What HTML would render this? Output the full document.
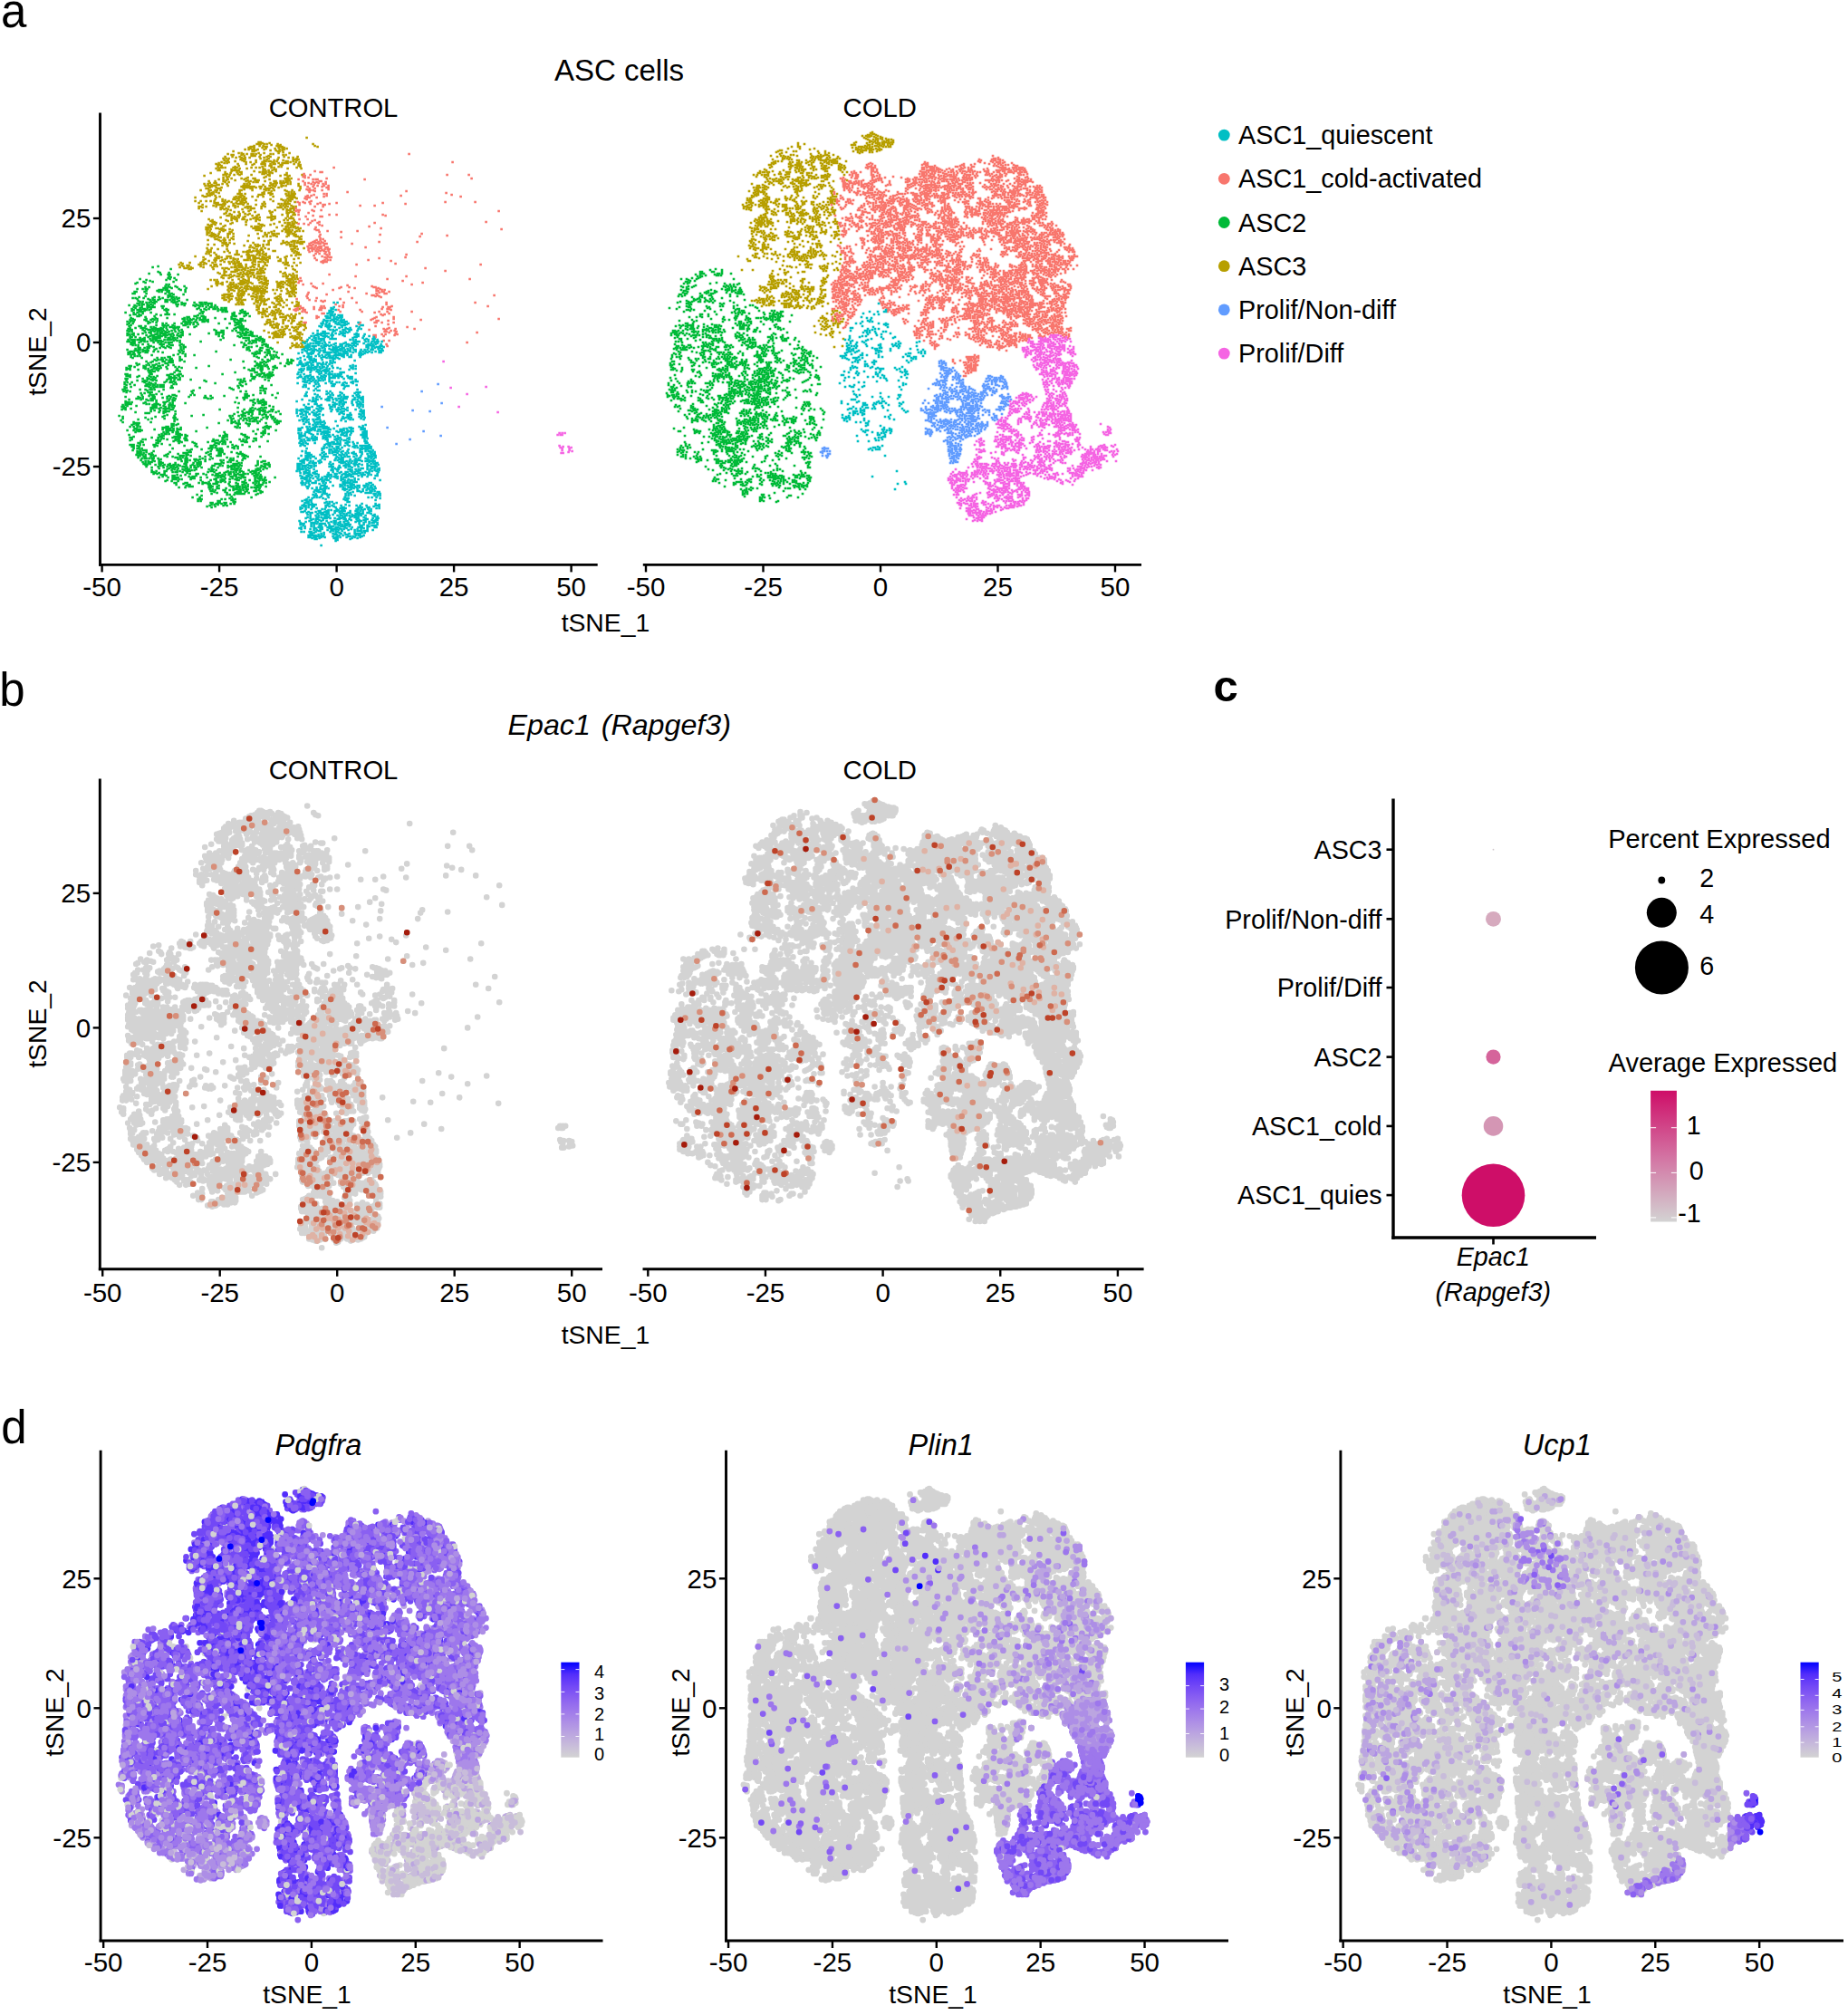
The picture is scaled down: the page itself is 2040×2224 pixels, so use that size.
<!DOCTYPE html>
<html lang="en"><head><meta charset="utf-8"><title>ASC cells tSNE figure</title>
<style>html,body{margin:0;padding:0;background:#fff}svg{display:block}text{font-family:"Liberation Sans",sans-serif;fill:#000}</style></head><body>
<svg width="2040" height="2224" viewBox="0 0 2040 2224">
<rect width="2040" height="2224" fill="#fff"/>
<defs>
<path id="C0" vector-effect="non-scaling-stroke" d="M-3 -44h0m4 0h0m5 14h0m-4 0h0m2 0h0m-7-9h0m-3 1h0m2 1h0m3 1h0m-5 0h0m-2 1h0m4 1h0m-2 0h0m-2 1h0m-2 1h0m5 0h0m3 1h0m-5 0h0m2 1h0m2 1h0m-4 0h0m-5 0h0m2 0h0m-5 6h0m0 2h0m-2 0h0m1 2h0m-3 1h0m2 1h0m8 2h0m7-2h0m-6 0h0m-2 0h0m-2-1h0m6 0h0m-4-1h0m2 0h0m-4-1h0m4-1h0m7 0h0m-10-1h0m10-1h0m-2 0h0m-4-1h0m-3 0h0m-2 0h0m-2-1h0m11 0h0m-2 0h0m4-1h0m-6-1h0m4 0h0m-8 0h0m2 0h0m9-1h0m4 0h0m2 0h0m-4 1h0m3 1h0m3 1h0m-7 0h0m5 1h0m-2 0h0m5 1h0m2 0h0m-4 1h0m-2 0h0m-3 0h0m7 1h0m4 0h0m-10 1h0m8 0h0m-10 0h0m6 1h0m-2 0h0m4 0h0m-3 2h0m-3 1h0m7 0h0m2 1h0m15 0h0m-3 0h0m-9-1h0m10-1h0m-3-1h0m5-1h0m-3-3h0m5 3h0m13 15h0m3 1h0m5 2h0m-6 0h0m2 0h0m-11 0h0m4 0h0m-7 0h0m9-1h0m-10-1h0m4 0h0m5-1h0m-7 0h0m-4-1h0m12-1h0m-5-1h0m-6 0h0m1-2h0m-17-5h0m2 0h0m7 1h0m-9 1h0m8 2h0m-2 1h0m4 0h0m-2 1h0m2 1h0m-2 1h0m-2 0h0m-2 1h0m-3 2h0m3 0h0m3 0h0m2 2h0m2 0h0m-4 0h0m-2 0h0m-10-6h0m-2-1h0m-4-1h0m4-1h0m2 0h0m-4 0h0m7-1h0m-8-1h0m6 0h0m-3 0h0m-7-2h0m7 0h0m2 0h0m-16 0h0m3 0h0m2 1h0m-11 1h0m9 0h0m-1 2h0m4 0h0m-8 0h0m-4 0h0m2 0h0m5 2h0m2 0h0m-9 0h0m2 1h0m-2 1h0m8 0h0m-4 0h0m2 2h0m2 0h0m2 0h0m2 0h0m-13 0h0m0 2h0m-7 1h0m2 0h0m-4 0h0m6-1h0m-8 0h0m-2-1h0m4 0h0m3-1h0m4 0h0m-2 0h0m-5-1h0m-2 0h0m5-1h0m-5-1h0m10 0h0m-13 0h0m11-1h0m-4 0h0m-2 0h0m4-1h0m-7-1h0m9 0h0m-4 0h0m6 0h0m0-2h0m-6-1h0m-9 8h0m-2 2h0m-1 2h0m-9 13h0m12 0h0m-2 0h0m-6-1h0m5-1h0m-2-1h0m-3-1h0m8 0h0m-2 0h0m-4-1h0m4-1h0m-2 0h0m4-1h0m-2-1h0m-2 0h0m4-1h0m-2-1h0m3-1h0m-6 0h0m-2-1h0m11 1h0m7 0h0m3 0h0m-7 0h0m2 0h0m1 2h0m-3 1h0m6 0h0m-8 0h0m-2 0h0m2 2h0m9 0h0m-12 1h0m9 0h0m-6 1h0m2 0h0m5 1h0m3 0h0m-12 0h0m6 0h0m-4 1h0m6 1h0m-9 0h0m2 1h0m6 1h0m-8 0h0m18 0h0m2 0h0m7-1h0m-9-1h0m7 0h0m-9 0h0m-2 0h0m8 0h0m-2 0h0m7-1h0m-12-1h0m9 0h0m2-1h0m-4 0h0m2-1h0m-4 0h0m-5 0h0m11-1h0m-2-1h0m-10 0h0m2-1h0m4 0h0m7 0h0m-13-1h0m4 0h0m4 0h0m-6-1h0m9 0h0m2-1h0m-7-1h0m-5 0h0m23 0h0m-2 1h0m5 1h0m-2 0h0m-5 0h0m-2 0h0m0 2h0m9 0h0m-3 0h0m-4 0h0m-4 1h0m4 1h0m2 0h0m-8 0h0m12 1h0m-8 0h0m-2 1h0m4 0h0m3 0h0m-9 0h0m4 1h0m9 0h0m-6 1h0m-6 0h0m10 0h0m-2 0h0m3 2h0m-4 0h0m-6 0h0m8 0h0m-6 0h0m2 1h0m21-1h0m-2 0h0m-7-1h0m8-1h0m-11 0h0m6 0h0m6-2h0m-8 0h0m2 0h0m-6 0h0m3-2h0m-3 0h0m2-2h0m4 0h0m-2-1h0m-4 0h0m8-1h0m-6-1h0m4 0h0m-2 0h0m19 0h0m-8 0h0m10 1h0m-5 0h0m2 1h0m-4 0h0m8 1h0m-2 0h0m-4 0h0m-2 1h0m6 1h0m-4 0h0m-4 2h0m3 0h0m4 0h0m2 0h0m-11 2h0m7 0h0m-4 0h0m2 1h0m5 0h0m-8 1h0m-2 1h0m18-2h0m2 0h0m-6-1h0m8-1h0m-2 0h0m-2 0h0m-1-2h0m4 0h0m-2-1h0m-6 0h0m10-1h0m-6 0h0m-2 0h0m6-1h0m-2 0h0m-5-2h0m6 0h0m-4-1h0m-3-1h0m-17 14h0m2 0h0m-11 0h0m10 2h0m-12 0h0m2 0h0m4 4h0m-2 5h0m3 1h0m-6 0h0m3 1h0m-15-9h0m-2-1h0m7-1h0m-2-1h0m-2-1h0m-4 0h0m8 0h0m4 0h0m-10 0h0m-14 0h0m10 0h0m-2 1h0m-5 0h0m2 0h0m-6 1h0m12 0h0m-10 1h0m3 0h0m2 0h0m2 0h0m2 1h0m-2 1h0m-3 1h0m3 1h0m2 1h0m-9 0h0m4 0h0m2 1h0m-7 1h0m4 0h0m3 2h0m-5 0h0m-4 1h0m-8 0h0m-6 0h0m4 0h0m5 0h0m3-1h0m-10-1h0m5 0h0m-7 0h0m13-1h0m-2 0h0m-4-1h0m2 0h0m-9 0h0m13-1h0m-11 0h0m3-1h0m-2-1h0m-2 0h0m11-1h0m-7 0h0m-2-1h0m-3 0h0m11-1h0m2-1h0m-13 0h0m5-1h0m4 0h0m3-1h0m-15 0h0m-5 1h0m6 1h0m-2 0h0m-8 1h0m10 1h0m-5 1h0m-5 1h0m11 0h0m-1 2h0m-9 0h0m-2 0h0m9 0h0m-2 1h0m-3 1h0m-4 0h0m2 0h0m7 0h0m-2 1h0m3 1h0m-5 0h0m-2 0h0m-5-1h0m0-7h0m0 17h0m0 4h0m13 1h0m-5 0h0m-2 0h0m5-1h0m-7-1h0m4 0h0m-6 0h0m8-1h0m2 0h0m-9-1h0m11 0h0m-7-1h0m7-2h0m-10 0h0m-3 0h0m3-2h0m2 0h0m-4-1h0m9 0h0m2 0h0m-6-1h0m-3 0h0m9-1h0m-2 0h0m6 0h0m10 0h0m-2 1h0m-10 0h0m5 0h0m-2 1h0m4 0h0m6 1h0m-13 0h0m9 0h0m-3 1h0m5 0h0m-3 1h0m3 1h0m-2 1h0m2 2h0m-4 1h0m6 0h0m-11 0h0m-2 0h0m10 1h0m-7 1h0m9 0h0m-12 0h0m8 0h0m12 1h0m-5 0h0m9-2h0m-9 0h0m5 0h0m6 0h0m-4 0h0m-6-2h0m4 0h0m4 0h0m2 0h0m-12-1h0m7-1h0m-2 0h0m4 0h0m3 0h0m-10-1h0m4-1h0m3-1h0m-6 0h0m-2 0h0m4-1h0m-2-1h0m-2 0h0m5-1h0m-3-1h0m7 0h0m5 0h0m3 1h0m2 4h0m-2 0h0m4 0h0m-7 2h0m2 0h0m2 0h0m7 2h0m-12 0h0m4 0h0m-2 0h0m4 1h0m-4 1h0m11 0h0m-5 1h0m13 1h0m-6-1h0m2 0h0m0-2h0m-2 0h0m6-4h0m-7-4h0m7-1h0m-3 0h0m-2-1h0m7 15h0m-2 0h0m-3 0h0m-2 1h0m2 1h0m4 2h0m1 5h0m-1 3h0m4 0h0m-2 0h0m-20 0h0m4-4h0m1-2h0m2-1h0m2 0h0m-5-1h0m-2 0h0m5-2h0m-4 0h0m-4-1h0m-3 0h0m9 0h0m-14-1h0m-3 0h0m-4 2h0m6 0h0m2 1h0m2 0h0m-3 2h0m2 0h0m-8 6h0m4 0h0m-18-1h0m4 0h0m2 0h0m-4-2h0m2-2h0m-4-1h0m6 0h0m-1-2h0m-3 0h0m-1-2h0m3 0h0m-7-1h0m8-1h0m5 0h0m-3 0h0m-8 0h0m3 0h0m-9 0h0m2 0h0m-5 0h0m-2 1h0m2 1h0m2 0h0m3 1h0m-4 2h0m-2 0h0m-1 2h0m3 0h0m3 2h0m-2 4h0m-10-10h0m-1 20h0m8 4h0m5-1h0m1-4h0m-8-1h0m5-4h0m-2 0h0m1-2h0m10 0h0m3 1h0m-1 2h0m3 0h0m-7 1h0m3 1h0m6 0h0m-9 1h0m5 0h0m-2 1h0m-2 1h0m-2 0h0m4 1h0m-1 2h0m2 0h0m5 1h0m13 0h0m2 0h0m-6 0h0m6-2h0m-2-1h0m-4-2h0m-2 0h0m-2-1h0m8 0h0m3-1h0m-7 0h0m-2 0h0m5-1h0m-2-1h0m-2 0h0m5-2h0m-3 0h0m-4-1h0m2-1h0m4 0h0m11 0h0m2 2h0m-4 0h0m-2 1h0m3 1h0m3 0h0m2 0h0m2 0h0m-1 2h0m-7 0h0m-2 0h0m5 0h0m2 0h0m-4 2h0m-5 0h0m7 0h0m-4 1h0m2 1h0m3 0h0m2 0h0m-7 1h0m-3 1h0m6 0h0m2 0h0m-5 1h0m15 0h0m9-1h0m-2 0h0m-2 0h0m-6-1h0m5-1h0m4 0h0m-9-1h0m7 0h0m-1-2h0m-5 0h0m2 0h0m7 0h0m0-2h0m-2 0h0m-5 0h0m3-1h0m2-1h0m-7 0h0m4-1h0m2-1h0m-4-1h0m9 4h0m0 2h0m0 2h0m0 2h0m0 3h0m2 14h0m-3-1h0m2-1h0m0-2h0m-2-1h0m2-1h0m-2-1h0m2-1h0m-1-4h0m-3-1h0m-3 0h0m2 2h0m-4 2h0m6 0h0m-1 2h0m-11 2h0m10 1h0m2 1h0m-13 0h0m2 0h0m9 2h0m-11 0h0m2 1h0m-6 0h0m-3-1h0m5 0h0m0-2h0m-9-1h0m5 0h0m-2-1h0m-2-1h0m4-1h0m-2 0h0m-5 0h0m11-1h0m-10-1h0m-2 0h0m10 0h0m-6 0h0m2-1h0m2 0h0m-6-1h0m10 0h0m-7-1h0m2-1h0m-9 1h0m-3 0h0m-2 0h0m0 2h0m2 1h0m-1 2h0m-15 7h0m2-1h0m-4-1h0m8-1h0m-6 0h0m-4 0h0m6-1h0m-4 0h0m-2-1h0m3-1h0m-5 0h0m7-1h0m2 0h0m-7-1h0m8-1h0m-3 0h0m-2-1h0m7 0h0m-4-1h0m2 0h0m-10-1h0m8-1h0m-2 0h0m-13 1h0m4 1h0m-2 0h0m-2 1h0m4 1h0m-9 0h0m2 0h0m5 0h0m-9 1h0m2 1h0m3 0h0m2 0h0m2 1h0m-6 1h0m4 0h0m4 1h0m-10 0h0m6 1h0m-3 0h0m4 2h0m-6 0h0m3 1h0m-7-2h0m-1-3h0m0-2h0m0-2h0m12 23h0m-8 0h0m-2 0h0m12-1h0m-2-1h0m-8 0h0m-2 0h0m4-1h0m8-1h0m-3 0h0m-3-3h0m6 0h0m-4-2h0m3 0h0m-6-1h0m-4-1h0m8 0h0m2-1h0m-7 0h0m2 0h0m2-1h0m15 0h0m-7 1h0m3 0h0m2 0h0m3 1h0m-7 1h0m3 1h0m6 0h0m-4 0h0m2 0h0m-6 1h0m6 1h0m-3 0h0m-5 1h0m3 0h0m7 0h0m-6 2h0m3 0h0m-5 0h0m7 0h0m2 0h0m-11 1h0m-2 1h0m13 0h0m-9 0h0m6 1h0m-8 0h0m6 0h0m-8 1h0m4 0h0m17-1h0m-2 0h0m6-1h0m-10 0h0m2 0h0m2-1h0m-4-1h0m2 0h0m-3-2h0m1-2h0m-1-2h0m13 0h0m14-3h0m-7 0h0m2 0h0m-3 2h0m5 1h0m-9 5h0m10 3h0m-3 0h0m-4 1h0m2 0h0m2 1h0m4 0h0m15-1h0m-11 0h0m2-1h0m9-1h0m-13 0h0m2 0h0m9-1h0m-7-8h0m-3 0h0m12-1h0m3 1h0m2 6h0m-3 1h0m0 2h0m2 1h0m-2 1h0m2 1h0m3 14h0m-2 0h0m-1-2h0m2 0h0m-2-2h0m3-1h0m-5-1h0m2 0h0m2-1h0m-2-1h0m-2 0h0m4-1h0m-2-1h0m-2 0h0m4-1h0m-4-1h0m2 0h0m2-1h0m-19 0h0m2 0h0m2 0h0m-2 2h0m-1 2h0m12 0h0m-13 3h0m0 2h0m4 3h0m-4 0h0m9 1h0m-19 0h0m8 0h0m-2 0h0m-9-1h0m3-1h0m8 0h0m-12-1h0m10 0h0m-2 0h0m-3-1h0m-3 0h0m-2-1h0m12 0h0m-10-1h0m2 0h0m-3-2h0m8 0h0m2 0h0m-6-1h0m2 0h0m4-1h0m-5-1h0m2 0h0m2-1h0m-8 0h0m10 0h0m-6-1h0m-2 0h0m-4 0h0m-12 0h0m2 0h0m-4 0h0m6 1h0m-4 1h0m2 0h0m-4 0h0m10 2h0m-6 0h0m-4 0h0m6 0h0m-4 1h0m5 1h0m5 0h0m-7 0h0m-2 1h0m-2 0h0m3 2h0m8 0h0m-10 0h0m2 2h0m5 1h0m2 0h0m-6 1h0m2 0h0m-17 0h0m-2-3h0m2 0h0m2-1h0m7-1h0m-9 0h0m-2 0h0m-2 0h0m6-1h0m-2-1h0m-3 0h0m12 0h0m-11-2h0m9-1h0m-11 0h0m7 0h0m5-2h0m-5-1h0m3 0h0m-12 0h0m-2 1h0m-2 0h0m-8 1h0m12 0h0m-9 0h0m4 1h0m-4 1h0m-2 0h0m6 1h0m-2 0h0m-4 1h0m2 0h0m6 1h0m2 1h0m-10 0h0m5 1h0m-3 0h0m7 1h0m2 0h0m-10 1h0m5 0h0m-3 0h0m4 2h0m-3 0h0m-4 0h0m2 14h0m5 0h0m2-1h0m2 0h0m0-2h0m-2 0h0m-2 0h0m-4-2h0m4 0h0m1-3h0m-2-3h0m-5 0h0m3-1h0m5-1h0m-7 0h0m23 5h0m0 2h0m0 3h0m-2 2h0m-10 0h0m27 0h0m-2 0h0m-11 0h0m2-1h0m4-1h0m3 0h0m2-1h0m2 0h0m-13 0h0m9-1h0m-3 0h0m6-1h0m-6-1h0m2 0h0m3-1h0m-11 0h0m3-1h0m6-1h0m-3 0h0m-6 0h0m1-2h0m4 0h0m2 0h0m5-1h0m-9 0h0m7 0h0m6 0h0m-2 0h0m4 1h0m8 0h0m-3 1h0m-9 1h0m2 0h0m4 1h0m-4 1h0m-2 0h0m4 1h0m9 0h0m-13 1h0m2 1h0m10 0h0m-5 0h0m-2 1h0m5 1h0m-9 0h0m12 0h0m-7 1h0m-3 1h0m8 0h0m-3 0h0m-3 1h0m17 0h0m5 0h0m-6-2h0m-2 0h0m-2-1h0m2-1h0m7 0h0m0-2h0m0-2h0m-3-1h0m-3 0h0m-2-1h0m-4-1h0m12 0h0m-6 0h0m2 0h0m-3-2h0m17 1h0m-4 1h0m-2 0h0m4 0h0m-6 0h0m8 1h0m2 0h0m-6 1h0m2 0h0m-6 0h0m2 1h0m6 0h0m2 0h0m-10 1h0m6 0h0m-2 0h0m8 1h0m-3 1h0m-2 0h0m-3 0h0m7 1h0m-11 0h0m9 1h0m-3 1h0m6 0h0m-12 0h0m10 1h0m3 1h0m-6 0h0m8 0h0m-1-2h0m0-2h0m1 6h0m-1 4h0m1 2h0m2 0h0m-2 2h0m3 0h0m-4 2h0m2 0h0m3 2h0m-5 0h0m-3 0h0m-10 0h0m5-1h0m6-1h0m-2 0h0m-4-1h0m2 0h0m-8-1h0m10-1h0m3 0h0m-7 0h0m6-2h0m-4 0h0m-4-1h0m-4 0h0m10 0h0m-4 0h0m6-1h0m-4 0h0m-2-1h0m7-1h0m-3 0h0m-6 0h0m3-1h0m4-1h0m-2 0h0m-23 0h0m5 0h0m7 1h0m-2 1h0m-3 0h0m-6 1h0m9 1h0m-2 0h0m4 0h0m-6 0h0m-3 1h0m-3 0h0m6 1h0m2 0h0m-6 1h0m9 1h0m-4 0h0m-2 0h0m-5 1h0m9 0h0m-3 1h0m-5 1h0m9 0h0m-7 1h0m10 1h0m-17-1h0m-8 0h0m2 0h0m9-1h0m-10-1h0m7 0h0m-2 0h0m4-1h0m-2-1h0m-3-1h0m-2 0h0m8 0h0m-10-1h0m6 0h0m-2-1h0m4 0h0m-6 0h0m-4-1h0m2-1h0m2 0h0m2 0h0m-2-2h0m2 0h0m-5 0h0m7-1h0m3 0h0m-12 0h0m-10 0h0m-4 0h0m2 0h0m11 2h0m-12 1h0m11 1h0m-5 2h0m-1 2h0m4 0h0m-2 1h0m-2 2h0m2 0h0m2 0h0m-1 2h0m3 0h0m-26-1h0m3-1h0m-3-1h0m5 0h0m-2-1h0m6-2h0m-8 0h0m2 0h0m2 0h0m6-1h0m-9-1h0m6 0h0m2-1h0m2-2h0m-7 0h0m7-2h0m-11 0h0m2 0h0m-7 0h0m2 0h0m-4 1h0m-8 1h0m13 0h0m-3 0h0m-4 1h0m2 0h0m2 1h0m-6 0h0m-2 1h0m4 0h0m7 0h0m-9 1h0m8 1h0m-6 0h0m-5 1h0m2 0h0m7 1h0m-9 1h0m11 0h0m-8 0h0m4 0h0m-2 0h0m4 2h0m-6 0h0m-3 0h0m6 0h0m5 1h0m-13-1h0m0-2h0m0-2h0m0 6h0m-1 2h0m15 11h0m-9 0h0m5 0h0m2 0h0m1-2h0m-3 0h0m-2 0h0m-4-1h0m2 0h0m2-1h0m2 0h0m4 0h0m-2-1h0m-7 0h0m-2-1h0m7 0h0m2-1h0m2 0h0m-7-1h0m6-1h0m-4 0h0m2 0h0m-8 0h0m4-1h0m2-1h0m4 0h0m-11 0h0m9-1h0m-5-1h0m-4 0h0m7 0h0m-5 0h0m14 0h0m3 2h0m-2 1h0m-2 1h0m4 1h0m-2 0h0m4 1h0m-7 1h0m4 1h0m3 0h0m4 1h0m-10 1h0m5 0h0m5 1h0m-2 0h0m-2 1h0m4 1h0m-7 0h0m9 0h0m3-1h0m2 0h0m-4-1h0m2-1h0m4 0h0m6-1h0m-8-1h0m-2 0h0m-2 0h0m10 0h0m-3 0h0m5-1h0m-5-1h0m-4 0h0m2 0h0m6-1h0m-7-1h0m5-1h0m0-2h0m-2 0h0m19-1h0m-11 0h0m-2 0h0m1 2h0m9 1h0m2 0h0m-7 0h0m-2 1h0m-3 1h0m8 0h0m2 0h0m-4 1h0m6 0h0m-2 1h0m-5 1h0m7 0h0m-11 0h0m9 1h0m-2 0h0m-3 1h0m-4 0h0m6 1h0m6 0h0m-8 1h0m4 0h0m3 1h0m5-1h0m-2 0h0m5 0h0m4-1h0m-4-1h0m-2-2h0m-2 0h0m8-1h0m-10 0h0m2-1h0m11 0h0m-7-1h0m2 0h0m-8 0h0m4 0h0m8-1h0m-2 0h0m-4-1h0m-3 0h0m7-1h0m-2 0h0m-7 0h0m2-1h0m9 0h0m-5-1h0m3 0h0m-9 0h0m22 0h0m-3 0h0m2 2h0m3 0h0m-7 1h0m-3 1h0m7 0h0m-2 0h0m4 2h0m-7 0h0m-2 0h0m6 0h0m-7 2h0m6 0h0m14 4h0m-6-2h0m1-3h0m2 0h0m0-2h0m1-2h0m-2-1h0m-2-1h0m5 0h0m-2-1h0m-3 19h0m1 2h0m-1 3h0m3 1h0m2 0h0m-4 2h0m5 0h0m-2 0h0m-5 0h0m-3-1h0m-2 0h0m-2 0h0m-2 0h0m-3-2h0m10 0h0m-2 0h0m-4-1h0m6-1h0m-10 0h0m12 0h0m-5 0h0m-2-1h0m-3-1h0m8 0h0m-2 0h0m-3-1h0m-4-1h0m8 0h0m-6 0h0m8-1h0m-5 0h0m-2-1h0m3-1h0m2 0h0m-18-1h0m-5 0h0m3 0h0m4 0h0m-7 2h0m2 0h0m2 1h0m-2 1h0m6 0h0m2 0h0m-10 0h0m5 1h0m2 1h0m3 0h0m-8 0h0m-2 0h0m4 1h0m4 1h0m-7 0h0m-2 1h0m9 1h0m2 0h0m-7 1h0m9 0h0m-12 1h0m-2 1h0m-3 0h0m2-2h0m-3-2h0m2-1h0m-4 0h0m2-1h0m4-1h0m-6 0h0m-3-1h0m8-1h0m-6 0h0m3 0h0m-5-1h0m5-1h0m-2 0h0m4-1h0m2 0h0m-6-1h0m2 0h0m-16 0h0m-5 1h0m-1 2h0m9 1h0m-9 1h0m2 0h0m2 2h0m-5 0h0m2 0h0m-1 2h0m0 2h0m2 2h0m-2 0h0m-10 0h0m8-1h0m-5-1h0m2 0h0m-7 0h0m10-1h0m-7 0h0m2-1h0m-4 0h0m6-1h0m-4 0h0m6 0h0m-11-1h0m5-1h0m4 0h0m3-2h0m-2 0h0m-2-2h0m-4-1h0m8 0h0m-10 0h0m-2 0h0m-4 0h0m-8 0h0m2 0h0m3 0h0m-4 2h0m3 0h0m5 0h0m-1 2h0m-2 0h0m1 2h0m-4 20h0m5-1h0m-7 0h0m4 0h0m5-1h0m-7 0h0m5-1h0m-4-1h0m2 0h0m2-1h0m-7-1h0m5 0h0m-2-1h0m5 0h0m-3-1h0m2-2h0m5-3h0m10 0h0m-8 1h0m2 0h0m5 1h0m-5 1h0m-3 0h0m6 0h0m-8 1h0m12 0h0m-13 2h0m0 2h0m1 2h0m2 1h0m2 0h0m-4 1h0m2 1h0m22 0h0m-5 0h0m3-1h0m-5 0h0m-2 0h0m2-2h0m7 0h0m-5 0h0m-5-1h0m8-1h0m-6 0h0m3 0h0m-4-3h0m3-2h0m-1-2h0m2-1h0m18 1h0m3 0h0m-4 2h0m2 1h0m2 0h0m-5 1h0m4 1h0m-2 0h0m2 2h0m-12 1h0m10 2h0m-5 1h0m17 0h0m-8 0h0m12 0h0m-12-4h0m6-7h0m-4-1h0m19 3h0m4 0h0m-11 7h0m5 2h0m8 1h0m6 0h0m-2-1h0m-2 0h0m4-1h0m-4-1h0m0-4h0m5-2h0m-4-1h0m-2-2h0m3 0h0m3 0h0m-4 14h0m3 0h0m-5 7h0m0 2h0m3 0h0m1 2h0m-2 0h0m-10 1h0m6-1h0m-8 0h0m-2-1h0m2-2h0m8 0h0m-11-2h0m9 0h0m-2-1h0m-2 0h0m-5-1h0m9-1h0m-2 0h0m-7-1h0m2-1h0m4 0h0m3 0h0m-4-2h0m2 0h0m-8 0h0m-2 0h0m-2 0h0m-2 2h0m2 0h0m3 0h0m-4 2h0m-2 0h0m-6 0h0m11 0h0m-3 2h0m-8 0h0m10 0h0m-4 1h0m6 0h0m-10 1h0m8 0h0m-2 0h0m4 1h0m-6 0h0m-2 0h0m-5 0h0m3 1h0m7 0h0m-4 1h0m2 0h0m-7 0h0m9 1h0m-2 1h0m-8 0h0m-11 0h0m5 0h0m2 0h0m-9 0h0m4-1h0m-2-1h0m4 0h0m2 0h0m2-2h0m-5 0h0m-5 0h0m3 0h0m5 0h0m-1-2h0m-4 0h0m7 0h0m2-1h0m-7 0h0m-3-1h0m4-1h0m-2 0h0m4 0h0m-9 0h0m2-1h0m4-1h0m2 0h0m-8 0h0m10-1h0m-6 0h0m2-1h0m2 0h0m-20 0h0m11 0h0m-12 2h0m7 1h0m-3 0h0m7 1h0m-9 0h0m-2 1h0m4 0h0m7 1h0m-9 0h0m2 1h0m5 1h0m-9 0h0m2 0h0m3 1h0m-3 1h0m-2 0h0m4 1h0m2 1h0m5 0h0m-9 0h0m-2 0h0m-13 1h0m3 0h0m2 0h0m6-1h0m-2-1h0m-5 0h0m2 0h0m0-2h0m-3 0h0m6-1h0m2 0h0m-6-1h0m-6-1h0m10 0h0m-2 0h0m4 0h0m-8-1h0m3-1h0m2 0h0m2-2h0m-12 0h0m6-1h0m-5-1h0m-4 0h0m-9 0h0m6 0h0m-4 1h0m4 1h0m-6 0h0m5 2h0m-4 1h0m8 0h0m-6 0h0m8 1h0m-4 0h0m1 2h0m3 0h0m0 2h0m-3 1h0m-2 1h0m5 0h0m-10 15h0m3 0h0m6 0h0m1-3h0m-10 0h0m4-1h0m-6 0h0m2-1h0m4-1h0m-2-1h0m-3-1h0m4-1h0m-2 0h0m-2-1h0m6-1h0m-7-1h0m11 0h0m15-1h0m-4 0h0m-9 0h0m11 1h0m-6 0h0m2 1h0m-7 1h0m2 0h0m2 0h0m2 1h0m5 0h0m2 0h0m-4 0h0m-6 1h0m-3 0h0m11 1h0m-2 0h0m-9 1h0m3 0h0m5 1h0m2 0h0m2 0h0m-9 1h0m2 0h0m5 1h0m2 0h0m-6 1h0m-3 0h0m5 1h0m2 0h0m-5 1h0m-5 0h0m21 0h0m6-1h0m-3 0h0m-2-1h0m-4 0h0m6-1h0m2 0h0m-6-1h0m2 0h0m-4-1h0m9 0h0m-3-1h0m-2 0h0m-2 0h0m-4-1h0m10-1h0m-6 0h0m-5-1h0m4-1h0m6 0h0m2 0h0m-5-1h0m5-1h0m-10 0h0m8 0h0m13 0h0m2 0h0m-4 1h0m-4 0h0m-2 1h0m11 0h0m-4 1h0m2 0h0m-7 0h0m-3 1h0m5 0h0m7 0h0m-4 1h0m2 0h0m-8 0h0m2 1h0m2 0h0m2 1h0m-8 0h0m2 1h0m8 0h0m-3 1h0m-8 0h0m5 0h0m8 1h0m-11 0h0m4 1h0m-5 1h0m19 0h0m3-1h0m4 0h0m-2 0h0m-5-1h0m7-1h0m-4 0h0m-7 0h0m1-2h0m7 0h0m2 0h0m-12-1h0m12-1h0m-11-1h0m10-1h0m-4-2h0m4 0h0m2-1h0m-4 0h0m-7-1h0m9 0h0m5 0h0m2 0h0m7 0h0m2 1h0m-9 1h0m4 0h0m5 1h0m-2 0h0m-9 0h0m6 1h0m-6 1h0m-2 1h0m13 0h0m-2 0h0m-5 0h0m2 1h0m-2 1h0m-6 0h0m2 1h0m4 1h0m6 1h0m-6 1h0m-2 0h0m-2 0h0m14-4h0m-2 0h0m1-2h0m2-1h0m0-2h0m-2-1h0m0-2h0m2 0h0m-17 18h0m2-1h0m1-3h0m-3 0h0m-2 1h0m-12 0h0m10 0h0m-2 0h0m-2 0h0m6 2h0m-2 0h0m-3 0h0m-3 1h0m-3 0h0m11 1h0m-6 0h0m3 1h0m-6 0h0m-2 1h0m-14 1h0m0-2h0m3-1h0m7 0h0m-10-1h0m12 0h0m-6-1h0m-4 0h0m-3-1h0m12 0h0m-2 0h0m-5-1h0m4-1h0m-6 0h0m-4 0h0m-13 0h0m10 1h0m2 1h0m-12 0h0m10 2h0m3 1h0m-12 0h0m10 1h0m2 1h0m0 2h0m-23-2h0m2 0h0m-5-1h0m8 0h0m2-1h0m-8 0h0m2 0h0m2-1h0m2 0h0m4 0h0m-8-1h0m-4 0h0m2 0h0m8 0h0m-3-1h0m-7-1h0m10 0h0m-8-1h0m-4 1h0m0 2h0m-2 0h0m2 2h0m-2 0h0m14 9h0"/>
<path id="C1" vector-effect="non-scaling-stroke" d="M128 -199h0m-48-9h0m-117 25h0m2-1h0m6-1h0m-7-1h0m12-3h0m6 1h0m2 0h0m13-5h0m125 8h0m24 0h0m3 4h0m-118 1h0m-42-1h0m-1 4h0m0 2h0m3 2h0m-5 0h0m5 2h0m-2 0h0m2 2h0m-15-1h0m8-2h0m-10 0h0m5-1h0m-4-1h0m-3-1h0m13 0h0m-5-1h0m-4 0h0m2-1h0m-4 0h0m9-1h0m-2 0h0m-2-2h0m-5 0h0m3 0h0m-12-2h0m4 0h0m-11 2h0m5 2h0m2 2h0m4 0h0m-4 2h0m3 2h0m2 2h0m-3 1h0m-10 14h0m6 0h0m7 0h0m-3-3h0m-2-1h0m5-1h0m-2 0h0m-2-1h0m2-1h0m2-4h0m-1-2h0m2 0h0m13 0h0m-10 0h0m2 1h0m-1 4h0m-3 1h0m6 2h0m-6 4h0m14-5h0m3-1h0m-3-2h0m3 0h0m23-2h0m59 4h0m6-5h0m44 2h0m-1 10h0m17-6h0m-10-2h0m26 8h0m26 10h0m-103-8h0m-25-1h0m-9 3h0m9 10h0m-25-10h0m-26 10h0m0-13h0m-8 1h0m-5 1h0m5 11h0m-17-4h0m8-1h0m-10 0h0m3-4h0m9 0h0m0-2h0m-6-1h0m3-1h0m-17 0h0m-6 0h0m12 1h0m-12 1h0m0 6h0m-1 2h0m11 1h0m-11 2h0m-3-4h0m2-1h0m-2-2h0m14 18h0m-5-1h0m-6 0h0m13-1h0m-3-4h0m-9 0h0m7-3h0m8-1h0m8 1h0m2 0h0m-8 4h0m-3 1h0m8 1h0m-2 1h0m2 2h0m3 1h0m-7 2h0m59-1h0m6-4h0m12-8h0m111 7h0m17 8h0m-60 7h0m-30 1h0m2-3h0m-45-6h0m-1 7h0m-25-4h0m-18 7h0m0-6h0m-15-1h0m-12 10h0m4 0h0m3-1h0m-3-1h0m-1-2h0m1-2h0m-1-3h0m-3-2h0m2 0h0m-4-1h0m-6 25h0m-1-2h0m2-2h0m-2 0h0m-1-2h0m2-1h0m0-2h0m6-3h0m7 1h0m-9 0h0m6 0h0m5 1h0m-13 0h0m6 0h0m-2 0h0m4 1h0m2 0h0m-8 1h0m-2 1h0m5 0h0m6 1h0m-2 0h0m-8 1h0m3 0h0m3 0h0m2 1h0m2 0h0m-10 1h0m2 0h0m3 0h0m6 1h0m-4 0h0m2 1h0m-9 0h0m4 0h0m2 1h0m13 1h0m-4-1h0m3-1h0m-5 0h0m1-2h0m5 0h0m-2 0h0m-2-2h0m2 0h0m-4-2h0m1-2h0m2 0h0m-2-3h0m30 3h0m15 4h0m15-6h0m42 0h0m70 25h0m-82-11h0m-1 3h0m-11 7h0m-5-3h0m-13-3h0m-12 2h0m-13 5h0m-35-12h0m2 1h0m3 0h0m-2 2h0m-3 1h0m5 0h0m2 0h0m-5 1h0m4 2h0m-3 0h0m-3 0h0m2 2h0m-2 0h0m-2 1h0m-2-1h0m2-1h0m-7-1h0m-2-2h0m8-2h0m-9-1h0m2-2h0m4 0h0m-21 27h0m32-4h0m29 2h0m56 0h0m21-9h0m22 3h0m27 9h0m-52 4h0m-22-2h0m10 4h0m-27-6h0m-13 9h0m3 1h0m-2 1h0m4 0h0m2 1h0m3 0h0m-9 1h0m2 0h0m-5-4h0m-2-1h0m-25 1h0m6 1h0m-17 0h0m2-1h0m7-2h0m-16 5h0m-18-2h0m-2-1h0m-2-1h0m11-3h0m-13 0h0m-13-3h0m2 0h0m-3 2h0m5 2h0m-7 16h0m14 1h0m-2-2h0m-1-2h0m1-2h0m1-2h0m9 6h0m-1 3h0m6 0h0m2 1h0m2-1h0m2-7h0m24-3h0m-9 8h0m4 4h0m14 0h0m-5-5h0m16-5h0m6 2h0m2 0h0m14 8h0m-6-6h0m-6-1h0m4 0h0m-2-1h0m8-2h0m-9 0h0m11 0h0m-8-1h0m3-1h0m2 0h0m6 0h0m95 12h0m21-8h0m-7 12h0m-84 6h0m-25 2h0m-2-2h0m4-2h0m-4-1h0m2 0h0m1-2h0m-2 0h0m4-1h0m-6-2h0m-4 3h0m-1 2h0m-3 3h0m-5 1h0m7 2h0m4 0h0m-2 1h0m-23-4h0m-2-2h0m-22 2h0m-2-2h0m5-3h0m-4-1h0m4-1h0m-8-1h0m-13 2h0m1 2h0m-1 6h0m-8 3h0m6-3h0m-1-4h0m-2 0h0m-6-1h0m7-1h0m2 0h0m-9-1h0m8-1h0m-23 0h0m1 2h0m2 0h0m0 2h0m2 0h0m0 2h0m-3 0h0m5 1h0m-12-2h0m-2-1h0m4 0h0m-2-1h0m2-1h0m7 16h0m2 0h0m14-6h0m-2 1h0m47 7h0m1-2h0m14-4h0m-2 1h0m14 10h0m-9-3h0m1-4h0m-2 0h0m8 0h0m-4-2h0m-2 0h0m-2-3h0m2-1h0m19 0h0m0 2h0m-6 2h0m6 2h0m-6 2h0m1 4h0m7 1h0m-9 0h0m22-2h0m15-8h0m-7 10h0m93-11h0m-24 15h0m-97 9h0m6-6h0m3-1h0m-2-1h0m-7-1h0m8-1h0m-2-1h0m-4 0h0m-6-1h0m-1 2h0m2 0h0m-5 3h0m4 0h0m-11 1h0m9 1h0m-9 1h0m9 4h0m-11-6h0m-5-6h0m19 16h0m1 2h0m88-4h0"/>
<path id="C2" vector-effect="non-scaling-stroke" d="M-207 -76h0m10-2h0m-6-5h0m6-1h0m14 3h0m-2 4h0m-10 0h0m11 2h0m-2 0h0m-8 0h0m9 2h0m2 1h0m-3 1h0m7 0h0m4-4h0m8 17h0m1-2h0m-2-2h0m-9-7h0m-3 2h0m2 5h0m2 1h0m-6 1h0m8 1h0m2 1h0m-13 1h0m-2-1h0m-2 0h0m-3 0h0m-2 0h0m-2 0h0m9-2h0m-2 0h0m-2 0h0m7-1h0m-2-1h0m-3 0h0m4-2h0m-3 0h0m0-5h0m4-1h0m-26 1h0m4 1h0m3 1h0m-4 6h0m-2 2h0m11 2h0m-12 0h0m-10-2h0m6 0h0m3 0h0m0-2h0m-11-4h0m11-1h0m-9 0h0m7-1h0m-4-3h0m-8 21h0m0-5h0m13-2h0m-9 0h0m-2 0h0m0 2h0m12 3h0m-7 1h0m5 1h0m-9 0h0m2 1h0m1 2h0m5 1h0m-3 0h0m-1 2h0m-2 0h0m5 0h0m14 0h0m-9-1h0m7 0h0m-4 0h0m6-1h0m2 0h0m-6 0h0m4-2h0m-2 0h0m6 0h0m-9 0h0m-2-1h0m5-1h0m2-1h0m-9-4h0m23-2h0m-6 0h0m-3 0h0m11 1h0m-4 1h0m5 1h0m-2 1h0m2 1h0m-2 1h0m-10 0h0m4 1h0m-3 1h0m11 1h0m-3 0h0m-2 0h0m2 2h0m-2 0h0m20 2h0m-2-1h0m-7 0h0m-2 0h0m-2-1h0m6 0h0m2-1h0m-5 0h0m-2-1h0m5-1h0m-3 0h0m5-1h0m-8 0h0m5-1h0m-3 0h0m-2-1h0m13-2h0m-11 0h0m-2-1h0m15-2h0m2 9h0m8 3h0m-10 1h0m25 0h0m-7-1h0m-2 0h0m5 0h0m2 0h0m4 1h0m2 0h0m40 11h0m2 3h0m-15 0h0m9 0h0m2-1h0m-2-2h0m2 0h0m-7 0h0m2-1h0m2-1h0m2 0h0m-5-1h0m2-1h0m-20-2h0m2 0h0m-4 2h0m4 0h0m-2 0h0m-2 2h0m5 0h0m-2 0h0m10 1h0m-2 1h0m2 1h0m-2 1h0m2 1h0m-18-6h0m3-1h0m-8-1h0m2 0h0m3 0h0m4-1h0m-11-1h0m-2 0h0m5 0h0m3 0h0m-2-2h0m-4 0h0m-10-1h0m-2 0h0m5 0h0m3 1h0m-11 0h0m5 1h0m-3 0h0m7 1h0m-8 1h0m-2 1h0m13 0h0m-5 0h0m2 1h0m-6 0h0m1 2h0m2 0h0m-4 2h0m3 0h0m-5 2h0m6 1h0m-2 0h0m-6 0h0m-2 0h0m1-11h0m-2-1h0m-10 0h0m13-1h0m-16 0h0m-6 0h0m2 0h0m-1 2h0m-3 9h0m-15 1h0m5-1h0m2 0h0m2 0h0m-2-2h0m-1-2h0m2-1h0m-4 0h0m2-1h0m-4-1h0m-1-2h0m2 0h0m-14-2h0m-4 0h0m2 1h0m4 0h0m-6 1h0m8 1h0m-4 0h0m-2 0h0m4 0h0m-6 1h0m4 1h0m-5 1h0m3 0h0m2 3h0m6 2h0m-2 2h0m-17 0h0m-2 0h0m4-1h0m-2-1h0m-4 0h0m-2 0h0m10-1h0m-10-1h0m4 0h0m2-1h0m2 0h0m2 0h0m2-1h0m-12-1h0m4 0h0m4 0h0m-2 0h0m6-1h0m-2 0h0m-8-1h0m5 0h0m2-1h0m-9 0h0m3-1h0m6-1h0m-3 0h0m-5 0h0m10-1h0m-16 1h0m3 4h0m0 2h0m-7 2h0m5 3h0m-2 15h0m2-1h0m-1-2h0m2-1h0m-4-1h0m6-1h0m-4 0h0m-2-2h0m3 0h0m2-1h0m-2-1h0m3-1h0m-2-1h0m16-1h0m-12 3h0m11 0h0m-12 2h0m6 5h0m7 0h0m-5 0h0m-6 2h0m8 0h0m2 0h0m-4 0h0m18 1h0m-12 0h0m8 0h0m-2 0h0m4-1h0m-5-1h0m3 0h0m3-2h0m-9-2h0m2-1h0m7 0h0m-9-1h0m5 0h0m-7-1h0m12 0h0m-7-1h0m4 0h0m3-1h0m-12 0h0m7 0h0m3-1h0m13 0h0m-5 6h0m4 0h0m-2 2h0m4 0h0m-6 0h0m4 1h0m4 1h0m-7 0h0m-3 1h0m6 0h0m-8 1h0m4 0h0m17 0h0m-5-1h0m2 0h0m4-1h0m-8 0h0m6 0h0m-3-1h0m10-1h0m-12 0h0m10-2h0m-8 0h0m10-2h0m-1-3h0m7-2h0m-2 0h0m-3 1h0m3 1h0m7 0h0m-4 0h0m-6 1h0m8 0h0m5 0h0m-9 1h0m2 0h0m-5 1h0m11 0h0m-9 1h0m4 0h0m-2 0h0m5 0h0m-9 1h0m2 1h0m3 0h0m4 0h0m-9 1h0m12 1h0m-9 1h0m7 0h0m4-3h0m-1-2h0m6-1h0m2 0h0m4 0h0m-2-1h0m-3-1h0m5 0h0m-7 0h0m-2 0h0m6-1h0m-2-1h0m-4 0h0m-3 0h0m9-1h0m11 1h0m4 6h0m17 6h0m-8-1h0m3-5h0m5-3h0m-10-2h0m9 0h0m-2 0h0m0-2h0m10 2h0m2 0h0m-8 0h0m2 1h0m9 1h0m-5 0h0m-2 0h0m4 0h0m-4 2h0m2 0h0m-6 0h0m2 0h0m2 2h0m-2 0h0m5 0h0m-7 1h0m9 1h0m-4 0h0m2 0h0m-4 1h0m2 1h0m-4 0h0m8 0h0m-2 0h0m5 1h0m20 14h0m-2-1h0m2-1h0m-4-1h0m2 0h0m-2-2h0m-14-8h0m3 2h0m-3 1h0m5 0h0m-2 1h0m2 1h0m-4 1h0m2 0h0m7 1h0m-5 0h0m2 0h0m-6 2h0m11 0h0m-3 1h0m-8 1h0m10 0h0m-6 1h0m8 0h0m-6 0h0m2 0h0m-7 1h0m-4-1h0m-3-3h0m4 0h0m-2 0h0m-6-1h0m-2-1h0m4 0h0m3-1h0m2 0h0m-6-1h0m4-1h0m2 0h0m-4 0h0m-3-1h0m-2 0h0m5-1h0m4 0h0m-11-1h0m9-1h0m-2 0h0m-2 0h0m-9 1h0m-10 0h0m0 2h0m0 2h0m-1 2h0m1 2h0m-3 2h0m-2-4h0m0-2h0m-3 0h0m4-2h0m2 0h0m-4 0h0m-2 0h0m6-2h0m-6 0h0m-2-1h0m-6 4h0m-9 9h0m-12-8h0m-9-5h0m-8 0h0m-3 1h0m8 0h0m4 1h0m-8 0h0m6 1h0m-3 1h0m5 0h0m-11 0h0m1 2h0m8 0h0m2 0h0m-6 0h0m2 1h0m2 1h0m-9 0h0m5 1h0m-3 0h0m-2 1h0m3 1h0m2 1h0m3 0h0m-7 0h0m-12 1h0m-2-1h0m-2 0h0m6-1h0m7 0h0m-2 0h0m-2 0h0m3-2h0m-11 0h0m9 0h0m-3-1h0m-4-1h0m10 0h0m-12 0h0m4-1h0m2 0h0m2 0h0m4-1h0m-12 0h0m10 0h0m-8-1h0m4 0h0m-2 0h0m-4-1h0m8 0h0m-6-1h0m8 0h0m-4 0h0m-2-1h0m-5 0h0m9-1h0m-7 0h0m-14 0h0m2 0h0m6 0h0m2 1h0m-5 0h0m2 1h0m-4 0h0m-2 1h0m9 0h0m-7 1h0m7 1h0m-2 0h0m-10 1h0m6 0h0m2 0h0m-4 1h0m9 0h0m-11 1h0m7 0h0m-2 0h0m4 0h0m2 1h0m-9 1h0m3 0h0m4 0h0m-2 0h0m3 2h0m-7 0h0m5 0h0m-3 0h0m-6 1h0m-14 0h0m7 0h0m4 0h0m-2-1h0m-2-1h0m4 0h0m-6 0h0m-2 0h0m-3 0h0m9-1h0m2-1h0m-5 0h0m-5-1h0m-2-2h0m5-1h0m5-1h0m-10 0h0m13-1h0m-1-2h0m-2-1h0m-14 0h0m2 0h0m-5 1h0m5 1h0m-3 0h0m-2 2h0m5 1h0m-3 0h0m-2 1h0m3 1h0m2 1h0m-2 1h0m3 2h0m-2 0h0m-3 0h0m5 2h0m-4 0h0m-2 0h0m1 14h0m5 0h0m-3-1h0m-2-1h0m4-1h0m-2 0h0m-3-2h0m6-5h0m-2-1h0m2-1h0m-2-1h0m9 0h0m-5 1h0m9 1h0m-8 1h0m3 0h0m0 2h0m7 1h0m-5 0h0m-5 1h0m3 0h0m2 1h0m3 0h0m-7 1h0m-2 0h0m4 0h0m7 0h0m-2 1h0m-5 1h0m2 0h0m-7 0h0m13 0h0m-7 2h0m-5 0h0m14-2h0m7-1h0m5 0h0m-13-1h0m2 0h0m7-1h0m2-1h0m-10 0h0m2-1h0m5-1h0m-7 0h0m2-1h0m2 0h0m-3-2h0m6-2h0m5 0h0m8 0h0m-5 0h0m10 0h0m-2 0h0m-9 2h0m2 0h0m2 0h0m6 0h0m2 1h0m-10 1h0m6 0h0m-4 1h0m6 0h0m-4 1h0m-6 0h0m12 0h0m-9 5h0m17 2h0m5-1h0m-3-1h0m4-1h0m-2-1h0m-3 0h0m2-2h0m3 0h0m-3-2h0m3 0h0m-4-2h0m4 0h0m-12 0h0m10-1h0m-2-2h0m-9 0h0m15 5h0m0 8h0m34-3h0m20-7h0m8-3h0m3 1h0m0 2h0m2 0h0m-3 2h0m4 1h0m0 2h0m8 5h0m2 0h0m-4-1h0m6 0h0m2 0h0m-5-1h0m2-1h0m3 0h0m-11-1h0m11-1h0m-12-1h0m3-2h0m-3 0h0m9-1h0m-9-3h0m3 0h0m5-1h0m-3 0h0m10 0h0m4 2h0m-2 0h0m-2 1h0m6 0h0m-2 1h0m2 1h0m3 1h0m-11 0h0m2 0h0m11 1h0m-4 1h0m-2 0h0m-6 1h0m9 1h0m-2 0h0m-3 1h0m5 1h0m-2 0h0m16 1h0m-6-2h0m-3-1h0m16 14h0m3-1h0m-5 0h0m3-1h0m2-1h0m-4 0h0m6-1h0m-6-1h0m4 0h0m-17-5h0m-3 0h0m1 2h0m3 0h0m2 1h0m-6 1h0m8 5h0m5 3h0m-11 0h0m-2 1h0m-6 0h0m-3-1h0m-5 0h0m2 0h0m5-1h0m-7-1h0m4 0h0m-4-2h0m2 0h0m4 0h0m-2-1h0m4 0h0m2-1h0m-2-1h0m-6 0h0m10-1h0m-7-2h0m7 0h0m-1-2h0m-4 0h0m-14 1h0m3 1h0m2 1h0m-4 4h0m2 2h0m2 1h0m-2 1h0m2 1h0m-4 0h0m-13-5h0m-14-2h0m-24 7h0m-27-5h0m1-6h0m10-1h0m-23 0h0m7 2h0m0 2h0m-9 0h0m11 1h0m-2 1h0m-8 0h0m0 2h0m1 3h0m2 2h0m4 0h0m-14 0h0m-7-1h0m3-1h0m6 0h0m-10-2h0m7 0h0m2 0h0m4-1h0m-2 0h0m-7-1h0m2 0h0m5-1h0m2 0h0m-5-1h0m-6 0h0m2 0h0m8-1h0m-9-1h0m3 0h0m6-1h0m-2 0h0m-18-2h0m6 3h0m-3 2h0m4 0h0m-2 1h0m-4 1h0m-7 0h0m5 1h0m-3 1h0m9 1h0m-4 1h0m2 0h0m-9 0h0m3 0h0m10 1h0m-5 1h0m-3 0h0m-18 0h0m12 0h0m-2-1h0m-7-1h0m2-1h0m-3-1h0m6-6h0m-5-2h0m3 0h0m-6 0h0m-4-1h0m0 2h0m2 1h0m-2 9h0m-2 0h0m-4 14h0m2 0h0m3-2h0m-4-1h0m2 0h0m2-1h0m-5-1h0m2 0h0m3-5h0m-4 0h0m2-1h0m-2-1h0m4 0h0m15 0h0m2 1h0m-8 1h0m1 7h0m-2 1h0m6 2h0m9 1h0m4 0h0m-8 0h0m6-1h0m-4 0h0m7-1h0m-9 0h0m4-1h0m3 0h0m4-1h0m-9 0h0m3-2h0m-2 0h0m1-2h0m-2 0h0m6-1h0m-2 0h0m6-1h0m-11 0h0m2 0h0m7-1h0m-5 0h0m2-1h0m-6 0h0m10-1h0m-2 0h0m6 0h0m-2 1h0m9 0h0m4 6h0m-4 1h0m2 0h0m2 2h0m-2 0h0m2 2h0m-2 0h0m-2 1h0m8 0h0m6 0h0m-2 0h0m2-2h0m-4 0h0m-4 0h0m2 0h0m0-2h0m5 0h0m4 0h0m-6-1h0m2-1h0m-7 0h0m9 0h0m-7-2h0m6-1h0m-2-1h0m-2 0h0m1-2h0m5-1h0m16 0h0m-6 13h0m35-6h0m24-7h0m-10 5h0m10 7h0m-4 1h0m-3 0h0m16-1h0m2 0h0m1-2h0m-2 0h0m-2-1h0m9 0h0m-3-1h0m-6-1h0m8 0h0m-2-2h0m-2 0h0m-3-2h0m-2 0h0m4 0h0m-6-1h0m4-1h0m2 0h0m4-1h0m3 0h0m2 0h0m7 1h0m-9 1h0m2 0h0m-1 2h0m12 1h0m-3 0h0m-8 1h0m2 0h0m6 1h0m-2 0h0m4 0h0m-12 0h0m4 1h0m2 0h0m4 1h0m-2 0h0m4 0h0m-10 1h0m3 0h0m5 1h0m-2 0h0m-3 2h0m9-5h0m0-6h0m4-2h0m-2 0h0m-11 26h0m-5-1h0m3 0h0m1-2h0m2 0h0m-4-1h0m-2 0h0m2-2h0m10-1h0m-3-5h0m-20 0h0m-11 12h0m6 0h0m-8-4h0m4-2h0m-5 0h0m3-1h0m6-1h0m-7-1h0m3-1h0m-2-1h0m5 0h0m-2-1h0m-15 8h0m2 1h0m2 1h0m-20-7h0m-12-3h0m2 1h0m-7 7h0m-9 4h0m2-1h0m-22-10h0m2 1h0m-4 0h0m5 2h0m-3 0h0m-2 2h0m1 2h0m7 4h0m-22 0h0m5-2h0m8-2h0m-12-1h0m2 0h0m2 0h0m-4-2h0m2 0h0m2 0h0m1-3h0m6 0h0m-4-1h0m5-1h0m-20 0h0m4 0h0m-11 1h0m3 1h0m2 1h0m5 0h0m-8 1h0m5 0h0m-7 0h0m9 1h0m3 0h0m-8 0h0m3 1h0m-6 0h0m11 1h0m-2 0h0m-7 0h0m5 1h0m-3 0h0m-1 2h0m5 0h0m-3 0h0m-5 1h0m3 2h0m2 0h0m-4 0h0m-9-3h0m6 0h0m0-4h0m-12-1h0m11-3h0m-2-1h0m-6-1h0m8 0h0m-20 0h0m6 2h0m-5 0h0m-3 0h0m0 2h0m6 0h0m-4 1h0m5 2h0m-7 0h0m2 1h0m-2 1h0m-2 1h0m5 1h0m-2 0h0m5 1h0m-7 0h0m3 1h0m-4 14h0m3 0h0m2-1h0m4 0h0m-2 0h0m-4-1h0m7-1h0m-5 0h0m2 0h0m-4-1h0m4-2h0m-4-3h0m21-4h0m-4 0h0m1 2h0m-4 2h0m5 0h0m-3 1h0m-2 1h0m-2 0h0m7 0h0m-2 1h0m5 3h0m-2 1h0m10 2h0m-4-1h0m-3 0h0m11 0h0m2 0h0m-4 0h0m2-2h0m0-2h0m-9 0h0m3 0h0m2 0h0m-7-1h0m5-1h0m2 0h0m2 0h0m0-2h0m-2 0h0m-4-1h0m3-1h0m2 0h0m3-1h0m-7 0h0m13 0h0m8 2h0m2 1h0m-4 0h0m-5 1h0m5 1h0m3 0h0m-1 2h0m-2 1h0m-4 1h0m2 0h0m5 1h0m-6 1h0m7 1h0m-2 0h0m-10 0h0m14 0h0m0-2h0m0-2h0m2-1h0m-2-1h0m3-1h0m-2-1h0m3-2h0m-2-1h0m-2 0h0m22-2h0m2 2h0m-4 0h0m-2 2h0m-4 7h0m25-5h0m-2-1h0m-2 0h0m1-2h0m6 0h0m2 2h0m-2 1h0m15-3h0m25-2h0m-2 0h0m0 2h0m2 0h0m-4 2h0m-7 0h0m11 0h0m-2 0h0m-1 2h0m-10 3h0m4 1h0m16 2h0m6-2h0m-4 0h0m-2-1h0m7-1h0m-2 0h0m-6-1h0m-2 0h0m8-1h0m-4 0h0m-6-4h0m5-1h0m8-2h0m5 0h0m8 2h0m-10 5h0m-2 1h0m3 1h0m-2 1h0m4 0h0m-2 1h0m-4 0h0m6 1h0m-2 1h0m-2 0h0m15-8h0m2-5h0m-5 15h0m0 3h0m6 2h0m-3 1h0m5 2h0m-8 3h0m-11 1h0m9-1h0m-6 0h0m2 0h0m3-2h0m-5 0h0m-4 0h0m2-1h0m4-2h0m-3 0h0m-2-1h0m10 0h0m-3 0h0m-9-1h0m4 0h0m-2-1h0m9 0h0m-6-2h0m-2 0h0m-3 0h0m9-2h0m-19 2h0m-2 1h0m10 0h0m-5 0h0m3 1h0m-9 1h0m11 0h0m-9 0h0m2 0h0m-3 2h0m10 0h0m-8 0h0m-4 0h0m4 2h0m8 0h0m-12 0h0m3 2h0m7 2h0m-5 0h0m3 0h0m-8 0h0m-7-1h0m3-1h0m-7 0h0m3-1h0m2 0h0m2-2h0m-2 0h0m-6-1h0m10 0h0m-5-1h0m2-2h0m-7-2h0m-4 7h0m-5 2h0m3 0h0m-2 2h0m-12-9h0m-18 6h0m-13 1h0m-19-11h0m-3 1h0m2 1h0m-1 2h0m3 2h0m0 3h0m-1 2h0m1 2h0m-2 0h0m-12-1h0m2-1h0m3-1h0m-4-2h0m-5-1h0m7 0h0m4-1h0m-6 0h0m4 0h0m-8-1h0m6 0h0m6-1h0m-6-1h0m-7 0h0m11 0h0m-6 0h0m4 0h0m-7-1h0m5-1h0m4 0h0m-6-1h0m-10 0h0m2 0h0m-4 1h0m4 1h0m-6 0h0m4 0h0m-2 1h0m-2 1h0m4 1h0m-4 1h0m-2 2h0m-2 0h0m9 4h0m-11 1h0m0-5h0m-11-1h0m1-7h0m-10 0h0m-4 1h0m-2 0h0m4 1h0m6 1h0m-8 0h0m-2 1h0m4 0h0m-3 8h0m-4-1h0m9 16h0m3-4h0m2-2h0m-10-3h0m-2-2h0m2-2h0m17 1h0m-5 3h0m2 1h0m2 0h0m2 0h0m-6 1h0m3 1h0m2 0h0m2 2h0m-7 0h0m4 0h0m-1 2h0m-2 0h0m4 1h0m2 0h0m-4 1h0m-3 0h0m9 0h0m14-1h0m-4-8h0m-3-3h0m4-1h0m14 0h0m4 9h0m-2 0h0m-2 1h0m-2 0h0m4 1h0m4 0h0m-2 0h0m-6 1h0m6 1h0m-2 0h0m4 0h0m8 0h0m-6 0h0m2 0h0m6-1h0m2 0h0m-4-1h0m-4 0h0m-2-1h0m10 0h0m-10-2h0m2 0h0m3-1h0m2-1h0m-7 0h0m2 0h0m1-3h0m0-2h0m3 0h0m33 9h0m13-5h0m14 0h0m2-1h0m-2-1h0m-4-1h0m4-1h0m2-1h0m12 0h0m2 0h0m-6 0h0m3 2h0m-5 0h0m9 0h0m-13 1h0m4 1h0m-3 1h0m11 0h0m-9 1h0m2 0h0m-2 2h0m-3 1h0m5 1h0m-3 0h0m23 2h0m-10-4h0m-1-2h0m2 0h0m9-1h0m-9-2h0m8 0h0m-5 0h0m2 0h0m6 0h0m-6-2h0m2 0h0m-7 0h0m2-1h0m17 0h0m6 0h0m-12 1h0m5 4h0m1 3h0m4 1h0m-6 0h0m4 0h0m-2 1h0m-4 0h0m6 1h0m-4 1h0m12 1h0m1-7h0m2-1h0m-2-1h0m-2 0h0m4-1h0m2 0h0m-7-1h0m3 0h0m-2-2h0m-8 25h0m-7-5h0m2-2h0m6-1h0m-8-1h0m2 0h0m2 0h0m-2-2h0m2 0h0m-13 0h0m3 3h0m-8 4h0m8 1h0m-2 0h0m2 2h0m-3 1h0m-9 1h0m2 0h0m-4-1h0m-2 0h0m5-1h0m-3-1h0m-4 0h0m8-1h0m-2-2h0m2 0h0m-4-2h0m2 0h0m-4-1h0m-19-2h0m1 2h0m2 1h0m-2 1h0m-2 0h0m4 1h0m-5 1h0m2 0h0m-2 2h0m5 0h0m-3 1h0m7 2h0m-8 0h0m2 0h0m-9 1h0m-2 0h0m5-1h0m2-1h0m-8 0h0m-2 0h0m6-1h0m-2 0h0m-3-1h0m7-4h0m-13 7h0m-15 1h0m-2-1h0m-6-2h0m-2 0h0m-1-2h0m2 0h0m-1-2h0m2-1h0m-2-1h0m12-4h0m-20 1h0m-6 0h0m4 0h0m4 2h0m-2 0h0m-2 0h0m6 1h0m-4 1h0m2 0h0m-4 1h0m-2 0h0m-2 1h0m6 0h0m2 0h0m-5 1h0m2 1h0m2 0h0m-4 1h0m-2 1h0m5 0h0m2 0h0m2 1h0m-3 1h0m-21-2h0m8-2h0m-7 0h0m3-1h0m-2-1h0m-2-1h0m4-1h0m-2 0h0m-3-1h0m11-1h0m-5 0h0m-3 0h0m5 0h0m-3-2h0m5 0h0m-2 0h0m-16 6h0m7 0h0m0 2h0m-2 1h0m2 1h0m-2 2h0m2 0h0m-20 0h0m-2 0h0m5-1h0m-2-1h0m2-2h0m3 0h0m-13-3h0m2-5h0m3-1h0m2 0h0m-12 4h0m1 3h0m2 0h0m0 2h0m-2 1h0m3 11h0m-1-4h0m0-2h0m-2 0h0m15 0h0m-11 0h0m7 0h0m-3 1h0m-4 1h0m6 0h0m3 2h0m-9 0h0m4 0h0m2 0h0m1 2h0m5 0h0m-2 0h0m-6 1h0m4 1h0m-2 0h0m5 1h0m-7 0h0m2 1h0m2 0h0m-5 1h0m7 0h0m3 0h0m-8 1h0m2 0h0m17 0h0m-5-1h0m2 0h0m-4-1h0m3-1h0m-6-1h0m8-1h0m-8-1h0m9-4h0m3-1h0m-2-1h0m-2 0h0m9-1h0m9 1h0m0 8h0m-2 2h0m-2 1h0m-2 1h0m21 0h0m-4 0h0m2 0h0m-4-2h0m6-1h0m-12-5h0m26-5h0m-13 2h0m12 0h0m-4 4h0m-5 1h0m3 0h0m-1 2h0m2 0h0m-4 1h0m-2 0h0m1 2h0m2 0h0m3 1h0m20-1h0m-3-2h0m2-1h0m-7-3h0m8-1h0m-13-2h0m24-3h0m-5 1h0m2 1h0m-4 0h0m-2 0h0m0 2h0m2 0h0m3 0h0m5 1h0m-3 0h0m5 0h0m-11 1h0m6 1h0m4 0h0m-2 0h0m-9 1h0m11 1h0m-2 0h0m-9 2h0m9 0h0m2 0h0m0 2h0m-2 0h0m-2 0h0m8-2h0m8-2h0m-10 0h0m0-2h0m13-2h0m-2-1h0m-5-1h0m7 0h0m-2-2h0m-8-1h0m-3 0h0m22 1h0m-7 1h0m2 1h0m0 2h0m3 4h0m-4 1h0m4 1h0m-2 0h0m4 0h0m2 1h0m-2 1h0m4 0h0m15-10h0m-11 0h0m19 24h0m-7-1h0m5 0h0m-2-1h0m7 0h0m-5-1h0m-4 0h0m7-1h0m2 0h0m-4-1h0m-2 0h0m5-1h0m-8-1h0m4-1h0m-2 0h0m-3-5h0m-14 0h0m11 5h0m0 2h0m0 2h0m-2 1h0m2 3h0m-19 0h0m-5 0h0m2 0h0m1-2h0m-4-1h0m2 0h0m5 0h0m-2-1h0m-5-1h0m2 0h0m5-1h0m-3 0h0m-2-2h0m6-1h0m1-2h0m2 0h0m-8-2h0m7 0h0m-19 1h0m7 1h0m-3 0h0m-1 2h0m2 0h0m2 0h0m-11 0h0m5 2h0m3 0h0m-8 1h0m11 1h0m-2 2h0m2 0h0m-6 0h0m-6 0h0m8 1h0m-2 1h0m4 0h0m3 0h0m-25 0h0m7 0h0m-6-2h0m2 0h0m6 0h0m-3-2h0m-2 0h0m4 0h0m2 0h0m1-2h0m-1-2h0m-12-1h0m3-1h0m-2-2h0m-12 0h0m6 0h0m-3 2h0m-3 1h0m6 0h0m-8 1h0m8 1h0m-5 1h0m-2 0h0m-2 1h0m2 1h0m2 0h0m-4 1h0m3 1h0m-2 1h0m4 1h0m-18 1h0m2-1h0m4 0h0m6 0h0m-2 0h0m-11-1h0m7-1h0m-5 0h0m9 0h0m-2-1h0m-9-1h0m2 0h0m8-1h0m-9-1h0m2 0h0m9-1h0m-6-1h0m-5 0h0m2 0h0m8-1h0m2 0h0m-10-1h0m-2 0h0m1-2h0m-15 0h0m5 1h0m-2 0h0m5 0h0m3 0h0m-5 2h0m3 0h0m1 2h0m-7 2h0m0 2h0m3 0h0m-5 0h0m7 1h0m-9 0h0m6 1h0m-4 0h0m10 0h0m-8 1h0m3 1h0m-6 0h0m-15 0h0m11 0h0m-6-1h0m8 0h0m-4-1h0m-8-1h0m3 0h0m8 0h0m-6-1h0m4 0h0m-10-1h0m2 0h0m10 0h0m-8-1h0m-2-1h0m-2 0h0m0-2h0m2-1h0m7-3h0m-15 0h0m-3 0h0m-2 2h0m5 0h0m-2 0h0m7 0h0m-13 0h0m7 2h0m2 1h0m-7 0h0m2 1h0m2 0h0m-4 1h0m2 1h0m6 1h0m-9 0h0m-1 2h0m13 0h0m-7 1h0m-7-3h0m-2-1h0m2-1h0m-3-1h0m3-1h0m-5-1h0m1-2h0m3 0h0m-7-1h0m8-1h0m-2 0h0m11 19h0m4 0h0m-2-1h0m-2-1h0m-2 0h0m5-1h0m-5-1h0m17-1h0m-1 2h0m-2 0h0m-6 2h0m6 0h0m-4 2h0m2 0h0m2 0h0m2 1h0m-4 1h0m-4 1h0m10 0h0m-1 3h0m-2 1h0m7 0h0m7 0h0m4-2h0m-6 0h0m3 0h0m-7 0h0m2 0h0m4-2h0m-2 0h0m-2 0h0m-2 0h0m9-2h0m-9 0h0m2 0h0m3-1h0m-5-3h0m5 0h0m-2 0h0m8 0h0m-3-1h0m-9-1h0m6 0h0m-3-1h0m9 0h0m7 0h0m-2 0h0m10 0h0m-2 1h0m-3 0h0m-8 0h0m2 1h0m2 0h0m2 0h0m-3 2h0m10 1h0m-7 0h0m-5 1h0m12 1h0m-2 1h0m-2 0h0m-4 0h0m2 1h0m4 1h0m-2 0h0m-2 1h0m11 1h0m7-3h0m-7 0h0m6-3h0m-3-1h0m-6 0h0m11-2h0m1-3h0m5 0h0m-2 0h0m5 1h0m-6 1h0m2 0h0m2 1h0m6 1h0m-2 1h0m-2 0h0m-4 1h0m5 1h0m2 0h0m2 0h0m-6 0h0m6 2h0m-3 0h0m-2 1h0m-2 1h0m7 1h0m-5 0h0m-6 0h0m13 1h0m2-1h0m6-1h0m-8 0h0m11-1h0m-8 0h0m6-2h0m-7 0h0m-2 0h0m11 0h0m2-1h0m-10-1h0m4 0h0m-7 0h0m13-1h0m-4 0h0m-2-1h0m-5 0h0m7-1h0m3 0h0m-8 0h0m2-1h0m4-2h0m2 0h0m4 1h0m-2 0h0m5 0h0m2 1h0m-6 1h0m4 0h0m4 0h0m-6 2h0m6 0h0m2 0h0m-6 1h0m-4 0h0m6 0h0m2 1h0m-8 1h0m6 0h0m2 1h0m-5 0h0m7 0h0m-9 1h0m4 0h0m-6 1h0m4 1h0m7 0h0m-9 0h0m22 1h0m-2 0h0m-6-1h0m11 0h0m-5-1h0m3-1h0m2 0h0m-5-1h0m5-1h0m-3 0h0m-3-1h0m4-1h0m-2 0h0m-9-1h0m5 0h0m2-1h0m2 0h0m3 0h0m-9-1h0m4-1h0m2 0h0m-4 0h0m6-1h0m-10 0h0m8-1h0m4 0h0m4 0h0m-3 2h0m0 4h0m1 2h0m4 1h0m-4 1h0m3 1h0m-2 1h0m4 0h0m-2 1h0m12-4h0m-16 17h0m2-1h0m-2-1h0m6-5h0m-6 0h0m0-2h0m2 0h0m1-2h0m3 0h0m4-1h0m-12 0h0m-6 1h0m3 0h0m3 1h0m-12 1h0m8 0h0m2 1h0m2 0h0m-12 1h0m4 1h0m5 0h0m-2 0h0m4 0h0m2 1h0m-4 1h0m-9 0h0m12 1h0m-3 1h0m-2 0h0m-6 2h0m10 1h0m-15 0h0m-4 0h0m-2 0h0m4 0h0m-6 0h0m-2-1h0m6-1h0m-2 0h0m-2 0h0m9 0h0m2-1h0m-4-1h0m-3 0h0m-2 0h0m-2-1h0m10 0h0m-12 0h0m8-1h0m-3 0h0m7-1h0m-2 0h0m-9 0h0m2 0h0m2-1h0m3 0h0m3-1h0m-10 0h0m2 0h0m5-1h0m2-1h0m-7 0h0m9-1h0m-11 0h0m9-1h0m-2 0h0m-19 0h0m5 0h0m-1 2h0m1 2h0m4 1h0m-2 0h0m-6 2h0m8 0h0m-4 2h0m-5 0h0m-2 0h0m11 0h0m-9 2h0m2 1h0m-17 1h0m6-1h0m-3-1h0m-2-1h0m-2 0h0m5-1h0m-3-1h0m-3 0h0m10-1h0m-2 0h0m-7-1h0m7-1h0m-5 0h0m7-1h0m-9 0h0m3-2h0m4 0h0m-2 0h0m-6 0h0m12-2h0m-5 0h0m2 0h0m-10 0h0m-7 0h0m-4 1h0m8 0h0m-2 0h0m4 1h0m-6 0h0m7 2h0m0 2h0m-8 4h0m-18-4h0m8-1h0m-4 0h0m2 0h0m-5-1h0m4-1h0m-2 0h0m-1-2h0m-2 0h0m-10 0h0m-2 0h0m10 1h0m-8 1h0m3 3h0m15 11h0m16 10h0m-7-6h0m-3 0h0m4-2h0m-4 0h0m2 0h0m0-2h0m2-2h0m-5-1h0m27 5h0m-2 2h0m-2 0h0m-6 2h0m-2 0h0m10 0h0m-2 0h0m4 1h0m-6 0h0m-2 1h0m-3 0h0m7 0h0m-9 1h0m6 1h0m13-1h0m-4 0h0m2-1h0m6-1h0m4 0h0m-9-1h0m-2 0h0m10-1h0m-2-2h0m2 0h0m-9-1h0m8-1h0m-3 0h0m2-2h0m3-2h0m-5 0h0m-3 0h0m9 5h0m0 3h0m18-5h0m5-3h0m-49 14h0"/>
<path id="C3" vector-effect="non-scaling-stroke" d="M-33 -226h0m-81 15h0m13-2h0m8 2h0m2 0h0m2-1h0m-8-1h0m4 0h0m2 0h0m4 0h0m-8-1h0m-2-1h0m6 0h0m-4-1h0m2 0h0m8-1h0m-6 0h0m5-2h0m-2 0h0m2-2h0m2 0h0m2 1h0m8 0h0m-3 1h0m-3 0h0m-4 0h0m12 1h0m-9 1h0m2 1h0m2 0h0m-5 1h0m4 1h0m-2 1h0m7 1h0m10 1h0m-2 0h0m-2-1h0m7 0h0m-3-1h0m5 0h0m-2-1h0m-8 0h0m4-1h0m6 0h0m-4-1h0m2 0h0m-4-1h0m-2 0h0m4-1h0m-3-1h0m10 5h0m29-5h0m2 2h0m3 1h0m-21 14h0m1 3h0m-1 2h0m-5 0h0m-9-1h0m2 0h0m3-1h0m6 0h0m-3-1h0m-8 0h0m2 0h0m10-1h0m-2-1h0m-2 0h0m4-1h0m-9-1h0m5 0h0m5-1h0m-13-2h0m4-2h0m-7-1h0m-5 1h0m-6 1h0m11 1h0m1 2h0m-6 1h0m-1 2h0m6 1h0m-10 0h0m3 1h0m-3 1h0m5 1h0m4 0h0m2 0h0m-10 1h0m-2 0h0m-13 0h0m10 0h0m-6 0h0m-2 0h0m10-2h0m-9 0h0m-2 0h0m9-1h0m-5 0h0m3 0h0m-5-1h0m3-1h0m2-1h0m-9 0h0m4-1h0m7-1h0m-4 0h0m2-1h0m-9-1h0m11-1h0m-7-1h0m-6 0h0m-8 1h0m2 0h0m3 0h0m-3 2h0m2 0h0m-4 0h0m9 1h0m-11 1h0m7 3h0m-6 2h0m6 0h0m-2 2h0m-9 0h0m-9 0h0m9-2h0m-12-1h0m10 0h0m-2-1h0m3-1h0m-5 0h0m3-1h0m-8-1h0m6 0h0m4 0h0m-6-1h0m5-1h0m-3-1h0m6-1h0m-4 0h0m-5-1h0m3 0h0m-15 1h0m6 1h0m-2 0h0m-7 2h0m8 0h0m-4 2h0m-6 0h0m3 0h0m-2 2h0m4 0h0m-2 1h0m3 1h0m-2 1h0m-3 0h0m-9 1h0m3-1h0m3-1h0m-19 15h0m15-12h0m2 0h0m2 1h0m-4 1h0m3 1h0m-5 1h0m3 0h0m1 2h0m-2 0h0m-8 3h0m20 4h0m-3-1h0m9-1h0m-5 0h0m-7 0h0m4-1h0m-2 0h0m6-1h0m-6-1h0m7-1h0m2-1h0m-2-1h0m-7-2h0m-3 0h0m12 0h0m6-2h0m-4 1h0m2 1h0m3 1h0m8 0h0m-13 0h0m0 2h0m2 0h0m2 0h0m3 2h0m-5 0h0m3 0h0m-2 2h0m4 0h0m-2 1h0m13 0h0m9-3h0m-6-1h0m6-4h0m-9 0h0m5 0h0m-4-3h0m19 1h0m-5 0h0m7 0h0m-10 1h0m10 1h0m-9 1h0m2 1h0m8 1h0m-4 0h0m-6 0h0m3 1h0m-4 1h0m2 0h0m5 0h0m2 0h0m-5 1h0m7 0h0m-9 1h0m6 0h0m-8 0h0m6 1h0m2 1h0m-4 1h0m16-1h0m5-1h0m-10-4h0m0-2h0m-2 0h0m0-2h0m8-1h0m-3 0h0m2-2h0m2 0h0m16 3h0m-10 1h0m-1 5h0m0 2h0m3 1h0m-2 1h0m16-2h0m-1-7h0m-1-2h0m-2-1h0m2-1h0m-2 21h0m0 2h0m2 1h0m0 2h0m-16-3h0m5-2h0m-3 0h0m0-2h0m3 0h0m-5 0h0m4-2h0m-2 0h0m-2 0h0m6-2h0m-3 0h0m-2 0h0m-2 0h0m-5 3h0m3 0h0m-10 0h0m2 0h0m9 2h0m-2 0h0m-2 0h0m-6 0h0m2 0h0m-4 1h0m9 1h0m-6 0h0m8 1h0m-11 0h0m2 1h0m7 0h0m-3 1h0m-6 1h0m-10 1h0m2-1h0m-6 0h0m8 0h0m2 0h0m2-1h0m-7-1h0m-4 0h0m9-1h0m-7-1h0m9 0h0m-1-2h0m-6-2h0m5-2h0m-6-2h0m-18 0h0m8 1h0m-2 0h0m-6 2h0m10 0h0m-2 0h0m4 0h0m-9 1h0m3 1h0m-5 0h0m8 0h0m2 0h0m-9 2h0m-1 2h0m12 1h0m-10 0h0m4 0h0m-2 0h0m4 1h0m-8 0h0m4 1h0m-2 0h0m-7 1h0m3-2h0m-4 0h0m2 0h0m-4-1h0m6-1h0m-2 0h0m-2 0h0m4-2h0m-3 0h0m2-3h0m-12-1h0m10-1h0m-3-1h0m5 0h0m-25-1h0m4 0h0m5 1h0m-4 1h0m-5 0h0m3 1h0m-3 1h0m2 1h0m4 0h0m-7 2h0m5 0h0m1 2h0m-11 3h0m2 0h0m2-1h0m-6 0h0m-7 0h0m2-1h0m4-1h0m-2 0h0m-4 0h0m10-1h0m-2 0h0m-6 0h0m5-2h0m-2 0h0m-5 0h0m6-2h0m4-2h0m-11 2h0m-5 3h0m4 0h0m-3 2h0m3 0h0m-2 3h0m2 0h0m-14 10h0m0 4h0m6 0h0m6 0h0m0-5h0m-2 0h0m4-1h0m-6 0h0m5-2h0m2-2h0m-9-2h0m9 0h0m2 0h0m7 0h0m4 0h0m-6 0h0m1 2h0m-3 0h0m6 1h0m-8 0h0m2 1h0m-4 0h0m2 1h0m-2 1h0m6 0h0m5 1h0m-4 1h0m-1 2h0m-5 2h0m4 0h0m19 1h0m-8 0h0m3 0h0m-5-1h0m7 0h0m-4-1h0m-3-1h0m12 0h0m1-2h0m6-8h0m2 0h0m-2 2h0m-2 2h0m8 0h0m-6 0h0m2 0h0m-1 2h0m2 0h0m-7 1h0m3 0h0m6 0h0m-4 1h0m6 1h0m-10 0h0m2 0h0m4 0h0m2 0h0m-10 1h0m7 1h0m-3 0h0m5 0h0m2 0h0m-9 1h0m4 1h0m2 0h0m4 0h0m11-2h0m2-4h0m-6 0h0m7-2h0m-7-5h0m18 0h0m-3 0h0m6 1h0m-8 1h0m-2 1h0m9 0h0m-2 0h0m-5 1h0m9 0h0m-11 1h0m-2 0h0m11 0h0m-8 2h0m8 3h0m-7 3h0m23 0h0m-13-1h0m11-1h0m-2-1h0m-9-3h0m1-7h0m12 0h0m8 0h0m-6 1h0m2 1h0m3 0h0m3 0h0m-3 2h0m-3 0h0m-3 0h0m8 0h0m2 0h0m-5 2h0m-2 0h0m-2 0h0m6 0h0m2 0h0m-5 2h0m2 0h0m2 0h0m2 0h0m-8 1h0m10 0h0m-5 1h0m-2 0h0m-2 1h0m-3 0h0m5 1h0m5 1h0m-8 0h0m13-13h0m-13 27h0m6 0h0m2 0h0m-9-2h0m2 0h0m6 0h0m-2-1h0m-2 0h0m-4-1h0m2-1h0m6 0h0m-4 0h0m-4-1h0m4-1h0m2 0h0m2 0h0m2-2h0m-9 0h0m6 0h0m-2-1h0m-6 0h0m2-2h0m-2 0h0m4 0h0m-6 0h0m-6 0h0m3 0h0m-1 2h0m3 0h0m-4 2h0m2 0h0m-4 0h0m8 0h0m-2 2h0m-9 1h0m8 5h0m-12 0h0m-1-2h0m2-1h0m-3-1h0m-9-3h0m0-2h0m4 0h0m-2-1h0m2-2h0m-3 0h0m-16 0h0m9 1h0m-8 2h0m2 0h0m4 2h0m-7 0h0m3 0h0m2 0h0m-2 2h0m-2 1h0m7 1h0m-6 2h0m-2 1h0m12 0h0m-21-1h0m6 0h0m-7-2h0m5 0h0m-1-3h0m-8-2h0m11 0h0m-8-1h0m10 0h0m-13-1h0m9-1h0m-4-1h0m-2 0h0m4 0h0m-6-1h0m9 0h0m-21 1h0m-2 0h0m11 0h0m-10 2h0m10 0h0m-5 1h0m-7 0h0m0 2h0m4 0h0m-2 1h0m4 0h0m3 1h0m-4 1h0m8 1h0m-9 1h0m-2 1h0m6 0h0m2 1h0m-12-6h0m0-2h0m-5-1h0m-3-1h0m7-1h0m2 0h0m-6 0h0m2 0h0m-4-2h0m2 0h0m2 0h0m-21 0h0m4 2h0m-4 2h0m8 0h0m-6 0h0m2 1h0m-4 1h0m3 3h0m7 18h0m-2 0h0m2-3h0m1-6h0m13-2h0m-9 3h0m-2 1h0m2 1h0m2 0h0m2 1h0m5 1h0m-8 0h0m-2 1h0m4 0h0m-6 1h0m2 1h0m-2 1h0m15-1h0m2-1h0m6-2h0m2-1h0m-5-2h0m4-1h0m-6 0h0m6-2h0m2 0h0m-2-2h0m3 0h0m-8-1h0m2 0h0m12 0h0m-2 0h0m8 1h0m-7 1h0m-3 0h0m8 0h0m-1 2h0m-8 0h0m2 0h0m8 0h0m3 1h0m-11 1h0m10 1h0m0 3h0m12 2h0m-6 0h0m4 0h0m4 0h0m0-3h0m-3-3h0m4-1h0m-10-1h0m6 0h0m2 0h0m-5-1h0m4-1h0m-2 0h0m5 0h0m-8-2h0m5 0h0m16 1h0m-4 1h0m2 0h0m2 1h0m0 2h0m-1 5h0m-11 0h0m2 0h0m2 1h0m-3 1h0m17 1h0m6-2h0m-9-2h0m12-1h0m-6-1h0m5-2h0m-12-1h0m2-1h0m-2-2h0m2 0h0m18 0h0m-4 0h0m4 2h0m-2 0h0m4 0h0m-8 0h0m2 2h0m7 0h0m-2 2h0m3 0h0m2 1h0m-8 0h0m-2 0h0m7 1h0m-2 0h0m-3 1h0m-2 0h0m4 1h0m2 0h0m2 1h0m-8 0h0m-2 0h0m8 1h0m-3 0h0m8 0h0m3 1h0m-2 1h0m5 2h0m-4 0h0m2 6h0m-2 1h0m2 2h0m-2 0h0m-14-3h0m12 0h0m-2 0h0m-2-1h0m-6 0h0m8-1h0m-4-1h0m2 0h0m-5 0h0m-2 0h0m0-2h0m-2 0h0m6 0h0m4 0h0m-6 0h0m8-1h0m-5-1h0m-7 0h0m2 0h0m2 0h0m7-2h0m-11 0h0m3 0h0m-5 1h0m-11 2h0m9 0h0m-9 3h0m3 0h0m2 0h0m-6 2h0m2 0h0m2 1h0m-7 4h0m0-4h0m-8 0h0m4 0h0m0-2h0m-2 0h0m8-1h0m-4-1h0m-4 0h0m7-1h0m-11-1h0m-1-3h0m-4 0h0m2 0h0m-4 0h0m-2 0h0m3 2h0m2 0h0m2 0h0m-2 4h0m-10 2h0m11 3h0m-32-10h0m-7 0h0m2 1h0m8 0h0m-10 1h0m9 1h0m-2 0h0m4 2h0m-4 0h0m-2 0h0m0 2h0m6 1h0m-6 1h0m-4 1h0m8 0h0m2 1h0m-4 1h0m-7 0h0m2 0h0m-7 0h0m-2-1h0m-2 0h0m6-2h0m-2 0h0m-5 0h0m-3-1h0m5 0h0m2-1h0m-5 0h0m-4 0h0m6-1h0m-4 0h0m8-1h0m-6 0h0m-2-1h0m9-1h0m-11-1h0m13-1h0m-12-1h0m10 0h0m2-1h0m-4 0h0m-2 0h0m-9 1h0m-2 0h0m1 2h0m2 2h0m-2 0h0m0 2h0m1 6h0m1 13h0m-2 0h0m1-2h0m-1-2h0m1-4h0m14-4h0m-7 4h0m-3 4h0m7 1h0m-8 1h0m0 2h0m4 1h0m17 0h0m-6-1h0m4-1h0m-1-2h0m0-3h0m-5-1h0m4-1h0m2 0h0m7-1h0m-11 0h0m2-1h0m-4 0h0m8 0h0m-6-1h0m22 4h0m-8 6h0m7 1h0m3 0h0m-10 1h0m23 0h0m-11 0h0m13-1h0m-9 0h0m-2 0h0m4-1h0m5 0h0m-2 0h0m-9 0h0m2-1h0m8-1h0m-3-1h0m-2-1h0m-3 0h0m7-1h0m2 0h0m2-1h0m-10 0h0m8-1h0m-3 0h0m-2-2h0m-6-2h0m18 0h0m5 0h0m0 2h0m-6 2h0m4 0h0m2 0h0m-6 2h0m2 2h0m-4 0h0m8 1h0m-7 1h0m-2 0h0m3 2h0m13-1h0m-2 0h0m9-8h0m4-1h0m-2 0h0m0-2h0m16 0h0m-5 0h0m2 0h0m-4 1h0m-5 0h0m2 1h0m9 0h0m-3 0h0m-5 2h0m-3 0h0m8 0h0m-3 0h0m-1 2h0m3 0h0m4 0h0m-2 0h0m0 2h0m3 1h0m-5 0h0m-2 0h0m1 2h0m3 0h0m2 1h0m-3 1h0m5 0h0m6-5h0m-2-5h0m-2 0h0m-2-1h0m2-1h0m2 0h0m2 0h0m-4 14h0m-2 0h0m0 4h0m2 5h0m-4 3h0m-9 0h0m-2-1h0m8-2h0m-7 0h0m-2 0h0m0-2h0m9-2h0m-9 0h0m1-3h0m10-1h0m-5 0h0m6-2h0m-21 4h0m8 0h0m-5 2h0m-2 2h0m2 0h0m3 2h0m2 2h0m-20 1h0m-2-1h0m0-2h0m-2-1h0m5 0h0m-8 0h0m2-2h0m4 0h0m2 0h0m-8-1h0m4 0h0m-2-1h0m8 0h0m-4 0h0m-2-1h0m4 0h0m2-1h0m-8 0h0m4-1h0m-2-1h0m2-1h0m-4 0h0m-3 0h0m-12 1h0m9 0h0m-4 1h0m-2 0h0m9 0h0m-11 1h0m-2 0h0m8 0h0m-2 1h0m6 1h0m-10 0h0m-2 0h0m8 0h0m2 0h0m-4 1h0m-3 1h0m-3 0h0m8 0h0m-2 1h0m6 1h0m-4 0h0m-3 1h0m7 2h0m-4 0h0m-2 0h0m-15 1h0m2 0h0m-4 0h0m-3 0h0m12-1h0m-8-1h0m2 0h0m-6 0h0m2-1h0m2-1h0m-2-1h0m8-1h0m2 0h0m-9-1h0m-3 0h0m7-3h0m6-2h0m-9 0h0m-2 0h0m-2 0h0m-9 2h0m2 0h0m2 0h0m3 2h0m-7 0h0m4 0h0m-6 1h0m9 1h0m-12 0h0m7 2h0m-5 0h0m8 0h0m3 0h0m-1 2h0m-4 0h0m-21 2h0m11-1h0m-5 0h0m-2 0h0m-2-2h0m3-1h0m6-1h0m-7-1h0m2 0h0m1-2h0m-2 0h0m4 0h0m3-1h0m-3-1h0m-2 0h0m-7-1h0m6-1h0m-8-1h0m-3 0h0m-3 4h0m2 2h0m-2 1h0m6 1h0m-7 1h0m2 1h0m-4 0h0m6 1h0m-3 1h0m-3 0h0m-2 0h0m-13 1h0m2 0h0m1-3h0m6-7h0m-16 7h0m2 1h0m-4 1h0m3 1h0m-2 2h0m4-1h0m5 1h0m3 0h0m-5 1h0m-2 0h0m9 0h0m-4 1h0m2 0h0m14-2h0m-3-1h0m18 0h0m-3 0h0m-2 1h0m1 2h0m5 4h0m2 1h0m2 4h0m2 1h0m6 0h0m2-1h0m2-1h0m-7-1h0m-2 0h0m-2 0h0m13 0h0m-6 0h0m2-1h0m-7-1h0m0-2h0m2 0h0m8 0h0m-2 0h0m-8-2h0m5-1h0m-7-1h0m3 0h0m2 0h0m8-1h0m-3 0h0m16-1h0m-4 1h0m-4 0h0m2 0h0m-5 0h0m10 1h0m-9 1h0m7 0h0m-5 1h0m7 0h0m-4 0h0m-7 0h0m2 1h0m7 1h0m-9 0h0m13 1h0m-7 0h0m4 1h0m-7 0h0m9 1h0m-7 0h0m3 0h0m1 2h0m-5 0h0m-2 0h0m5 1h0m8 1h0m9 0h0m3 0h0m-6-1h0m6-1h0m-2 0h0m-8 0h0m-3 0h0m7-1h0m-2-1h0m-5 0h0m10-1h0m2 0h0m-10 0h0m2-1h0m2 0h0m-4-1h0m9 0h0m-11-1h0m13-1h0m-6 0h0m-2 0h0m-2 0h0m7-1h0m-10-1h0m3-1h0m4 0h0m5-1h0m-7 0h0m12 0h0m-1 2h0m-2 0h0m5 1h0m-4 1h0m2 1h0m-3 1h0m2 1h0m2 0h0m-4 1h0m4 3h0m-3 0h0m3 2h0m2 0h0m19-2h0m0-3h0m2-1h0m-5-1h0m13-6h0m-7 2h0m8 1h0m2 1h0m2 2h0m-4 2h0m-4 1h0m-4 0h0m9 1h0m-3 0h0m6 0h0m-10 1h0m-2 0h0m7 1h0m2 0h0m3 0h0m-11 1h0m1 14h0m7-1h0m-2 0h0m-6-1h0m10 0h0m-5-1h0m2 0h0m2-1h0m-5-1h0m3 0h0m3-1h0m-8 0h0m2-1h0m-4 0h0m7 0h0m-3-2h0m4 0h0m-2 0h0m-4 0h0m8-1h0m-6-1h0m-4 0h0m2 0h0m5 0h0m2-2h0m-3 0h0m-2 0h0m-2 0h0m10 0h0m-18 3h0m-5 0h0m7 0h0m-4 1h0m6 0h0m-4 1h0m-4 0h0m2 1h0m4 0h0m-6 1h0m4 1h0m-2 0h0m4 1h0m-6 0h0m3 1h0m-4 2h0m-4 0h0m9 1h0m-20 0h0m-2 0h0m4-1h0m-2-1h0m-2-1h0m6 0h0m-2-1h0m-3-1h0m5-1h0m-3-1h0m4-1h0m-2 0h0m-4 0h0m2-1h0m-3-1h0m5 0h0m2-1h0m-2-1h0m-2 0h0m-3-1h0m-14 1h0m11 0h0m-11 2h0m12 1h0m-10 0h0m2 1h0m-5 0h0m7 3h0m-6 0h0m9 0h0m3 0h0m-10 1h0m6 1h0m-4 0h0m6 0h0m-4 0h0m-7 1h0m13 0h0m-10 0h0m2 1h0m2 0h0m2 0h0m2 0h0m2 1h0m-21 0h0m6 0h0m-8-1h0m4 0h0m4-1h0m-10-1h0m3 0h0m-5 0h0m10 0h0m-3-1h0m6 0h0m-12-1h0m2 0h0m8 0h0m2-1h0m-12-1h0m5 0h0m2 0h0m-4-1h0m6 0h0m2-1h0m-6 0h0m2 0h0m2-1h0m3-1h0m-5 0h0m-2 0h0m5-1h0m-2-1h0m-5 0h0m-7 1h0m-6 2h0m4 1h0m-9 0h0m12 0h0m-4 2h0m2 0h0m-10 0h0m12 0h0m-6 2h0m7 0h0m-4 0h0m2 1h0m-4 1h0m2 0h0m0 2h0m-3 0h0m5 0h0m2 1h0m-25-5h0m6-1h0m-1-2h0m5 0h0m-3 0h0m-2-2h0m2 0h0m-8-2h0m7 0h0m-3 0h0m-7 10h0m23 14h0m1-2h0m-4 0h0m-2 0h0m8-1h0m-10-1h0m7 0h0m-5 0h0m3-1h0m4-1h0m-2 0h0m4 0h0m-9 0h0m-2-1h0m4-1h0m2 0h0m-4 0h0m6 0h0m2-1h0m-3-2h0m15 0h0m2 0h0m-6 0h0m6 2h0m-2 0h0m-5 0h0m3 0h0m1 2h0m2 0h0m-4 0h0m-2 0h0m1 2h0m3 0h0m-6 1h0m5 1h0m-2 0h0m7 1h0m-9 0h0m7 0h0m-5 1h0m3 0h0m1 2h0m-2 0h0m-3 0h0m18 1h0m4-1h0m-2-1h0m2-1h0m-2-1h0m4 0h0m-8-1h0m8-1h0m-3 0h0m-2-1h0m5-1h0m-3 0h0m-4 0h0m-2 0h0m-3-2h0m8 0h0m2-1h0m-5 0h0m3-2h0m-2 0h0m4 0h0m10 0h0m-2 0h0m-5 1h0m2 0h0m2 1h0m-3 1h0m2 2h0m-2 0h0m0 2h0m3 1h0m5 0h0m-8 1h0m6 0h0m-2 1h0m-2 0h0m-2 1h0m12 1h0m-9 0h0m-4 1h0m15 0h0m6 0h0m5-1h0m-6-1h0m-2-1h0m6 0h0m-2 0h0m1-2h0m-3 0h0m-2 0h0m-2-1h0m6-1h0m-4 0h0m2-1h0m2-2h0m-6-1h0m17-2h0m4 0h0m-2 0h0m-4 1h0m8 0h0m-10 1h0m6 0h0m-3 1h0m5 0h0m1 2h0m-6 0h0m2 0h0m-5 4h0m11 2h0m-5 1h0m7 0h0m0 2h0m0 2h0m1 3h0m0 5h0m-11 3h0m6 0h0m-2 0h0m-8 0h0m2-1h0m9-1h0m-5 0h0m-2-6h0m6-3h0m2 0h0m-11-1h0m11-1h0m-21 0h0m-2 1h0m5 0h0m3 2h0m-8 0h0m-2 0h0m5 2h0m-3 1h0m2 1h0m3 0h0m-7 1h0m3 1h0m3 0h0m-5 1h0m-2 0h0m9 0h0m2 1h0m-4 0h0m-5 1h0m-10 1h0m2 0h0m5-1h0m-8-1h0m-3 0h0m8 0h0m-10-2h0m4 0h0m-2 0h0m10 0h0m-5-1h0m6-1h0m-10 0h0m2 0h0m-2-2h0m4 0h0m3-2h0m-4-3h0m-2 0h0m-5 1h0m-3 0h0m0 2h0m2 0h0m0 2h0m-2 1h0m2 2h0m0 2h0m-19-10h0m-6 0h0m8 0h0m-5 0h0m26 14h0m6 3h0m2 0h0m-3 2h0m4 0h0m-2 1h0m2 1h0m-4 0h0m-2 1h0m8 1h0m-2 0h0m2 2h0m14 2h0m-12-1h0m4 0h0m5-1h0m-7 0h0m2-1h0m-2-1h0m3-1h0m-5 0h0m10-1h0m-7 0h0m-4-2h0m11 0h0m0-2h0m2 0h0m-10-1h0m-2 0h0m7-2h0m4 0h0m-2 0h0m-8 0h0m17 1h0m3 0h0m2 0h0m-10 0h0m7 2h0m-4 1h0m6 0h0m-2 1h0m-1 2h0m7 1h0m-11 2h0m-2 0h0m11 1h0m-4 0h0m-6 1h0m8 0h0m4 1h0m9-1h0m-8-1h0m2-1h0m5 0h0m-2-1h0m-2-1h0m-2 0h0m6 0h0m-6-2h0m2-1h0m1-4h0m2 13h0m-4 3h0m-2 0h0m4 2h0m-3 0h0m0 2h0m2 2h0m-3 0h0m2 2h0m2 1h0m3 1h0m-11-2h0m2-1h0m-2-1h0m-2 0h0m4-1h0m-7 0h0m5-1h0m-3 0h0m6-2h0m-8-1h0m7-2h0m-3-1h0m-5-1h0m7 0h0m-14 0h0m-3 0h0m-2 1h0m6 1h0m-2 0h0m-7 0h0m5 1h0m-7 0h0m10 1h0m-8 0h0m2 0h0m-4 1h0m8 0h0m4 0h0m-6 1h0m4 0h0m-6 0h0m-2 0h0m-2 1h0m4 1h0m5 0h0m-7 0h0m4 0h0m-7 1h0m-4-1h0m3-4h0m-4-1h0m-5-2h0m15 13h0m21 1h0m-5 0h0m2 2h0m2 0h0m-4 1h0m6 1h0m-2 0h0m-6 1h0m11-1h0m4 0h0m-2 0h0m0-2h0m-4 0h0m3-2h0"/>
<path id="C4" vector-effect="non-scaling-stroke" d="M112 46h0m-18 8h0m22 13h0m-13 9h0m-19-1h0m-34-4h0m6 23h0m59 9h0m-19-5h0m-15 9h0m-15 5h0"/>
<path id="C5" vector-effect="non-scaling-stroke" d="M118 21h0m47 28h0m-39 1h0m18 7h0m34 20h0m-43-6h0m117 29h0m-6 0h0m3 0h0m-5 2h0m5 0h0m-2 0h0m1 20h0m2 0h0m-1-3h0m0-2h0m-2-1h0m3-1h0m-4-1h0m10 1h0m3 1h0m-2 1h0m0 2h0m3 1h0m-4 1h0"/>
<path id="K0" vector-effect="non-scaling-stroke" d="M-2 -43h0m6 9h0m2 0h0m0-2h0m-18 2h0m9 0h0m-4 3h0m5 0h0m-17-1h0m-12 16h0m-2 0h0m12-12h0m6 1h0m-5 4h0m-7 2h0m5 0h0m2 3h0m18 3h0m-12 0h0m8 0h0m-2-2h0m6-4h0m-10-2h0m3 0h0m-5-1h0m3-1h0m1-2h0m16 6h0m2 1h0m-4 0h0m2 1h0m2 2h0m35 16h0m-27-5h0m-2 1h0m6 4h0m-17-3h0m-2-2h0m0-3h0m10-1h0m-5-2h0m-3 0h0m-12-2h0m-3 1h0m6 1h0m-6 1h0m7 1h0m-9 1h0m10 1h0m-6 4h0m-4 1h0m-6 2h0m4-1h0m-7-4h0m3-1h0m4 0h0m1-4h0m-4 0h0m2-2h0m2 0h0m-18 0h0m-1 6h0m0 2h0m-1 2h0m-4 0h0m8 1h0m-2 1h0m1 14h0m-7-1h0m2-1h0m2-1h0m2 0h0m3-1h0m-7-1h0m5 0h0m-3 0h0m5-1h0m-4-1h0m-2 0h0m4-2h0m3 0h0m-8 0h0m2-1h0m-2-2h0m4 0h0m7-1h0m8 0h0m2 2h0m-11 0h0m12 2h0m-11 0h0m-1 2h0m3 3h0m-2 1h0m-2 1h0m8 1h0m15 0h0m3-1h0m1-2h0m-2 0h0m-2 0h0m1-2h0m-2 0h0m-3-1h0m8 0h0m-1-3h0m2-1h0m13 0h0m-13 2h0m1 2h0m10 1h0m0 2h0m-10 1h0m19-4h0m-6-2h0m4 0h0m3 0h0m-5-1h0m4-1h0m-3-1h0m5 0h0m18-1h0m0 4h0m-7 3h0m8 1h0m-10 4h0m2 0h0m-5 1h0m17-1h0m4 0h0m-7-1h0m3-1h0m4 0h0m-2-2h0m0 7h0m-16 7h0m3-2h0m-5 0h0m10-2h0m-3 0h0m-2-1h0m3-1h0m2 0h0m-7-1h0m-2 0h0m-5 1h0m-1 11h0m-22-11h0m-4-2h0m0 2h0m-5 4h0m2 1h0m-2 1h0m-2 0h0m2 2h0m-7 2h0m5 1h0m-19 0h0m11-1h0m0-2h0m2 0h0m-10-2h0m-3-1h0m11 0h0m-8-1h0m2-1h0m-4 0h0m7-2h0m-6 0h0m-2 0h0m4-1h0m9-2h0m-7 0h0m2 0h0m-18 0h0m-2 1h0m-2 0h0m12 2h0m-12 0h0m3 0h0m2 1h0m2 1h0m4 3h0m0 4h0m-13-11h0m1 21h0m14 3h0m-10 0h0m4-1h0m-6-2h0m6-3h0m-5-1h0m7-2h0m3-2h0m-3 0h0m7 0h0m8 4h0m-8 0h0m2 2h0m-3 0h0m2 2h0m17 2h0m-6 0h0m11-1h0m0-2h0m-2 0h0m4-2h0m-4 0h0m4-4h0m-4 0h0m2-1h0m-8 0h0m14 1h0m-2 0h0m-1 2h0m2 5h0m2 1h0m-4 2h0m4 0h0m2 1h0m17-2h0m4-2h0m-3-3h0m3-1h0m-5 0h0m-4-2h0m9 0h0m-6-1h0m-5-1h0m13 4h0m-1 2h0m2 1h0m-1 4h0m-1 7h0m-8-4h0m5 3h0m0 2h0m-4 2h0m2 3h0m-16-10h0m-11 1h0m-20 9h0m4-3h0m2-1h0m0-4h0m-6 0h0m-16-2h0m11 5h0m-5 1h0m-5 1h0m9 0h0m-2 0h0m2 5h0m-15-9h0m2 20h0m0 2h0m7 1h0m6-5h0m-2 0h0m3-6h0m6 1h0m-4 0h0m1 2h0m-2 3h0m4 2h0m-2 1h0m9 1h0m-2 0h0m0 2h0m2 0h0m2 0h0m7 0h0m3-1h0m4-1h0m-6 0h0m3-1h0m2-1h0m-7-5h0m9-4h0m9 4h0m-9 0h0m2 2h0m0 3h0m2 0h0m-3 2h0m5 0h0m3 2h0m14-1h0m-2-1h0m4-1h0m-6-4h0m2-2h0m1-2h0m-2 0h0m8 19h0m2-1h0m-9-6h0m3 3h0m2 2h0m-21 7h0m4 0h0m2-2h0m-3-5h0m-5-3h0m-1-2h0m-9 1h0m-7 1h0m8 1h0m-3 0h0m-11 7h0m-5-1h0m7 0h0m-10-1h0m8 0h0m-2-1h0m4-1h0m-10 0h0m2 0h0m6-1h0m-2 0h0m4-1h0m-9-1h0m5 0h0m6-1h0m-4-1h0m-10 0h0m-2 2h0m-2 0h0m-2 1h0m6 2h0m-4 2h0m4 0h0m-12 2h0m12 0h0m-5 1h0m-3 1h0m-4 1h0m6 0h0m2 0h0m-3 4h0m-3-1h0m6-1h0m-6-1h0m2 0h0m20 0h0m0 2h0m-9 2h0m5 0h0m6 1h0m0 3h0m-5 4h0m5 1h0m2 0h0m0-6h0m0-2h0m1-2h0m23-3h0m-10 8h0m4 2h0m6 1h0m2 1h0m-10 0h0m2 0h0m6 1h0m-3 0h0m8-12h0m-13 22h0m-1-2h0m4-1h0m-2 0h0m2-2h0m-4-2h0m10 0h0m-7 0h0m2-1h0m6-1h0m-9 0h0m-12 1h0m6 1h0m2 2h0m-2 0h0m1 3h0m-4 1h0m4 2h0m-3 0h0m-8 1h0m-12 0h0m-1-6h0m11-1h0m-2-3h0m-2-1h0m10 21h0m-4-1h0m8 0h0m4 0h0m-2 0h0m-8-1h0m3-1h0m2 0h0m5 0h0m-2-1h0m5-1h0m3 11h0m-14 23h0m27-6h0m10 14h0m-1-2h0m-8 2h0m-3 6h0"/>
<path id="K1" vector-effect="non-scaling-stroke" d="M145 -198h0m-15-6h0m-3 1h0m5 1h0m-2 0h0m-3 1h0m8 0h0m-3 1h0m-4 1h0m9 0h0m-7 0h0m2 1h0m3 0h0m-9 1h0m4 0h0m-10 0h0m-5-1h0m9-1h0m-2-1h0m3-1h0m-2-1h0m2-1h0m-1-3h0m-15 4h0m2 1h0m-3 1h0m2 1h0m-6 2h0m-12 0h0m-43-2h0m3 1h0m-4 1h0m2 0h0m-61-1h0m-2 1h0m4 0h0m-22 13h0m-3-1h0m3-1h0m2-1h0m-3-1h0m3-1h0m14-7h0m-1 3h0m-6 5h0m-5 1h0m2 2h0m-2 0h0m0 2h0m2 0h0m24 0h0m-6 0h0m-2 0h0m5-1h0m3-1h0m-7 0h0m-2 0h0m0-2h0m7 0h0m-3-1h0m-2-1h0m-2 0h0m6 0h0m-4-2h0m4 0h0m-6 0h0m-4-1h0m4-1h0m2 0h0m2 0h0m-8-1h0m2 0h0m6-1h0m-4 0h0m24 12h0m30 0h0m6-1h0m-2 0h0m5 0h0m2 0h0m-9 0h0m-3-2h0m12 0h0m-7 0h0m3 0h0m-5 0h0m7-2h0m-7 0h0m2 0h0m2 0h0m-6-1h0m11-1h0m-2 0h0m-2 0h0m-3-1h0m-2 0h0m9-1h0m-4-1h0m-3 0h0m-2 0h0m9-1h0m-2 0h0m-3-1h0m-4-1h0m6 0h0m8 1h0m-3 1h0m5 1h0m-3 0h0m-2 1h0m7 0h0m-5 1h0m7 0h0m-4 0h0m-5 1h0m7 0h0m4 0h0m-7 1h0m-2 0h0m7 1h0m-9 0h0m7 0h0m-4 1h0m9 0h0m-12 1h0m2 1h0m5 0h0m3 1h0m-2 1h0m-6 0h0m-2 0h0m24 0h0m2 0h0m-4 0h0m-7 0h0m5 0h0m-7-1h0m4 0h0m4-1h0m3 0h0m-5 0h0m-5-1h0m2 0h0m8-1h0m-6-1h0m3 0h0m2-1h0m-9 0h0m7-1h0m2-1h0m-7 0h0m3-1h0m7-2h0m7-2h0m-2 1h0m4 0h0m-7 1h0m12 1h0m-4 0h0m-4 0h0m2 1h0m-4 1h0m10 0h0m-8 0h0m8 2h0m-13 0h0m9 0h0m-2 0h0m-3 0h0m7 1h0m-5 1h0m-5 0h0m8 1h0m2 1h0m-11 0h0m13 0h0m-5 1h0m3 1h0m3 0h0m9-1h0m-3 0h0m-5-1h0m3-1h0m4 0h0m4-2h0m-8 0h0m-3 0h0m8 0h0m-3-1h0m-5-1h0m2 0h0m-1-2h0m1-2h0m2 0h0m-3-2h0m25 1h0m-7 3h0m-4 1h0m5 1h0m-4 1h0m2 0h0m8 1h0m-6 0h0m-2 1h0m3 1h0m3 0h0m-7 1h0m2 0h0m3 1h0m3 1h0m6 0h0m4 0h0m-2-1h0m-6 0h0m12 0h0m-4-1h0m-6 0h0m4-1h0m7 0h0m-2-1h0m-6-1h0m-2 0h0m6-1h0m2 0h0m-5-1h0m-2 0h0m-2 0h0m6-1h0m2 0h0m2 0h0m-6-2h0m6 0h0m-4 0h0m2 0h0m-6-1h0m5-1h0m-7 0h0m10-1h0m-5 0h0m8 0h0m6 0h0m4 1h0m-2 0h0m1 2h0m-4 0h0m7 0h0m-5 0h0m-6 1h0m10 1h0m-12 0h0m10 0h0m-3 0h0m-5 1h0m2 0h0m6 1h0m-2 0h0m-7 1h0m2 0h0m2 0h0m7 1h0m-5 0h0m6 2h0m-2 2h0m11 0h0m-4-2h0m-3 0h0m7-1h0m-8-1h0m2-1h0m5 0h0m-2 0h0m-5-1h0m4-1h0m2 0h0m-6-1h0m2 0h0m3-1h0m-4-1h0m2 0h0m19 24h0m-5 0h0m2 0h0m5-2h0m-5 0h0m2 0h0m-4 0h0m-2-1h0m4-1h0m3 0h0m-8-4h0m-8-5h0m3 1h0m-7 1h0m10 0h0m-4 1h0m-2 0h0m-2 0h0m-4 1h0m12 0h0m-2 0h0m-2 1h0m-2 0h0m-2 0h0m-2 0h0m4 2h0m-2 0h0m-4 0h0m2 1h0m4 1h0m5 1h0m-10 0h0m7 2h0m-2 0h0m-2 0h0m-3 1h0m-8 0h0m4-1h0m-2 0h0m-8-1h0m10-1h0m2 0h0m-5 0h0m-2-1h0m-6 0h0m12-1h0m-9-1h0m5-1h0m4 0h0m0-2h0m-2 0h0m-9-1h0m10-1h0m2 0h0m-5-1h0m5-1h0m-25 0h0m4 0h0m-2 1h0m4 2h0m-7 0h0m4 0h0m-2 0h0m10 1h0m-11 1h0m3 0h0m5 2h0m-9 0h0m3 1h0m-4 1h0m2 0h0m5 0h0m2 1h0m-2 1h0m-3 0h0m4 2h0m3 0h0m-8 0h0m-2 0h0m4 0h0m-10 0h0m-4 0h0m6 0h0m-4-2h0m-4 0h0m10 0h0m-8-1h0m-4 0h0m8 0h0m2-1h0m-8-1h0m7-1h0m3 0h0m-5-2h0m4-1h0m-4-1h0m2 0h0m-4 0h0m-2 0h0m9-1h0m-2-1h0m-22-1h0m4 0h0m-6 1h0m2 1h0m-2 1h0m11 3h0m-11 0h0m3 0h0m-4 2h0m2 0h0m2 2h0m-4 1h0m2 0h0m-1 2h0m3 0h0m-13 0h0m8 0h0m-13-1h0m2 0h0m5 0h0m-3-1h0m7 0h0m-9-1h0m8-1h0m2 0h0m-8 0h0m-2-2h0m4 0h0m-2 0h0m8-1h0m-11-1h0m6 0h0m2 0h0m-3-2h0m4 0h0m-7 0h0m-3 0h0m12 0h0m-4-1h0m5-1h0m-11 0h0m9 0h0m-4-1h0m2 0h0m-23 0h0m13 1h0m-2 0h0m-11 1h0m2 0h0m2 0h0m3 0h0m2 0h0m2 1h0m-11 1h0m3 0h0m6 0h0m-4 1h0m8 0h0m-3 1h0m-3 1h0m-2 0h0m7 0h0m-7 2h0m4 0h0m2 0h0m2 0h0m-10 0h0m-2 0h0m6 1h0m4 1h0m-7 0h0m-3 0h0m7 1h0m-2 0h0m-3 1h0m-2 0h0m-15 0h0m5 0h0m6-2h0m-3 0h0m-2 0h0m-2 0h0m-2 0h0m-2-1h0m13 0h0m-4-1h0m-3 0h0m-2 0h0m-2-1h0m-2 0h0m4-1h0m5-1h0m-9 0h0m7 0h0m-4-1h0m9-1h0m-11 0h0m7 0h0m-4-2h0m6 0h0m-2-1h0m-7 0h0m11 0h0m-7-1h0m-13 0h0m7 0h0m-5 1h0m3 0h0m-7 1h0m-4 0h0m2 0h0m4 1h0m3 0h0m3 1h0m-11 1h0m3 0h0m3 0h0m2 0h0m-6 2h0m7 1h0m2 0h0m-4 0h0m-8 0h0m6 1h0m-4 0h0m6 1h0m-4 0h0m6 0h0m2 1h0m-2 1h0m-4 0h0m-4 0h0m6 0h0m4 1h0m-24 0h0m9-1h0m-11 0h0m4-1h0m2-1h0m-4 0h0m6-1h0m-6-1h0m2 0h0m6 0h0m-4-1h0m2-1h0m4 0h0m-2 0h0m-10-1h0m2 0h0m9-1h0m-7 0h0m5 0h0m-7-1h0m6-1h0m-4 0h0m-4 0h0m11 0h0m-9-1h0m8-1h0m2 0h0m-17 0h0m-17 9h0m2-1h0m3 0h0m-1-2h0m-8-1h0m8-1h0m-9-1h0m0-2h0m4-1h0m-6 1h0m-2 0h0m-6 0h0m4 1h0m3 1h0m-5 0h0m-2 0h0m4 1h0m-6 0h0m4 1h0m-6 1h0m4 0h0m-2 1h0m2 1h0m-4 1h0m3 1h0m3 0h0m-7 1h0m3 1h0m2 0h0m5 1h0m-9 0h0m-5-1h0m-7 0h0m4-2h0m2 0h0m2 0h0m2-1h0m-9-1h0m3 0h0m2 0h0m2-1h0m-11 0h0m13 0h0m-11-1h0m2 0h0m3 0h0m-3-2h0m3 0h0m-6 0h0m8-1h0m-9-2h0m2 0h0m-6-1h0m-9 0h0m2 2h0m-3 0h0m9 2h0m-7 0h0m-2 0h0m7 0h0m6 1h0m-3 1h0m-2 0h0m-7 0h0m2 0h0m2 1h0m7 0h0m-5 1h0m-4 0h0m-2 0h0m10 1h0m-6 1h0m2 0h0m-4 0h0m-2 0h0m10 1h0m-3 1h0m-3 0h0m-3 0h0m-4-11h0m-7 15h0m0 2h0m7 2h0m0 3h0m-4 1h0m2 2h0m-2 0h0m10 1h0m5-1h0m-3 0h0m6-1h0m-6-1h0m2 0h0m-7 0h0m-1-2h0m13-6h0m-5 0h0m-1-2h0m-5 0h0m8 0h0m9 1h0m-2 0h0m6 1h0m2 1h0m2 0h0m-10 0h0m-2 0h0m8 1h0m-3 1h0m5 0h0m-9 0h0m11 2h0m-1 2h0m1 3h0m14 1h0m-12 0h0m8-1h0m-2-2h0m5 0h0m-2-1h0m-8-1h0m10 0h0m-7 0h0m2-1h0m-6-1h0m9-1h0m-6 0h0m9 0h0m-5 0h0m-2 0h0m-1-2h0m-2 0h0m-2 0h0m10 0h0m-3-1h0m-8-1h0m12 0h0m-7-1h0m-2 0h0m17 0h0m3 1h0m-9 1h0m4 0h0m-2 1h0m2 2h0m-3 0h0m5 1h0m-3 1h0m-3 0h0m11 0h0m-1 2h0m-8 0h0m-2 0h0m12 1h0m-5 1h0m-5 0h0m7 1h0m2 0h0m2 0h0m-10 1h0m-2 0h0m24 0h0m-4 0h0m-2-1h0m8 0h0m-12 0h0m7-1h0m-8-1h0m10 0h0m2 0h0m-10 0h0m6-1h0m-4 0h0m2-1h0m-6 0h0m11-1h0m-11-1h0m2 0h0m2-1h0m9-1h0m-5 0h0m-2 0h0m4 0h0m-5-2h0m9-1h0m6 2h0m2 0h0m-6 0h0m10 1h0m-2 0h0m-2 1h0m4 1h0m-2 0h0m2 2h0m-2 0h0m-9 1h0m10 1h0m2 0h0m-5 0h0m-5 1h0m-2 0h0m12 1h0m-4 0h0m-8 1h0m2 0h0m8 0h0m15 0h0m-6 0h0m-5 0h0m0-2h0m5 0h0m3 0h0m-6 0h0m9-1h0m-9-1h0m5 0h0m2 0h0m-3-2h0m-5 0h0m7 0h0m4 0h0m-13-1h0m11 0h0m-8-1h0m6 0h0m-2 0h0m-2-1h0m6 0h0m-2-1h0m-7 0h0m11 0h0m-6 0h0m-3-1h0m2-1h0m6 0h0m-2 0h0m-9-1h0m7 0h0m14 0h0m-5 0h0m-3 1h0m5 0h0m7 2h0m-6 1h0m-3 0h0m10 1h0m-2 1h0m-3 0h0m-2 0h0m-2 0h0m-3 0h0m6 2h0m5 0h0m-2 0h0m-6 0h0m6 2h0m3 1h0m-5 1h0m3 0h0m2 1h0m2 0h0m0-2h0m11 0h0m-8-2h0m-4 0h0m2 0h0m4-1h0m-6-1h0m4 0h0m8 0h0m-2-1h0m2-1h0m-7 0h0m-4 0h0m2-1h0m10-1h0m-3 0h0m-10 0h0m5 0h0m2-1h0m-3-1h0m7-1h0m-5 0h0m3 0h0m5 0h0m7 0h0m-2 2h0m4 0h0m-2 0h0m-5 1h0m5 1h0m4 0h0m-8 1h0m-2 0h0m4 0h0m4 0h0m3 1h0m-2 1h0m-4 0h0m-3 0h0m-3 1h0m4 2h0m5 0h0m4 2h0m-2 0h0m-4 1h0m-5 0h0m7 0h0m17 0h0m0-2h0m-2-2h0m2 0h0m-11 0h0m3-1h0m-4-1h0m2 0h0m2-2h0m-4 0h0m5-2h0m-2 0h0m-3-1h0m7 0h0m-3-1h0m23 0h0m-2 1h0m1 4h0m-5 2h0m6 0h0m-2 1h0m-7 1h0m3 1h0m-4 1h0m6 1h0m-4 0h0m-5 0h0m27 0h0m-2-2h0m-3-2h0m-4-1h0m9 0h0m-2 0h0m-4-1h0m-7-1h0m2 0h0m9 0h0m-7-1h0m2 0h0m3 0h0m-9-1h0m2 0h0m9 0h0m-2-1h0m-8-1h0m11 0h0m-2-1h0m-3 0h0m-4 0h0m14-1h0m10 0h0m-2 0h0m-6 1h0m4 0h0m-2 0h0m5 1h0m-9 0h0m6 1h0m-4 0h0m2 0h0m-6 0h0m11 1h0m-11 1h0m7 0h0m-2 0h0m5 1h0m-7 0h0m4 1h0m-4 1h0m2 0h0m-5 0h0m7 2h0m3 0h0m-6 0h0m-3 1h0m-2 0h0m10 1h0m3 0h0m-10 1h0m-2 0h0m4 0h0m13 0h0m5 0h0m2 0h0m-5-1h0m3-1h0m2-1h0m-6 0h0m7-2h0m-5-1h0m-7-1h0m4 0h0m7-1h0m-9 0h0m6 0h0m5 0h0m-13-1h0m7-1h0m2 0h0m2-1h0m0-2h0m-3 0h0m16 0h0m-4 1h0m-4 0h0m8 1h0m-2 0h0m-4 0h0m-4 1h0m6 0h0m-3 1h0m4 1h0m5 0h0m-2 0h0m-5 0h0m-3 1h0m10 1h0m-2 0h0m-6 0h0m-2 1h0m6 0h0m-8 0h0m6 1h0m6 0h0m-8 0h0m6 2h0m-5 0h0m3 1h0m4 0h0m-9 1h0m3 0h0m10 0h0m-2-2h0m0-3h0m0 7h0m2 1h0m-2 4h0m1 5h0m-2 2h0m-7 0h0m-2-1h0m7 0h0m-3-1h0m-8 0h0m6 0h0m6-1h0m-2 0h0m-2-1h0m-2 0h0m6-1h0m-2 0h0m-6-1h0m2 0h0m3-1h0m2-1h0m-4 0h0m-2 0h0m8-1h0m-4-1h0m-2 0h0m-2-1h0m6 0h0m-3-1h0m2-1h0m2 0h0m-15 1h0m-3 0h0m2 2h0m2 0h0m-7 2h0m-4 1h0m6 0h0m-4 0h0m2 1h0m-18 3h0m2 0h0m3-1h0m7-1h0m-11 0h0m11-2h0m-6 0h0m-6 0h0m2-1h0m2 0h0m4-1h0m2 0h0m-4 0h0m-5-1h0m3 0h0m2-1h0m2 0h0m-8-1h0m2 0h0m8 0h0m2 0h0m-5-1h0m-16 1h0m-4 0h0m2 2h0m-2 1h0m5 0h0m2 0h0m4 0h0m-2 0h0m-6 1h0m-2 1h0m8 0h0m2 0h0m-4 0h0m-4 1h0m3 1h0m-5 0h0m-2 0h0m10 0h0m2 0h0m-7 1h0m-4 1h0m4 1h0m5 0h0m-3 0h0m5 0h0m-13 0h0m4 0h0m-2 1h0m5 1h0m2 0h0m2 0h0m-11 0h0m4 0h0m-16 0h0m4-1h0m6 0h0m-3 0h0m-5-1h0m-2 0h0m5-1h0m3 0h0m2 0h0m1-2h0m-4 0h0m-4 0h0m-2 0h0m8 0h0m-11-2h0m7 0h0m6 0h0m-3-2h0m-2 0h0m-2 0h0m-2 0h0m9 0h0m-12-1h0m2-1h0m4 0h0m5-1h0m-11 0h0m8 0h0m-2-1h0m-12 0h0m4 1h0m-2 0h0m1 2h0m-4 1h0m-8 0h0m11 1h0m-8 0h0m-3 1h0m3 1h0m8 0h0m-6 0h0m2 0h0m-6 1h0m2 1h0m4 0h0m2 0h0m2 0h0m-10 1h0m7 1h0m-5 0h0m3 0h0m4 1h0m2 0h0m-8 1h0m-2 0h0m6 0h0m-2 0h0m-10-1h0m2 0h0m-3-2h0m3 0h0m-2-2h0m1-2h0m1-2h0m-2 0h0m-1-3h0m4 0h0m-2-1h0m-20 1h0m-4 0h0m0 2h0m3 0h0m2 1h0m-5 1h0m3 0h0m3 1h0m-6 1h0m2 0h0m2 0h0m3 1h0m-2 1h0m-4 0h0m7 1h0m-9 1h0m5 0h0m6 0h0m-3 1h0m-7 1h0m5 0h0m-10 0h0m-2 0h0m-4 0h0m7-2h0m-6 0h0m-4-1h0m6-1h0m4 0h0m2 0h0m-13-1h0m12-1h0m0-2h0m-11-1h0m2-1h0m-2-1h0m10-2h0m-10 0h0m-11 0h0m4 1h0m5 0h0m-3 0h0m-9 0h0m5 1h0m-2 1h0m6 0h0m-2 0h0m-1 2h0m3 1h0m-9 0h0m2 1h0m5 0h0m4 0h0m-2 2h0m2 1h0m-2 1h0m-24 2h0m2 0h0m2-1h0m9 0h0m-13-1h0m10-1h0m-7 0h0m3-1h0m7-1h0m-11 0h0m-2-1h0m11 0h0m-6 0h0m4-1h0m4 0h0m-6-1h0m-5 0h0m-2 0h0m11-1h0m-6 0h0m4-1h0m-6 0h0m-2 0h0m6-1h0m-2-1h0m-4 0h0m2 0h0m10 0h0m-27-1h0m9 0h0m-2 1h0m3 1h0m-2 1h0m5 0h0m-13 1h0m2 1h0m10 0h0m-12 1h0m3 1h0m9 0h0m-9 2h0m-2 0h0m11 0h0m-9 2h0m2 0h0m6 0h0m-3 1h0m2 1h0m-6 0h0m-15 0h0m-2 0h0m8 0h0m2 0h0m2 0h0m-7-1h0m5-1h0m-9 0h0m7 0h0m-5-1h0m3 0h0m4-1h0m-3-1h0m-6 0h0m2 0h0m8-1h0m-2 0h0m-10 0h0m5-1h0m-2 0h0m9-1h0m-11 0h0m5-1h0m-2 0h0m5-1h0m-7 0h0m2-1h0m2 0h0m-5-1h0m11 0h0m-7-1h0m5 0h0m-2 0h0m-16 0h0m-3 0h0m6 0h0m-9 1h0m6 1h0m3 1h0m2 0h0m2 0h0m-11 1h0m4 0h0m7 1h0m-2 0h0m-3 0h0m-2 1h0m-2 1h0m6 0h0m-2 1h0m-2 0h0m7 1h0m-5 1h0m-8 1h0m2 0h0m-7 2h0m-2 0h0m-6 0h0m7-2h0m4-1h0m-2 0h0m-2-1h0m-3-1h0m-2 0h0m8-1h0m-7-1h0m2-1h0m2 0h0m-1-2h0m3 0h0m0-2h0m-15-1h0m-2 0h0m4 1h0m-7 1h0m-1 2h0m-2 2h0m8 6h0m-10-5h0m-1-2h0m-2-3h0m-8 0h0m6-2h0m-2 14h0m6 8h0m-2 0h0m1 2h0m1 2h0m12 0h0m-7-1h0m-3 0h0m8-1h0m5 0h0m-10-1h0m8-1h0m2 0h0m-2-2h0m-3 0h0m-2-1h0m-2 0h0m-4-2h0m6 0h0m5 0h0m-3 0h0m-4-1h0m6-1h0m9 0h0m-4 0h0m2 1h0m10 0h0m-6 0h0m-2 1h0m2 2h0m2 1h0m-4 0h0m2 1h0m5 2h0m-9 0h0m-2 1h0m6 1h0m6 0h0m-10 0h0m-2 1h0m5 1h0m2 0h0m-4 0h0m13 0h0m2 0h0m6-1h0m-3-1h0m-2 0h0m-2 0h0m9 0h0m-9-2h0m6 0h0m-8 0h0m10-1h0m-4 0h0m-2 0h0m7-2h0m-5-1h0m3 0h0m-9-1h0m3 0h0m0-2h0m8-1h0m-8-1h0m17 1h0m-7 0h0m10 0h0m-7 1h0m8 1h0m-10 0h0m7 1h0m-9 0h0m13 1h0m-2 0h0m-5 1h0m-4 0h0m7 1h0m4 0h0m-2 0h0m-4 1h0m-2 0h0m6 1h0m-8 0h0m-2 0h0m7 1h0m-2 0h0m6 1h0m-8 0h0m6 1h0m-2 0h0m-5 1h0m3 0h0m9 0h0m9-1h0m-2 0h0m-2 0h0m7 0h0m-12-1h0m8-1h0m-4 0h0m2 0h0m5 0h0m-9-1h0m9-1h0m-7 0h0m2 0h0m2-1h0m-2-1h0m4 0h0m-8-1h0m-2 0h0m12 0h0m-7-1h0m2 0h0m3-1h0m-7 0h0m-3-1h0m12 0h0m-8-1h0m-2 0h0m-2-1h0m20 0h0m4 0h0m-2 0h0m-8 1h0m2 0h0m2 0h0m2 1h0m6 0h0m-3 0h0m-5 1h0m-4 0h0m2 2h0m7 0h0m-9 0h0m11 0h0m-6 2h0m-3 0h0m-3 0h0m8 1h0m-6 1h0m8 0h0m-10 0h0m8 1h0m-2 0h0m6 1h0m-6 1h0m16 1h0m-8 0h0m11 0h0m2 0h0m-11-1h0m11-1h0m-8 0h0m-5-1h0m9 0h0m-6 0h0m8-1h0m-4 0h0m-2 0h0m-1-2h0m2 0h0m2 0h0m-7-1h0m0-2h0m-1-4h0m23 1h0m3 1h0m-4 1h0m4 1h0m1 2h0m-8 1h0m6 1h0m-3 0h0m5 1h0m-10 0h0m2 0h0m-2 2h0m6 1h0m-8 0h0m4 0h0m17 1h0m-6 0h0m-2 0h0m10 0h0m2 0h0m-8-2h0m-4 0h0m7 0h0m2 0h0m2-1h0m-10-1h0m6 0h0m2 0h0m-4 0h0m7-1h0m-9 0h0m2-1h0m4 0h0m-2 0h0m-6 0h0m11-1h0m-9 0h0m-2-1h0m8 0h0m-3 0h0m7-1h0m-2 0h0m-7-1h0m-4 0h0m8 0h0m-2 0h0m7-1h0m-13-1h0m5 0h0m3-1h0m-5 0h0m22 0h0m-2 1h0m3 1h0m-11 2h0m-1 2h0m2 1h0m6 1h0m-8 1h0m2 1h0m9 1h0m-11 1h0m5 0h0m6 1h0m6-12h0m7-1h0m14 0h0m2 0h0m-8 0h0m4 0h0m-5 2h0m8 0h0m-5 0h0m-6 0h0m9 1h0m4 1h0m-2 0h0m-7 0h0m-2 0h0m5 1h0m2 1h0m-5 0h0m7 0h0m-4 1h0m-6 0h0m11 1h0m-3 0h0m-3 1h0m-5 0h0m8 1h0m4 0h0m-2 1h0m-4 1h0m10 1h0m5 0h0m2 0h0m2-1h0m-10-1h0m5 0h0m2-2h0m-4 0h0m-3 0h0m5 0h0m-7-1h0m4-1h0m2 0h0m5 0h0m-10-1h0m8 0h0m-5-1h0m3 0h0m2-1h0m-8-1h0m4 0h0m1-2h0m4 0h0m-7 0h0m11 0h0m9 1h0m2 1h0m0 2h0m-2 0h0m3 2h0m-3 0h0m-2 0h0m-2 1h0m-2 0h0m-3 1h0m8 0h0m2 1h0m2 0h0m-10 0h0m2 0h0m-4 1h0m6 0h0m4 1h0m3 1h0m-8 0h0m-5 0h0m2 0h0m6 0h0m10 0h0m8 0h0m-2-1h0m-2-1h0m-5-2h0m2 0h0m5-1h0m-10 0h0m4-1h0m2 0h0m2 0h0m-6 0h0m10-1h0m-2 0h0m-8-1h0m4 0h0m-2 0h0m6-1h0m-2 0h0m-4-1h0m9-3h0m3 0h0m2 0h0m7 0h0m-2 0h0m-4 2h0m4 0h0m-7 0h0m-2 0h0m7 0h0m-5 2h0m-2 0h0m11 0h0m-4 0h0m0 2h0m-3 0h0m7 2h0m-3 0h0m-2 0h0m-4 1h0m10 1h0m-4 1h0m2 0h0m3 2h0m6 0h0m-3 0h0m10-2h0m-12 0h0m3 0h0m4 0h0m-4-2h0m2 0h0m3 0h0m-1-2h0m-7-3h0m1-3h0m16 26h0m4-1h0m-6-1h0m1-2h0m3 0h0m-5-1h0m6-1h0m-2 0h0m-2-1h0m3-1h0m-3-1h0m-2-1h0m2-1h0m-2-1h0m-6-1h0m-2 1h0m-5 0h0m2 1h0m8 0h0m-3 0h0m-2 1h0m4 1h0m2 0h0m-11 1h0m4 0h0m3 0h0m5 1h0m-2 0h0m-2 1h0m-6 0h0m2 0h0m2 0h0m4 1h0m-8 1h0m-2 0h0m10 1h0m2 0h0m-4 0h0m-7 2h0m11 0h0m-7 1h0m3 0h0m2 0h0m-17 0h0m4 0h0m-10-1h0m4 0h0m-2 0h0m6-1h0m-2 0h0m-8 0h0m13-1h0m-8 0h0m-3 0h0m5-1h0m3 0h0m-2-2h0m-5 0h0m9 0h0m-2 0h0m-10-1h0m10-1h0m3 0h0m-9 0h0m-2-1h0m-2-1h0m2-1h0m-2-1h0m-5-1h0m-2 1h0m5 0h0m-8 2h0m-4 0h0m10 0h0m-2 0h0m4 1h0m-6 0h0m2 1h0m-5 1h0m6 1h0m-6 1h0m2 0h0m-5 1h0m12 1h0m-6 0h0m2 0h0m-6 1h0m2 0h0m3 1h0m-7 0h0m2 1h0m2 0h0m9 0h0m-25 0h0m2 0h0m8-1h0m-3 0h0m-2-1h0m-3 0h0m7-1h0m-5-1h0m2 0h0m-5-1h0m-2 0h0m6-1h0m6 0h0m-8 0h0m4 0h0m-3-2h0m2 0h0m-4 0h0m-3 0h0m11 0h0m-2 0h0m-7-2h0m7 0h0m-3 0h0m-2 0h0m7 0h0m-12-2h0m11 0h0m-3 0h0m-3 0h0m-18-1h0m9 1h0m-2 1h0m-5 0h0m-3 0h0m6 0h0m7 2h0m-12 0h0m4 1h0m-2 0h0m-2 1h0m12 0h0m-8 1h0m-2 0h0m4 1h0m6 0h0m-8 1h0m8 1h0m-4 0h0m2 0h0m-4 1h0m2 1h0m3 0h0m-7 0h0m2 1h0m-10 0h0m-10 0h0m3-2h0m-4 0h0m2 0h0m11-2h0m-6 0h0m-7 0h0m4 0h0m-2-2h0m3 0h0m-5-1h0m5-1h0m8 0h0m-2 0h0m-3-1h0m-5-1h0m9 0h0m-2 0h0m-4 0h0m4-2h0m-6 0h0m-4-1h0m13 0h0m-27 0h0m5 0h0m6 0h0m2 2h0m-2 0h0m-4 0h0m-3 0h0m-3 1h0m10 1h0m-2 0h0m4 0h0m-8 0h0m2 1h0m-5 0h0m-2 0h0m2 2h0m2 0h0m0 2h0m-2 0h0m10 1h0m-8 1h0m-17 1h0m12-2h0m-11 0h0m2 0h0m-4-1h0m5-1h0m6 0h0m-9 0h0m6 0h0m-8-1h0m13 0h0m-8-1h0m2 0h0m4-1h0m-11 0h0m2-1h0m5 0h0m-2 0h0m0-2h0m3-1h0m2 0h0m-7 0h0m3-1h0m-15 1h0m-3 0h0m8 1h0m-2 0h0m4 1h0m-8 0h0m-4 1h0m9 0h0m-7 0h0m4 0h0m5 2h0m-10 0h0m2 0h0m3 1h0m2 0h0m2 1h0m2 0h0m-10 1h0m2 0h0m6 1h0m-4 0h0m2 0h0m4 0h0m-5 2h0m-3 0h0m9 0h0m-2 1h0m-2 0h0m-21 0h0m6 0h0m-8 0h0m6-1h0m-2-1h0m6 0h0m-2 0h0m-8 0h0m2 0h0m-2-2h0m9 0h0m-2 0h0m-5 0h0m9-2h0m-4 0h0m-4 0h0m9-2h0m-4 0h0m2-1h0m-2-1h0m-2 0h0m7-1h0m-2 0h0m-2-2h0m-6 0h0m2 0h0m2 0h0m-17 0h0m8 2h0m-3 0h0m-7 0h0m2 0h0m6 2h0m-10 0h0m3 0h0m6 2h0m2 0h0m-7 0h0m9 1h0m-12 0h0m2 1h0m8 0h0m-2 0h0m-8 1h0m2 2h0m-2 0h0m2 2h0m-2 0h0m-2 0h0m-12-1h0m10-1h0m2-1h0m-2-1h0m2-2h0m-4-1h0m4-5h0m-19-1h0m2 0h0m-4 0h0m-2 0h0m8 0h0m-10 1h0m8 1h0m-2 0h0m-4 0h0m8 0h0m-1 2h0m-4 1h0m6 0h0m-9 1h0m-2 0h0m9 0h0m-11 0h0m3 2h0m2 0h0m2 0h0m6 0h0m-13 0h0m1 2h0m3 0h0m5 0h0m-2 1h0m5 0h0m-8 1h0m-3 0h0m12 1h0m-24 0h0m-3-1h0m12 0h0m-5-1h0m-6-1h0m2 0h0m-2-2h0m2 0h0m6 0h0m2-1h0m-6 0h0m-4-1h0m6 0h0m2 0h0m-6-1h0m-2-1h0m12 0h0m-7 0h0m2 0h0m3-1h0m-11-1h0m2 0h0m-3-2h0m-4 0h0m-7 1h0m9 0h0m-3 1h0m3 1h0m-10 0h0m3 1h0m3 0h0m6 0h0m-5 2h0m4 0h0m-8 0h0m2 0h0m-6 2h0m12 0h0m-2 0h0m-3 1h0m5 1h0m-3 0h0m-4 1h0m4 1h0m3 0h0m-5 0h0m-3 1h0m-11 0h0m3-1h0m-4-1h0m2 0h0m-6-8h0m11 0h0m-9-2h0m-16-1h0m5 1h0m-5 1h0m2 1h0m-4 0h0m2 1h0m2 1h0m-1 2h0m-2 0h0m0 2h0m-2-2h0m-4 12h0m2 1h0m1 2h0m1 3h0m0 2h0m11 0h0m-9 0h0m2 0h0m4-1h0m2-1h0m-8 0h0m8-2h0m-7-1h0m3 0h0m3-2h0m-3 0h0m18-6h0m-1 2h0m2 0h0m-9 2h0m9 0h0m-2 2h0m0 2h0m5 2h0m-1 3h0m8-1h0m-3-1h0m4-1h0m2-1h0m3 0h0m-5-1h0m-6 0h0m10-1h0m2 0h0m-4 0h0m3-2h0m1-2h0m-5-1h0m3 0h0m-5-1h0m-6-1h0m13 0h0m-3 0h0m-2 0h0m18 0h0m-11 0h0m2 1h0m9 1h0m-11 0h0m6 2h0m3 1h0m-8 1h0m10 1h0m-6 0h0m2 1h0m4 1h0m-2 0h0m-9 0h0m4 0h0m1 2h0m7 0h0m-4 0h0m-7 0h0m2 0h0m7 1h0m2 1h0m-9 0h0m4 0h0m-2 0h0m13 0h0m-4-1h0m11 0h0m-2-1h0m3-1h0m-6 0h0m4-1h0m2-1h0m-9 0h0m-4 0h0m6 0h0m2 0h0m3-1h0m-3-1h0m-2 0h0m-6-1h0m11-1h0m-7 0h0m3-1h0m-7-1h0m5 0h0m8 0h0m-4 0h0m-2-1h0m-4 0h0m8 0h0m-11-1h0m5 0h0m17 0h0m-7 0h0m3 1h0m-2 1h0m5 0h0m-2 1h0m8 1h0m-5 0h0m-6 0h0m-2 1h0m4 1h0m-2 0h0m8 1h0m-4 0h0m7 1h0m-11 0h0m2 0h0m7 1h0m-5 1h0m7 0h0m-9 0h0m6 1h0m-8 0h0m7 2h0m-9 0h0m27 0h0m-5-1h0m-2 0h0m-6 0h0m3-1h0m9 0h0m-11-1h0m6 0h0m2 0h0m-6-1h0m2 0h0m7 0h0m-5-1h0m2 0h0m4-1h0m-8 0h0m4-1h0m0-2h0m-6-2h0m-3-1h0m20-1h0m7 0h0m-9 0h0m-4 1h0m4 1h0m2 0h0m-1 2h0m5 0h0m-8 0h0m6 0h0m4 0h0m-7 2h0m-2 0h0m7 0h0m-4 2h0m2 0h0m1 2h0m-4 0h0m7 0h0m-5 0h0m-6 1h0m2 1h0m6 0h0m-3 0h0m15 1h0m6-1h0m-8 0h0m-2-1h0m10-6h0m-3-4h0m2 0h0m-5-1h0m13 1h0m-4 1h0m-2 1h0m8 3h0m-4 0h0m2 3h0m-2 1h0m1 2h0m-2 1h0m23-2h0m-3 0h0m2-2h0m5-8h0m1 3h0m7 5h0m16 4h0m-2-1h0m-2 0h0m5-1h0m-2-3h0m2-1h0m-2-2h0m-3-1h0m2-2h0m2 0h0m-6-1h0m4-1h0m14 0h0m-2 0h0m4 0h0m-12 0h0m2 1h0m2 0h0m3 1h0m-7 0h0m9 0h0m2 1h0m2 1h0m-4 1h0m2 0h0m2 2h0m-7 0h0m-4 0h0m9 0h0m-3 0h0m-6 2h0m-2 0h0m9 0h0m2 0h0m-5 1h0m-2 1h0m4 0h0m2 0h0m3 2h0m11 0h0m-9-1h0m6 0h0m-1-2h0m2 0h0m-4-1h0m7 0h0m-3-1h0m-2-1h0m-3 0h0m8 0h0m-10-1h0m8 0h0m-6-1h0m2 0h0m7 0h0m-3-2h0m-4 0h0m-3 0h0m5 0h0m-7-1h0m4-1h0m4 0h0m2 0h0m-10-1h0m6 0h0m18 0h0m2 1h0m-7 1h0m3 0h0m-6 0h0m11 1h0m-3 0h0m-8 1h0m2 0h0m5 1h0m-3 0h0m6 0h0m-12 1h0m4 0h0m5 1h0m3 0h0m-6 1h0m-3 0h0m6 1h0m2 1h0m-6 0h0m-5 1h0m7 0h0m-4 0h0m10 0h0m-4 1h0m4 1h0m-8 0h0m6 0h0m4 0h0m2 0h0m10-1h0m-7-1h0m-5-1h0m4-1h0m-5-1h0m2-1h0m-2-1h0m5-2h0m-3 0h0m2-2h0m9 0h0m-3-1h0m-8 0h0m2-1h0m-4 0h0m15 0h0m4 1h0m-2 0h0m-2 1h0m6 1h0m-4 0h0m10 1h0m-10 1h0m9 1h0m-3 1h0m-2 0h0m6 1h0m-2 0h0m-3 1h0m-7 1h0m12 0h0m-3 0h0m2 2h0m4 0h0m2 0h0m-3-2h0m2 0h0m-1-2h0m2 7h0m-1 2h0m2 0h0m2 0h0m-6 0h0m2 2h0m-2 0h0m1 2h0m-2 0h0m7 6h0m-7 0h0m-13 0h0m9 0h0m-7-1h0m2 0h0m3 0h0m4-1h0m-2 0h0m-7-1h0m-3 0h0m6 0h0m2 0h0m5-1h0m-7-1h0m5 0h0m-10 0h0m7 0h0m-5-1h0m-2-1h0m4-1h0m8 0h0m-10-1h0m-2 0h0m11-1h0m-7 0h0m-4-1h0m-4-2h0m-7 1h0m5 0h0m-2 0h0m-6 0h0m10 1h0m-10 1h0m8 0h0m4 0h0m-6 1h0m-3 1h0m-4 0h0m10 0h0m3 1h0m-7 0h0m2 0h0m-5 1h0m7 0h0m-5 1h0m-4 0h0m11 1h0m-9 0h0m5 0h0m2 0h0m-5 1h0m-2 1h0m8 0h0m-4 1h0m-2 0h0m8 0h0m-3 1h0m-24-1h0m8 0h0m-4 0h0m6-1h0m-4-1h0m-2-1h0m2-1h0m2 0h0m2 0h0m-9-1h0m5-1h0m-2 0h0m6 0h0m2 0h0m-10-1h0m3-1h0m7 0h0m-2-1h0m-9 0h0m6 0h0m-4-1h0m10 0h0m-6-1h0m-2 0h0m-3-1h0m7 0h0m-17 0h0m7 0h0m-9 0h0m-3 1h0m8 0h0m2 1h0m2 0h0m-8 0h0m3 1h0m-8 0h0m3 0h0m10 1h0m-8 1h0m-2 0h0m4 0h0m4 0h0m-2 0h0m1 2h0m-2 0h0m-2 1h0m-2 0h0m8 1h0m-7 1h0m-3 0h0m4 2h0m-3 0h0m-2 0h0m-2 1h0m-8 0h0m-2-1h0m9-8h0m-2-1h0m-10-2h0m13 0h0m-18-1h0m2 1h0m-4 0h0m2 2h0m-8 8h0m3 2h0m-3 0h0m-11 0h0m3 0h0m-6-1h0m3-1h0m-3-1h0m6 0h0m-4-1h0m2 0h0m-2-2h0m3 0h0m-4-2h0m3 0h0m-14-5h0m6 1h0m-3 0h0m-2 1h0m-2 0h0m6 1h0m-2 1h0m-6 0h0m10 1h0m-9 1h0m7 2h0m2 0h0m-9 1h0m9 1h0m-4 1h0m5 1h0m-2 0h0m-11 1h0m2 0h0m-9 0h0m2 0h0m-7 0h0m-2-1h0m4 0h0m3-1h0m2 0h0m-7 0h0m8-2h0m-5 0h0m2 0h0m-5 0h0m0-2h0m-2 0h0m4 0h0m-4-2h0m3 0h0m-2-2h0m4 0h0m-2-1h0m-2-1h0m-10-1h0m-3 0h0m9 0h0m-2 2h0m-5 0h0m2 0h0m-3 2h0m6 1h0m-9 1h0m11 1h0m-2 0h0m-6 1h0m4 0h0m6 1h0m-3 0h0m0 2h0m-5 0h0m-4 2h0m4 0h0m-9 0h0m2 0h0m-6 0h0m2-2h0m-2 0h0m6-1h0m-2 0h0m-6-1h0m3 0h0m2-1h0m3-1h0m-5-2h0m5 0h0m-11-1h0m9 0h0m-6-1h0m9 0h0m-7-1h0m2 0h0m2 0h0m-8 0h0m2-1h0m7-1h0m-5 0h0m2 0h0m-7 0h0m-4 0h0m-7 0h0m5 0h0m4 1h0m-11 0h0m-2 1h0m11 0h0m-2 1h0m-2 0h0m-4 0h0m2 1h0m-4 1h0m7 0h0m3 1h0m-4 1h0m2 0h0m-4 0h0m-2 0h0m10 2h0m-2 0h0m-4 0h0m-4 1h0m6 0h0m-4 0h0m5 2h0m-6 0h0m-2 1h0m-2 0h0m-8 0h0m-2-1h0m9-2h0m-9 0h0m-2 0h0m1-2h0m7-2h0m-5 0h0m-2 0h0m10-1h0m-6 0h0m-7-1h0m9 0h0m-4 0h0m-3 0h0m9-1h0m-4 0h0m2-1h0m-4 0h0m-5 0h0m2 0h0m5-1h0m4 0h0m2-1h0m-16 0h0m-11 1h0m6 0h0m2 0h0m4 1h0m-6 1h0m2 0h0m2 0h0m-8 1h0m2 0h0m4 1h0m2 0h0m2 0h0m-10 1h0m2 1h0m7 0h0m-3 1h0m-4 1h0m-2 0h0m3 2h0m-2 0h0m8 1h0m-11 0h0m8 1h0m-6 0h0m-7 0h0m-6 0h0m9 0h0m-12-1h0m6-1h0m4 0h0m-7 0h0m-2-1h0m7-1h0m-3 0h0m8-1h0m-10 0h0m2-1h0m5-1h0m-9 0h0m2-1h0m-2-1h0m4 0h0m8 0h0m-3-1h0m-2 0h0m-5 0h0m9-1h0m-11 0h0m4-1h0m2 0h0m3-1h0m-10 0h0m-12 1h0m2 0h0m4 1h0m5 1h0m-2 0h0m-5 0h0m-3 0h0m-3 1h0m8 0h0m-5 1h0m6 1h0m4 0h0m-11 1h0m9 0h0m-7 0h0m5 1h0m-4 1h0m8 0h0m-2 1h0m-9 0h0m6 1h0m-5 1h0m8 0h0m-5 0h0m-6 0h0m-6 1h0m4 0h0m-2-1h0m0-2h0m3-1h0m-13 0h0m-2-9h0m-9 1h0m2 1h0m5 1h0m-7 1h0m5 0h0m3 2h0m-8 0h0m5 0h0m2 2h0m2 0h0m-4 0h0m-2 1h0m-2 0h0m5 1h0m3 0h0m-10 0h0m3 1h0m2 1h0m-7 1h0m-1 5h0m-1 2h0m1 2h0m-1 2h0m-2 2h0m2 0h0m6 1h0m9 0h0m-2 0h0m-2 0h0m-3-1h0m-4 0h0m6-1h0m-4 0h0m6 0h0m3 0h0m-13-1h0m6 0h0m6-1h0m-4-1h0m2 0h0m-6 0h0m-2-1h0m4-1h0m2-1h0m-6 0h0m2 0h0m2-1h0m-5-1h0m3 0h0m-4-2h0m2 0h0m2-1h0m4 0h0m17 1h0m-2 0h0m-7 0h0m11 2h0m-11 0h0m4 0h0m-2 1h0m7 0h0m-9 2h0m-2 0h0m9 0h0m4 0h0m-8 2h0m7 0h0m-3 0h0m-2 0h0m-5 0h0m11 2h0m-2 0h0m-7 0h0m2 0h0m3 1h0m-8 0h0m10 1h0m-6 0h0m2 0h0m-4 1h0m16 0h0m-2 0h0m-3-1h0m13-1h0m-10 0h0m2 0h0m7-2h0m-7 0h0m-4 0h0m2 0h0m5-1h0m-6-1h0m4 0h0m-2 0h0m4-1h0m-5-1h0m-2 0h0m11 0h0m-6 0h0m3-1h0m2-1h0m-8-1h0m6 0h0m-2-1h0m-7 0h0m12 0h0m-7 0h0m-3-1h0m8 0h0m7 1h0m-3 0h0m9 1h0m-7 1h0m10 0h0m-8 1h0m2 0h0m2 0h0m2 0h0m-6 2h0m-4 0h0m2 0h0m7 0h0m2 1h0m-5 0h0m-4 1h0m-2 0h0m8 1h0m-7 1h0m3 0h0m5 1h0m-3 0h0m-3 1h0m9 1h0m5 0h0m7 0h0m-3 0h0m5 0h0m-6-2h0m6 0h0m-4 0h0m2-1h0m-2-1h0m-2 0h0m4-1h0m-5-1h0m7 0h0m-4-1h0m2 0h0m3-1h0m-11 0h0m3 0h0m4-2h0m-8 0h0m12 0h0m-9 0h0m3-1h0m4 0h0m-9-1h0m10-1h0m-7 0h0m5 0h0m-10 0h0m21 1h0m-2 0h0m4 0h0m-6 0h0m2 2h0m2 0h0m-4 0h0m6 1h0m-2 1h0m-2 0h0m-2 1h0m-2 1h0m4 0h0m-5 2h0m4 0h0m2 1h0m-4 0h0m-2 2h0m3 0h0m5 0h0m19 1h0m0-5h0m-6-2h0m3-2h0m-2 0h0m-2-1h0m1-2h0m-6 0h0m3 0h0m14 1h0m-4 2h0m7 1h0m2 1h0m-8 1h0m4 1h0m6 0h0m-2 1h0m-6 0h0m-2 0h0m10 1h0m-8 1h0m2 0h0m-5 0h0m7 0h0m2 0h0m3 1h0m-6 1h0m3 0h0m17 0h0m-3 0h0m-2-1h0m-3 0h0m7-1h0m-9-1h0m3 0h0m4-1h0m3-1h0m-5-1h0m-2-1h0m-2 0h0m9 0h0m-12-1h0m7 0h0m3 0h0m2-1h0m-8 0h0m-2 0h0m8-1h0m-7-1h0m4-1h0m5 0h0m-7 0h0m-2-1h0m23 0h0m-12 0h0m4 1h0m5 0h0m-7 1h0m10 1h0m-4 0h0m-8 0h0m2 1h0m2 0h0m-4 1h0m4 1h0m2 0h0m-4 1h0m-2 0h0m6 1h0m-3 1h0m-3 0h0m6 3h0m-6 0h0m11 0h0m2 0h0m4 1h0m9-7h0m0-2h0m-3-3h0m4 0h0m-12 0h0m14-1h0m9 1h0m-5 0h0m3 0h0m-7 1h0m7 1h0m5 0h0m-2 0h0m-5 1h0m-4 0h0m-2 0h0m13 1h0m-10 1h0m7 0h0m2 1h0m-6 1h0m6 1h0m-2 0h0m-8 1h0m7 2h0m3 0h0m-12 1h0m27 0h0m-8 0h0m2-1h0m2 0h0m-9 0h0m13-1h0m-2 0h0m-9 0h0m-2-1h0m5-1h0m5 0h0m2 0h0m-12-1h0m2 0h0m8-1h0m2 0h0m-8 0h0m-3-1h0m9-1h0m-4 0h0m-5-1h0m-1-3h0m3 0h0m19-1h0m-5 0h0m7 1h0m-5 0h0m8 1h0m-4 2h0m-3 0h0m7 0h0m-2 0h0m-9 1h0m2 0h0m7 1h0m-2 0h0m-6 1h0m10 0h0m-13 0h0m5 0h0m3 1h0m3 0h0m-7 1h0m-3 0h0m10 1h0m-5 0h0m-5 1h0m8 0h0m-5 1h0m6 1h0m2 0h0m4 0h0m-2 0h0m4-1h0m2 0h0m-5-1h0m4-1h0m-5-1h0m3 0h0m3-1h0m-2-1h0m5 0h0m-2-1h0m-6 0h0m11-1h0m-7 0h0m-2-1h0m4 0h0m-6 0h0m4-1h0m2-1h0m-6 0h0m2-1h0m2-1h0m2 0h0m-6 0h0m18 0h0m3 0h0m2 0h0m-7 0h0m-3 0h0m13 1h0m-7 1h0m3 0h0m-5 0h0m7 1h0m2 0h0m-6 1h0m-5 0h0m7 1h0m-4 0h0m-5 0h0m13 0h0m-2 0h0m-9 2h0m-2 0h0m13 0h0m-4 0h0m-5 1h0m2 0h0m6 1h0m-11 0h0m4 1h0m2 1h0m2 1h0m-5 0h0m-2 1h0m-2 0h0m11 0h0m-5 0h0m14-1h0m-2-1h0m7 0h0m-10-1h0m6 0h0m-4-1h0m6 0h0m4 0h0m-8 0h0m-1-2h0m-3 0h0m6 0h0m4 0h0m-2-1h0m2-1h0m-8 0h0m2 0h0m-4-1h0m8 0h0m-2-1h0m-3 0h0m7 0h0m2 0h0m-1-2h0m-2 0h0m-9 0h0m4-1h0m2 0h0m16 1h0m-6 0h0m-2 2h0m6 0h0m4 0h0m-6 0h0m3 2h0m-8 0h0m8 2h0m-5 1h0m14-5h0m-3 19h0m0 2h0m-12 2h0m9 0h0m-11 0h0m13 0h0m-4 0h0m-2 0h0m-3-1h0m2-1h0m2 0h0m-6-1h0m-2 0h0m12-1h0m-7 0h0m-5-1h0m13-1h0m-2 0h0m-3-2h0m-5-1h0m3 0h0m-2-2h0m-16-1h0m5 1h0m-6 1h0m1 2h0m-2 0h0m6 1h0m4 0h0m-2 1h0m-5 0h0m9 1h0m-6 1h0m3 0h0m2 1h0m-10 1h0m6 0h0m2 0h0m-1 2h0m3 0h0m-21 1h0m9-1h0m-6 0h0m4 0h0m-2-1h0m-7 0h0m3 0h0m-5-1h0m13 0h0m-8-1h0m5 0h0m3-1h0m-2-1h0m-10 0h0m8 0h0m-8-2h0m9 0h0m-2 0h0m4 0h0m-9-1h0m4-1h0m4 0h0m-10 0h0m8 0h0m4-1h0m-12-1h0m6 0h0m2 0h0m2 0h0m2-1h0m-23 0h0m-2 1h0m11 1h0m-2 0h0m-5 0h0m-6 2h0m2 0h0m9 1h0m2 0h0m-7 0h0m-6 1h0m2 0h0m11 1h0m-9 0h0m-3 1h0m6 0h0m-2 1h0m-3 1h0m6 1h0m-4 0h0m3 2h0m-2 0h0m-4 0h0m2 0h0m-4 0h0m-9 0h0m5-1h0m-3 0h0m-4-1h0m3-1h0m7-1h0m-4-1h0m-7 0h0m4-2h0m-2 0h0m8-1h0m-4 0h0m-5-1h0m7 0h0m-5 0h0m8-1h0m-6 0h0m-5-1h0m7 0h0m2 0h0m2-1h0m-8-1h0m4 0h0m-6 0h0m-6 0h0m-2 0h0m-5 1h0m3 0h0m6 0h0m-12 1h0m9 0h0m-4 1h0m2 0h0m6 0h0m-2 0h0m0 2h0m-4 0h0m2 1h0m4 0h0m-6 1h0m-5 0h0m-2 0h0m4 0h0m7 1h0m-10 1h0m8 0h0m4 0h0m-8 0h0m2 1h0m3 1h0m3 0h0m-13 1h0m5 0h0m-3 0h0m6 0h0m5 1h0m-22 0h0m-3-1h0m10-1h0m-3-1h0m-7 0h0m-2 0h0m13-1h0m-13-1h0m8 0h0m-2 0h0m5-1h0m-8 0h0m4-1h0m-2 0h0m-4 0h0m2-1h0m7 0h0m-4-1h0m4-1h0m-7 0h0m2-1h0m7-2h0m-25 1h0m12 3h0m-12 0h0m4 1h0m-2 0h0m10 1h0m-1 2h0m-8 0h0m4 2h0m-5 0h0m3 0h0m6 1h0m-5 1h0m2 0h0m-9 1h0m5 0h0m-3 0h0m-5 0h0m-9 0h0m3-1h0m4 0h0m4-1h0m-10 0h0m-2 0h0m5-1h0m-4-1h0m2 0h0m6-1h0m2 0h0m-8-1h0m3-1h0m-3-1h0m-3-1h0m12 0h0m-2-1h0m-9-1h0m11 0h0m-13-1h0m3-1h0m8 0h0m-21 0h0m-2 0h0m10 1h0m-2 0h0m-2 0h0m-2 1h0m-2 0h0m-3 0h0m9 1h0m3 0h0m-5 0h0m-5 1h0m-2 0h0m8 1h0m4 1h0m-2 0h0m-7 0h0m4 1h0m-2 0h0m5 1h0m-8 0h0m10 1h0m-8 0h0m6 1h0m-8 0h0m4 0h0m-2 1h0m8 1h0m-2 0h0m-6 1h0m-9 0h0m3-1h0m-1-4h0m-2-2h0m2 0h0m-2-2h0m-9 0h0m4-1h0m5-1h0m3 0h0m-10 0h0m5-1h0m-3 0h0m6-1h0m2 0h0m-11 0h0m-8 3h0m0 2h0m-3 1h0m5 0h0m3 0h0m-5 2h0m-3 0h0m-2 0h0m9 0h0m-9 2h0m2 0h0m6 1h0m-3 1h0m-4 0h0m8 1h0m-6 0h0m-4 0h0m-11 0h0m1-2h0m2-2h0m2 0h0m-5-1h0m7 0h0m-2-1h0m-9-4h0m2-2h0m-3 0h0m7-1h0m-17 1h0m-2 0h0m4 0h0m2 0h0m-8 0h0m11 1h0m-5 1h0m-4 0h0m-2 0h0m3 2h0m2 0h0m-4 0h0m-1 2h0m2 0h0m2 0h0m5 0h0m-9 2h0m7 0h0m-5 1h0m3 0h0m3 1h0m-5 1h0m-5 1h0m-3-1h0m-6 0h0m-2 0h0m2-2h0m4 0h0m2 0h0m-4 0h0m6 0h0m-10 0h0m6-2h0m2 0h0m3-1h0m-2-1h0m2-3h0m-25-3h0m0 2h0m-1 2h0m0 3h0m13 2h0m-13 0h0m5 1h0m-2 1h0m10 0h0m-3 0h0m-4 1h0m-5 0h0m2 1h0m6 0h0m2 0h0m-15 0h0m-10 0h0m12-1h0m-8-1h0m6 0h0m-2-1h0m2-1h0m2 0h0m-7-2h0m6 0h0m-3-1h0m-6-2h0m9 0h0m-4 0h0m-7 0h0m1-2h0m8-1h0m-3-1h0m6 0h0m-11 0h0m-13 0h0m-2 0h0m8 1h0m3 0h0m-9 1h0m11 0h0m-13 1h0m5 0h0m0 2h0m-2 0h0m4 0h0m5 1h0m-11 0h0m9 0h0m-2 1h0m-5 0h0m2 0h0m-5 1h0m10 0h0m3 1h0m-6 1h0m-6 0h0m3 2h0m2 0h0m2 1h0m-8 0h0m-9 0h0m5-1h0m-3 0h0m5 0h0m-7-1h0m-2 0h0m7-1h0m3 0h0m-5-1h0m-2 0h0m-2 0h0m8-1h0m-7-1h0m3 0h0m-6-1h0m9 0h0m2 0h0m-5-1h0m-2 0h0m6-1h0m-2 0h0m-6 0h0m2-2h0m3 0h0m3-1h0m-2-1h0m-7 14h0m8 0h0m-4 1h0m2 0h0m2 1h0m-5 1h0m-2 0h0m5 1h0m-3 1h0m-2 0h0m8 0h0m-2 1h0m-2 0h0m-3 1h0m-2 0h0m10 1h0m-6 1h0m2 0h0m4 1h0m-9 1h0m7 0h0m-4 0h0m6 1h0m-3 1h0m11 0h0m-5 0h0m2-1h0m7-1h0m-10 0h0m6-1h0m6-1h0m-8 0h0m-3-1h0m9 0h0m-3 0h0m-4-1h0m-2-1h0m11 0h0m-7-1h0m7-1h0m-9 0h0m-2-1h0m-2 0h0m5-1h0m5 0h0m2 0h0m-10-1h0m-2 0h0m4-1h0m2 0h0m6 0h0m5 2h0m-3 0h0m11 2h0m-6 0h0m-4 0h0m4 2h0m-2 0h0m-2 1h0m4 1h0m-4 1h0m2 0h0m4 0h0m-1 2h0m-3 0h0m-3 2h0m27-4h0m-8-6h0m3 0h0m-6 0h0m9-2h0m-9 0h0m5 0h0m-7 0h0m5-1h0m10 0h0m11 1h0m-10 1h0m10 1h0m-9 2h0m1 2h0m-3 0h0m9 3h0m-7 1h0m-3 0h0m12 1h0m-11 1h0m2 0h0m7 0h0m-2 0h0m7-1h0m6-6h0m-3-6h0m-3 0h0m23 0h0m1 2h0m-8 1h0m23 10h0m-2-1h0m2-1h0m-12-1h0m13-1h0m-2 0h0m-3 0h0m4-2h0m-3 0h0m3-2h0m-7-1h0m-4-3h0m6 0h0m14 0h0m6 1h0m-12 2h0m6 1h0m5 1h0m-7 0h0m-5 0h0m3 1h0m6 0h0m-2 0h0m5 1h0m-10 1h0m2 0h0m5 0h0m-2 0h0m4 1h0m2 0h0m-11 1h0m7 0h0m-3 1h0m6 0h0m-12 0h0m10 1h0m14-1h0m-10 0h0m6-1h0m-5-1h0m2-1h0m2 0h0m2 0h0m-7-1h0m5-1h0m2 0h0m-5-1h0m-2-2h0m4-1h0m-2-1h0m7 0h0m-7-2h0m9 0h0m4 1h0m11 0h0m-2 0h0m-2 0h0m-2 1h0m5 1h0m-1 2h0m-4 1h0m7 1h0m-10 2h0m8 4h0m12 0h0m-5 0h0m-4 0h0m2 0h0m9-1h0m-11-1h0m13 0h0m-2-1h0m2-1h0m-2-1h0m-10 0h0m12-1h0m-12-1h0m11-1h0m-2 0h0m-7-1h0m-3 0h0m13-1h0m-2 0h0m-2 0h0m-2-1h0m3-1h0m-10 0h0m2 0h0m6-1h0m17 0h0m-8 0h0m-3 1h0m2 1h0m5 0h0m2 0h0m2 0h0m-6 0h0m7 2h0m-6 0h0m-2 1h0m4 0h0m-8 0h0m2 0h0m10 1h0m-11 1h0m11 1h0m-2 0h0m-7 0h0m2 0h0m-4 1h0m11 1h0m-2 0h0m-2 0h0m-4 0h0m-3 1h0m3 1h0m7 0h0m-11 1h0m6 0h0m17 0h0m2 0h0m-9-1h0m-2 0h0m13-1h0m-6 0h0m2 0h0m2 0h0m-6-1h0m-5 0h0m2 0h0m10-1h0m-5 0h0m3-1h0m-10 0h0m4 0h0m-2 0h0m10-1h0m-7-1h0m5 0h0m-2 0h0m-8 0h0m2-1h0m10 0h0m1-2h0m-4 0h0m-9 0h0m11 0h0m-6-1h0m-3 0h0m-2-1h0m10 0h0m-6-1h0m4 0h0m-2 0h0m14 0h0m4 0h0m-9 1h0m3 0h0m9 0h0m-2 1h0m-8 1h0m6 0h0m4 0h0m-7 0h0m5 1h0m-5 1h0m-6 0h0m4 0h0m9 0h0m-5 1h0m-6 0h0m9 1h0m-11 0h0m13 0h0m-9 1h0m2 0h0m2 0h0m-6 0h0m-2 1h0m7 1h0m-4 0h0m-2 1h0m9 1h0m-10 1h0m5 0h0m3 0h0m5 0h0m12 0h0m2 0h0m-9 0h0m-2-1h0m6 0h0m4-1h0m-12 0h0m4 0h0m2 0h0m-4-1h0m8 0h0m2-1h0m-12 0h0m7-1h0m2 0h0m4-1h0m-12 0h0m3-1h0m3 0h0m3 0h0m3-1h0m-8-1h0m4 0h0m2 0h0m-4-1h0m-5 0h0m7-1h0m-3-1h0m-4 0h0m2 0h0m5-1h0m17 0h0m-3 0h0m-3 1h0m5 1h0m2 0h0m-4 1h0m2 1h0m2 1h0m-13 4h0m12 1h0m-12 1h0m10 1h0m-2 0h0m-3 1h0m-2 0h0m-2 0h0m11 0h0m4 0h0m10 0h0m-7 0h0m2 0h0m6-2h0m-6 0h0m2 0h0m-4 0h0m6-1h0m-3-1h0m2-1h0m3 0h0m-11 0h0m-2-1h0m5-2h0m7 0h0m-11 0h0m2 0h0m7-3h0m2 0h0m0-2h0m-2 0h0m15 0h0m-4 0h0m3 2h0m-10 0h0m12 0h0m-6 1h0m2 0h0m-7 1h0m2 1h0m6 0h0m-2 0h0m4 1h0m-6 0h0m-4 1h0m8 0h0m-2 0h0m-3 1h0m4 1h0m-7 0h0m4 2h0m-2 0h0m5 1h0m-2 1h0m-2 0h0m5 14h0m-7 0h0m2 0h0m-4-1h0m2-1h0m2-2h0m4 0h0m-7-1h0m1-2h0m2-1h0m4 0h0m-8-1h0m2 0h0m4-1h0m-2-1h0m-4-1h0m6 0h0m-10-1h0m-3 1h0m5 1h0m-6 1h0m-3 1h0m6 0h0m3 1h0m-5 0h0m-3 1h0m5 0h0m2 1h0m-9 0h0m11 0h0m-6 0h0m-3 1h0m9 1h0m-11 0h0m-2 1h0m10 1h0m-8 1h0m-2 0h0m12 1h0m-2 0h0m-3 0h0m-10 0h0m-4 0h0m-2-1h0m-3-1h0m9 0h0m-7-1h0m3 0h0m0-2h0m4 0h0m-6 0h0m8 0h0m-4 0h0m-5-2h0m3-1h0m2-1h0m4-1h0m-6 0h0m-7 0h0m11 0h0m-2-1h0m-3-1h0m-5 0h0m2 0h0m5-1h0m2 0h0m-16 0h0m-7 0h0m5 0h0m7 1h0m-2 0h0m-6 1h0m-2 1h0m7 0h0m-2 0h0m4 0h0m-11 0h0m5 1h0m2 1h0m3 0h0m-11 0h0m2 0h0m2 1h0m9 1h0m-5 0h0m2 0h0m-9 0h0m4 1h0m-3 1h0m7 0h0m-2 0h0m-7 0h0m5 1h0m2 1h0m-4 0h0m6 0h0m2 0h0m-6 1h0m-2 1h0m5 0h0m-8 0h0m-4 0h0m-2 0h0m4-1h0m-10 0h0m-2 0h0m7-1h0m-3 0h0m6-1h0m-8 0h0m-2 0h0m5-1h0m6-1h0m-8 0h0m-3 0h0m9 0h0m-2-1h0m-2 0h0m8 0h0m-13-1h0m2 0h0m7 0h0m-5-1h0m8 0h0m-6 0h0m3-1h0m4-1h0m-6 0h0m-4-1h0m-2 0h0m10 0h0m-4-1h0m2 0h0m4 0h0m-8 0h0m-3-1h0m-11 0h0m-5 0h0m10 1h0m-7 0h0m9 1h0m-7 0h0m-5 1h0m7 0h0m4 1h0m-2 0h0m4 0h0m-10 1h0m2 0h0m-5 0h0m12 1h0m-2 0h0m-3 1h0m-2 0h0m-3 0h0m7 1h0m2 0h0m-9 1h0m8 1h0m-22 2h0m3 0h0m3-1h0m-8 0h0m3-1h0m3 0h0m-6-1h0m2-2h0m6 0h0m-2-1h0m-5-1h0m2 0h0m6 0h0m-5-2h0m-3 0h0m10 0h0m-2-1h0m-5-1h0m-4 0h0m11 0h0m-5 0h0m-4-1h0m6 0h0m-10 0h0m-6 0h0m-4 1h0m2 0h0m4 0h0m4 1h0m-2 0h0m-4 0h0m-2 1h0m-2 1h0m7 0h0m4 0h0m-13 1h0m4 0h0m4 1h0m4 1h0m-10 0h0m-2 0h0m4 0h0m6 0h0m-2 1h0m-2 0h0m-6 1h0m3 0h0m7 0h0m2 0h0m-6 2h0m-5 0h0m7 0h0m4 1h0m-2 0h0m-9 1h0m3 0h0m2 0h0m-16 0h0m9 0h0m-2 0h0m-5 0h0m2-1h0m3-1h0m2 0h0m-12-1h0m8 0h0m2-1h0m-9-1h0m-2 0h0m12-1h0m-2 0h0m-10-1h0m9-1h0m-2 0h0m5 0h0m-12-1h0m13-1h0m-1-2h0m-10-1h0m7 0h0m-23 2h0m13 0h0m-1 2h0m-2 0h0m1 2h0m-2 0h0m0 2h0m2 1h0m0 4h0m-12-7h0m-11-1h0m9-1h0m-2 0h0m-5 0h0m9 0h0m-11-1h0m9-1h0m-11 0h0m9-1h0m-9-1h0m12 0h0m-10 0h0m-8 0h0m2 1h0m-3 2h0m5 1h0m-2 0h0m-2 2h0m-2 0h0m4 0h0m-3 2h0m2 0h0m2 1h0m-8 0h0m2 0h0m3 1h0m-3 1h0m3 1h0m-5 0h0m-14-2h0m-2-5h0m2 0h0m-2-2h0m0-2h0m2 0h0m-17-1h0m11 1h0m-9 0h0m4 1h0m7 1h0m-5 1h0m2 0h0m2 1h0m-8 0h0m2 0h0m3 1h0m-7 0h0m-2 0h0m6 1h0m5 0h0m-10 1h0m2 0h0m2 1h0m2 0h0m-6 1h0m2 1h0m-2 1h0m-2-2h0m-1-2h0m-4 0h0m0-2h0m2 0h0m-7-2h0m4 0h0m2 0h0m-4-1h0m6 0h0m-4-2h0m-5 0h0m9 0h0m-6-1h0m-32 6h0m2-5h0m2-1h0m-19 0h0m4 0h0m7 1h0m-9 0h0m4 0h0m-2 1h0m-4 1h0m2 0h0m10 0h0m-3 2h0m-7 0h0m2 0h0m9 0h0m-13 1h0m4 1h0m9 1h0m-7 0h0m-4 0h0m6 1h0m3 0h0m-8 1h0m8 1h0m-10 0h0m12 0h0m-7 1h0m5 1h0m-11 0h0m9 0h0m-11 0h0m-4-1h0m2 0h0m3-1h0m-7 0h0m2-1h0m-5-5h0m2 0h0m7-1h0m-3 0h0m-2-2h0m4 0h0m-8 12h0m7 0h0m-2 1h0m-5 1h0m9 0h0m-3 1h0m-5 1h0m6 1h0m5 7h0m2-1h0m1-2h0m2-2h0m-2-1h0m2-3h0m3-2h0m-2-1h0m62 7h0m-1-2h0m-1-3h0m3 1h0m2 2h0m8 5h0m2 2h0m2 1h0m11 0h0m-4 0h0m-5-1h0m9-1h0m-7 0h0m2 0h0m3-2h0m3 0h0m-5-1h0m-4 0h0m7-1h0m-4-1h0m7 0h0m-9 0h0m-4-2h0m5 0h0m3 0h0m0-2h0m-2 0h0m4-1h0m13 1h0m4 0h0m-2 2h0m2 0h0m-11 1h0m10 1h0m-10 1h0m-2 1h0m2 1h0m-2 1h0m2 1h0m9 1h0m-11 0h0m17-1h0m-2 0h0m3-2h0m-3 0h0m8-1h0m-8-1h0m3 0h0m9-1h0m-11-1h0m2-1h0m8 0h0m-4-1h0m-7 0h0m5 0h0m6-1h0m-9-1h0m4 0h0m2-1h0m14 0h0m-8 0h0m12 1h0m-6 1h0m4 0h0m-2 0h0m-6 1h0m-1 9h0m20 1h0m3 0h0m-9 0h0m-2 0h0m6-1h0m-2 0h0m5-1h0m-3-1h0m5-1h0m-5-1h0m2 0h0m3-1h0m2 0h0m-4-1h0m-4 0h0m2 0h0m3-2h0m-8 0h0m5 0h0m-2 0h0m4-2h0m-5-1h0m-3 0h0m5 0h0m3-1h0m4 0h0m-2 0h0m4 0h0m10 1h0m-2 0h0m-2 1h0m-6 0h0m10 1h0m-2 1h0m4 0h0m-2 1h0m-11 0h0m6 0h0m2 1h0m-6 0h0m9 1h0m-8 1h0m3 0h0m5 1h0m-6 1h0m6 1h0m2 0h0m-10 0h0m3 1h0m3 0h0m-8 1h0m12 0h0m2 0h0m6 0h0m-2-1h0m6-1h0m-8 0h0m6 0h0m-8-1h0m4-1h0m6 0h0m2-1h0m-1-2h0m-3 0h0m1-2h0m16-4h0m-8 0h0m-3 0h0m9 1h0m-6 1h0m3 2h0m-4 2h0m2 0h0m4 0h0m-8 2h0m3 0h0m2 0h0m3 0h0m2 0h0m0 2h0m-6 0h0m3 0h0m-5 1h0m-3 1h0m2 1h0m22-3h0m-2-1h0m3-1h0m2 0h0m-4-1h0m-3 0h0m-2 0h0m7-1h0m-3-1h0m5 0h0m-2-1h0m-5 0h0m-2-1h0m9-1h0m-4 0h0m2 0h0m-4 0h0m3-2h0m-5 0h0m22 0h0m-12 0h0m2 0h0m2 0h0m5 1h0m-8 1h0m6 0h0m4 1h0m-6 0h0m-5 1h0m9 0h0m-2 1h0m5 0h0m-7 1h0m-2 0h0m6 0h0m-9 1h0m5 1h0m6 0h0m-9 0h0m5 0h0m-5 2h0m6 0h0m-2 0h0m-7 1h0m6 1h0m4 0h0m-2 1h0m-4 0h0m-2 0h0m12 0h0m7-1h0m2 0h0m-7 0h0m11 0h0m-8-2h0m4 0h0m-2 0h0m4 0h0m2 0h0m-1-2h0m-3 0h0m-2 0h0m-6-1h0m4-1h0m-2 0h0m5 0h0m4-1h0m-11 0h0m9 0h0m-4-2h0m3 0h0m2 0h0m-11 0h0m3 0h0m8-2h0m-3 0h0m-3 0h0m-4-1h0m13 0h0m5 1h0m-2 1h0m-3 1h0m5 1h0m-3 0h0m0 2h0m-2 0h0m4 1h0m-3 1h0m3 3h0m-3 0h0m4 2h0m5 0h0m2 0h0m-9 0h0m11-1h0m0 3h0m-3 8h0m-4-1h0m5-1h0m-3-1h0m-4 0h0m7-1h0m-5 0h0m-4-1h0m-2 0h0m8-1h0m-4 0h0m-3-1h0m-2 0h0m4-1h0m8 0h0m-12-1h0m-6 0h0m3 0h0m-9 0h0m2 1h0m6 1h0m-10 0h0m12 1h0m-10 0h0m5 0h0m-7 1h0m9 0h0m-4 0h0m-2 1h0m-6 3h0m-4-1h0m2 0h0m4 0h0m-5-2h0m-2-2h0m6 0h0m-2-2h0m-6 0h0m2-1h0m-6 0h0m12 0h0m-26 3h0m0 2h0m3 0h0m3 0h0m5 1h0m-2 0h0m-7 1h0m2 0h0m2 0h0m3 1h0m2 0h0m-5 1h0m7 0h0m-10 0h0m-2 0h0m7 1h0m-8 1h0m5 0h0m-2 1h0m4 0h0m-8 1h0m-8 0h0m3 0h0m-5-1h0m-2 0h0m9 0h0m-2-1h0m-2 0h0m-2-1h0m6 0h0m-9-1h0m12-1h0m-4 0h0m-4 0h0m-2 0h0m4-1h0m-3-1h0m5 0h0m-7 0h0m6-2h0m2 0h0m-10 0h0m1-2h0m-1-2h0m4 0h0m-9 0h0m-4 1h0m2 0h0m-5 1h0m8 0h0m2 1h0m-3 1h0m-2 0h0m5 1h0m-2 1h0m-2 0h0m5 1h0m-8 1h0m4 0h0m-1 2h0m3 0h0m2 1h0m-2 1h0m-8 0h0m10 1h0m-8 0h0m-18 0h0m2 0h0m2 0h0m2-1h0m2 0h0m-8-1h0m3 0h0m-2-2h0m-2-1h0m12-1h0m-10-1h0m3-2h0m6-2h0m-8 0h0m10-1h0m-12 0h0m9-1h0m-2 0h0m-5 0h0m-11 0h0m4 1h0m3 0h0m-6 1h0m-3 0h0m9 1h0m-3 0h0m-10 2h0m8 0h0m2 0h0m-5 1h0m8 0h0m-3 1h0m-10 0h0m8 1h0m-4 0h0m7 1h0m-5 0h0m-6 0h0m2 1h0m11 0h0m-4 0h0m-4 1h0m7 1h0m-2 1h0m-3 0h0m-20-5h0m9-2h0m-7-1h0m-3 0h0m12 0h0m-10-2h0m8 0h0m-24-3h0m2 0h0m-2 2h0m13 1h0m-2 4h0m-7 3h0m3 1h0m-17 2h0m5-3h0m3-1h0m-12 0h0m12-2h0m-2 0h0m-5-2h0m-5 0h0m2 0h0m9-1h0m-10-2h0m7-1h0m-22 0h0m4 0h0m6 0h0m-8 1h0m11 0h0m-2 1h0m-11 1h0m10 1h0m2 0h0m-10 0h0m2 1h0m8 1h0m-11 0h0m8 1h0m-8 1h0m5 3h0m7 0h0m-15-3h0m-2-3h0m2 0h0m-2-2h0m2 0h0m-3-2h0m3 0h0m0-2h0m15 15h0m2-1h0m2 1h0m3 1h0m-5 1h0m3 0h0m4 0h0m-2 1h0m-2 1h0m0 2h0m50-4h0m12-3h0m-3 1h0m-7 0h0m4 0h0m4 2h0m2 0h0m-4 2h0m6 0h0m-3 0h0m18 4h0m-8-1h0m-2-2h0m3 0h0m2 0h0m2-1h0m-6-1h0m4 0h0m-2 0h0m6 0h0m-12-2h0m5 0h0m-3 0h0m7-1h0m-7-1h0m13 0h0m2 0h0m2 1h0m2 0h0m2 0h0m-9 1h0m2 0h0m2 1h0m4 0h0m2 0h0m-8 1h0m8 1h0m-46 9h0m4 1h0m-7 1h0m2 0h0m-4 0h0m7 0h0m2 1h0m-8 1h0m5 0h0m-2 0h0m-5 0h0m10 2h0m-4 0h0m-5 0h0m2 0h0m5 1h0m-3 1h0m-3 1h0m5 0h0m-5 2h0m-2 0h0m5 0h0m4 0h0m-2 0h0m-2 2h0m-3 0h0m-2 0h0m7 0h0m-9-1h0m-3-1h0m2-1h0m2-2h0m-3 0h0m-2 0h0m5-2h0m-9 0h0m8-2h0m1-2h0m-2 0h0m-15 3h0m0 2h0m2 2h0m14 5h0m-2 0h0m2 2h0m0 2h0m-4 0h0m5 2h0m-3 0h0m0 3h0m-2 0h0m8-4h0m5-2h0m-4 0h0m-3 0h0m5 0h0m-4-2h0m2 0h0m4 0h0m-2 0h0"/>
<path id="K2" vector-effect="non-scaling-stroke" d="M-208 -71h0m7 0h0m2-1h0m-3-1h0m5 0h0m-2-1h0m-5-1h0m7-1h0m-2 0h0m0-2h0m2 0h0m9-2h0m2 2h0m2 0h0m-11 2h0m12 1h0m-10 1h0m17 0h0m-3 0h0m-2 0h0m6-2h0m-3 0h0m-2 0h0m5-2h0m0-2h0m-7-1h0m17 5h0m11 18h0m-8 1h0m2-1h0m-7 0h0m11 0h0m-8 0h0m-3-2h0m12 0h0m-9 0h0m4-1h0m-5-1h0m3 0h0m-6 0h0m10-2h0m-8 0h0m4 0h0m6-1h0m-6-5h0m-19 4h0m9 1h0m2 2h0m-3 1h0m2 1h0m-4 2h0m6 0h0m-2 1h0m2 1h0m-21 0h0m7 0h0m-4-1h0m-1-7h0m-15-5h0m-2 2h0m-5 0h0m6 5h0m-2 1h0m-2 1h0m-7 4h0m-2 0h0m-3-1h0m6-1h0m2 0h0m-6-2h0m4 0h0m-6-1h0m8 0h0m-5-3h0m4 0h0m2-1h0m-2-1h0m-2 0h0m3-2h0m-2-1h0m-6 0h0m7 14h0m-5 1h0m2 1h0m2 0h0m-6 1h0m-2 0h0m6 1h0m-3 1h0m-4 0h0m9 5h0m-7 1h0m9 0h0m-12 1h0m10 1h0m2 0h0m2-1h0m9-1h0m2 0h0m-9 0h0m2-1h0m2-1h0m5 0h0m-3-1h0m-4 0h0m6-1h0m-8-1h0m11 0h0m-2-1h0m2-1h0m-2-2h0m7-2h0m2 1h0m-4 0h0m11 0h0m-9 1h0m7 0h0m-2 0h0m-2 2h0m2 0h0m1 2h0m-8 1h0m6 1h0m3 0h0m-8 1h0m10 1h0m-8 0h0m4 0h0m-7 1h0m5 0h0m4 1h0m8 1h0m4 0h0m-2-6h0m5-6h0m-11-1h0m26 0h0m-2 0h0m-7 0h0m4 1h0m2 1h0m2 0h0m-10 1h0m8 2h0m-8 0h0m0 5h0m4 2h0m12-3h0m-1-6h0m-3-1h0m1-2h0m55 26h0m-10 1h0m-2-1h0m-2-2h0m2 0h0m0-2h0m2 0h0m-9-1h0m-3 0h0m2 2h0m4 0h0m-8 1h0m3 1h0m4 0h0m-2 0h0m4 1h0m-5 1h0m-2 0h0m-2 0h0m-6-2h0m-1-2h0m-5-2h0m-2-3h0m-2-1h0m-6-2h0m3 0h0m-8 2h0m-2 4h0m-2 0h0m3 2h0m-2 0h0m7 1h0m-8 1h0m5 2h0m-10 0h0m-2 0h0m3-2h0m-3-1h0m3-1h0m2 0h0m-9 0h0m3-1h0m5-1h0m-4-1h0m2-1h0m2 0h0m-6-1h0m0-2h0m4-1h0m-17-1h0m-2 2h0m3 0h0m-2 4h0m-5 5h0m-9 2h0m0-2h0m7-3h0m-11-1h0m6-2h0m-3-1h0m2-1h0m-3-1h0m-17-2h0m-1 3h0m1 2h0m3 1h0m-4 1h0m13 4h0m-2 0h0m0 2h0m-18-5h0m5-2h0m-2 0h0m-8-3h0m10 0h0m-2-1h0m3-1h0m-22 3h0m8 1h0m-1 19h0m15-10h0m-11 4h0m9 3h0m-2 0h0m4 2h0m-2 0h0m-9 0h0m4 0h0m3 1h0m-5 0h0m7 1h0m-8 1h0m6 1h0m5 0h0m4 0h0m-2 0h0m6-1h0m-7-1h0m2 0h0m6-1h0m-8-1h0m2 0h0m0-2h0m1-2h0m3-1h0m-5-1h0m11-3h0m-6 0h0m16 2h0m-8 6h0m9 0h0m3 1h0m-8 1h0m8 1h0m-12 0h0m6 1h0m2 0h0m2 1h0m-7 0h0m13 0h0m2 0h0m-2-2h0m-2 0h0m5-1h0m-5-1h0m3 0h0m4-4h0m2-2h0m-2-1h0m1-2h0m14 1h0m-2 0h0m-6 2h0m7 0h0m4 2h0m0 2h0m-4 0h0m2 2h0m3 0h0m0 2h0m-8 1h0m8 1h0m10 0h0m-8 0h0m6 0h0m-4 0h0m0-2h0m5 0h0m-7 0h0m3-2h0m2 0h0m3 0h0m-7 0h0m-2-2h0m3 0h0m8 0h0m-4-1h0m-7-1h0m9 0h0m2 0h0m-6-2h0m3 0h0m2-1h0m-2-1h0m-2 0h0m19-1h0m-3 1h0m-3 0h0m-2 0h0m9 1h0m-4 3h0m3 3h0m-7 4h0m14 1h0m9 0h0m0-2h0m-3 0h0m-1-2h0m2-1h0m-4-3h0m6-1h0m-13-1h0m10 0h0m-5 0h0m2 0h0m-5-1h0m10 0h0m-12-1h0m7 0h0m-3 0h0m6-1h0m3 0h0m2 0h0m-1 2h0m1 2h0m11 1h0m-11 7h0m4 1h0m13 10h0m-1 2h0m5 2h0m-16-1h0m2 0h0m-4 0h0m4-2h0m-2 0h0m-3 0h0m7-1h0m-6-1h0m-2 0h0m2-2h0m5-3h0m-7-3h0m-8 4h0m2 1h0m-4 1h0m-4 2h0m5 0h0m-3 0h0m7 1h0m-6 1h0m2 0h0m-4 2h0m4 0h0m-20-1h0m6-9h0m-5 0h0m-2 0h0m3-2h0m-2 0h0m-8 1h0m-4 3h0m4 2h0m-6 0h0m1 2h0m11 1h0m-4 0h0m-9 0h0m4 1h0m-2 1h0m-2 0h0m13 0h0m-5 0h0m2 0h0m-5 2h0m2 0h0m3 0h0m-12-1h0m-3-3h0m3-1h0m-2-1h0m-2 0h0m5-1h0m-5-1h0m4-1h0m-2-1h0m-24-3h0m9 0h0m-6 1h0m7 1h0m-5 0h0m2 1h0m-7 0h0m3 0h0m3 3h0m-6 1h0m7 2h0m-6 1h0m3 0h0m3 1h0m-2 1h0m-2 0h0m-2 0h0m7 1h0m-12 0h0m2-1h0m1-2h0m-2 0h0m-4-1h0m2 0h0m-9-1h0m4 0h0m4-1h0m-2-1h0m-2 0h0m-4-1h0m3-1h0m8-1h0m-4-1h0m-7 0h0m10-1h0m2 0h0m-8 0h0m2-1h0m-4 0h0m-2 0h0m-10 1h0m5 1h0m-7 0h0m4 0h0m-2 1h0m4 1h0m-3 2h0m-2 0h0m4 0h0m3 0h0m-9 1h0m5 1h0m-2 1h0m7 2h0m-5 1h0m-19 1h0m3-1h0m7-2h0m-7 0h0m-2 0h0m-2-2h0m8-2h0m-7 0h0m12-1h0m-11-1h0m4 0h0m4 0h0m-6-1h0m2-2h0m-5 0h0m10-1h0m-16 1h0m2 0h0m2 1h0m-2 1h0m-2 0h0m4 1h0m-6 0h0m4 1h0m2 1h0m-6 0h0m4 3h0m1 4h0m0 14h0m-2-1h0m3-4h0m-3-1h0m2-1h0m1-2h0m-2-2h0m8-2h0m7 3h0m-7 0h0m-4 1h0m6 0h0m3 1h0m-7 1h0m3 0h0m7 0h0m-13 0h0m8 0h0m0 2h0m-4 0h0m2 0h0m4 0h0m-9 2h0m2 1h0m-1 2h0m23-1h0m-4-1h0m6 0h0m-11-1h0m11-2h0m-9-2h0m-3-1h0m8 0h0m4-1h0m-13-1h0m17-3h0m-3 0h0m11 1h0m-4 0h0m-6 1h0m3 0h0m5 0h0m-3 1h0m5 0h0m-8 1h0m-2 0h0m7 1h0m-3 0h0m-5 1h0m8 1h0m2 0h0m2 1h0m-11 1h0m2 0h0m3 0h0m2 1h0m-7 1h0m8 2h0m-8 0h0m25 0h0m-4 0h0m-4 0h0m5-2h0m-3 0h0m-2 0h0m-2 0h0m-2-2h0m11-1h0m-11-1h0m3-2h0m9 0h0m-2 0h0m-9 0h0m10-2h0m2 0h0m-3-3h0m-7 0h0m14 3h0m-2 1h0m4 1h0m-3 1h0m-2 2h0m13 2h0m-11 1h0m-2 0h0m11 1h0m-9 1h0m2 0h0m12-1h0m5-5h0m5-1h0m-2-1h0m-2 0h0m4-1h0m-11-1h0m7 0h0m-2 0h0m7-1h0m-9-1h0m6 0h0m-8-1h0m10 0h0m2 0h0m2 0h0m0 2h0m9 1h0m-9 1h0m5 0h0m5 1h0m-7 0h0m-5 0h0m9 1h0m-2 0h0m4 1h0m-2 1h0m4 1h0m-3 1h0m-6 0h0m8 1h0m-8 1h0m5 0h0m2 1h0m3 0h0m7-1h0m5 0h0m-2 0h0m-2-2h0m-6-1h0m4 0h0m2-1h0m-8-1h0m8-1h0m-6-1h0m2 0h0m3-1h0m-7-1h0m8-2h0m-6-1h0m24 2h0m-9 7h0m-3 2h0m18 2h0m9 0h0m-2-1h0m-11 0h0m12-3h0m-9-2h0m3 0h0m5 0h0m-3-1h0m4-1h0m-5-2h0m7 5h0m2 1h0m5 1h0m-7 1h0m5 0h0m2 1h0m-4 0h0m2 1h0m9 4h0m4 10h0m-9-1h0m-3-1h0m-6 0h0m8-1h0m-8-1h0m4 0h0m-3-2h0m2 0h0m6-1h0m-6-1h0m-3 0h0m1-2h0m2 0h0m-2-2h0m9 0h0m-4 0h0m-18-1h0m10 1h0m-4 2h0m3 0h0m-9 1h0m10 1h0m-9 1h0m2 0h0m5 0h0m-8 2h0m2 0h0m4 1h0m-2 1h0m-3 0h0m9 1h0m-2 0h0m-2 1h0m-6 0h0m8 1h0m-15 0h0m2-1h0m-2-1h0m4-2h0m-11-1h0m3-2h0m-5 0h0m1-2h0m-6-4h0m2 1h0m1 2h0m-2 0h0m2 2h0m-2 2h0m2 1h0m-12 0h0m5 0h0m-2 0h0m0 2h0m-2 0h0m0 2h0m2 0h0m-13 0h0m-3-2h0m7-2h0m-4 0h0m6-1h0m-4-1h0m2 0h0m2-1h0m-4-1h0m2 0h0m-2-2h0m-2 0h0m4 0h0m-7-1h0m12 0h0m-2 0h0m-8-1h0m2 0h0m2 0h0m-19 0h0m4 5h0m-5 0h0m5 2h0m-2 0h0m-3 0h0m4 2h0m-2 0h0m-2 0h0m1 2h0m6 0h0m-3 0h0m-1 2h0m-13 0h0m2 0h0m-4 0h0m6 0h0m-4-2h0m-4 0h0m2 0h0m6 0h0m2 0h0m2-1h0m-9-1h0m3 0h0m-6 0h0m12-1h0m-4-1h0m-8 0h0m2 0h0m1-2h0m3-1h0m-6 0h0m8-1h0m-4 0h0m-3-1h0m5 0h0m-7-2h0m-4 0h0m-3 2h0m6 0h0m-3 0h0m-7 0h0m8 2h0m-2 0h0m4 0h0m-9 0h0m-3 0h0m10 2h0m2 0h0m-7 2h0m-6 0h0m13 0h0m-10 1h0m-2 1h0m12 0h0m-2 2h0m2 1h0m-14 0h0m-2 0h0m-1-2h0m2-1h0m-2-1h0m-10-1h0m12 0h0m-5 0h0m-4-1h0m9-1h0m-10-1h0m4-1h0m2 0h0m-8-1h0m2-1h0m6 0h0m-8-1h0m-2-1h0m-3 4h0m-3 0h0m1 2h0m-6 0h0m2 2h0m-2 0h0m4 1h0m-1 2h0m6 1h0m-8 0h0m-14-2h0m11-5h0m-10-1h0m9-1h0m-10-1h0m2-1h0m-10-1h0m5 2h0m-5 0h0m-1 2h0m3 3h0m-2 0h0m-2 2h0m4 1h0m-2 1h0m-2 0h0m1 2h0m5 13h0m-6-1h0m5-3h0m2-5h0m-4-1h0m-2 0h0m4-1h0m-2-1h0m10 0h0m0 2h0m-1 2h0m11 9h0m9-3h0m-4-1h0m6-1h0m-1-2h0m-3-1h0m-5-1h0m7 0h0m-8-2h0m2 0h0m14-2h0m7 6h0m2 3h0m-2 0h0m2 2h0m-1 2h0m4 0h0m7-1h0m-7-1h0m2 0h0m8-1h0m-5 0h0m2 0h0m-8-1h0m4 0h0m-2 0h0m10-1h0m-6 0h0m4 0h0m-6-1h0m-5 0h0m3 0h0m5-1h0m3-1h0m-5-1h0m-2-1h0m9 0h0m-3 0h0m-8-1h0m6 0h0m-2 0h0m-2-1h0m7 0h0m2 0h0m-5-1h0m14 1h0m-7 5h0m0 2h0m11 1h0m-9 1h0m-2 0h0m1 2h0m2 0h0m17 1h0m-3-1h0m9-1h0m-9-1h0m-2-2h0m5 0h0m6 0h0m-12-2h0m4 0h0m0-2h0m-2 0h0m1-3h0m5 0h0m-2-1h0m19 0h0m-4 1h0m2 0h0m-4 0h0m1 2h0m3 0h0m2 0h0m-8 0h0m-3 1h0m11 1h0m-3 0h0m-3 0h0m-2 1h0m-3 0h0m7 1h0m-2 0h0m4 1h0m2 0h0m-8 0h0m-2 1h0m4 1h0m4 0h0m2 0h0m-2 2h0m-2 0h0m-2 0h0m-5 1h0m11 0h0m8 0h0m-4-1h0m-2 0h0m12-1h0m-11-1h0m2 0h0m5-1h0m-2 0h0m-4-1h0m-2-1h0m8 0h0m-3-1h0m-3 0h0m5-1h0m-7 0h0m5-1h0m-3-1h0m5 0h0m2 0h0m-5-1h0m-4 0h0m10-1h0m-5-1h0m-5 0h0m2 0h0m23 0h0m-4 2h0m2 0h0m2 2h0m-11 1h0m2 1h0m2 2h0m0 3h0m8 0h0m-3 2h0m7-1h0m6-6h0m2-1h0m3 0h0m-7 0h0m-2-1h0m-2-1h0m5 0h0m2-1h0m2 0h0m-6-1h0m7-1h0m2 0h0m9 0h0m-9 2h0m2 0h0m11 1h0m-9 1h0m2 1h0m7 3h0m-6 0h0m5 2h0m-6 1h0m-2 2h0m12 0h0m-2-2h0m2 0h0m-1-2h0m0 9h0m2 0h0m-14 8h0m4 0h0m-6-1h0m5-1h0m2-5h0m-8-4h0m2-1h0m-4 2h0m-8 8h0m9 2h0m-16 1h0m-2 0h0m-5-2h0m3 0h0m2-3h0m-9-2h0m3-4h0m6-1h0m-2-1h0m-2 0h0m6 0h0m-15 0h0m-10 0h0m5 1h0m7 0h0m-11 1h0m2 0h0m3 1h0m3 0h0m2 0h0m-8 1h0m7 1h0m-2 0h0m-8 0h0m2 1h0m10 1h0m-3 0h0m-2 1h0m-3 0h0m-2 1h0m9 0h0m-7 1h0m-2 1h0m2 2h0m-4 0h0m-6-1h0m-4 0h0m2 0h0m5-1h0m2 0h0m-12 0h0m4-1h0m7-1h0m-3 0h0m-2 0h0m-6 0h0m4-1h0m-2-1h0m4 0h0m2 0h0m-8 0h0m11-1h0m-7 0h0m3-1h0m-3-1h0m-3 0h0m10-1h0m-9-1h0m-2 0h0m5 0h0m2 0h0m2-1h0m2 0h0m-8-1h0m2 0h0m2 0h0m-11 1h0m-7 0h0m9 0h0m-13 0h0m2 1h0m7 0h0m2 1h0m-2 1h0m4 0h0m-12 0h0m2 0h0m2 1h0m6 0h0m-8 1h0m-2 1h0m11 0h0m-5 0h0m2 1h0m4 1h0m-9 0h0m7 1h0m-4 0h0m2 1h0m4 0h0m-8 0h0m-3 1h0m4 1h0m-6 0h0m-2 0h0m-2-1h0m-7 0h0m-2 0h0m4 0h0m2 0h0m6-1h0m-9-1h0m4 0h0m-2 0h0m-5-1h0m12 0h0m-2-1h0m-7 0h0m9-1h0m-7-1h0m-5 0h0m8 0h0m4-1h0m-2 0h0m-10-1h0m6 0h0m-4 0h0m8-1h0m-2 0h0m-5-1h0m3 0h0m-6 0h0m11-1h0m-4-1h0m-5 0h0m7 0h0m-21 1h0m10 1h0m-5 0h0m-19 11h0m2 0h0m-1-2h0m-3 0h0m5 0h0m2-1h0m2-2h0m-5-1h0m3-2h0m3 0h0m-4-2h0m3 0h0m-5 0h0m-2 0h0m5-2h0m4 0h0m-25 0h0m2 0h0m2 2h0m-3 0h0m-1 4h0m11 3h0m-10 1h0m4 1h0m-4 1h0m-16 0h0m11 0h0m-1-2h0m2-4h0m-8-1h0m7-1h0m2-2h0m-2 0h0m-9 0h0m10-2h0m-12 0h0m-7-1h0m-3 3h0m6 2h0m-6 0h0m3 2h0m2 0h0m4 1h0m-5 1h0m3 0h0m-6 1h0m2 1h0m4 0h0m-2 0h0m0 2h0m-2 0h0m5 14h0m-5-5h0m3-2h0m-7-2h0m6 0h0m2 0h0m-6-1h0m8 0h0m-5-1h0m2 0h0m-7 0h0m10-1h0m-11-1h0m13 1h0m5 2h0m-5 1h0m7 1h0m-4 1h0m-2 0h0m-2 0h0m6 1h0m-2 1h0m4 0h0m9 4h0m9-2h0m1-2h0m-2 0h0m-2 0h0m2-2h0m-2-1h0m-8-2h0m10-2h0m10 0h0m-7 1h0m5 1h0m-1 2h0m6 0h0m-4 1h0m6 1h0m-12 3h0m13 2h0m10 1h0m3 0h0m-11 0h0m2-2h0m8 0h0m-5 0h0m7-1h0m-6-1h0m4-1h0m2 0h0m-9-1h0m4 0h0m4-1h0m-4-1h0m-2 0h0m-2 0h0m6 0h0m2-1h0m-9-1h0m2 0h0m5-1h0m2-1h0m3-1h0m9 0h0m-2 0h0m-2 0h0m-3 0h0m10 1h0m-6 1h0m-7 0h0m2 0h0m9 1h0m-7 0h0m-2 1h0m4 0h0m-6 2h0m3 0h0m2 0h0m-4 3h0m2 0h0m4 0h0m-2 2h0m-3 1h0m-2 1h0m26-1h0m-5-1h0m2 0h0m-5 0h0m9-1h0m-7-1h0m5 0h0m-11 0h0m8 0h0m-4-1h0m-2 0h0m6-1h0m-2 0h0m6-1h0m-3-2h0m-8-1h0m12 0h0m-5-1h0m3 0h0m-10-1h0m4 0h0m4-1h0m5 0h0m3 0h0m2 0h0m2 1h0m-4 1h0m-2 0h0m4 0h0m2 2h0m-6 0h0m3 0h0m7 1h0m-7 1h0m5 0h0m-7 0h0m-2 0h0m6 1h0m7 0h0m-4 1h0m2 0h0m-11 0h0m2 0h0m4 1h0m-2 0h0m9 0h0m-12 1h0m8 0h0m2 1h0m-4 0h0m-2 0h0m-2 1h0m-2 0h0m6 1h0m4 0h0m3 0h0m2-1h0m7 0h0m-9-1h0m2-1h0m6 0h0m-2 0h0m4-1h0m-2-1h0m4 0h0m-7-1h0m-4 0h0m7-1h0m5-1h0m-3 0h0m-10 0h0m2-1h0m2-3h0m7-1h0m-9 0h0m22 1h0m2 1h0m-3 1h0m-2 2h0m-2 2h0m22 6h0m-8-8h0m22-3h0m-13 8h0m3 0h0m2 0h0m1 2h0m-5 0h0m3 0h0m10-12h0m4 17h0m2 2h0m2 2h0m-1 2h0m-11 4h0m-4-1h0m2 0h0m-3-7h0m6-1h0m-4-1h0m-7 0h0m5-3h0m-3 0h0m-4 1h0m-7 1h0m6 1h0m2 2h0m-2 4h0m-9 3h0m3 1h0m-14 0h0m-1-2h0m-1-5h0m-4-5h0m-9 0h0m-4 6h0m11 1h0m-1 2h0m-7 0h0m9 1h0m-3 1h0m-8 0h0m-12 1h0m6-1h0m4 0h0m-13 0h0m11-1h0m-8 0h0m3 0h0m7-1h0m-5 0h0m-2-1h0m5 0h0m-7 0h0m-2 0h0m6-1h0m-5-1h0m7-2h0m-9-1h0m5-2h0m-2 0h0m-2 0h0m7-1h0m-4-1h0m-2 0h0m-7 4h0m-7 0h0m3 1h0m3 1h0m-8 0h0m2 0h0m3 1h0m5 1h0m-3 0h0m-7 0h0m2 1h0m3 0h0m-2 2h0m-4 0h0m8 0h0m2 2h0m-11-5h0m-13 0h0m1-5h0m-1-2h0m-12 0h0m9 0h0m-4 1h0m5 1h0m-3 0h0m-8 1h0m6 0h0m3 1h0m-7 0h0m9 0h0m-11 1h0m6 0h0m-2 1h0m5 0h0m2 0h0m-11 1h0m2 0h0m3 1h0m-4 1h0m2 1h0m3 1h0m-6 0h0m-2 1h0m-13 0h0m3 0h0m6 0h0m-3 0h0m5-2h0m-10 0h0m3 0h0m2 0h0m2-1h0m5 0h0m-9-1h0m7 0h0m2-1h0m-2-2h0m2 0h0m-6-2h0m6 0h0m-2-2h0m-7-2h0m-17 0h0m2 1h0m-2 1h0m2 1h0m2 0h0m3 1h0m-4 1h0m-4 0h0m6 0h0m-4 1h0m5 1h0m5 1h0m-7 0h0m5 1h0m-2 1h0m1 2h0m-2 0h0m4 1h0m-15-1h0m-2-2h0m5-1h0m-12-3h0m11-1h0m-9-2h0m-3-2h0m2-1h0m-5 1h0m-1 24h0m15-11h0m-4 10h0m14 3h0m-3-1h0m-2-8h0m6-1h0m-2-1h0m-2 0h0m-2 0h0m6-1h0m5 0h0m-7-1h0m-4 0h0m19 1h0m-6 1h0m8 1h0m-6 0h0m9 4h0m0 2h0m0 2h0m-5 1h0m4 1h0m3 0h0m3 0h0m2 0h0m4 0h0m2 0h0m-4-1h0m3-1h0m-8 0h0m-2 0h0m5-1h0m2 0h0m-6-1h0m8 0h0m-6-1h0m2 0h0m2-1h0m2-1h0m-6-1h0m-2 0h0m9-1h0m-3 0h0m-2-1h0m-2-1h0m4 0h0m-2-1h0m-3-1h0m21 0h0m3 2h0m-2 1h0m2 2h0m-2 0h0m0 2h0m2 4h0m7 2h0m3 0h0m4-1h0m-8-1h0m3-1h0m4 0h0m-6-1h0m-2-1h0m10-1h0m-3 0h0m-2-1h0m-8 0h0m5 0h0m-2-1h0m8 0h0m2 0h0m-13-1h0m6 0h0m2 0h0m2-1h0m-8 0h0m2 0h0m4-1h0m4 0h0m-6-1h0m-2 0h0m6 0h0m3-1h0m2 0h0m4 0h0m5 0h0m2 1h0m-10 1h0m-2 0h0m5 0h0m7 1h0m-11 1h0m4 0h0m5 0h0m2 1h0m-4 1h0m-5 0h0m2 1h0m-4 0h0m11 0h0m-2 1h0m-6 1h0m7 1h0m-10 0h0m6 0h0m-3 1h0m-4 1h0m2 0h0m13-1h0m8-2h0m-9-1h0m0-5h0m12-1h0m-5 0h0m3 0h0m-5-1h0m3-1h0m2 0h0m-9 0h0m22 0h0m3 0h0m-6 1h0m2 1h0m-4 1h0m4 1h0m2 0h0m-4 1h0m0 2h0m-6 0h0m12 3h0m5 3h0m10-1h0m-11-7h0m-2-1h0m2-1h0m2 0h0m-4-1h0m2-1h0m2 0h0m-4-1h0m22 0h0m-2 0h0m4 1h0m-9 1h0m6 0h0m4 1h0m-5 1h0m3 1h0m-3 1h0m5 0h0m-8 0h0m10 1h0m-2 3h0m-2 2h0m10-2h0m2-9h0m-5 13h0m-1 2h0m2 0h0m-3 2h0m3 0h0m-3 3h0m-1 3h0m-1-2h0m-7 0h0m3-1h0m-7-1h0m10 0h0m-1-2h0m-3-1h0m-7-2h0m-6-1h0m-4 1h0m2 1h0m4 0h0m-2 1h0m-4 1h0m6 1h0m-3 1h0m-4 0h0m-2 1h0m4 0h0m2 1h0m-7 1h0m3 0h0m0 2h0m4 0h0m-2 0h0m-5 1h0m10 1h0m-2 0h0m-3 0h0m-11 0h0m4-1h0m-2 0h0m2-2h0m-2 0h0m-1-2h0m3 0h0m-1-2h0m-6-1h0m2 0h0m2-2h0m2-1h0m2-2h0m-22 2h0m-2 2h0m-3 3h0m2 1h0m4 1h0m-4 1h0m2 1h0m-4 0h0m6 1h0m-4 1h0m-10 0h0m-6-2h0m5 0h0m5-2h0m-3-1h0m-2-1h0m2-1h0m2 0h0m-2-2h0m2-1h0m-9-3h0m3 0h0m-16 1h0m5 0h0m-3 0h0m4 2h0m-7 0h0m2 0h0m3 0h0m7 2h0m-10 0h0m2 0h0m-4 1h0m7 0h0m2 0h0m-6 1h0m2 1h0m2 0h0m-5 1h0m-2 0h0m4 1h0m2 0h0m-6 1h0m5 1h0m-3 1h0m-8 0h0m-8 0h0m2 0h0m8-1h0m2-1h0m-8 0h0m-3 0h0m7-1h0m2 0h0m-4 0h0m-3-1h0m9 0h0m-12 0h0m9-1h0m-2 0h0m-2 0h0m7-1h0m-2-1h0m-8 0h0m10-1h0m-11-1h0m2 0h0m8-2h0m-2 0h0m-8-1h0m11-1h0m-2 0h0m-11 0h0m-5 1h0m-7 0h0m4 0h0m-2 0h0m7 0h0m3 1h0m-10 1h0m3 0h0m7 1h0m-12 0h0m11 2h0m-4 0h0m-8 0h0m2 0h0m3 0h0m5 1h0m-6 1h0m4 0h0m-2 1h0m2 1h0m4 0h0m-2 0h0m-9 0h0m2 1h0m-2 1h0m11 0h0m-6 0h0m4 0h0m-2 0h0m-16 0h0m7-2h0m-3-2h0m3 0h0m-12-2h0m6 0h0m4-1h0m2-1h0m-2-1h0m2-1h0m-4 0h0m-12-2h0m-2 0h0m-4 0h0m2 1h0m-2 1h0m5 0h0m3 11h0m-19-1h0m0-7h0m-5-5h0m-2 0h0m8 14h0m4 1h0m-4 1h0m-5 0h0m7 1h0m-5 1h0m-3 0h0m8 1h0m-11 1h0m3 0h0m2 1h0m2 0h0m-5 1h0m8 1h0m-10 0h0m6 0h0m-2 1h0m5 2h0m-9 0h0m6 0h0m15 1h0m1-2h0m-3-2h0m4 0h0m-9-5h0m14 2h0m10 1h0m2 0h0m0 2h0m0 2h0m3 2h0m12-2h0m-13-2h0m12 0h0m-5-1h0m-5 0h0m-2-1h0m12 0h0m-5-1h0m4-1h0m2-1h0m-8 0h0m6-1h0m-3 0h0m-2-1h0m-2 0h0m-3-1h0m8-1h0m3 0h0m-9 0h0m2 0h0m14 0h0m3 1h0m2 1h0m-2 1h0m2 1h0m-9 0h0m3 0h0m2 1h0m7 1h0m-9 0h0m-4 0h0m8 0h0m-6 0h0m2 2h0m2 0h0m-4 0h0m-2 0h0m10 1h0m-4 1h0m1 2h0m-6 1h0m8 0h0m5 0h0m4-1h0m-3-2h0m7-2h0m-5-2h0m9-3h0m-12-3h0m5 0h0m20 0h0m-3 0h0m-6 0h0m4 1h0m-2 1h0m6 0h0m-10 0h0m7 1h0m-5 0h0m9 1h0m-8 1h0m3 0h0m3 1h0m-5 1h0m11 6h0m10 0h0m2-2h0m-3-1h0m-8-7h0m-2-1h0m27-2h0m-3 0h0m1 2h0m-2 0h0m-2 1h0m-4 0h0m8 1h0m-6 0h0m8 1h0m-5 0h0m3 1h0m-3 1h0m-8 1h0m10 0h0m2 0h0m-9 2h0m-2 2h0m2 1h0m11-3h0m13-1h0m-2 0h0m2-2h0m-4-4h0m-6-2h0m6 0h0m5 2h0m1 2h0m3 4h0m-3 0h0m6 1h0m-7 1h0m5 0h0m-2 2h0m3 0h0m0 13h0m-2 0h0m0-2h0m1-2h0m-3-1h0m4-1h0m-2 0h0m-4-3h0m5-1h0m-3-1h0m-2 0h0m8-1h0m-10 1h0m-9 9h0m-17-7h0m8-1h0m-9-2h0m-6 4h0m3 4h0m2 2h0m-8 0h0m8 3h0m-22 0h0m-2 0h0m-2-2h0m1-2h0m8-3h0m3-1h0m1-3h0m0-2h0m-14 0h0m-10 2h0m-2 1h0m0 2h0m5 1h0m-5 7h0m12 0h0m-25 0h0m3-2h0m2-1h0m2 0h0m-6 0h0m8-2h0m-7 0h0m3 0h0m2 0h0m1-2h0m-2 0h0m-2 0h0m7 0h0m-11 0h0m-2 0h0m9-2h0m-2 0h0m6 0h0m-2 0h0m-7 0h0m-2 0h0m-2 0h0m3-2h0m8 0h0m-4-1h0m2 0h0m-4-1h0m7 0h0m-25 3h0m2 0h0m8 2h0m-10 0h0m4 0h0m-2 0h0m4 0h0m3 2h0m-9 0h0m2 0h0m5 0h0m-2 1h0m1 2h0m-2 0h0m4 2h0m-3 0h0m5 1h0m-22-2h0m2-7h0m8-1h0m-16-3h0m-7 0h0m4 1h0m-8 1h0m12 0h0m-6 0h0m4 1h0m-2 0h0m4 1h0m-3 1h0m-2 1h0m-12-4h0m-3-2h0m-2 0h0m5 0h0m25 14h0m5 1h0m2 8h0m-1 2h0m-1 2h0m3 0h0m11-1h0m-10-1h0m2 0h0m-1-5h0m3-1h0m7-1h0m-3-3h0m9-1h0m-4 0h0m11 0h0m-4 1h0m6 1h0m-4 0h0m2 0h0m-8 0h0m8 2h0m2 1h0m-4 0h0m-5 0h0m6 2h0m-2 0h0m-2 0h0m1 3h0m16 3h0m-2-1h0m-7-1h0m11 0h0m-2 0h0m4-3h0m-8-3h0m-4-1h0m6-1h0m-6-1h0m19-2h0m-4 2h0m6 0h0m5 2h0m-5 2h0m-4 0h0m0 2h0m2 0h0m2 2h0m3 2h0m-4 0h0m20 1h0m-6 0h0m-3-1h0m6-1h0m-2 0h0m4-1h0m-8-1h0m-2 0h0m8 0h0m-2 0h0m-2 0h0m7-1h0m-2-1h0m-7 0h0m-2 0h0m7 0h0m-2 0h0m-2-2h0m2 0h0m3 0h0m-8-1h0m3-1h0m3-2h0m4 0h0m3-1h0m3 2h0m-3 5h0m2 0h0m2 1h0m-2 1h0m8 1h0m-11 0h0m5 0h0m-3 1h0m5 1h0m-2 0h0m-3 1h0m17 0h0m-2-1h0m-2 0h0m8-2h0m-3-1h0m-2 0h0m6-1h0m2 0h0m-8-1h0m2 0h0m7-1h0m-11 0h0m9 0h0m-3 0h0m3-2h0m-1-2h0m5 2h0m4 3h0m-2 0h0m-3 1h0m5 1h0m2 0h0m-4 1h0m3 1h0m-2 1h0m2 1h0m-5 9h0m2-3h0m-2-1h0m2-1h0m1-2h0m-15-1h0m-2 0h0m4 1h0m8 0h0m-6 1h0m2 0h0m2 1h0m-3 1h0m-4 0h0m-2 0h0m11 0h0m-7 1h0m5 0h0m-3 1h0m5 0h0m-10 0h0m6 2h0m3 5h0m-21-3h0m5-3h0m-3 0h0m5 0h0m-12-1h0m1-2h0m11-2h0m-7 0h0m-4-1h0m4-1h0m4 0h0m-14 0h0m3 1h0m-2 1h0m-2 0h0m-2 0h0m7 1h0m-2 1h0m-4 0h0m2 8h0m-19-5h0m5-4h0m-2-1h0m2-2h0m-12 0h0m-6 0h0m-4 0h0m6 1h0m-5 1h0m-2 1h0m6 0h0m-2 1h0m-2 0h0m9 2h0m-5 1h0m7 0h0m-13 1h0m9 0h0m-5 1h0m2 0h0m5 0h0m-9 1h0m3 1h0m2 0h0m-5 1h0m2 1h0m3 0h0m-15-10h0m2-1h0m-2-1h0m7-1h0m-2 0h0m-2 0h0m-19 1h0m6 4h0m22 11h0m-2-2h0m21 0h0m2 0h0m-1 2h0m-3 1h0m5 0h0m-3 1h0m-2 1h0m2 1h0m-2 1h0m4 0h0m14 1h0m2-1h0m-9-3h0m-1-3h0m24 0h0m-2 0h0m-2 2h0m12 0h0"/>
<path id="K3" vector-effect="non-scaling-stroke" d="M0 -225h0m6 0h0m-4-1h0m-2-1h0m-9-5h0m-2 1h0m4 1h0m-2 0h0m4 1h0m-7 0h0m-2 0h0m4 1h0m7 0h0m-11 1h0m7 0h0m-5 0h0m7 1h0m2 1h0m-13 0h0m-2-1h0m-2-2h0m4 0h0m-97 17h0m11-3h0m-9 2h0m2 0h0m13 1h0m3 0h0m4-3h0m-9-2h0m9 0h0m-2 0h0m0-2h0m0-2h0m7 1h0m11 5h0m-5 1h0m9 2h0m8 0h0m31 0h0m-1-4h0m-1-3h0m2 0h0m1-2h0m2-1h0m12 1h0m-13 2h0m11 1h0m-7 1h0m9 0h0m-7 0h0m2 0h0m-7 1h0m9 0h0m-7 1h0m9 0h0m-5 0h0m-2 1h0m-4 0h0m9 1h0m-2 0h0m4 0h0m-9 0h0m3 1h0m18 0h0m-8-1h0m2 0h0m9 0h0m-7-1h0m5 0h0m-2-1h0m-7 0h0m11 0h0m-9 0h0m-4 0h0m12-2h0m-7 0h0m-3 0h0m6-1h0m2 0h0m3-1h0m-11 0h0m-2 0h0m5-1h0m6 0h0m-2-1h0m4 0h0m-7-1h0m-4 0h0m9 0h0m-7-1h0m4 0h0m-6-1h0m9 0h0m-5-1h0m-6 0h0m9 0h0m17 0h0m-3 0h0m-7 0h0m5 1h0m2 1h0m-5 0h0m2 1h0m-4 0h0m10 0h0m-8 1h0m6 0h0m-2 0h0m-6 1h0m11 0h0m-9 1h0m7 0h0m-3 0h0m-7 1h0m10 1h0m-5 0h0m3 0h0m-6 0h0m-2 3h0m13-8h0m0-2h0m-23 13h0m-3 0h0m-11 1h0m-2-1h0m5 0h0m-18 10h0m-7 3h0m-7-1h0m2 0h0m2 0h0m-6-1h0m2-1h0m2 0h0m2 0h0m-6-1h0m-2 0h0m6-1h0m-2 0h0m4-1h0m3 0h0m-11-1h0m9-1h0m-5-2h0m-5-2h0m-4 0h0m-7 0h0m7 2h0m2 0h0m-7 0h0m3 1h0m6 0h0m-12 0h0m4 1h0m-2 0h0m8 1h0m-10 0h0m3 1h0m-2 1h0m10 0h0m-2 0h0m-2 1h0m-4 0h0m2 0h0m4 1h0m-2 1h0m5 0h0m-2 1h0m-7 0h0m2 1h0m7 0h0m-25-1h0m6 0h0m2-1h0m-6 0h0m2-1h0m-4-1h0m9 0h0m-3 0h0m4-2h0m-3 0h0m-2-1h0m6-1h0m-3 0h0m-2-1h0m-1-2h0m-19 1h0m4 1h0m-6 4h0m6 1h0m2 0h0m-7 2h0m7 0h0m3 0h0m-5 1h0m2 1h0m2 0h0m-11 0h0m-2 0h0m1-2h0m-9-1h0m8-2h0m-7 0h0m5-1h0m-3 0h0m6-1h0m-8 0h0m6-1h0m-3 0h0m-2-1h0m-3 0h0m11-1h0m-12-1h0m2-1h0m5-1h0m-11 0h0m-6 4h0m7 1h0m-5 3h0m6 2h0m-3 0h0m-2 1h0m-2 1h0m4 0h0m-2 1h0m-10 6h0m-5 2h0m3 1h0m2 0h0m-7 1h0m2 0h0m-7 2h0m4 0h0m5 0h0m3 0h0m-9 2h0m9 0h0m4-1h0m7-1h0m-9 0h0m2-1h0m-1-2h0m2 0h0m4-1h0m-7-1h0m4-3h0m2-1h0m-3-2h0m2 0h0m22 1h0m-2 1h0m2 1h0m-1 2h0m-7 1h0m7 2h0m-11 0h0m9 0h0m-2 0h0m1 2h0m2 0h0m-9 0h0m-2 0h0m7 1h0m-5 2h0m7 0h0m2 0h0m15-1h0m-2-3h0m2 0h0m-7-1h0m8-1h0m-5 0h0m3-1h0m-7 0h0m4-1h0m5 0h0m-2-1h0m-5 0h0m-2-1h0m5 0h0m3-1h0m-6 0h0m-5-1h0m7 0h0m2 0h0m-4-1h0m-2 0h0m15 0h0m3 0h0m3 2h0m-2 0h0m-2 2h0m3 0h0m3 1h0m-12 0h0m9 1h0m-2 3h0m-5 0h0m2 0h0m8 2h0m-10 0h0m4 1h0m-2 0h0m6 1h0m-2 0h0m18 0h0m-4 0h0m2-1h0m-4 0h0m-2 0h0m4-1h0m3-1h0m-1-3h0m-2 0h0m-2-2h0m2 0h0m-4-1h0m6 0h0m2-1h0m-4 0h0m-2 0h0m3-2h0m-2 0h0m-3 0h0m22-1h0m-11 0h0m8 1h0m2 1h0m-2 1h0m2 1h0m-2 1h0m2 1h0m-12 5h0m16 0h0m3-3h0m-5 0h0m2-3h0m-2-2h0m3 0h0m-1-2h0m3 16h0m-15 10h0m-2-2h0m-2-2h0m4-5h0m-7-4h0m-10 0h0m4 0h0m2 0h0m4 2h0m-2 0h0m-2 2h0m-2 0h0m8 2h0m-9 2h0m3 0h0m-5 0h0m7 1h0m-9 1h0m4 0h0m2 0h0m-1 2h0m-3 1h0m-5-2h0m-9-2h0m2-1h0m-4 0h0m6-1h0m-4 0h0m-2-1h0m2-1h0m2-2h0m-2 0h0m6-2h0m3 0h0m2 0h0m-8-1h0m-6 0h0m-4 0h0m-2 0h0m-6 2h0m10 0h0m-6 0h0m2 0h0m6 1h0m-10 0h0m6 1h0m2 0h0m-6 0h0m2 0h0m-6 1h0m9 1h0m-2 0h0m4 0h0m-9 1h0m-2 0h0m9 1h0m-5 1h0m7 0h0m-10 1h0m5 0h0m3 0h0m-3 2h0m4 0h0m-6 0h0m-2 1h0m-8-2h0m2-1h0m-6 0h0m2-1h0m-5-2h0m2-1h0m9 0h0m-13 0h0m3-2h0m-2 0h0m9-2h0m-10 0h0m2 0h0m3 0h0m-1-2h0m3 0h0m-21 0h0m4 1h0m7 0h0m-4 1h0m2 0h0m-8 0h0m10 2h0m-3 0h0m-6 0h0m11 0h0m-9 1h0m2 1h0m-3 1h0m5 1h0m-8 2h0m2 1h0m-2 2h0m-2 0h0m-9 0h0m2 0h0m2-2h0m-7 0h0m3 0h0m2 0h0m5 0h0m2 0h0m-8-2h0m2 0h0m6 0h0m-2-1h0m3-3h0m-15 2h0m-3 20h0m2 0h0m0-2h0m-4 0h0m2 0h0m1-2h0m-3 0h0m5-1h0m0-2h0m-3-5h0m15-1h0m-9 0h0m3 1h0m2 0h0m6 1h0m-2 0h0m-2 0h0m-6 0h0m-2 1h0m5 0h0m6 1h0m-8 0h0m2 1h0m-4 0h0m12 1h0m-10 0h0m-3 1h0m11 2h0m2 0h0m0 2h0m-3 0h0m-2 0h0m-2 1h0m4 1h0m2 0h0m7 0h0m-4 0h0m9-1h0m2 0h0m-11-1h0m2-1h0m8 0h0m-10-1h0m2-1h0m-2-1h0m-1-3h0m17-4h0m4 7h0m6 1h0m-4 1h0m-2 0h0m-7 1h0m12 0h0m-4 1h0m11 2h0m6-1h0m-8 0h0m-2-1h0m2-1h0m2-2h0m8 0h0m-13-2h0m7 0h0m-1-2h0m-2-2h0m2 0h0m3-1h0m2-1h0m-6 0h0m2 0h0m19 2h0m-2 4h0m0 2h0m2 1h0m-10 3h0m-2 1h0m10 0h0m-2 0h0m18 0h0m-5 0h0m5-4h0m-12-2h0m2-3h0m13-3h0m2 0h0m-1 2h0m6 1h0m-5 1h0m0 2h0m4 0h0m-2 0h0m-4 1h0m3 2h0m-2 0h0m-2 0h0m6 0h0m-3 2h0m-2 0h0m5 0h0m-5 15h0m4-1h0m-5-1h0m5-1h0m-2 0h0m3-2h0m-2 0h0m-2-1h0m1-2h0m2-4h0m-4-1h0m2 0h0m-14 1h0m10 1h0m-3 0h0m-10 0h0m6 1h0m2 1h0m-6 0h0m9 1h0m-7 0h0m3 1h0m-7 0h0m5 1h0m7 0h0m-2 1h0m-9 1h0m7 1h0m4 0h0m-12 1h0m8 2h0m-5 0h0m-15 0h0m11 0h0m-13-1h0m4 0h0m7-1h0m-9 0h0m8-2h0m3 0h0m-13-1h0m12-1h0m-2 0h0m1-2h0m-1-3h0m-10-1h0m8 0h0m-10-1h0m-6 1h0m6 1h0m-8 1h0m3 0h0m3 1h0m-5 1h0m2 0h0m-6 1h0m8 0h0m-4 1h0m2 0h0m5 1h0m0 2h0m-2 0h0m-4 0h0m2 1h0m-6 1h0m8 0h0m2 0h0m-12 1h0m-6 0h0m2 0h0m0-2h0m3 0h0m-5 0h0m-4-2h0m8 0h0m-4-1h0m-2 0h0m6-2h0m-5 0h0m2 0h0m-5-2h0m2 0h0m2 0h0m0-2h0m-2 0h0m-2 0h0m-4-1h0m-4-1h0m-2 0h0m-8 1h0m11 1h0m-11 1h0m13 1h0m-11 0h0m-2 1h0m3 2h0m6 0h0m-8 0h0m12 2h0m-7 0h0m-6 0h0m8 1h0m2 1h0m-9 0h0m5 1h0m2 1h0m3 0h0m-14 0h0m2-1h0m0-5h0m-2-2h0m-5-1h0m2-1h0m2 0h0m2 0h0m-10-1h0m4 0h0m4-1h0m2 0h0m-4-1h0m-16 0h0m7 0h0m-2 1h0m-9 1h0m7 0h0m3 1h0m-5 0h0m-2 1h0m-2 0h0m8 1h0m-4 0h0m2 0h0m-6 1h0m3 1h0m3 0h0m2 1h0m-1 19h0m1-5h0m11-8h0m5 0h0m-5 2h0m2 0h0m-4 0h0m6 0h0m-1 2h0m-5 0h0m3 0h0m-7 0h0m2 1h0m8 1h0m-3 0h0m-2 0h0m-6 0h0m4 1h0m6 1h0m-2 0h0m-6 0h0m4 0h0m-2 1h0m7 1h0m-3 0h0m-2 0h0m-2 1h0m-3 0h0m6 1h0m5 0h0m-9 1h0m11-1h0m6-1h0m-5-1h0m3-1h0m2-1h0m-4 0h0m-2 0h0m4-1h0m8-1h0m-10 0h0m-2 0h0m4-2h0m-4 0h0m-1-2h0m26-1h0m1 3h0m0 2h0m-4 1h0m4 1h0m-2 5h0m15-4h0m-6 0h0m4-2h0m-3 0h0m-4-1h0m-2 0h0m5-1h0m4 0h0m3-1h0m-10 0h0m-2 0h0m6-1h0m4 0h0m-9-1h0m-2-1h0m9-1h0m2 0h0m2 0h0m-10 0h0m17 1h0m6 0h0m-3 1h0m-3 1h0m7 0h0m-4 1h0m2 0h0m-10 1h0m12 0h0m-4 1h0m4 1h0m-13 0h0m3 4h0m7 1h0m-5 0h0m2 0h0m-6 1h0m16-1h0m6-1h0m-3-1h0m-2 0h0m-2 0h0m-2 0h0m13-2h0m-11 0h0m6 0h0m-2-1h0m-4-2h0m9-2h0m-10 0h0m2-1h0m-2-1h0m12-1h0m7 4h0m0 2h0m2 1h0m-4 0h0m4 2h0m-2 0h0m3 3h0m-8 1h0m9 13h0m-5-1h0m1-2h0m-4-1h0m6 0h0m-2-1h0m4 0h0m-2-1h0m-3-2h0m2 0h0m3-1h0m-1-3h0m-18 0h0m5 2h0m-5 0h0m1 2h0m2 0h0m2 0h0m-6 1h0m5 1h0m-9 4h0m-3 2h0m-2 0h0m3-2h0m-6-1h0m4 0h0m-8-1h0m11 0h0m-4-1h0m-2 0h0m-1-2h0m7-1h0m-9 0h0m-2 0h0m6 0h0m2 0h0m-5-2h0m-4 0h0m8 0h0m-3-2h0m-2 0h0m5 0h0m-12 1h0m-1 2h0m-3 1h0m-6 1h0m8 0h0m1 2h0m-2 0h0m-5 1h0m-2 1h0m7 0h0m-4 1h0m2 0h0m-4 1h0m6 0h0m-4 1h0m2 0h0m-7-3h0m-2 0h0m-2 0h0m0-2h0m-2 0h0m4-1h0m-2-1h0m4-1h0m-6 0h0m3-1h0m-14-2h0m-5 0h0m0 4h0m2 1h0m-4 1h0m-3 1h0m9 0h0m2 0h0m-4 1h0m-3 0h0m-2 0h0m7 1h0m4 1h0m-7 0h0m-2 1h0m-4 0h0m9 1h0m-2 0h0m-19 0h0m10-1h0m-12 0h0m11-2h0m2 0h0m-5-1h0m-5-2h0m8 0h0m-2-2h0m3 0h0m-12-1h0m6 0h0m-2 0h0m7-1h0m-3 0h0m-7-1h0m4-1h0m-2 0h0m-2-1h0m-3 0h0m0 3h0m0 3h0m1 3h0m-1 3h0m-2 10h0m1-2h0m2 0h0m-4-1h0m4-1h0m-2-2h0m-1-2h0m2 0h0m15 0h0m-7 1h0m5 1h0m-11 0h0m2 2h0m10 0h0m-2 0h0m0 2h0m2 0h0m-11 1h0m4 1h0m5 0h0m2 0h0m-9 0h0m-3 1h0m8 1h0m2 0h0m-8 0h0m8 2h0m14 0h0m-5-3h0m-5 0h0m2-2h0m-2 0h0m2-3h0m22-3h0m-3 8h0m6 3h0m4 1h0m5-1h0m-7 0h0m5 0h0m-3-1h0m-3-1h0m2-1h0m4-2h0m-3 0h0m10-1h0m-4-2h0m-6-1h0m9-3h0m-11 0h0m17 1h0m5 2h0m4 0h0m-6 4h0m3 2h0m-3 0h0m5 2h0m-2 0h0m-3 0h0m-2 0h0m-1 2h0m9 0h0m-3 0h0m-3 0h0m13 0h0m-5-1h0m3-1h0m0-4h0m-4 0h0m5-2h0m-2 0h0m-3 0h0m3-2h0m-2 0h0m1-3h0m13 1h0m11 1h0m-4 10h0m3 13h0m-8 0h0m4-2h0m5-3h0m-6-3h0m-3-1h0m9-1h0m-18 0h0m-3 0h0m-2 1h0m7 0h0m-3 1h0m1 3h0m4 5h0m-4 2h0m-18 0h0m-3-1h0m5 0h0m2 0h0m-5-1h0m1-2h0m-2-1h0m-2-1h0m3-2h0m-3 0h0m7 0h0m3-1h0m2-1h0m-4 0h0m-2 0h0m-4 0h0m2-1h0m-3-1h0m12 0h0m-2 0h0m-3 0h0m-16-1h0m7 1h0m-13 0h0m2 0h0m2 0h0m2 1h0m7 1h0m-2 0h0m-10 0h0m3 0h0m4 0h0m3 2h0m-2 0h0m-6 0h0m3 0h0m-3 2h0m5 0h0m2 0h0m2 1h0m-3 4h0m-19 1h0m1-5h0m7-4h0m-7-1h0m5 0h0m-9-2h0m9 0h0m2-1h0m-20 0h0m-5 0h0m9 0h0m-2 1h0m4 1h0m-11 3h0m12 0h0m-7 1h0m5 3h0m-19-4h0m-3-1h0m-2 0h0m10-1h0m-9-1h0m2-2h0m8 0h0m-10 0h0m-3 2h0m-6 4h0m1 2h0m2 0h0m-13-5h0m4 15h0m12 0h0m22 9h0m-3-1h0m2-1h0m2 0h0m-4-1h0m9-1h0m-7-1h0m1-3h0m16-5h0m3 0h0m-11 3h0m5 1h0m4 2h0m-2 1h0m-2 0h0m1 2h0m6 3h0m8-5h0m5-1h0m-7-5h0m-5 0h0m16 0h0m2 0h0m3 1h0m-7 4h0m21 7h0m4-1h0m1-2h0m-2-5h0m-3 0h0m-1-2h0m2 0h0m3-1h0m-7 0h0m5-1h0m-3-1h0m5 0h0m-8 0h0m19 2h0m-3 2h0m4 0h0m-14 10h0m-2 1h0m-2 1h0m3 1h0m2 0h0m-4 1h0m2 1h0m-2 2h0m-2 1h0m0 3h0m3 1h0m2 0h0m-4 1h0m-19 0h0m6 0h0m3 0h0m-5-2h0m4 0h0m2 0h0m-4 0h0m-4 0h0m6-2h0m2 0h0m-6 0h0m-3-1h0m4-4h0m-5-4h0m-2 0h0m-2 2h0m2 0h0m0 2h0m-1 3h0m-9 1h0m8 1h0m2 0h0m1 2h0m-2 0h0m-8 1h0m-2 0h0m7 1h0m-3 0h0m-7-3h0m-4-2h0m4-3h0m-9 0h0m2 0h0m-5-1h0m8-1h0m-4 0h0m-2-2h0m4 0h0m2 0h0m-17-1h0m3 1h0m5 0h0m-7 1h0m4 0h0m-7 1h0m5 0h0m4 1h0m-6 0h0m4 1h0m-4 1h0m2 0h0m-4 0h0m-2 0h0m11 0h0m-5 2h0m2 0h0m3 0h0m-8 1h0m-5 1h0m7 0h0m4 0h0m-2 0h0m-4 1h0m-3 1h0m-2 1h0m-4 0h0m-3-1h0m5-1h0m-4-1h0m2-1h0m2 0h0m-5-1h0m-9 16h0m14-9h0m-6 6h0m3 1h0m2 0h0m-8 1h0m4 0h0m-6 1h0m9 0h0m2 0h0m-7 0h0m2 2h0m3 0h0m2 0h0m-8 0h0m13 1h0m2-1h0m2 0h0m2-1h0m-8-1h0m4 0h0m2 0h0m-4-2h0m-3 0h0m8-1h0m-7-1h0m3 0h0m2-1h0m-5-1h0m3-4h0m18 0h0m2 1h0m-6 1h0m3 0h0m6 0h0m-4 1h0m2 0h0m-6 1h0m-2 0h0m5 1h0m3 1h0m-5 0h0m-3 0h0m9 2h0m-2 1h0m-10 1h0m6 0h0m2 0h0m5 2h0m-10 1h0m8 0h0m-4 0h0m-2 0h0m4 0h0m12-1h0m6-2h0m-13 0h0m4 0h0m2-1h0m-4-1h0m2 0h0m3-1h0m3-1h0m-5 0h0m-3 0h0m-2 0h0m8-1h0m-8-1h0m13-1h0m-5 0h0m-2 0h0m-2 0h0m3-2h0m-2 0h0m-2 0h0m-2-1h0m17 0h0m2 1h0m0 2h0m-2 2h0m-1 2h0m-2 0h0m10 1h0m-3 0h0m-5 1h0m2 1h0m3 0h0m-2 2h0m20 1h0m-10 0h0m3-1h0m-5 0h0m7-1h0m-4 0h0m2-1h0m-4 0h0m2-1h0m-2-1h0m6-1h0m-2 0h0m-2-1h0m6-1h0m-2 0h0m-3-2h0m5 0h0m-4-2h0m15 26h0m-4-2h0m9-2h0m-7 0h0m-1-2h0m3 0h0m2 0h0m-16-5h0m5 8h0m-5 3h0m-12-8h0m3-1h0m-8 0h0m5-1h0m-4-1h0m6 0h0m3-2h0m-20 0h0m6 1h0m-8 0h0m-4 1h0m6 0h0m2 0h0m-4 1h0m6 0h0m-8 1h0m6 0h0m-17-1h0m5 0h0m-3 0h0m5-1h0m-2-1h0m-3 0h0m-2 0h0m7-1h0m-22 0h0m3 1h0m-8 0h0m3 0h0m-8 1h0m2-2h0m56 24h0m8 3h0m5 0h0m-2-2h0m4 0h0m-2-1h0m-4 0h0m5-2h0m-7 0h0m5-1h0m-3-2h0m4 0h0m-8-1h0m10 0h0m-4-1h0m2-1h0m-4-1h0m2 0h0m-4 0h0m15 1h0m2 1h0m-5 1h0m10 1h0m-5 0h0m-3 2h0m2 0h0m5 0h0m-2 0h0m-5 2h0m5 0h0m-9 1h0m9 1h0m-7 2h0m12-8h0m1-3h0m0 22h0m-12-2h0m-2-2h0m-1-2h0m3 0h0m8-1h0m-9-1h0m2 0h0m-10-2h0m-4 5h0m6 1h0m-12-3h0m21 16h0m9-1h0"/>
<path id="K4" vector-effect="non-scaling-stroke" d="M70 21h0m0 2h0m2 0h0m0 2h0m-3 2h0m-4-1h0m2 0h0m1-2h0m-3-1h0m3-1h0m-3-1h0m2-1h0m0 8h0m2 1h0m-2 1h0m-1 4h0m2 2h0m-1 2h0m-5 3h0m18 0h0m-9-1h0m11-1h0m-9 0h0m7-1h0m-10 0h0m4-1h0m9 0h0m-11 0h0m11-2h0m-10 0h0m2 0h0m-4-1h0m6 0h0m-2-1h0m-2 0h0m6-1h0m-9-1h0m2 0h0m2 0h0m8 0h0m-6 0h0m2-1h0m-2-1h0m-3-1h0m-2 0h0m9 0h0m4 5h0m2 2h0m0 2h0m2 0h0m-1 2h0m-2 0h0m2 2h0m-3 0h0m7 0h0m30-4h0m-2 0h0m4 1h0m-4 1h0m-2 1h0m4 0h0m4 1h0m4 0h0m8 0h0m-10 0h0m5 0h0m3-1h0m-9-1h0m2 0h0m5 0h0m-2 0h0m4-1h0m-2-1h0m7 14h0m0-2h0m-14-6h0m6 0h0m6 0h0m-10 0h0m6 0h0m2 1h0m3 1h0m-12 0h0m10 1h0m-10 1h0m2 0h0m10 0h0m-4 1h0m-4 0h0m7 1h0m-2 1h0m-2 1h0m-6 1h0m-2 2h0m2 0h0m-15 1h0m11 0h0m-9 0h0m6-2h0m-5 0h0m8 0h0m-10 0h0m4-2h0m-2 0h0m4 0h0m2 0h0m3-1h0m-11 0h0m4-1h0m2 0h0m-7-1h0m2 0h0m2-1h0m2-1h0m-5 0h0m9 0h0m0-2h0m-5-1h0m-2 0h0m4-1h0m3 0h0m-25 7h0m2 2h0m-2 0h0m4 1h0m2 1h0m7 2h0m-10 0h0m-17 0h0m4 0h0m7 0h0m2 0h0m-7-1h0m2 0h0m-4-1h0m6 0h0m-10 0h0m13 0h0m-7-1h0m2-1h0m2 0h0m-10-2h0m4 0h0m2 0h0m4 0h0m-2-1h0m-3-1h0m2-1h0m-7-1h0m5 0h0m-3 0h0m5-1h0m-4-1h0m2-1h0m-18 0h0m2 0h0m-2 2h0m1 2h0m7 1h0m-8 1h0m2 2h0m-3 0h0m7 0h0m5 1h0m-3 1h0m-3 0h0m-5 1h0m11 1h0m-2 0h0m-2 0h0m-6 1h0m2 0h0m-5-2h0m-3-2h0m1-2h0m2-2h0m-8 0h0m5 0h0m-2 0h0m-6-1h0m4-1h0m3 0h0m-5 0h0m9-1h0m-4-1h0m-2 0h0m4-1h0m2 0h0m-16 9h0m-6 16h0m6 0h0m-4-3h0m17-7h0m3 1h0m-7 0h0m-2 1h0m6 0h0m2 1h0m-4 0h0m-2 1h0m6 1h0m-4 0h0m-2 1h0m-3 1h0m5 0h0m-3 1h0m7 0h0m-2 0h0m-3 1h0m3 1h0m-5 0h0m7 0h0m-5 1h0m6 1h0m4 0h0m-2-1h0m0-2h0m2 0h0m2 0h0m-2-2h0m2-1h0m5-1h0m-10 0h0m8 0h0m-6 0h0m2-1h0m9-1h0m-7 0h0m-4 0h0m9-1h0m-3 0h0m-4-1h0m-2-1h0m11 0h0m-4-1h0m-9 0h0m16 0h0m5 1h0m6 0h0m-11 1h0m10 1h0m-3 0h0m-8 1h0m3 0h0m4 1h0m2 0h0m2 0h0m-9 1h0m10 1h0m-12 0h0m10 0h0m-6 0h0m3 1h0m2 1h0m-4 0h0m6 2h0m-5 0h0m3 1h0m-3 1h0m5 0h0m2 0h0m9 0h0m-2 0h0m6-2h0m-5 0h0m-4 0h0m-4 0h0m2-2h0m5 0h0m3 0h0m-6 0h0m9-1h0m-2-1h0m-8 0h0m2 0h0m4-1h0m-2 0h0m6 0h0m-13-1h0m2-1h0m10 0h0m-7 0h0m2-1h0m2 0h0m-9 0h0m3-1h0m2 0h0m5-1h0m3 0h0m-12-1h0m6 0h0m-2 0h0m14 0h0m-4 1h0m10 1h0m-5 0h0m-3 1h0m-3 0h0m2 2h0m-1 2h0m24 5h0m2 0h0m-6-1h0m2 0h0m3-1h0m-4-1h0m2 0h0m3-1h0m-4-2h0m2 0h0m2-1h0m-3-1h0m-2 0h0m-2-1h0m2-1h0m-8-2h0m15 1h0m0 3h0m2 0h0m-2 2h0m3 1h0m-3 2h0m0 4h0m-3 1h0m-2 1h0m-3 0h0m-2 0h0m3 2h0m-2 0h0m4 1h0m-6 0h0m-2 0h0m4 1h0m2 4h0m-8 2h0m2 0h0m-2 2h0m2 0h0m-5 0h0m-10-3h0m7 0h0m5-1h0m-9-2h0m4 0h0m0-2h0m-7 0h0m5 0h0m-3-1h0m-3-3h0m-10-1h0m8 0h0m-10 0h0m7 1h0m-2 0h0m-5 1h0m-2 0h0m4 0h0m2 1h0m5 0h0m-2 0h0m-7 1h0m2 0h0m-4 0h0m10 1h0m-2 0h0m-2 1h0m-3 0h0m-2 0h0m0 2h0m4 0h0m5 0h0m-7 1h0m-3 2h0m10 0h0m-8 0h0m2 0h0m2 1h0m3 1h0m-7 0h0m2 0h0m-9-1h0m-6 0h0m-2-1h0m5 0h0m5 0h0m-2-1h0m-5 0h0m3-1h0m-7 0h0m11-1h0m2 0h0m-7-1h0m-2 0h0m-3 0h0m12-1h0m-8-1h0m-4 0h0m2-1h0m5 0h0m4 0h0m-7-1h0m6-1h0m-2 0h0m-2-1h0m-2 0h0m5-1h0m-23 0h0m3 1h0m-2 1h0m10 1h0m-3 0h0m-3 0h0m-6 0h0m3 1h0m10 1h0m-2 0h0m-6 0h0m4 1h0m-8 0h0m6 0h0m-4 1h0m10 0h0m-6 1h0m-20 4h0m4-1h0m-2 0h0m-2-1h0m2-1h0m-2-1h0m2-1h0m2 0h0m2-1h0m-6-1h0m9 0h0m-6-1h0m2 0h0m2 0h0m3-1h0m-3-1h0m-2 0h0m-4 0h0m2 0h0m-4-1h0m13 0h0m-7-1h0m2 0h0m3 0h0m-9 0h0m-8 1h0m0 2h0m-5 0h0m8 1h0m2 0h0m-4 1h0m-4 0h0m-2 0h0m10 2h0m-6 0h0m4 1h0m-2 0h0m4 1h0m-2 1h0m0 2h0m2 0h0m-3 14h0m2 0h0m-4-1h0m4-8h0m-4-1h0m2 0h0m1-2h0m6 0h0m-3 0h0m10 1h0m-10 1h0m6 0h0m4 1h0m2 0h0m-12 1h0m8 0h0m-4 1h0m7 0h0m-9 0h0m5 2h0m-4 0h0m-2 1h0m11 0h0m-2 0h0m-6 1h0m5 1h0m3 0h0m-6 1h0m2 1h0m-2 1h0m-6 0h0m15 0h0m2-1h0m2 0h0m8 0h0m-3-1h0m-3 0h0m-3-1h0m-4-1h0m12 0h0m-4 0h0m-6-1h0m8 0h0m-4 0h0m2-1h0m5 0h0m-9-1h0m-2 0h0m-2 0h0m11 0h0m-5-1h0m2-1h0m-8 0h0m4 0h0m7 0h0m2 0h0m-11-1h0m4 0h0m6-1h0m-12 0h0m4 0h0m-2-1h0m6 0h0m12-1h0m6 0h0m-3 0h0m-5 0h0m-2 1h0m8 1h0m-10 0h0m6 0h0m7 1h0m-4 1h0m-5 0h0m9 1h0m-12 1h0m2 0h0m8 0h0m-5 1h0m7 0h0m-3 2h0m-3 0h0m5 0h0m-11 0h0m3 1h0m4 1h0m-2 0h0m5 1h0m-10 0h0m5 1h0m-2 0h0m4 0h0m16-1h0m-5 0h0m-2 0h0m10 0h0m-13 0h0m7-1h0m-3-1h0m-4 0h0m9 0h0m3-1h0m-10-1h0m7 0h0m-2 0h0m4-1h0m-7-1h0m-2 0h0m6 0h0m5 0h0m-3-1h0m-9-1h0m6-1h0m-4 0h0m2 0h0m-3-2h0m2 0h0m2 0h0m2 0h0m3-1h0m-11 0h0m26 1h0m-12 3h0m6 0h0m-5 2h0m5 0h0m-2 1h0m-2 1h0m-2 0h0m6 0h0m-6 2h0m4 0h0m-1 2h0m11-10h0m3-1h0m-18 13h0m-6 0h0m3 0h0m-9 0h0m2 1h0m8 1h0m-2 1h0m-8 0h0m1 2h0m4 0h0m-6 0h0m-10 6h0m3-2h0m-6-1h0m4 0h0m5-1h0m-7 0h0m2-1h0m7 0h0m-9-1h0m-2 0h0m8 0h0m-3-1h0m5 0h0m-3-1h0m5-1h0m-10 0h0m6-1h0m-3 0h0m7-1h0m-2 0h0m-17 0h0m-3 0h0m1 2h0m2 0h0m-4 0h0m6 0h0m3 1h0m-4 1h0m-3 2h0m4 0h0m-6 1h0m4 0h0m4 0h0m-5 2h0m6 0h0m-3 1h0m-6 0h0m-2 0h0m-2 1h0m4 1h0m4 0h0m-2 0h0m7 1h0m-27-10h0m1-2h0m9-1h0m-14 0h0m-2 1h0m5 0h0m-3 1h0m-2 1h0m4 0h0m1 2h0m-119 22h0m6 0h0m-2 0h0m2-2h0m-6-1h0m-2-1h0m7-1h0m-5 0h0m2 0h0m0-2h0m2-1h0m-4 0h0m6 0h0m-4-1h0m6 4h0m0 3h0m139 2h0m-7 0h0m5 0h0m-2-2h0m-3 0h0m5-1h0m-2-1h0m-2 0h0m-2-1h0m8 0h0m-6-1h0m2 0h0m3-1h0m-7 0h0m4-1h0m3-1h0m-5 0h0m-2-1h0m6-1h0m2 0h0m-4 0h0m-2 0h0m0-2h0m2 0h0m-5 0h0m12 0h0m3 1h0m-3 1h0m-2 2h0m4 0h0m-1 2h0m-3 0h0m5 0h0m-1 2h0m-3 1h0m3 2h0m-2 0h0m-2 0h0m3 2h0m-2 0h0m0 7h0m1-4h0m-2-1h0m-5-1h0m2 1h0m-2 1h0m-2 0h0m4 1h0m2 1h0m-2 1h0m-3 0h0m5 1h0m-3 1h0m-3 0h0m-136-6h0"/>
<path id="K5" vector-effect="non-scaling-stroke" d="M210 -1h0m-6 0h0m-2-1h0m-2 0h0m-2 0h0m8-1h0m-8-1h0m6 0h0m-8 0h0m13 0h0m-8-1h0m4-1h0m-6-1h0m-3-1h0m-4 0h0m-4 0h0m6 0h0m-4 0h0m2 2h0m-2 0h0m-3 0h0m7 0h0m-12 1h0m9 1h0m-6 0h0m8 1h0m-10 0h0m4 0h0m-2 1h0m10 1h0m-12 0h0m5 0h0m-7 0h0m-4 0h0m-9 0h0m7 0h0m4-1h0m-2-1h0m4 0h0m-2-1h0m-2-1h0m-2 0h0m-11 1h0m0 2h0m2 1h0m0 14h0m-2-1h0m-3 0h0m5-1h0m-8-1h0m5 0h0m-2 0h0m5-1h0m-5-1h0m-4 0h0m2 0h0m4-1h0m-4-1h0m-2 0h0m5-1h0m4-1h0m0-3h0m-3-1h0m5 1h0m11 0h0m-2 0h0m-4 1h0m2 0h0m-5 0h0m10 1h0m-3 0h0m-9 0h0m0 2h0m11 0h0m-9 0h0m4 0h0m2 0h0m5 1h0m-9 0h0m4 1h0m3 0h0m-9 1h0m4 0h0m-2 0h0m-4 1h0m9 0h0m-3 1h0m-2 0h0m9 1h0m-3 0h0m-2 0h0m-5 1h0m6 1h0m3 0h0m-5 0h0m20 0h0m-2-1h0m-5 0h0m2-1h0m-6-1h0m3 0h0m7-1h0m-5 0h0m-6-1h0m9-1h0m3 0h0m-6 0h0m-2-1h0m8-1h0m-2 0h0m-8 0h0m4-1h0m2 0h0m-4 0h0m-2-1h0m8-1h0m-2 0h0m-4 0h0m2-1h0m2-1h0m-6 0h0m15 0h0m-3 1h0m4 2h0m2 0h0m-5 0h0m11 1h0m-8 1h0m2 0h0m-6 0h0m2 0h0m4 2h0m4 0h0m-6 0h0m-4 0h0m2 1h0m4 1h0m6 0h0m-11 1h0m-2 0h0m11 1h0m2 0h0m-12 1h0m2 1h0m16 0h0m-5 0h0m3-1h0m-2-1h0m2-1h0m-2-2h0m2-1h0m0-2h0m-1 10h0m-1 5h0m0 3h0m2 0h0m1 2h0m2 0h0m-4 1h0m2 1h0m3 0h0m-11 0h0m-2 0h0m-2-1h0m7 0h0m-10-1h0m5 0h0m-7 0h0m4-1h0m7 0h0m-3-1h0m-2 0h0m-4 0h0m-2-1h0m4 0h0m6 0h0m2 0h0m-10-2h0m-2 0h0m1-2h0m-2 0h0m1-4h0m-14 0h0m8 0h0m-4 0h0m2 1h0m5 0h0m-9 0h0m2 1h0m-3 1h0m-2 0h0m11 0h0m-2 1h0m-4 1h0m7 0h0m-9 0h0m-2 1h0m6 0h0m2 0h0m4 1h0m-8 0h0m5 1h0m-7 0h0m4 0h0m-6 0h0m12 1h0m-10 1h0m-2 1h0m11 0h0m-7 1h0m8 1h0m-18 0h0m-7 0h0m5-1h0m6 0h0m-8-1h0m-4 0h0m9 0h0m-2-1h0m5-1h0m-2 0h0m-6 0h0m4-1h0m-8-1h0m12 0h0m-10-1h0m8-1h0m2 0h0m-8 0h0m3 0h0m-5-1h0m-2-1h0m8 0h0m-6-1h0m3 0h0m6 0h0m-4-1h0m-3-1h0m-13 0h0m2 0h0m-2 2h0m7 3h0m13 9h0m-8 0h0m2 1h0m-2 1h0m6 0h0m2 1h0m0 2h0m-2 0h0m0 2h0m-2 0h0m4 1h0m1 2h0m-2 3h0m11-1h0m2 0h0m3 0h0m-10 0h0m8-2h0m-9-1h0m5 0h0m-2 0h0m6-1h0m-2-1h0m-2 0h0m-4 0h0m-2 0h0m12-1h0m-8 0h0m6-1h0m-11 0h0m2 0h0m6-1h0m-2 0h0m4-1h0m-9 0h0m5-1h0m2 0h0m4-1h0m-3-1h0m-8 0h0m19 0h0m6 0h0m-11 0h0m7 1h0m-2 1h0m4 0h0m2 0h0m-1 2h0m-6 0h0m2 0h0m2 0h0m4 1h0m-8 1h0m3 0h0m2 0h0m3 1h0m-2 1h0m-2 0h0m-2 0h0m6 1h0m-6 1h0m4 1h0m-10 0h0m8 0h0m4 1h0m-7 0h0m3 1h0m2 0h0m-10 0h0m17-1h0m-3 0h0m3-3h0m-3-1h0m5 0h0m-3-1h0m-2-1h0m4 0h0m2 0h0m-3-2h0m-2 0h0m4 0h0m-2-2h0m4-1h0m-7 0h0m0 14h0m0 2h0m-8 10h0m-4-1h0m2-2h0m3-2h0m-4 0h0m8 0h0m-11-2h0m10 0h0m2 0h0m-8-2h0m8 0h0m-3 0h0m-10 0h0m2 0h0m6-1h0m-7-1h0m12 0h0m-9 0h0m2 0h0m3-1h0m2 0h0m-7-1h0m9 0h0m-7 0h0m-13 0h0m6 0h0m-12 0h0m4 1h0m-5 1h0m12 0h0m-10 0h0m5 1h0m-5 1h0m-2 1h0m4 0h0m5 1h0m-7 1h0m1 3h0m6 0h0m-9 0h0m12 2h0m-11 0h0m2 1h0m-4-6h0m-1-3h0m0-2h0m-27 15h0m-3 2h0m3 0h0m0 3h0m-4 1h0m-2 0h0m-4 0h0m10 1h0m-2 0h0m-2 1h0m-3 0h0m5 1h0m-7 0h0m13 1h0m4-1h0m-5-1h0m3 0h0m6-1h0m-7-1h0m3 0h0m2-1h0m2-1h0m-10 0h0m2 0h0m2-1h0m3 0h0m-7-1h0m2 0h0m3-1h0m2 0h0m5 0h0m-3-1h0m-7-1h0m4 0h0m-6 0h0m11 0h0m-7-1h0m4 0h0m-2-1h0m-4 0h0m15 4h0m-3 2h0m-1 2h0m13 3h0m-1 2h0m4 0h0m5 0h0m2-1h0m4-1h0m-10 0h0m3 0h0m-5 0h0m8-1h0m-5-1h0m-2 0h0m4-1h0m6 0h0m-8-1h0m-2-1h0m11 0h0m-2 0h0m-3-1h0m-3 0h0m8-2h0m-9 0h0m3 0h0m-6-2h0m4 0h0m4 0h0m-2-1h0m12 0h0m3 1h0m-3 1h0m-3 0h0m7 1h0m-3 1h0m-2 0h0m-2 0h0m5 2h0m3 0h0m-6 0h0m-3 1h0m2 1h0m7 0h0m-2 0h0m-8 1h0m7 1h0m-5 0h0m7 1h0m-4 1h0m2 0h0m-6 0h0m13 11h0m0 2h0m0 2h0m-3 0h0m-3-1h0m-3 0h0m-2 0h0m-3-1h0m12 0h0m-4-1h0m-2 0h0m-2 0h0m6 0h0m-8-1h0m-2 0h0m12-1h0m-5 0h0m3 0h0m-7-1h0m2-1h0m-5 0h0m7 0h0m3 0h0m2 0h0m-1-2h0m-1-2h0m-10 0h0m8-2h0m-4 0h0m-2 0h0m-7 0h0m-4 0h0m7 0h0m-9 1h0m-2 0h0m6 0h0m3 1h0m-4 1h0m-5 0h0m7 0h0m-5 1h0m7 0h0m2 0h0m-4 1h0m1 2h0m-8 0h0m4 1h0m4 1h0m2 0h0m-4 0h0m-6 0h0m4 1h0m5 1h0m-7 0h0m4 0h0m-2 1h0m-3 1h0m5 0h0m4 0h0m-19 0h0m-2-1h0m9-1h0m-2 0h0m-6-1h0m2-1h0m4 0h0m2 0h0m-11-2h0m5 0h0m5 0h0m-2 0h0m0-3h0m3 0h0m-2-3h0m-20-1h0m-4 3h0m8 0h0m1 2h0m0 2h0m-3 0h0m-2 2h0m3 0h0m2 1h0m2 2h0m-4 0h0m-3 0h0m-2 0h0m7 1h0m-23-2h0m2-1h0m2-2h0m-3 0h0m9-1h0m-2 0h0m-6-1h0m10 0h0m-6 0h0m2-1h0m2 0h0m-4-1h0m-2 0h0m-2-1h0m9 0h0m-3 0h0m-4-2h0m2-1h0m6 0h0m-10 0h0m-9 13h0m4 0h0m0 13h0m-2-1h0m-2 0h0m-2-1h0m-2 0h0m6-1h0m2-1h0m-4 0h0m-2-1h0m4 0h0m2-1h0m-4 0h0m-4 0h0m-2 0h0m10-2h0m-2 0h0m-6 0h0m3-1h0m3-1h0m2 0h0m-7 0h0m2-1h0m7-1h0m13 0h0m-1 2h0m0 2h0m-12 2h0m12 0h0m-10 1h0m2 2h0m-4 0h0m2 2h0m-2 0h0m4 1h0m3 0h0m3 1h0m17-3h0m0-2h0m-12-4h0m10-1h0m-10-1h0m9-1h0m-9-1h0m11 0h0m-6 0h0m2 0h0m15 0h0m-5 2h0m4 0h0m3 0h0m-2 2h0m-7 0h0m2 1h0m7 0h0m2 0h0m-4 1h0m-8 0h0m10 1h0m2 0h0m-8 0h0m4 1h0m2 1h0m-4 0h0m6 1h0m-3 3h0m16-4h0m-2 0h0m-6-2h0m8 0h0m-11-1h0m12-1h0m-5 0h0m2 0h0m-3-2h0m-6 0h0m10 0h0m2 0h0m-2-2h0m-7 0h0m-2 0h0m-2 0h0m8 0h0m5 0h0m8-1h0m2 0h0m-4 0h0m-2 0h0m-2 0h0m11 1h0m-9 1h0m7 0h0m-4 0h0m2 0h0m-7 0h0m11 1h0m-8 1h0m-3 0h0m6 1h0m6 1h0m-11 0h0m3 1h0m6 0h0m2 1h0m-10 0h0m6 0h0m-9 0h0m7 1h0m-6 1h0m4 0h0m-2 0h0m8 0h0m-2 1h0m-2 0h0m6 1h0m-10 0h0m2 1h0m-4 0h0m6 0h0m11 0h0m2 0h0m-4 0h0m6-1h0m-4-1h0m-2 0h0m-1-2h0m4 0h0m-2 0h0m3-2h0m-3 0h0m-2 0h0m1-2h0m-2-2h0m0-2h0m41 11h0m0-3h0m-8-3h0m10 4h0m1 2h0m-2 4h0m2 0h0m-1-2h0m-2 0h0m-2 1h0m-3 0h0m1 2h0m2 1h0m2 0h0m-36-3h0m3 0h0m-6 1h0m8 1h0m-8 1h0m8 3h0m-3 0h0m2 2h0m-2 0h0m-2 0h0m3 2h0m-2 0h0m3 2h0m-22 0h0m8-1h0m2 0h0m-4-1h0m-2 0h0m-3-2h0m0-2h0m-1-2h0m10 0h0m2-1h0m-13-1h0m2 0h0m9 0h0m-4 0h0m-3-1h0m9 0h0m-4 0h0m-9-1h0m3-1h0m-5 2h0m-8 1h0m5 1h0m2 0h0m2 1h0m-2 1h0m-8 5h0m9 0h0m-7 0h0m7 2h0m-2 0h0m-24-1h0m8 0h0m-7-3h0m10-1h0m-10-2h0m5-1h0m2-1h0m2 0h0m-2-2h0m-21 2h0m1 3h0m11 0h0m-9 1h0m-4 1h0m4 1h0m-2 0h0m11 0h0m-2 3h0m-10 0h0m-2 0h0m-2 0h0m-5-1h0m-2 0h0m9-1h0m-9-1h0m5 0h0m-8 0h0m0-2h0m2 0h0m8-1h0m-7-1h0m-2 0h0m8-1h0m2 0h0m-4-1h0m2-1h0m2 0h0m-7-1h0m7-1h0m-8-1h0m2 0h0m2 0h0m-6 0h0m-6 0h0m-7 1h0m3 3h0m3 0h0m0 2h0m2 0h0m2 0h0m-10 0h0m-2 0h0m6 2h0m6 0h0m-2 1h0m-7 0h0m-3 0h0m8 0h0m4 1h0m-6 0h0m-5 1h0m-2 0h0m9 0h0m-3 1h0m6 0h0m-8 1h0m6 0h0m-24 0h0m2-2h0m-3-3h0m-2 1h0m2 1h0m-5 1h0m3 1h0m-3 14h0m5-3h0m-2 0h0m2-2h0m-5-1h0m3 0h0m1-4h0m-6-1h0m6-1h0m2 1h0m2 0h0m0 5h0m-1 2h0m2 0h0m7 2h0m14 2h0m-2-1h0m2-1h0m-2-1h0m-7 0h0m11-1h0m0-3h0m-4 0h0m-6-2h0m2 0h0m6 0h0m-2 0h0m4 0h0m0-2h0m-8 0h0m2 0h0m4 0h0m-2-1h0m15 0h0m-7 0h0m3 0h0m8 1h0m-8 1h0m4 0h0m-2 1h0m4 0h0m2 0h0m-5 2h0m5 0h0m-13 0h0m2 0h0m4 1h0m-2 1h0m4 0h0m5 0h0m-2 0h0m-11 0h0m10 2h0m2 1h0m5 2h0m4-7h0m-6-1h0m4-2h0m-4-1h0m2-1h0m23 0h0m-6 0h0m-2 1h0m3 1h0m-5 1h0m11 0h0m-8 0h0m5 0h0m-2 1h0m4 1h0m-7 0h0m3 1h0m4 1h0m-6 0h0m-2 0h0m5 1h0m-5 1h0m3 0h0m5 0h0m-3 3h0m-3 0h0m-4 1h0m14 0h0m6 0h0m-3 0h0m7-2h0m-8 0h0m6 0h0m-10 0h0m8 0h0m-6-2h0m8 0h0m-10-1h0m8 0h0m4 0h0m-8-1h0m6-1h0m-10-1h0m2 0h0m2-1h0m6-1h0m-9 0h0m12 0h0m-8-1h0m-2 0h0m9-1h0m7-1h0m-2 0h0m5 0h0m4 1h0m-12 0h0m10 0h0m-2 1h0m-6 0h0m4 1h0m5 0h0m-7 1h0m-3 0h0m7 0h0m5 1h0m-12 1h0m10 0h0m-4 0h0m-2 0h0m-2 1h0m6 0h0m-3 1h0m5 0h0m-7 1h0m-2 0h0m11 0h0m-4 1h0m2 0h0m-6 1h0m-3 0h0m-2 1h0m7 1h0m20-1h0m-13-1h0m1-2h0m3-2h0m-4 0h0m9-1h0m4-2h0m-12 0h0m7-1h0m2-2h0m-2 0h0m-6-1h0m20 3h0m0 2h0m-6 1h0m8 0h0m-2 1h0m-3 0h0m7 1h0m-4 1h0m-2 0h0m-2 0h0m6 1h0m2 0h0m-4 1h0m-2 0h0m-2 0h0m-2 0h0m9 1h0m2 0h0m-10 1h0m3 0h0m-5 0h0m22 0h0m-3 0h0m5 0h0m-9-2h0m4 0h0m-4-2h0m2-1h0m6-1h0m2 0h0m-10 0h0m-2-1h0m8 0h0m-4 0h0m6-1h0m-8 0h0m4-1h0m2 0h0m4 0h0m-2-1h0m-7 0h0m2-1h0m2 0h0m2-1h0m12 0h0m-4 1h0m2 1h0m4 3h0m-3 2h0m4 0h0m-7 0h0m-2 1h0m4 1h0m4 1h0m-2 1h0m-3 0h0m4 7h0m-3-5h0m-15 0h0m-3 0h0m7 1h0m-2 0h0m-4 1h0m-2 0h0m4 0h0m3 1h0m2 0h0m-7 1h0m3 0h0m-5 0h0m12 1h0m-12 1h0m3 0h0m0 2h0m2 1h0m-4 0h0m2 2h0m-2 1h0m4 0h0m-2 1h0m-16-1h0m3 0h0m5-1h0m-3 0h0m-4-1h0m10 0h0m-7-1h0m8-1h0m-10 0h0m5 0h0m-2-1h0m4 0h0m-9 0h0m11-1h0m-9 0h0m5-1h0m-8 0h0m11-1h0m-5 0h0m-2 0h0m-2-1h0m7 0h0m-3-1h0m6 0h0m-8-1h0m-2 0h0m7 0h0m-9 0h0m11-1h0m2 0h0m-15 0h0m1 3h0m0 4h0m-2 1h0m2 1h0m-11 1h0m10 1h0m-4 0h0m2 0h0m-7 2h0m10 0h0m-2 0h0m-12 0h0m-2 0h0m-3-6h0m-3 0h0m-2-1h0m2-2h0m-3 0h0m-2 0h0m4-2h0m3-1h0m-4-1h0m6 0h0m-22 1h0m6 0h0m-3 0h0m-3 2h0m4 0h0m4 0h0m-4 2h0m6 0h0m-2 2h0m-3 2h0m-2 1h0m1 2h0m-4 0h0m2 1h0m4 0h0m-16 0h0m2 0h0m-6-1h0m12-1h0m-4 0h0m-4 0h0m-3-1h0m9 0h0m-2-1h0m-2 0h0m6 0h0m-5-2h0m4 0h0m-6-1h0m4 0h0m3-1h0m-5 0h0m-8 0h0m10-1h0m-2-1h0m-6 0h0m4-1h0m4 0h0m-7-1h0m2-1h0m8 0h0m-6 0h0m-15 1h0m-2 0h0m0 2h0m8 1h0m-10 1h0m4 1h0m3 1h0m4 0h0m-9 0h0m-3 0h0m10 2h0m-2 0h0m-7 0h0m-2 0h0m13 1h0m-6 1h0m-2 0h0m6 0h0m-9 0h0m7 1h0m4 0h0m-13 0h0m6 1h0m-20-1h0m2 0h0m5 0h0m2 0h0m-5-1h0m6-1h0m-2 0h0m-2 0h0m-6-1h0m5-1h0m4 0h0m-2 0h0m-6-1h0m6-2h0m2-1h0m-3-1h0m-16-1h0m-4 0h0m2 2h0m2 1h0m-2 1h0m9 1h0m-6 0h0m-3 1h0m-2 0h0m6 1h0m6 0h0m-4 1h0m-7 0h0m4 1h0m-2 0h0m7 0h0m2 1h0m-3 1h0m-9 0h0m4 0h0m3 0h0m-19 0h0m5 0h0m2 0h0m-9 0h0m5-1h0m-2-1h0m-2 0h0m12 0h0m-2-1h0m-6 0h0m2-1h0m-7-1h0m3 0h0m2 0h0m7 0h0m-1-7h0m-14-1h0m-2 1h0m4 0h0m-2 1h0m-5 1h0m3 0h0m-2 2h0m-2 1h0m4 0h0m0 2h0m3 0h0m-9 0h0m4 0h0m3 2h0m3 0h0m-5 0h0m-4 1h0m5 1h0m3 0h0m-13 0h0m-19 15h0m4 0h0m-2-1h0m-5 0h0m2-1h0m2-1h0m-4 0h0m7-2h0m-5 0h0m3-1h0m2-1h0m-4-1h0m2-2h0m3-3h0m12 2h0m-8 1h0m4 1h0m-2 0h0m4 0h0m2 0h0m-9 1h0m10 1h0m-12 0h0m4 0h0m3 0h0m2 0h0m2 2h0m-11 0h0m5 0h0m2 0h0m0 2h0m2 0h0m-7 0h0m-2 0h0m4 1h0m8 0h0m-12 1h0m2 0h0m8 0h0m-6 1h0m3 0h0m6 0h0m1-2h0m12-1h0m-8 0h0m-2-2h0m4 0h0m3 0h0m-6-2h0m2 0h0m2 0h0m5-1h0m-3 0h0m-6-1h0m3 0h0m7-1h0m-5 0h0m2 0h0m-4-1h0m5-1h0m-2 0h0m16-1h0m-7 0h0m-4 1h0m5 1h0m6 0h0m-2 0h0m4 0h0m-11 0h0m0 2h0m10 0h0m-8 0h0m3 1h0m-3 1h0m-3 0h0m5 2h0m-4 0h0m2 2h0m2 0h0m-4 3h0m15 0h0m2 0h0m-5-1h0m9 0h0m-2 0h0m-2-1h0m-2 0h0m8-1h0m-4-1h0m3-1h0m-5 0h0m8-1h0m-6-1h0m-4 0h0m7 0h0m-5 0h0m8-1h0m-4-1h0m-3 0h0m-2-1h0m7-1h0m-3 0h0m5 0h0m-8-1h0m-3 0h0m9-1h0m6 0h0m-3 0h0m7 1h0m4 0h0m-2 0h0m-6 1h0m9 1h0m-11 0h0m9 0h0m-7 1h0m4 0h0m-6 1h0m11 0h0m-2 0h0m-5 0h0m-2 1h0m2 1h0m7 0h0m-2 0h0m-9 0h0m6 0h0m-4 1h0m6 1h0m-9 1h0m7 0h0m6 0h0m-2 0h0m-2 1h0m-4 0h0m-3 0h0m-2 1h0m11 0h0m-7 1h0m2 0h0m3 0h0m4 0h0m2-5h0m3-1h0m3-1h0m2-1h0m2-1h0m-9 0h0m5-1h0m-7 0h0m4-3h0m-4 0h0m11 0h0m-3 0h0m16 0h0m3 0h0m-8 1h0m-4 0h0m2 0h0m10 1h0m-2 0h0m-2 0h0m-6 1h0m8 1h0m-3 0h0m-2 1h0m-3 0h0m-2 0h0m4 2h0m4 1h0m4 2h0m14 3h0m-3-2h0m-7 0h0m4-1h0m-2 0h0m6-1h0m-2 0h0m-7 0h0m3-1h0m2 0h0m4-1h0m-7-1h0m-4 0h0m11-1h0m-2 0h0m4-1h0m-11-1h0m5-2h0m-6-1h0m4 0h0m22 1h0m-2 1h0m2 2h0m-8 1h0m-5 1h0m1 5h0m8 1h0m-6 0h0m8 1h0m7 0h0m1-2h0m3-1h0m-8 0h0m13-2h0m-2 0h0m-2 0h0m-7 0h0m5-1h0m-2 0h0m7-1h0m-3 0h0m-7 0h0m5-1h0m-2 0h0m7-1h0m-11 0h0m2 0h0m7-1h0m-4 0h0m2-1h0m3-1h0m-6 0h0m4-1h0m-2 0h0m8 0h0m2 1h0m7 0h0m-10 1h0m0 2h0m-12 13h0m-11-1h0m-2-1h0m10-1h0m-8 0h0m-46 1h0m3 0h0m-1 2h0m-2 0h0m4 2h0m-4 0h0m2 0h0m-1 2h0m3 0h0m4 0h0m-2 0h0m-7 1h0m7 1h0m-3 0h0m5 0h0m1 2h0m-4 0h0m-4 0h0m6 1h0m-6 1h0m8 0h0m-19 0h0m-2-1h0m8-1h0m-5 0h0m-5 0h0m7-1h0m-3-1h0m5 0h0m-10 0h0m12-1h0m-10-1h0m11-1h0m-13-1h0m2-1h0m9 0h0m-3-2h0m-6 0h0m-2 0h0m11 0h0m2-1h0m-11-1h0m9 0h0m-24 0h0m10 0h0m-4 1h0m2 0h0m3 1h0m-12 0h0m10 1h0m-9 2h0m11 0h0m-2 0h0m-7 1h0m6 1h0m4 0h0m-6 0h0m4 0h0m-6 0h0m-2 1h0m2 1h0m3 0h0m-7 0h0m11 0h0m-2 1h0m2 1h0m-6 0h0m-3 0h0m-2 0h0m9 1h0m-2 0h0m-11 1h0m-5-1h0m7 0h0m-5-1h0m5-1h0m-2-1h0m-2-1h0m4 0h0m-6-1h0m3-2h0m-2 0h0m4-1h0m-3-1h0m-2 0h0m-3-1h0m2-1h0m3 0h0m-5-1h0m-13 0h0m7 12h0m-4 1h0m-21-1h0m7-1h0m-4-1h0m-2 0h0m-2-1h0m7 0h0m-5-1h0m3 0h0m4-1h0m2 0h0m-8-1h0m-2 0h0m6 0h0m-2-1h0m-4-1h0m2 0h0m6 0h0m-2-1h0m-2 0h0m5-1h0m-10-2h0m10 0h0m-15 1h0m3 0h0m-5 0h0m4 2h0m-2 0h0m0 2h0m0 2h0m4 0h0m-2 2h0m2 2h0m-2 3h0m5 0h0m-2 0h0m13 2h0m-13 1h0m5 1h0m7 0h0m-3 1h0m-6 1h0m4 0h0m6 0h0m-8 1h0m6 0h0m-3 2h0m-7 0h0m2 0h0m2 1h0m7 0h0m-2 0h0m-7 1h0m2 1h0m18 1h0m-4 0h0m2-1h0m-7 0h0m2 0h0m3-1h0m-3-1h0m5 0h0m2 0h0m-4-1h0m1-2h0m-5 0h0m2 0h0m5-2h0m-5 0h0m-2-1h0m7-1h0m-5 0h0m2 0h0m-1-2h0m2-1h0m17 0h0m-2 0h0m6 0h0m-2 1h0m-2 1h0m-2 1h0m-6 4h0m3 1h0m8 1h0m-10 0h0m-2 0h0m7 1h0m3 1h0m-6 0h0m-2 0h0m11 1h0m-4 1h0m6 0h0m12-1h0m-8 0h0m-2 0h0m9-3h0m1-2h0m-3 0h0m-8 0h0m2-1h0m4-1h0m-8-1h0m13 0h0m-10 0h0m2 0h0m6-1h0m-8-1h0m-2 0h0m12 0h0m-7-1h0m-4-1h0m7 0h0m17 0h0m-11 0h0m4 2h0m-2 0h0m9 1h0m-11 0h0m2 1h0m2 0h0m-4 1h0m5 1h0m-4 1h0m2 0h0m5 1h0m3 0h0m-5 0h0m6 2h0m-2 0h0m-3 0h0m-4 0h0m0 2h0m9 0h0m-5 0h0m-2 0h0m-4 0h0m9 1h0m4-1h0m3-1h0m0-2h0m-2-1h0m3-1h0m-5 0h0m3-1h0m4 0h0m-4-2h0m6 0h0m-2 0h0m-7-2h0m10-1h0m-4 0h0m-4 0h0m6-1h0m-8 0h0m-13 15h0m6-1h0m-4 0h0m2 0h0m-16 0h0m8 0h0m-4 0h0m6 1h0m-4 1h0m-2 1h0m-6 2h0m-15 8h0m0-2h0m2 0h0m-2-2h0m2 0h0m2 0h0m5-2h0m-8 0h0m3 0h0m2 0h0m5-1h0m-9-1h0m3 0h0m4-1h0m-2 0h0m4 0h0m-6-1h0m5-1h0m3 0h0m-6-1h0m-2-1h0m8 0h0m-24 0h0m4 0h0m-6 1h0m9 1h0m-2 0h0m-7 1h0m4 0h0m6 1h0m2 0h0m-10 0h0m4 0h0m-6 1h0m3 1h0m8 0h0m-2 0h0m-4 0h0m2 0h0m-7 1h0m7 1h0m4 0h0m-12 1h0m10 0h0m-8 0h0m2 0h0m1 2h0m5 0h0m2 0h0m-4 1h0m2 1h0m-13 0h0m2-6h0m0-2h0m-2-1h0m2-1h0m0-2h0m-2 0h0m-7 0h0m19 14h0m-5 0h0m8-1h0m-6 0h0m8 1h0"/>
</defs>
<g fill="none" stroke-width="2.6" stroke-linecap="square">
<g transform="translate(371.6 378)">
<use href="#C2" stroke="#00BA38"/>
<use href="#C3" stroke="#B79F00"/>
<use href="#C1" stroke="#F8766D"/>
<use href="#C0" stroke="#00BFC4"/>
<use href="#C4" stroke="#619CFF"/>
<use href="#C5" stroke="#F564E3"/>
</g>
<g transform="translate(972 378)">
<use href="#K2" stroke="#00BA38"/>
<use href="#K3" stroke="#B79F00"/>
<use href="#K1" stroke="#F8766D"/>
<use href="#K0" stroke="#00BFC4"/>
<use href="#K4" stroke="#619CFF"/>
<use href="#K5" stroke="#F564E3"/>
</g>
</g>
<path d="M110.5 124.5L110.5 624.85" stroke="#000" stroke-width="2.9" fill="none"/>
<path d="M109.05 623.4L659.7 623.4" stroke="#000" stroke-width="2.9" fill="none"/>
<path d="M112.6 623.4L112.6 631.4" stroke="#000" stroke-width="2.4" fill="none"/>
<text x="112.6" y="658" font-size="29.5" text-anchor="middle">-50</text>
<path d="M242.1 623.4L242.1 631.4" stroke="#000" stroke-width="2.4" fill="none"/>
<text x="242.1" y="658" font-size="29.5" text-anchor="middle">-25</text>
<path d="M371.6 623.4L371.6 631.4" stroke="#000" stroke-width="2.4" fill="none"/>
<text x="371.6" y="658" font-size="29.5" text-anchor="middle">0</text>
<path d="M501.1 623.4L501.1 631.4" stroke="#000" stroke-width="2.4" fill="none"/>
<text x="501.1" y="658" font-size="29.5" text-anchor="middle">25</text>
<path d="M630.6 623.4L630.6 631.4" stroke="#000" stroke-width="2.4" fill="none"/>
<text x="630.6" y="658" font-size="29.5" text-anchor="middle">50</text>
<path d="M102.9 241L110.5 241" stroke="#000" stroke-width="2.4" fill="none"/>
<text x="100.4" y="251.2" font-size="29.5" text-anchor="end">25</text>
<path d="M102.9 378L110.5 378" stroke="#000" stroke-width="2.4" fill="none"/>
<text x="100.4" y="388.2" font-size="29.5" text-anchor="end">0</text>
<path d="M102.9 515L110.5 515" stroke="#000" stroke-width="2.4" fill="none"/>
<text x="100.4" y="525.2" font-size="29.5" text-anchor="end">-25</text>
<path d="M709.8 623.4L1260 623.4" stroke="#000" stroke-width="2.9" fill="none"/>
<path d="M713 623.4L713 631.4" stroke="#000" stroke-width="2.4" fill="none"/>
<text x="713" y="658" font-size="29.5" text-anchor="middle">-50</text>
<path d="M842.5 623.4L842.5 631.4" stroke="#000" stroke-width="2.4" fill="none"/>
<text x="842.5" y="658" font-size="29.5" text-anchor="middle">-25</text>
<path d="M972 623.4L972 631.4" stroke="#000" stroke-width="2.4" fill="none"/>
<text x="972" y="658" font-size="29.5" text-anchor="middle">0</text>
<path d="M1101.5 623.4L1101.5 631.4" stroke="#000" stroke-width="2.4" fill="none"/>
<text x="1101.5" y="658" font-size="29.5" text-anchor="middle">25</text>
<path d="M1231 623.4L1231 631.4" stroke="#000" stroke-width="2.4" fill="none"/>
<text x="1231" y="658" font-size="29.5" text-anchor="middle">50</text>
<text x="683.5" y="88.5" font-size="33" text-anchor="middle">ASC cells</text>
<text x="368" y="128.7" font-size="29.2" text-anchor="middle">CONTROL</text>
<text x="971.2" y="128.7" font-size="29.3" text-anchor="middle">COLD</text>
<text x="668.4" y="696.7" font-size="28.3" text-anchor="middle">tSNE_1</text>
<text x="51.3" y="388" font-size="28.3" text-anchor="middle" transform="rotate(-90 51.3 388)">tSNE_2</text>
<circle cx="1351.3" cy="149.1" r="6.4" fill="#00BFC4"/>
<text x="1367" y="159.1" font-size="28.8">ASC1_quiescent</text>
<circle cx="1351.3" cy="197.3" r="6.4" fill="#F8766D"/>
<text x="1367" y="207.3" font-size="28.8">ASC1_cold-activated</text>
<circle cx="1351.3" cy="245.5" r="6.4" fill="#00BA38"/>
<text x="1367" y="255.5" font-size="28.8">ASC2</text>
<circle cx="1351.3" cy="293.7" r="6.4" fill="#B79F00"/>
<text x="1367" y="303.7" font-size="28.8">ASC3</text>
<circle cx="1351.3" cy="341.9" r="6.4" fill="#619CFF"/>
<text x="1367" y="351.9" font-size="28.8">Prolif/Non-diff</text>
<circle cx="1351.3" cy="390.1" r="6.4" fill="#F564E3"/>
<text x="1367" y="400.1" font-size="28.8">Prolif/Diff</text>
<text x="0.9" y="29.5" font-size="51">a</text>
<text x="-0.8" y="778.8" font-size="51">b</text>
<text x="1339.5" y="774" font-size="49" font-weight="bold">c</text>
<text x="1.2" y="1593" font-size="51">d</text>
<g transform="translate(372.2 1134.4) scale(1 1.08394)" fill="none" stroke-linecap="round" stroke-width="6.6">
<g stroke="#d3d3d3">
<use href="#C2"/>
<use href="#C3"/>
<use href="#C1"/>
<use href="#C0"/>
<use href="#C4"/>
<use href="#C5"/>
</g>
<path vector-effect="non-scaling-stroke" stroke="#dfb2a4" d="M-5 -32h0m-5 15h0m55 14h0m-54-7h0m-16 8h0m2-6h0m-15 16h0m22-2h0m-10 6h0m35-4h0m-10 8h0m-1 6h0m-26 3h0m-14 8h0m33 2h0m7 0h0m10-2h0m13 1h0m-3 11h0m8 10h0m-15-7h0m0-3h0m-2-1h0m-32 7h0m-1 6h0m3 1h0m-4 7h0m3 3h0m10-5h0m4-1h0m8 6h0m20-5h0m4-6h0m4 19h0m-14 4h0m-8-2h0m0-5h0m-29 6h0m2-9h0m-13 6h0m2 1h0m-1 16h0m15-3h0m-5 1h0m7 0h0m1 4h0m-9 2h0m29-11h0m-4 6h0m30 9h0m-8 10h0m-19-13h0m-16 0h0m-1 7h0m-17-7h0m0 2h0m-4 11h0m16 13h0m12-6h0m-5-6h0m13 5h0m21-1h0m-9-2h0m24 10h0m6 13h0m-3-3h0m-3-3h0m-1-5h0m-23 0h0m0 9h0m3 3h0m-7 0h0m-5-7h0m-32 2h0m-78 13h0m72 7h0m3-2h0m-11-9h0m19 3h0m8 8h0m11-5h0m1-3h0m5-1h0m24 2h0m-1-2h0m-9-1h0m7-1h0m0-2h0m13 0h0m-3 4h0m13 21h0m-9-7h0m-2-3h0m-19 5h0m-13-3h0m3-1h0m-34-1h0m-4 0h0m-79 12h0m8-7h0m-7 0h0m-9 3h0m-9 10h0m-13 7h0m109-4h0m-2-1h0m47 5h0m20 15h0m-2-1h0m-17-8h0m4 5h0m-18 4h0m7-6h0m2-6h0m-18 8h0m-1 2h0m2 1h0m-4 0h0m-10 1h0m-19 4h0m14 0h0m7 3h0m3 2h0m-7 1h0m16 4h0m4-12h0m6 5h0m6 2h0m-8 0h0m12 3h0m2-6h0m17-3h0m9 1h0m-5 1h0m-2 8h0m9-6h0m2-1h0m-17 9h0m-7 3h0m-4 3h0m-5-4h0m-9-2h0m-25 7h0m-3-4h0m8 0h0m-10-2h0m10 0h0m-14 2h0"/>
<path vector-effect="non-scaling-stroke" stroke="#d78f7a" d="M-56 -200h0m-24-9h0m-14 3h0m-42 42h0m104 2h0m-63 26h0m27-3h0m73 17h0m-117 37h0m185 17h0m-199 2h0m-61 8h0m142 27h0m-160-6h0m102 19h0m97 10h0m-78 4h0m-17-1h0m-77-7h0m212 20h0m17 1h0m-5-4h0m4-1h0m-38 10h0m-53 10h0m-184-7h0m-8 18h0m54-2h0m138 5h0m24-4h0m30 5h0m10 13h0m-10-4h0m-38 0h0m2-2h0m-20-1h0m-41 8h0m2-5h0m-124-1h0m39 20h0m88-11h0m8 2h0m44 7h0m30 0h0m24 3h0m-15 12h0m-37-2h0m3-1h0m-91 2h0m83 11h0m-4-2h0m6 7h0m15 0h0m-1-8h0m43 16h0m-41-3h0m-14 8h0m-147-3h0m-45 16h0m98-6h0m81-3h0m41 3h0m1 9h0m15-9h0m19 5h0m-9 1h0m15 14h0m3 0h0m-17 4h0m9-2h0m-31-10h0m-15 10h0m-15-9h0m-11 1h0m-7 5h0m-116 4h0m-28 1h0m6 10h0m14-9h0m78 10h0m49 3h0m7 0h0m-9-6h0m14-3h0m15 8h0m5-6h0m30 5h0m-8-3h0m18-8h0m-2 3h0m-14 11h0m-6 4h0m-6 0h0m-22 4h0m-21-7h0m7 2h0m-3 2h0m-53-5h0m-3 6h0m-2 4h0m-39-3h0m-19 12h0m14 6h0m107-3h0m20-8h0m43 3h0m10 9h0m-3 10h0m-6-4h0m-1-2h0m-13 0h0m-13 9h0m-6-6h0m-16-3h0m11 10h0m-15-6h0m0 12h0m13 8h0m-6-1h0m8-6h0m12-4h0m-6 1h0m7 4h0m13 2h0m6-8h0m9 6h0m3 2h0m-41 12h0m2-3h0m-16 2h0"/>
<path vector-effect="non-scaling-stroke" stroke="#cd6a50" d="M-103 -203h0m-8 42h0m67 2h0m20 9h0m5 28h0m-26 5h0m-88 0h0m38 37h0m0 19h0m-10 11h0m98 21h0m-28-7h0m-183 7h0m203 8h0m57 17h0m-68-6h0m-159-2h0m225 14h0m-42 16h0m-212 22h0m16-3h0m207 12h0m-15-4h0m4 22h0m12-1h0m-4 2h0m23-8h0m-27 14h0m-29 3h0m9-1h0m-15 6h0m-7 13h0m9-7h0m22 6h0m15 2h0m10-2h0m17 4h0m-43 2h0m-14 8h0m-16 1h0m-73 6h0m97 2h0m11 5h0m-3-7h0m19 9h0m8-12h0m15 4h0m-6 0h0m-32 18h0m-21-1h0m-14 1h0m9 5h0m-102-5h0m-23 4h0m-4-3h0m-53-7h0m8 13h0m166 7h0m47 4h0m39 0h0m-16 14h0m-17-6h0m-26-1h0m-93-5h0m-55 5h0m134 20h0m34-8h0m30 0h0m-17 22h0m-24-7h0m-9 2h0m-12 7h0m-11-1h0m19 2h0m5 8h0m23-3h0m15 3h0m2 1h0m-4 8h0m-30 1h0m3 3h0"/>
<path vector-effect="non-scaling-stroke" stroke="#bd4228" d="M-97 -213h0m-15 34h0m4 20h0m-20 21h0m115 40h0m-169 44h0m-17 23h0m87 9h0m136 15h0m-112 11h0m6-1h0m47 6h0m52-8h0m28 0h0m-239 18h0m196 18h0m-2 7h0m-34 5h0m-41-7h0m-112 23h0m100-2h0m93 13h0m-38-4h0m-56 15h0m58 9h0m11-3h0m48 12h0m-19 3h0m-22-1h0m-29-3h0m54 29h0m-45-7h0m-134 0h0m-14 9h0m77 14h0m127-5h0m7 2h0m-19 19h0m-34-3h0m-88 3h0m72 15h0m43 0h0m10 13h0m-30-5h0m-26 9h0m43 2h0m18 12h0m-19 3h0"/>
<path vector-effect="non-scaling-stroke" stroke="#a51c0c" d="M77 -97h0m-224 3h0m-16 9h0m-3 25h0m17 31h0m-9 7h0m116 17h0m-60 6h0m20 65h0m-32 18h0m-43 27h0"/>
</g>
<g transform="translate(974.6 1134.4) scale(1.00116 1.08394)" fill="none" stroke-linecap="round" stroke-width="6.6">
<g stroke="#d3d3d3">
<use href="#K2"/>
<use href="#K3"/>
<use href="#K1"/>
<use href="#K0"/>
<use href="#K4"/>
<use href="#K5"/>
</g>
<path vector-effect="non-scaling-stroke" stroke="#dfb2a4" d="M59 -185h0m36-3h0m36 0h0m42 17h0m-2 0h0m5-2h0m-90 1h0m-40-8h0m-67 8h0m71 13h0m-6-2h0m18-1h0m5 6h0m15-5h0m11 3h0m9-5h0m43-4h0m2 0h0m-6 2h0m27 0h0m-35 24h0m-134-8h0m-19 22h0m197-13h0m-14 21h0m-24-1h0m-2 4h0m-4 3h0m-17-4h0m-34-6h0m-12 1h0m-77 18h0m13 5h0m86-7h0m84-4h0m-5 6h0m32-1h0m-27 15h0m-7-5h0m-11-3h0m-31 11h0m3 2h0m-14 0h0m-25 0h0m-10-6h0m-10 6h0m-107 7h0m30 0h0m41-5h0m-2 4h0m22 8h0m22-8h0m-4-3h0m47 1h0m57-1h0m14 20h0m-37-4h0m-2 5h0m-9-3h0m-41 2h0m-23-3h0m-15-4h0m-17 5h0m8 0h0m-104 9h0m48 8h0m142 2h0m51-11h0m5 22h0m-8-7h0m0 6h0m-16 5h0m-1-6h0m-7-5h0m-10 2h0m-1 6h0m-37 3h0m-5-3h0m-15 4h0m-37-9h0m-8 17h0m31-1h0m10-4h0m13 6h0m14-2h0m5 5h0m42-9h0m20 8h0m3-4h0m-103 13h0m-32 10h0m63 4h0m12-1h0m-31 16h0m7 1h0m-34 2h0m24 9h0m2-1h0m-5 28h0m15-2h0m3 0h0m30 3h0m-58 31h0m7-5h0m14 17h0m-15 3h0m-4-3h0m-3 2h0m-2 28h0"/>
<path vector-effect="non-scaling-stroke" stroke="#d78f7a" d="M-100 -204h0m92 11h0m58-2h0m14 10h0m50-6h0m36 2h0m26 20h0m-49-10h0m-7 2h0m-21-2h0m-8 9h0m0-12h0m-20 11h0m7 1h0m-7 1h0m-63-5h0m-73-4h0m-8-3h0m-25 19h0m208 5h0m62 15h0m-150 0h0m-140-2h0m0 3h0m236 10h0m79 16h0m-43-8h0m-9-2h0m-126 7h0m-13-4h0m-13 0h0m-71 1h0m-12 2h0m122 17h0m116-10h0m39 9h0m30 8h0m-13 9h0m-28 0h0m4-6h0m-9-4h0m-34-1h0m-69 12h0m-2-11h0m-28 4h0m-104 10h0m103-1h0m22 8h0m8 1h0m34 3h0m22-10h0m32 3h0m0-2h0m13 9h0m6 0h0m7 11h0m-6-9h0m-44 2h0m-51-2h0m-4 1h0m5 4h0m-50-5h0m-236 1h0m19 18h0m121 1h0m128 0h0m48 2h0m-4-6h0m-9-2h0m20 3h0m51 9h0m35-10h0m-42 24h0m-20-13h0m-27 10h0m-7-1h0m-9 2h0m-16-9h0m-80 2h0m-205 22h0m254-11h0m17 1h0m26 0h0m-9 10h0m16 0h0m7-3h0m-4-5h0m98 18h0m-119-3h0m-28 0h0m-5 3h0m-60-8h0m-168 12h0m-41-8h0m33 11h0m65 8h0m-47 12h0m-32 13h0m14 3h0m185-6h0m123 7h0m14 8h0m-71 5h0m1-9h0m-46 7h0m-176 0h0m-36-4h0m26 11h0m-1 4h0m1 5h0m136-8h0m6 1h0m122 18h0m-29-3h0m-178 8h0m195 9h0m19 0h0m-28 10h0m-257 9h0m174 9h0m245-1h0m-163 16h0m-159 0h0"/>
<path vector-effect="non-scaling-stroke" stroke="#cd6a50" d="M-9 -232h0m-83 34h0m233 27h0m-195 0h0m-59-7h0m176 18h0m99-3h0m8-4h0m2 20h0m-297 0h0m-5 9h0m156 6h0m174 13h0m-20 0h0m-122 4h0m-74 16h0m30-5h0m95 1h0m-8 11h0m-46 3h0m-199-1h0m118 14h0m94 4h0m70-3h0m13 1h0m-1 3h0m23-13h0m16 7h0m-219 13h0m95 15h0m61-6h0m46 23h0m-13 0h0m-5 3h0m-109-1h0m-222 15h0m223-2h0m21 1h0m6-11h0m20-1h0m11 10h0m40-10h0m41 6h0m14-4h0m-5 15h0m-82 5h0m-9 3h0m-61-10h0m-184 13h0m107 3h0m7 8h0m39-2h0m36-1h0m15-4h0m46 11h0m-11 5h0m-112 4h0m-81-6h0m6 8h0m-79-4h0m-15-2h0m116 21h0m39-2h0m109-11h0m25 3h0m31 13h0m-52 11h0m3-12h0m-165 9h0m-57-2h0m-27 2h0m-28 10h0m23 3h0m20 2h0m21 0h0m56-11h0m91 4h0m42 8h0m74-6h0m-290 14h0m-27 8h0m47 10h0m111-6h0m32 7h0m-9 5h0m-168 9h0m-8 9h0m39 28h0m29 2h0m214-7h0m-257 17h0m245 28h0"/>
<path vector-effect="non-scaling-stroke" stroke="#bd4228" d="M-12 -214h0m-73 23h0m41-3h0m101 8h0m64 2h0m33-3h0m10 9h0m-283-2h0m157 20h0m35-4h0m75 6h0m16 7h0m-291 4h0m119 36h0m47 8h0m45 10h0m-14 1h0m41 9h0m-43 35h0m9-1h0m87 14h0m-99-6h0m-94 10h0m77 5h0m153 11h0m-19 5h0m5 0h0m-76-3h0m-9 7h0m-88 1h0m-198 3h0m-16-6h0m326 10h0m83 24h0m-142 0h0m-159 7h0m177 6h0m99 7h0m-66 3h0m1-3h0m-99-4h0m-146 0h0m104 35h0m-118 5h0m-64 4h0m291 17h0m-217 4h0m-23-8h0m3 9h0m-22-9h0m-11 9h0m100 13h0m196-1h0m-232 25h0m10 4h0m223-7h0m4 24h0"/>
<path vector-effect="non-scaling-stroke" stroke="#a51c0c" d="M-85 -182h0m-53 86h0m-72 61h0m200 31h0m-9-7h0m-204 3h0m194 12h0m-199 20h0m123 29h0m-108-8h0m12 16h0m38 1h0m129 11h0m-105 18h0m44 18h0m-124 10h0m57-2h0m53 8h0m243 11h0m-284 27h0"/>
</g>
<path d="M110.3 859.4L110.3 1402.25" stroke="#000" stroke-width="2.9" fill="none"/>
<path d="M108.85 1400.8L665 1400.8" stroke="#000" stroke-width="2.9" fill="none"/>
<path d="M113.2 1400.8L113.2 1408.8" stroke="#000" stroke-width="2.4" fill="none"/>
<text x="113.2" y="1436.8" font-size="29.5" text-anchor="middle">-50</text>
<path d="M242.7 1400.8L242.7 1408.8" stroke="#000" stroke-width="2.4" fill="none"/>
<text x="242.7" y="1436.8" font-size="29.5" text-anchor="middle">-25</text>
<path d="M372.2 1400.8L372.2 1408.8" stroke="#000" stroke-width="2.4" fill="none"/>
<text x="372.2" y="1436.8" font-size="29.5" text-anchor="middle">0</text>
<path d="M501.7 1400.8L501.7 1408.8" stroke="#000" stroke-width="2.4" fill="none"/>
<text x="501.7" y="1436.8" font-size="29.5" text-anchor="middle">25</text>
<path d="M631.2 1400.8L631.2 1408.8" stroke="#000" stroke-width="2.4" fill="none"/>
<text x="631.2" y="1436.8" font-size="29.5" text-anchor="middle">50</text>
<path d="M102.7 985.9L110.3 985.9" stroke="#000" stroke-width="2.4" fill="none"/>
<text x="100.2" y="996.1" font-size="29.5" text-anchor="end">25</text>
<path d="M102.7 1134.4L110.3 1134.4" stroke="#000" stroke-width="2.4" fill="none"/>
<text x="100.2" y="1144.6" font-size="29.5" text-anchor="end">0</text>
<path d="M102.7 1282.9L110.3 1282.9" stroke="#000" stroke-width="2.4" fill="none"/>
<text x="100.2" y="1293.1" font-size="29.5" text-anchor="end">-25</text>
<path d="M709.5 1400.8L1262.6 1400.8" stroke="#000" stroke-width="2.9" fill="none"/>
<path d="M715.3 1400.8L715.3 1408.8" stroke="#000" stroke-width="2.4" fill="none"/>
<text x="715.3" y="1436.8" font-size="29.5" text-anchor="middle">-50</text>
<path d="M844.95 1400.8L844.95 1408.8" stroke="#000" stroke-width="2.4" fill="none"/>
<text x="844.95" y="1436.8" font-size="29.5" text-anchor="middle">-25</text>
<path d="M974.6 1400.8L974.6 1408.8" stroke="#000" stroke-width="2.4" fill="none"/>
<text x="974.6" y="1436.8" font-size="29.5" text-anchor="middle">0</text>
<path d="M1104.25 1400.8L1104.25 1408.8" stroke="#000" stroke-width="2.4" fill="none"/>
<text x="1104.25" y="1436.8" font-size="29.5" text-anchor="middle">25</text>
<path d="M1233.9 1400.8L1233.9 1408.8" stroke="#000" stroke-width="2.4" fill="none"/>
<text x="1233.9" y="1436.8" font-size="29.5" text-anchor="middle">50</text>
<text x="683.7" y="811.4" font-size="32.2" text-anchor="middle" font-style="italic" word-spacing="3">Epac1 (Rapgef3)</text>
<text x="368" y="860.3" font-size="29.2" text-anchor="middle">CONTROL</text>
<text x="971.3" y="860.3" font-size="29.3" text-anchor="middle">COLD</text>
<text x="668.4" y="1483" font-size="28.3" text-anchor="middle">tSNE_1</text>
<text x="51.3" y="1130" font-size="28.3" text-anchor="middle" transform="rotate(-90 51.3 1130)">tSNE_2</text>
<path d="M1538 881.5L1538 1367.7" stroke="#000" stroke-width="3.4" fill="none"/>
<path d="M1536.3 1366L1762 1366" stroke="#000" stroke-width="3.4" fill="none"/>
<path d="M1648.5 1366L1648.5 1373.5" stroke="#000" stroke-width="2.6" fill="none"/>
<path d="M1530.5 937.7L1538 937.7" stroke="#000" stroke-width="2.6" fill="none"/>
<text x="1525.5" y="947.9" font-size="28.7" text-anchor="end">ASC3</text>
<path d="M1530.5 1014.3L1538 1014.3" stroke="#000" stroke-width="2.6" fill="none"/>
<text x="1525.5" y="1024.5" font-size="28.7" text-anchor="end">Prolif/Non-diff</text>
<path d="M1530.5 1090L1538 1090" stroke="#000" stroke-width="2.6" fill="none"/>
<text x="1525.5" y="1100.2" font-size="28.7" text-anchor="end">Prolif/Diff</text>
<path d="M1530.5 1166.6L1538 1166.6" stroke="#000" stroke-width="2.6" fill="none"/>
<text x="1525.5" y="1176.8" font-size="28.7" text-anchor="end">ASC2</text>
<path d="M1530.5 1242.9L1538 1242.9" stroke="#000" stroke-width="2.6" fill="none"/>
<text x="1525.5" y="1253.1" font-size="28.7" text-anchor="end">ASC1_cold</text>
<path d="M1530.5 1319.1L1538 1319.1" stroke="#000" stroke-width="2.6" fill="none"/>
<text x="1525.5" y="1329.3" font-size="28.7" text-anchor="end">ASC1_quies</text>
<circle cx="1648.5" cy="937.7" r="0.9" fill="#cfc6ca"/>
<circle cx="1648.5" cy="1014.3" r="8.4" fill="#d6aabe"/>
<circle cx="1648.5" cy="1166.6" r="8.1" fill="#d5649b"/>
<circle cx="1648.5" cy="1242.9" r="10.8" fill="#d496b4"/>
<circle cx="1648.5" cy="1319.3" r="34.8" fill="#ce0e68"/>
<text x="1648.4" y="1397" font-size="28.7" text-anchor="middle" font-style="italic">Epac1</text>
<text x="1648.2" y="1436" font-size="28.7" text-anchor="middle" font-style="italic">(Rapgef3)</text>
<text x="1775.2" y="936.4" font-size="29.05">Percent Expressed</text>
<circle cx="1834.3" cy="971.5" r="3.9" fill="#000"/>
<circle cx="1834.3" cy="1007.3" r="16.5" fill="#000"/>
<circle cx="1834.4" cy="1067.9" r="29.5" fill="#000"/>
<text x="1876.3" y="978.8" font-size="28.7">2</text>
<text x="1876.3" y="1018.9" font-size="28.7">4</text>
<text x="1876.3" y="1075.8" font-size="28.7">6</text>
<text x="1775.6" y="1183.3" font-size="29">Average Expressed</text>
<defs><linearGradient id="gc" x1="0" y1="0" x2="0" y2="1"><stop offset="0" stop-color="#ce0e68"/><stop offset="0.5" stop-color="#d372a2"/><stop offset="1" stop-color="#d3d3d3"/></linearGradient></defs>
<rect x="1822.1" y="1203.8" width="28.8" height="144.7" fill="url(#gc)"/>
<path d="M1822.1 1244.7h6M1850.9 1244.7h-6" stroke="#fff" stroke-width="1" fill="none"/>
<path d="M1822.1 1294.4h6M1850.9 1294.4h-6" stroke="#fff" stroke-width="1" fill="none"/>
<path d="M1822.1 1343.9h6M1850.9 1343.9h-6" stroke="#fff" stroke-width="1" fill="none"/>
<text x="1877.7" y="1252.3" font-size="28.7" text-anchor="end">1</text>
<text x="1880.6" y="1301.5" font-size="28.7" text-anchor="end">0</text>
<text x="1877.7" y="1348.5" font-size="28.7" text-anchor="end">-1</text>
<g transform="translate(343.9 1885.3) scale(0.887066 1.0438)" fill="none" stroke-linecap="round" stroke-width="6.8">
<path vector-effect="non-scaling-stroke" stroke="#ad8ee6" d="M-110 -206h0m79 22h0m13-4h0m-7 5h0m15-6h0m4-6h0m-4 0h0m110-1h0m73 25h0m-38-1h0m-12-1h0m-50 0h0m-9 2h0m-8-3h0m-24-4h0m-39 6h0m-2 2h0m-12-3h0m0-5h0m-10-4h0m-10 6h0m7 6h0m17 5h0m-11 9h0m34-6h0m25 7h0m15-11h0m36 9h0m81 2h0m-1-8h0m6 3h0m10 14h0m-35 2h0m-1-2h0m-3-4h0m0 7h0m-21 1h0m7-8h0m-75 3h0m-20 1h0m-2-1h0m9-1h0m4-5h0m-15 8h0m-2 4h0m-24-13h0m-8 0h0m0 6h0m-6 5h0m-1-7h0m-16-3h0m-3 23h0m11-4h0m28 2h0m14 0h0m35-8h0m21 1h0m89 11h0m23 1h0m-3 0h0m1-2h0m5 5h0m-3 5h0m2 0h0m-11 2h0m-20-6h0m-14 2h0m-30 6h0m4-8h0m-23 2h0m-3-4h0m-19 5h0m-34 5h0m0-2h0m-33-5h0m-15 7h0m-6 1h0m-3-1h0m-10 8h0m11 1h0m12 1h0m-6-4h0m10 0h0m4-2h0m24 9h0m3 1h0m134 2h0m-4-6h0m1-4h0m11 3h0m11 4h0m21-1h0m9 1h0m1 5h0m-1 2h0m-1 4h0m-2 6h0m-4-2h0m1-3h0m-10-4h0m4-1h0m-14 5h0m-28 2h0m-71-3h0m-26 4h0m-5-7h0m-4 2h0m-25-4h0m-8 1h0m4 0h0m-40 0h0m-21 8h0m-43 2h0m-128 14h0m186-10h0m-4 5h0m17 5h0m-2-11h0m20 0h0m12 9h0m1-5h0m21-5h0m36 8h0m32-8h0m27 8h0m19-5h0m-2-4h0m32 9h0m17-2h0m3 19h0m-5-2h0m-6-1h0m-13-7h0m8 8h0m-37-6h0m2 6h0m-9-10h0m-23 11h0m-29-7h0m-19 3h0m1 3h0m-11 3h0m-49-8h0m-44-3h0m-17 10h0m-49-2h0m-121 1h0m2 3h0m-11 0h0m8 13h0m14-2h0m4-5h0m8-4h0m104 8h0m34-3h0m11 1h0m40 3h0m15 1h0m40 0h0m-4-5h0m4-5h0m8 7h0m9-3h0m25 1h0m1-6h0m2 0h0m17 7h0m13-8h0m17 10h0m27-6h0m6 9h0m13-3h0m1-10h0m10 12h0m-15 15h0m-12-5h0m-35 4h0m-32-5h0m-18 5h0m-43-4h0m1 2h0m-34-4h0m-14 0h0m-21 0h0m-16 0h0m-9-2h0m-112-2h0m-29 9h0m-33 0h0m-2-5h0m-13-2h0m2 18h0m3-3h0m33 3h0m46-5h0m135 0h0m7-2h0m50 9h0m25-4h0m14-2h0m39 0h0m2 5h0m8 0h0m64 1h0m5 16h0m8-11h0m-26 3h0m1 7h0m-6 2h0m-30-6h0m-7-3h0m-75 6h0m-23-6h0m6 8h0m-115-8h0m-41 4h0m-48-4h0m-27 3h0m-17-1h0m-3 2h0m-6 5h0m-13-9h0m4-3h0m-13 0h0m2 2h0m-1 24h0m45-10h0m-10 3h0m104 7h0m15-8h0m207-3h0m-3-2h0m56 10h0m11-5h0m2 7h0m14-4h0m3 17h0m-21-8h0m-12 2h0m-85 7h0m-113-2h0m-35-2h0m-14-6h0m4 7h0m-107 1h0m-17 1h0m-4-7h0m-10 8h0m-2 1h0m-29 0h0m0 13h0m46-6h0m55-5h0m53 7h0m38 2h0m14-8h0m215 10h0m-7-9h0m22 5h0m-3 4h0m9-4h0m0-7h0m-14 19h0m10 0h0m-6-2h0m3-1h0m-19 7h0m9 2h0m-69-4h0m-5-1h0m-26 2h0m-23-3h0m2 2h0m-48-3h0m-43-3h0m-121 5h0m-4-2h0m-26-3h0m-34 2h0m-21 9h0m-7-2h0m-4 1h0m4 14h0m25-11h0m53 2h0m24 2h0m29-3h0m20 10h0m73-1h0m27-6h0m41 4h0m17-6h0m27 0h0m-2-3h0m50 8h0m-4 3h0m39 0h0m6-3h0m1-5h0m-12-2h0m4 0h0m17 0h0m-4 3h0m4 4h0m-31 16h0m2-1h0m3-5h0m-35 2h0m2-5h0m-13 2h0m-12 4h0m-15-6h0m-4 5h0m7 2h0m-13 0h0m2 0h0m-21-5h0m-46 8h0m-19-1h0m-41-4h0m-101 6h0m-16-2h0m-64-1h0m-12-3h0m-4-3h0m14 11h0m29 11h0m45-1h0m35-8h0m163-2h0m-3 4h0m11 1h0m-5 8h0m-6 0h0m21-2h0m28 0h0m0-8h0m-4 0h0m-3-3h0m20 6h0m-4 2h0m12-6h0m81 15h0m-55 2h0m-41-5h0m-7 5h0m-17 0h0m3-4h0m-14 5h0m2 6h0m-12-12h0m-62 7h0m2-6h0m-104 11h0m5 1h0m-27-4h0m-12 4h0m1-7h0m-37 2h0m-46 1h0m-10-3h0m13 9h0m-13 5h0m2 2h0m1 4h0m2 1h0m19 0h0m16-6h0m13-4h0m6 4h0m26 1h0m35-3h0m40 5h0m-2-1h0m8-4h0m137 6h0m2-1h0m-6-2h0m4-1h0m-2-3h0m7 2h0m4 5h0m57-11h0m8 7h0m51-7h0m3 10h0m16 2h0m11-2h0m-149 10h0m-82-3h0m-83 9h0m-3-6h0m-15-6h0m11 13h0m-17-11h0m-10 0h0m-5 2h0m-11 4h0m2-4h0m-22 2h0m-9-2h0m-8-2h0m-11-1h0m2 7h0m-22-6h0m0 2h0m-3 1h0m-7 2h0m29 16h0m0-2h0m14-3h0m10 1h0m-8 3h0m24-6h0m2 0h0m8 2h0m1 3h0m-5 3h0m7 3h0m0-2h0m4-2h0m10-8h0m5 5h0m2 2h0m4 1h0m-9 1h0m17 3h0m-4-1h0m7-1h0m1-1h0m3-2h0m-8-1h0m4-1h0m-8-1h0m10-3h0m9 5h0m-2 0h0m4 2h0m78-7h0m13 3h0m140 17h0m-125 2h0m10 0h0m-23-2h0m-114-3h0m6 0h0m-8 2h0m-2-5h0m-15-2h0m-21 13h0m4-11h0m-18 2h0m7 4h0m-16-3h0m8 16h0m20-4h0m4 4h0m-4 3h0m-2 1h0m1 2h0m19-5h0m-1-2h0m4 2h0m107 0h0m46 5h0m-56 33h0m-2-3h0"/>
<path vector-effect="non-scaling-stroke" stroke="#522dfb" d="M-14 -227h0m7 0h0m-5 0h0m-21 1h0m-78 14h0m29-3h0m4 1h0m15 3h0m3-1h0m-8-2h0m4-1h0m4-1h0m28-2h0m12 2h0m4 4h0m-9 0h0m24 0h0m-7-1h0m3-1h0m-3-10h0m17 2h0m-7 1h0m-49 24h0m-9-1h0m5-1h0m1-1h0m2 0h0m-4-7h0m-5-2h0m-6 3h0m6 0h0m-10 1h0m-2 1h0m1 2h0m4 5h0m-17 0h0m1-4h0m4 0h0m-8-2h0m7-2h0m4-3h0m-7-1h0m-10 12h0m-16-5h0m-15-4h0m7 1h0m-5 3h0m1 3h0m-13 3h0m8 8h0m-2 0h0m17-7h0m-2 7h0m3 3h0m14-3h0m4-5h0m-3-1h0m17 4h0m12 6h0m2-1h0m3-1h0m12-7h0m-8 1h0m-1 5h0m-1 2h0m17-7h0m-1-2h0m0-1h0m115 7h0m58-8h0m16 15h0m-17-1h0m-27 0h0m-26 2h0m-17 7h0m-28-2h0m-47 6h0m-8-5h0m-20-8h0m-1 7h0m0 2h0m-9-2h0m-12-7h0m3 6h0m-8 0h0m11 0h0m-2 3h0m-21 4h0m7-2h0m-1-2h0m-10-1h0m2-5h0m-10-2h0m-4 6h0m-1 2h0m-8 0h0m6-2h0m-16-6h0m-7 2h0m-2 8h0m-4 2h0m-2-2h0m-8-3h0m-4-1h0m-14 19h0m11 1h0m1-1h0m-6-12h0m11 0h0m10 7h0m2 4h0m-5 0h0m8 2h0m-1-4h0m18-5h0m2 0h0m5 6h0m-4 1h0m9-1h0m23-9h0m1 3h0m10 6h0m-9-3h0m13-7h0m4 2h0m5 2h0m-7 8h0m5 0h0m17 0h0m8-11h0m24 12h0m-8-13h0m85 0h0m15 2h0m30 1h0m9 5h0m21 2h0m-99 13h0m-13-5h0m-6-3h0m-34 2h0m-20 10h0m-26-2h0m-9 0h0m1-2h0m8-1h0m0-2h0m-4-5h0m-10 0h0m-7 3h0m-2 2h0m12 1h0m-12 4h0m-4-4h0m-7-4h0m-11-2h0m6 11h0m-18-5h0m-5-3h0m10 0h0m-17 9h0m-12-6h0m-1-2h0m-2-3h0m-19 2h0m-1 2h0m8 16h0m16-8h0m-3 2h0m-6 7h0m-4 2h0m15 1h0m4-3h0m1-3h0m-1-2h0m14-4h0m10 4h0m13 6h0m4 1h0m6 1h0m8-2h0m-4-6h0m3-2h0m-1-1h0m-1 0h0m15 0h0m4 2h0m1 4h0m-3 0h0m-2 1h0m7 1h0m-5 1h0m6 2h0m-5 1h0m-4 0h0m125-10h0m82 4h0m6 20h0m-44-6h0m-12 4h0m-10-2h0m-12 1h0m-122-9h0m1 11h0m-2-3h0m-2 0h0m-3-1h0m-6-4h0m3 0h0m2 0h0m-11-2h0m-2 2h0m-11 9h0m0-1h0m-2 0h0m-6-3h0m10-1h0m-8-3h0m3-1h0m-18 8h0m-9-3h0m1-6h0m-12 6h0m-16 4h0m-4-1h0m-6-4h0m4-2h0m7-5h0m-8 0h0m6-1h0m-8 0h0m-3 0h0m-1 3h0m1 11h0m15 0h0m-8 8h0m3 2h0m6-1h0m2-8h0m24 11h0m-10 1h0m15 0h0m5-1h0m1-1h0m-3-4h0m-3-4h0m12 5h0m-1 2h0m10 1h0m4-6h0m26-3h0m-3 0h0m3 0h0m-3 2h0m43-4h0m10 11h0m8-11h0m22 0h0m24 0h0m91 5h0m12-2h0m26 15h0m-114-4h0m-41 13h0m-9-13h0m-12 4h0m-68 8h0m11-6h0m-6-3h0m-3-1h0m-23 10h0m-4-3h0m4-2h0m-2-2h0m2-1h0m2-1h0m2 0h0m-13-3h0m-9 2h0m-4 1h0m1 0h0m-10 10h0m-1-4h0m9-8h0m-3 0h0m-24 6h0m-11 3h0m5-5h0m-9-5h0m-3 0h0m-2 8h0m-10-5h0m-41 22h0m11 2h0m25-10h0m39 7h0m6-4h0m-3-1h0m11-4h0m0 3h0m2 3h0m3 4h0m18 2h0m-13-4h0m11-3h0m-6-2h0m-5-3h0m5-1h0m11 7h0m23 5h0m13-8h0m-6 5h0m2 1h0m12-2h0m19-2h0m30 1h0m13-7h0m102 8h0m73 9h0m-85 9h0m8-7h0m-5-3h0m-143 6h0m-29 3h0m10 0h0m-8 0h0m6-9h0m-2-2h0m-14 6h0m-3 2h0m-12 5h0m3 0h0m-7-5h0m2-2h0m0-2h0m-6-4h0m0 1h0m-2 1h0m2 2h0m-5 4h0m-4 3h0m-11 2h0m-10-7h0m-4 2h0m7 0h0m-4 2h0m-16-7h0m-73 20h0m28 3h0m56-3h0m-1-1h0m-1-5h0m16-3h0m6 1h0m-6 1h0m2 4h0m-6 4h0m9 3h0m18-4h0m0-2h0m0-2h0m-7 0h0m1-5h0m15 10h0m24-7h0m85-1h0m35 6h0m43-1h0m66-7h0m-34 22h0m-15-1h0m-22 4h0m-56 1h0m-25-5h0m-26-1h0m-3 2h0m-38-6h0m9 3h0m-8 5h0m-4-1h0m-2-3h0m-18 1h0m-17 2h0m11-2h0m-2-3h0m-15-3h0m3 0h0m-1 4h0m-24 7h0m-16-4h0m-81-7h0m10 10h0m-10 14h0m39-10h0m1 6h0m5 1h0m-5 1h0m21-6h0m30 0h0m42 0h0m-1 3h0m10 7h0m-1-6h0m-1-5h0m-1-2h0m17 2h0m7 0h0m-12 8h0m25 2h0m-10-4h0m6 0h0m-4-3h0m29 6h0m2-4h0m14-7h0m-1 6h0m6 2h0m16-1h0m-3-1h0m41 7h0m102-11h0m4-2h0m5 8h0m-61 19h0m-1-4h0m-56-4h0m-51-5h0m-11 6h0m0 0h0m-6 4h0m-13-1h0m7-2h0m-18 0h0m-12 2h0m-5-1h0m-11-5h0m2 5h0m-11-4h0m-9-3h0m-13 11h0m-7-6h0m-46 5h0m-16-6h0m-10 3h0m-24 0h0m-22 3h0m23 5h0m57 0h0m2 10h0m47 1h0m-5-8h0m19 3h0m-9 3h0m35-10h0m17 12h0m2-6h0m4 5h0m20-1h0m-2 0h0m18-11h0m-2 1h0m-2 3h0m12 0h0m3 0h0m17-3h0m1 3h0m1 4h0m-7 4h0m-4 1h0m158-9h0m-20 15h0m-71-1h0m-78 9h0m-25-12h0m2 11h0m-10-2h0m-17-8h0m-7 1h0m-1 3h0m10 2h0m-8 4h0m-43-7h0m-13 3h0m-71 5h0m-2-12h0m-27 4h0m10-1h0m4 21h0m31-5h0m15 6h0m20-1h0m-5-6h0m-5-2h0m-2-3h0m25 4h0m-1 8h0m17-7h0m-7 0h0m49 2h0m12 2h0m9-5h0m2 1h0m11 2h0m12-6h0m-1 10h0m19-10h0m-5-1h0m64 10h0m-7-10h0m19 9h0m8-4h0m-1-4h0m28 12h0m9 3h0m-108 2h0m-17 2h0m-5-1h0m5-2h0m-46-3h0m-87 10h0m-30 2h0m4 1h0m-10-1h0m-7-8h0m5-4h0m-20 1h0m6 11h0m-39 1h0m14 2h0m14 2h0m22 3h0m-4 3h0m49-3h0m103 7h0m13-4h0m2-9h0m0 4h0m10 6h0m-4 1h0m17-7h0m-5-1h0m63 0h0m32 16h0m-13 6h0m-9-2h0m-61-4h0m-7-5h0m-21 4h0m0-2h0m-16 0h0m-11 8h0m7-1h0m-4-6h0m7 0h0m-12 0h0m8-3h0m-19 12h0m-6-6h0m-20 0h0m-14 4h0m-2-1h0m-7 0h0m-31 2h0m-63-3h0m-9 3h0m-6-4h0m-3-5h0m-2 10h0m-13 0h0m72 14h0m1-12h0m33 4h0m12-1h0m25-3h0m45 10h0m13-5h0m18-3h0m11 12h0m-1 4h0m-14 3h0m2-1h0m-15-6h0m10 10h0m-7 3h0m-21-3h0m-8 1h0m-120-1h0m126 16h0m0-2h0m27-2h0m-8-2h0m23 4h0m3 0h0m-7 1h0m5 1h0m15-3h0m0-2h0m10-6h0m-8 10h0m-8 13h0m-10-2h0m-3-1h0m-2-6h0m-32 6h0m11-5h0m-9-2h0m-7 4h0m-6 2h0m8 1h0m-164-4h0m165 24h0m-10-3h0m3-7h0m56 0h0m18 15h0m-21 2h0m-4 0h0m-6 0h0m0-6h0m-16 7h0m-30-6h0m3 24h0m3-6h0m17-5h0m42 12h0m-6-11h0m22 21h0m-13-3h0m-9 6h0m-17 2h0m7 0h0m1-4h0m-24-1h0m-2 4h0m-12-6h0m9-2h0m2-2h0m-24 0h0m6 10h0m-5 10h0m4-1h0m7-7h0m18 8h0m2-3h0m16-3h0m-4 2h0m-1 2h0m-2 2h0m5 4h0m19 0h0m0-12h0m16 3h0m-13 3h0m11 0h0m-9 11h0m-15 1h0m-12-4h0"/>
<path vector-effect="non-scaling-stroke" stroke="#bba5e0" d="M145 -198h0m-173 23h0m130 8h0m-137 13h0m154 19h0m69 10h0m-102 7h0m-79-2h0m1 16h0m11-6h0m178 0h0m2 1h0m5 23h0m5-3h0m-35-1h0m1-7h0m-9 8h0m-97-6h0m-25-2h0m-90 25h0m219-2h0m30 16h0m1-2h0m-10-3h0m-82 1h0m-326 1h0m-8 8h0m6 1h0m-8 8h0m322-8h0m97 4h0m7-5h0m-51 19h0m-8-6h0m-87-2h0m-106 11h0m-3 5h0m99 2h0m159 13h0m-94 7h0m-338 1h0m10 14h0m383-10h0m31 6h0m-417 8h0m398 15h0m15 8h0m16 2h0m3-8h0m-3 14h0m-11 0h0m-14 0h0m2 1h0m-2 2h0m-4-3h0m-62 5h0m-351 14h0m303-3h0m73 3h0m3 2h0m13-5h0m-2-1h0m2-4h0m22 10h0m3 2h0m5 0h0m-6-2h0m8-1h0m-3-2h0m15 2h0m1 16h0m4-4h0m-12-2h0m-21 1h0m-20-4h0m9 2h0m-17 1h0m-4-6h0m-79 0h0m-269 4h0m47 13h0m22 8h0m200 1h0m44 0h0m25-11h0m32 2h0m-10-3h0m48 9h0m9 4h0m40 3h0m-55 11h0m-30-3h0m-72-6h0m-254 8h0m-32-11h0m-6 10h0m-27 15h0m93-6h0m5-6h0m22 7h0m-5 3h0m25 1h0m167 2h0m-4-4h0m10-8h0m23 0h0m22 2h0m46 2h0m10 8h0m14-11h0m-7 2h0m43 5h0m1-6h0m2-1h0m-126 22h0m-222-3h0m-43-5h0m-9 1h0m-24 2h0m1 6h0m-24 1h0m6 7h0m-2-1h0m1-2h0m11 0h0m-8 2h0m14 9h0m8-2h0m-7-2h0m59 3h0m9-5h0m3 5h0m23-6h0m4-2h0m179 7h0m-2 1h0m29-12h0m16 5h0m4-3h0m9 1h0m27 1h0m5-1h0m29 1h0m-80 11h0m-14 6h0m-203-2h0m-8-4h0m5 2h0m-2 5h0m-2 2h0m-13 3h0m-6 0h0m-1-12h0m-2 2h0m-9 4h0m-31-7h0m1 12h0m34 2h0m24 3h0m195 2h0m18 5h0m20-3h0m13-7h0m-3 8h0m-50 11h0m7 1h0m-9-3h0"/>
<path vector-effect="non-scaling-stroke" stroke="#8a60f1" d="M-109 -212h0m18-8h0m61 2h0m15-2h0m-2 3h0m-10 4h0m18-3h0m-3-7h0m144 25h0m-23-4h0m1 3h0m-62 2h0m-104-4h0m-14-7h0m6 7h0m0 3h0m6 0h0m-20-2h0m-11 1h0m2 0h0m-13 2h0m-3-6h0m-2-4h0m2-1h0m-20 3h0m3 7h0m-11 8h0m-6 7h0m47-8h0m-2-1h0m-2-4h0m20 1h0m-6 9h0m6 0h0m-4 3h0m23-2h0m21 0h0m18-3h0m8-1h0m0-2h0m-2 0h0m2-2h0m2 0h0m61 7h0m-9 0h0m2-7h0m-2 0h0m18 5h0m13 5h0m-7-1h0m18-11h0m9 4h0m-4 2h0m14 1h0m-7-4h0m19 4h0m-3 3h0m16 1h0m-3-4h0m6-1h0m12 2h0m15 4h0m-3-9h0m-3 12h0m-2 5h0m11 3h0m-19-1h0m7-9h0m-22 5h0m-1 3h0m-9 2h0m2-9h0m-21 9h0m-14 1h0m-2-1h0m0-9h0m5-1h0m-21 0h0m2 2h0m2 0h0m1 7h0m-1 2h0m4 1h0m-5 1h0m-12 0h0m-2-8h0m-8-2h0m3 1h0m0 4h0m0 3h0m-10 1h0m10 1h0m-15-1h0m-1-4h0m-7-6h0m8 0h0m-16-2h0m-35 7h0m3 4h0m-15 1h0m3-2h0m6-3h0m-8-5h0m-16 4h0m2 4h0m6 1h0m-24-10h0m-13 9h0m-8-9h0m-14 0h0m-8 2h0m3 0h0m6 1h0m-2 0h0m-2 5h0m-6 2h0m-11-4h0m-1-3h0m3-4h0m-14 1h0m5 1h0m-3 4h0m2 2h0m-19 5h0m4-2h0m0-5h0m-2 0h0m-5 0h0m-5 19h0m15-9h0m9 11h0m14-13h0m8 8h0m45-5h0m-2 1h0m12 5h0m-12 1h0m20 2h0m-5-2h0m9-10h0m13 4h0m2 1h0m-9 0h0m4 3h0m15-1h0m-7-3h0m5-1h0m7-2h0m3 4h0m10 2h0m0 5h0m11-1h0m14-6h0m-5 6h0m14 0h0m9-1h0m-4-1h0m-5-4h0m18 3h0m7-1h0m1-2h0m-1-2h0m21-3h0m-2 2h0m-3 1h0m-1 2h0m8 0h0m-5 5h0m22 1h0m-8-6h0m3-3h0m20-1h0m-1 5h0m6-1h0m-2-1h0m15-4h0m8 0h0m-4 1h0m-3 5h0m4 1h0m-4 1h0m1 2h0m21-2h0m-10-3h0m17 0h0m5 19h0m-5-5h0m-7-2h0m-13 5h0m-12-7h0m-10 6h0m8 1h0m-7 3h0m-6 0h0m4 0h0m-16 0h0m7-3h0m-12-7h0m0 6h0m-10 1h0m6 1h0m2 0h0m2 0h0m-8 2h0m-5-7h0m-33 5h0m-6-7h0m-15 1h0m4 0h0m-16 10h0m4-4h0m1-4h0m-4-4h0m-5 2h0m-11 6h0m-6 4h0m-2-3h0m3-3h0m-9-2h0m3-3h0m4-2h0m-21 2h0m-7 9h0m-7-3h0m9-5h0m-17-3h0m-7 13h0m-3-9h0m-1-2h0m-8 0h0m-10 1h0m-22-1h0m-5 4h0m-13 7h0m-3-1h0m7-3h0m-12-6h0m0-2h0m-13 10h0m10 2h0m-17-10h0m-11-2h0m-6 3h0m6 1h0m-2 2h0m-4 2h0m5 18h0m7-8h0m4 1h0m-4 1h0m9 3h0m-5 0h0m18-2h0m-8 0h0m9-5h0m5-3h0m9 1h0m1 3h0m-4 3h0m4 1h0m13 1h0m-9-5h0m6 0h0m-1-2h0m-8-1h0m35 6h0m15-4h0m0 4h0m4 5h0m13-2h0m2 0h0m-13-1h0m16-9h0m8 1h0m-6 4h0m-1 4h0m2 4h0m11-4h0m13-8h0m11 2h0m-5 5h0m-1 5h0m17-6h0m-4-6h0m17 9h0m11-1h0m-5-1h0m22-5h0m3 5h0m-10 4h0m15 1h0m5-2h0m5-3h0m13 5h0m13-13h0m16 0h0m-10 4h0m11 6h0m13 2h0m-7-3h0m-4-3h0m13 3h0m10 3h0m-5 1h0m14-4h0m8-9h0m3 2h0m6 9h0m5 2h0m8-2h0m8 14h0m1-2h0m-2-1h0m2-2h0m-2-5h0m-12 11h0m-28-1h0m-5-1h0m2-3h0m-4 0h0m1-2h0m-23-1h0m2 1h0m10 5h0m-23-1h0m-1-6h0m10-3h0m-20 5h0m-16 3h0m6 0h0m-23 1h0m10 1h0m-1 3h0m-19-1h0m-6-1h0m13-9h0m-23-2h0m8 2h0m-28-2h0m1 5h0m0 3h0m-16-5h0m-11-1h0m-12-1h0m9 0h0m-7 12h0m-5-10h0m-23 2h0m-3 2h0m-15-5h0m-14 6h0m4 1h0m-29-1h0m1 2h0m-11-3h0m-11-6h0m-2 3h0m0 9h0m-5 0h0m-16-12h0m-4 21h0m8-4h0m-3 0h0m10 0h0m-11 3h0m-1 2h0m54-9h0m9 7h0m27-6h0m-1 5h0m5 0h0m14 7h0m-7 0h0m8-3h0m-9-2h0m6-2h0m15-6h0m2 1h0m-11 1h0m4 0h0m4 0h0m2 0h0m9 9h0m-4-3h0m10-6h0m15-2h0m-2 9h0m3 2h0m11 0h0m1-2h0m-7-1h0m-4 0h0m13-6h0m-10-1h0m8 0h0m7 9h0m19 0h0m-6-1h0m2-2h0m22-7h0m-3 4h0m-5 2h0m4 4h0m3 0h0m-11 1h0m25-10h0m6 9h0m19 1h0m30-6h0m10-3h0m6 5h0m-5 0h0m-4 4h0m16-1h0m2-2h0m1-2h0m15-6h0m-1 9h0m-6 2h0m2 2h0m11-12h0m2-1h0m23 4h0m-4 3h0m1 3h0m9 7h0m-4 2h0m-14 8h0m11-10h0m-25 0h0m-5 8h0m-4-5h0m6 0h0m-7-2h0m-6 0h0m-8 1h0m1 7h0m-7 1h0m-42-1h0m-27 0h0m-5-7h0m-2 3h0m-9 5h0m-6 0h0m3-5h0m-2-3h0m-3-4h0m-7-1h0m-3 5h0m-3 2h0m4 3h0m-5 2h0m-16-8h0m3-2h0m-19-1h0m8 2h0m3 4h0m-19 4h0m-3 0h0m5-2h0m-3 0h0m-4-3h0m0-4h0m6-1h0m3-1h0m-21 3h0m-6 6h0m-17-3h0m4 2h0m-6 1h0m-9 2h0m-37-8h0m-10 3h0m4 1h0m-21 6h0m-3 0h0m4-2h0m-4 0h0m-13-6h0m1 4h0m10 2h0m-30-3h0m0 3h0m-55 11h0m-4-7h0m19 5h0m-11 1h0m11 2h0m64 2h0m3-2h0m7-4h0m-2 1h0m13 1h0m-3 1h0m-2 1h0m18-3h0m-2-3h0m9 0h0m-5 3h0m36-3h0m5 1h0m-1 6h0m-12 1h0m26-2h0m-2-1h0m-4-2h0m12-2h0m-2 2h0m5 6h0m7 0h0m5-3h0m-1-2h0m4-1h0m4-1h0m-6 0h0m5-2h0m-2-1h0m17 1h0m-8 1h0m4 0h0m-6 4h0m19 5h0m-5-8h0m21-4h0m-2 2h0m-5 7h0m25 3h0m-6-7h0m10 3h0m23 4h0m8-5h0m7 4h0m2-11h0m21 2h0m3 0h0m-5 1h0m-4 0h0m6 1h0m2 4h0m-10 4h0m19 0h0m2-1h0m27-4h0m3-1h0m-8-1h0m11-1h0m-5-5h0m13 2h0m3 0h0m9 5h0m7 0h0m0-2h0m6 3h0m-1 18h0m-16-8h0m11 5h0m-18 3h0m3-7h0m1-4h0m-22 12h0m-12-7h0m-13-5h0m5 2h0m2 6h0m-8 3h0m-16-5h0m-16-3h0m-6 8h0m-6-1h0m3-1h0m-2-5h0m-4-4h0m-1 2h0m-4 2h0m-6 5h0m8 2h0m-43-3h0m1-1h0m-4-8h0m-14 9h0m1 2h0m-13-1h0m0-2h0m-23-1h0m1 5h0m-11-1h0m6-2h0m-10-5h0m1-4h0m-4 1h0m-11 3h0m3 1h0m4 0h0m-15 5h0m4-1h0m3-3h0m-7-1h0m3-1h0m-5 0h0m-7-1h0m-3 2h0m-21-2h0m-10 2h0m7 4h0m-16-4h0m-5 0h0m-15 1h0m7 6h0m-20-11h0m-27 12h0m6-1h0m-10-2h0m-1 0h0m5-2h0m-8-1h0m-15 6h0m-5 0h0m1-3h0m5-1h0m0-9h0m-21 2h0m-5 0h0m4 6h0m-2 1h0m-9-4h0m2-2h0m-5-3h0m1 19h0m-3 2h0m2 6h0m19 0h0m-9-1h0m5-1h0m-3-3h0m23-7h0m-5 0h0m-4 0h0m2 6h0m4 1h0m14 2h0m19-10h0m-9 0h0m7 12h0m13 0h0m-6-3h0m15 1h0m-3 3h0m12-5h0m21-6h0m2 1h0m14 8h0m-5-3h0m-4-2h0m0-2h0m9-1h0m6 0h0m0 4h0m7 1h0m-7 1h0m19 2h0m1 0h0m-4 0h0m22-9h0m2 6h0m-6 4h0m6 0h0m8 1h0m-1-8h0m19-1h0m-10 5h0m2 2h0m24-2h0m59-9h0m-1 4h0m4 2h0m-5 0h0m6 6h0m-6 0h0m53-2h0m0-7h0m-2 0h0m12-1h0m9 10h0m8-4h0m2-1h0m1-4h0m-2 0h0m-6-1h0m3-2h0m16 0h0m1 4h0m-3 2h0m-8 1h0m20-6h0m19 3h0m2 1h0m8 8h0m-6-8h0m20-5h0m1 3h0m-11 18h0m-11 5h0m-7-9h0m-6-2h0m-2 1h0m0 5h0m-6 4h0m-2 1h0m-10-11h0m-12 3h0m-2 0h0m1 6h0m-22 2h0m0-5h0m0-7h0m-4 0h0m-22 13h0m2 0h0m-6-5h0m0-2h0m13-3h0m-15 1h0m-1 5h0m-31-9h0m0 6h0m-2 0h0m3 2h0m-35-7h0m-1 7h0m-9-2h0m1-2h0m2 0h0m-4-1h0m2-2h0m-2-1h0m-13 7h0m-4 1h0m-13-3h0m0-4h0m-6 8h0m2 2h0m-14 0h0m-4-7h0m3-2h0m-26 8h0m-7-2h0m1-5h0m-15-1h0m5 6h0m-18-5h0m5-1h0m-25 2h0m6 9h0m-16-6h0m-1-4h0m-9 3h0m-5 2h0m-8 1h0m1-2h0m-2-6h0m-36 11h0m7-1h0m0-2h0m-1-4h0m-3-3h0m-18-2h0m0 4h0m3 2h0m5 7h0m-11-6h0m-6-1h0m6 0h0m-2-1h0m-1-2h0m-7 0h0m1-1h0m-2-1h0m10-1h0m-15 12h0m3 9h0m0-5h0m14-2h0m-7 10h0m-4 2h0m18 1h0m6-9h0m-12-2h0m10-1h0m8 6h0m0 2h0m7 4h0m-7 0h0m14-1h0m-3-3h0m10-2h0m-8 0h0m9-5h0m27 5h0m-8-4h0m4-2h0m19 1h0m13 6h0m2-4h0m-6-1h0m-5-1h0m5-1h0m3-1h0m10 2h0m-4 6h0m7 2h0m-6 1h0m38-2h0m6 3h0m-4-4h0m0-6h0m7-1h0m9-1h0m7 1h0m-2 0h0m7 11h0m0-10h0m21 3h0m11 8h0m8-6h0m4 1h0m24 1h0m-1-3h0m27 5h0m-7 0h0m4-7h0m-6-4h0m12 12h0m18-8h0m23-3h0m-4 1h0m13 11h0m-8 0h0m6-1h0m-2 0h0m7-3h0m-9-5h0m12 1h0m13 6h0m-7 1h0m-5 1h0m20 0h0m16-7h0m13-1h0m3-3h0m16-2h0m-2 2h0m-3 0h0m-2 1h0m7 2h0m-12 2h0m3 6h0m15-3h0m6 0h0m-4-2h0m-6-8h0m13 0h0m11 23h0m-8-2h0m0-3h0m-13-3h0m-2 2h0m11 10h0m-27 0h0m7-4h0m4-1h0m-3-3h0m-22-2h0m4 4h0m7 1h0m-24 4h0m-10-11h0m2 0h0m6 10h0m-22 2h0m-13-13h0m4 3h0m-2 5h0m-4 0h0m-4 1h0m-4-6h0m-29 1h0m-10-2h0m-3 3h0m-8 0h0m-1 1h0m0 1h0m-1 3h0m8 3h0m-19-2h0m9-1h0m-2-6h0m2-2h0m-31 2h0m-9-4h0m-2 1h0m-21 5h0m8-3h0m-15 6h0m-5 2h0m2 2h0m-15-4h0m-6-7h0m-5-2h0m-3 0h0m-7 3h0m0 2h0m8 0h0m-21 5h0m-16-7h0m1 3h0m0 3h0m6 3h0m-9 0h0m-6-2h0m3-1h0m-1-5h0m-21-3h0m7 3h0m-1 4h0m-11-1h0m-1-4h0m-8-3h0m-12 4h0m10 5h0m-31-6h0m-8 3h0m8 0h0m-4 0h0m-5 4h0m5 2h0m-16 1h0m-4-1h0m1-3h0m9 0h0m-4-3h0m-2-5h0m-2-1h0m-6 0h0m-1 2h0m3 1h0m-7 1h0m-5 2h0m13 1h0m-1 5h0m-6 0h0m-16 0h0m-2-2h0m-3-8h0m0 9h0m-4 2h0m3 11h0m-2 0h0m1-10h0m9 0h0m-5 1h0m11 2h0m-7 0h0m-4 1h0m6 2h0m6 0h0m-1 3h0m13-2h0m-8-1h0m10-2h0m6-2h0m1 1h0m2 4h0m8 4h0m6-2h0m2-2h0m-10 0h0m13-4h0m-2-1h0m4 2h0m1 2h0m-2 5h0m16-11h0m17 5h0m-5 0h0m11 2h0m-2 1h0m0 4h0m15 0h0m-2-4h0m-8-1h0m2-2h0m39 5h0m-12-3h0m7-1h0m1-6h0m7 0h0m6 3h0m-6 6h0m5 3h0m37-7h0m4 0h0m6 0h0m-2-1h0m-5 0h0m2-1h0m0-2h0m14 0h0m1 2h0m-5 1h0m-3 3h0m2 3h0m-2 1h0m25 0h0m1-3h0m-12-3h0m18-1h0m9 0h0m-1 8h0m14-2h0m-11-2h0m3-2h0m-2-3h0m1-2h0m13 0h0m-1 9h0m20 2h0m6-10h0m5 3h0m56-4h0m10 1h0m35 8h0m5-1h0m-7-1h0m4-8h0m10 2h0m7 1h0m-4 2h0m-2 3h0m3 5h0m6-5h0m2-5h0m18 2h0m-4 3h0m-1 2h0m13 10h0m5 5h0m-9-3h0m-8-2h0m-8-6h0m-6 1h0m6 3h0m3 1h0m-3 1h0m-6 2h0m10 1h0m-12 2h0m-10 0h0m6-2h0m-2-1h0m-8-5h0m2-1h0m-68 0h0m-4 0h0m5 4h0m2 1h0m-8 4h0m9 0h0m-19-5h0m-18 1h0m12 2h0m-14-1h0m-1-2h0m-51-6h0m-8 2h0m-6 0h0m2-2h0m-6 8h0m-7 0h0m-3 2h0m-13-2h0m0-2h0m-3-2h0m4-2h0m-14-2h0m-4 1h0m0 2h0m8 6h0m-20-4h0m-25 7h0m3-2h0m-6-5h0m1-2h0m8-3h0m-14 3h0m-6 3h0m5 0h0m-2 3h0m-6 3h0m8 1h0m-15-6h0m-14-7h0m3 3h0m0 2h0m-39 0h0m5 2h0m-1 2h0m8 3h0m-26-1h0m2 0h0m8 0h0m-11-4h0m-13-3h0m0 2h0m-11 5h0m9-3h0m-7-1h0m-3 0h0m5-3h0m2-2h0m-15 3h0m-2 1h0m-6 0h0m-9 4h0m-4 0h0m10-7h0m1 12h0m-8 1h0m10 9h0m7-1h0m-4-8h0m23 7h0m-2 0h0m2 2h0m2 0h0m2-6h0m5-3h0m14-1h0m-7 7h0m37-5h0m-6 0h0m-3 1h0m8 1h0m-3 2h0m10-7h0m18 13h0m19-11h0m-4-1h0m5-1h0m2 2h0m8 7h0m0 2h0m41 1h0m-4-1h0m-2-1h0m6 0h0m6-2h0m3-8h0m9 6h0m-2 1h0m11 2h0m-3-9h0m12 1h0m1 7h0m-2 3h0m23-1h0m50-3h0m11 6h0m17-12h0m2 0h0m23 10h0m54-6h0m2 0h0m8-1h0m0-2h0m7 14h0m3-2h0m-68 1h0m7 2h0m-12 0h0m-14 10h0m-21-7h0m-3-1h0m2-3h0m-2-2h0m-11 12h0m-17-7h0m1-2h0m-2 0h0m-39-2h0m0 6h0m2 3h0m-19 3h0m-32-12h0m-12-1h0m6 7h0m2 0h0m-44-2h0m1-5h0m-20 0h0m-31 0h0m0 13h0m-3-2h0m-8-4h0m-17-6h0m5 10h0m-12 1h0m-3-2h0m2-4h0m1-4h0m3-2h0m-23 8h0m-10 5h0m8-5h0m-8-5h0m7-1h0m-23 0h0m2 1h0m-3 0h0m0 1h0m7 1h0m-11-3h0m-22 1h0m3 4h0m3 13h0m13-4h0m1 2h0m-4 3h0m7 3h0m10-2h0m0-2h0m0-2h0m-8-1h0m23 2h0m-1 1h0m-9 4h0m11 3h0m4 0h0m0-2h0m0-2h0m0-2h0m3 0h0m8-1h0m-10-1h0m1-2h0m-2-1h0m14-2h0m9 0h0m4 9h0m4-1h0m5-4h0m12-3h0m-6 3h0m2 1h0m-2 1h0m5 3h0m44 2h0m5-2h0m-12-6h0m13 7h0m53 2h0m1-5h0m7-5h0m-3 8h0m9 1h0m0 2h0m15-2h0m-7-7h0m13-2h0m-2 1h0m8 1h0m-1 0h0m-9 4h0m1 3h0m25-1h0m-1 0h0m-2-3h0m-1-5h0m-2-2h0m9 4h0m20 4h0m14 4h0m10 1h0m-1-7h0m2-1h0m9-1h0m9 1h0m10 6h0m-1-4h0m2 0h0m20-5h0m-5 0h0m21 6h0m-3-4h0m-4-1h0m-6-3h0m8 17h0m-8 10h0m2 0h0m-8-3h0m-8-9h0m-2-1h0m-9 9h0m-3 2h0m-9-10h0m-14 4h0m2 1h0m0 2h0m-20 4h0m0-2h0m10-7h0m-22 0h0m10 4h0m-25 2h0m-4-4h0m1 5h0m-11 0h0m-9 2h0m3-8h0m-17-3h0m0 0h0m-16 10h0m4-2h0m-2-9h0m-11 2h0m-7 2h0m7 0h0m-11 7h0m-27 1h0m-26-7h0m3 8h0m-10-3h0m4-3h0m-23-6h0m-5 11h0m-5-2h0m3-1h0m-1-4h0m-9-1h0m-7 7h0m2 2h0m-28-8h0m2 0h0m0 2h0m-9 1h0m-8 5h0m-2-9h0m0-1h0m-18 5h0m-4 5h0m-10-10h0m-3-2h0m3 20h0m37 0h0m-4 6h0m17 0h0m-8-5h0m-1-2h0m1-5h0m3 0h0m17-1h0m3 2h0m-2 3h0m8 6h0m0-8h0m20-3h0m-10 2h0m5 2h0m7 3h0m10-7h0m16 0h0m-6 2h0m-3 3h0m2 1h0m0 2h0m31-8h0m1 8h0m0 2h0m11-4h0m26 7h0m2-3h0m8-4h0m12-6h0m-3 6h0m1 6h0m6 1h0m7-1h0m-4-1h0m-3-4h0m18 5h0m6 1h0m-3 0h0m22-5h0m27-6h0m7 5h0m10 5h0m-3-3h0m12 0h0m-10-6h0m25 2h0m-12 7h0m13 0h0m2-4h0m9-1h0m-10-3h0m17 6h0m-11 4h0m3 0h0m-20 11h0m-8-9h0m-47 0h0m-29 11h0m6 0h0m2-2h0m-7-5h0m2-2h0m-2 0h0m6-1h0m-23 6h0m2 2h0m-16-3h0m-1-2h0m-41-6h0m-2 7h0m-9 1h0m3-1h0m-18-3h0m6 1h0m-3 1h0m-6 1h0m6 1h0m0 3h0m-9-1h0m-2 0h0m-22 0h0m1 2h0m3 0h0m-4 1h0m-11-6h0m2-3h0m-14-1h0m-18 7h0m0-1h0m-1-1h0m5 0h0m-6-2h0m-2-4h0m-5 4h0m4 6h0m-13-2h0m-10-5h0m-12-3h0m5 0h0m3 11h0m-20 0h0m-3 3h0m7 8h0m11-9h0m46 1h0m-2 2h0m8 8h0m17-9h0m3 4h0m2 6h0m13-9h0m16-4h0m-7 9h0m22-6h0m5 8h0m47-11h0m20 11h0m7-1h0m2-1h0m2 0h0m-10-4h0m15 1h0m-2 2h0m32-2h0m6 1h0m-3 3h0m5 1h0m39 4h0m0 4h0m-1 2h0m-38-2h0m3 2h0m1 2h0m-8-1h0m-6-3h0m2 0h0m6-1h0m1-2h0m-15-1h0m-6 3h0m-4 3h0m3 1h0m-7 1h0m1-2h0m-11-6h0m-4 3h0m0 9h0m-23-2h0m2-4h0m-3-2h0m-1-5h0m-7 1h0m4 9h0m-29-9h0m-21 7h0m-4-7h0m-3 4h0m-8 5h0m-10 0h0m-12-8h0m-23 9h0m9-5h0m-20-3h0m-12 8h0m-3-1h0m11-4h0m-2-4h0m-2-1h0m-20 2h0m4 2h0m-5 4h0m7 3h0m-10-9h0m-20 3h0m-1 9h0m29 8h0m-5-3h0m10-6h0m2 1h0m8 6h0m7-5h0m36 5h0m-9-1h0m16-5h0m9 4h0m0 7h0m-4 0h0m9 0h0m2-3h0m6-1h0m3-8h0m54 6h0m-5-1h0m2-1h0m0-4h0m23 12h0m0-2h0m5-4h0m-4 0h0m20 3h0m-1 3h0m8-11h0m9 0h0m-2-1h0m10 0h0m8 24h0m-1 3h0m-3-1h0m-4-7h0m-6-3h0m-8 3h0m3 3h0m-8 4h0m-6-3h0m-22-6h0m0 6h0m-10-8h0m-9 6h0m-58-4h0m3 2h0m0 1h0m2 0h0m-13 2h0m-7-1h0m-12 5h0m-26-12h0m-4 11h0m-13-9h0m-19-1h0m148 25h0m-4-3h0m18-7h0m-11 6h0m1 4h0m17 0h0m0-2h0m-1-2h0m2-5h0m22 1h0m-1 4h0m10 4h0m17-9h0m4 3h0m5-2h0m-6-3h0m4 25h0m-12 1h0m4-11h0m-2-2h0m-22 9h0m-10 0h0m-4-7h0m-6 1h0m-3 2h0m-8 1h0m-6-1h0m-11-5h0m-2 27h0m-1-7h0m18-6h0m2 1h0m-11 2h0m24 9h0m16-11h0m1 4h0m4 3h0m-2-3h0m10-1h0m-8 16h0m-21-2h0m-21-1h0"/>
<path vector-effect="non-scaling-stroke" stroke="#0000ff" d="M-91 -217h0m5 44h0m35 27h0m-72-1h0m5 27h0m15 20h0m55-12h0m12 8h0m-69 19h0m41 4h0m-2 14h0m-18-3h0m-27 8h0m14 6h0"/>
<path vector-effect="non-scaling-stroke" stroke="#c8bcda" d="M146 -117h0m19 14h0m13 136h0m5-5h0m-412 25h0m390 5h0m7 6h0m27-2h0m-6-6h0m10 8h0m7 12h0m0-4h0m-15-2h0m-2 1h0m3 1h0m-9 5h0m6 2h0m-4 2h0m-6-2h0m-9-2h0m-11 2h0m7 3h0m-25-1h0m4-3h0m4-3h0m-6-2h0m9 0h0m-3 0h0m-11 23h0m-2-3h0m-8-3h0m8-2h0m16-2h0m14-2h0m4 4h0m16-3h0m-4 0h0m13 0h0m4 1h0m-2 0h0m4 5h0m-4 6h0m19 0h0m-3-4h0m-2-2h0m1 9h0m5 5h0m-10 5h0m-4-9h0m-62 5h0m7-8h0m-16 4h0m-276 20h0m232-2h0m50 0h0m0-5h0m13 0h0m24-1h0m5 5h0m12-1h0m12-2h0m-3 2h0m9 1h0m9-1h0m13-3h0m-4 8h0m20-6h0m-1-1h0m10 3h0m-1 2h0m-10 6h0m-4 1h0m-1 11h0m-15-10h0m-4 8h0m-18-4h0m-5-7h0m-16 1h0m8 2h0m-6 10h0m-4-4h0m-13-4h0m10-1h0m-7-3h0m-11 5h0m3 1h0m4 3h0m-6 1h0m-12 1h0m-18-5h0m-24 1h0m3 0h0m-9 0h0m1 3h0m5 1h0m-286 13h0m254 1h0m5-5h0m11 1h0m19-3h0m14-1h0m7 9h0m-5-1h0m13-5h0m-10-1h0m1-3h0m7-1h0m-6-1h0m18 0h0m3 4h0m-1 7h0m10-6h0m2-1h0m15-5h0m-1 8h0m12 2h0m-2-10h0m22 1h0m9 9h0m-55 13h0m-12 2h0m-11-2h0m11-5h0m0-2h0m0-2h0m-24 0h0m0 5h0m12 2h0m-2 0h0m-10 2h0m-4 0h0m1-5h0m-8-4h0m-21 7h0m-6-2h0m-4-1h0m-6-3h0m-165 12h0m-53 10h0m223-9h0m13 6h0m-2 1h0m-10 2h0m4 3h0m30-9h0m20 1h0m2-4h0m11 3h0m-8 9h0m14-3h0m3-5h0m-7-2h0m-17 12h0m2 1h0m-17 1h0m-3-1h0m-2-1h0m-7 8h0m-6 6h0"/>
<path vector-effect="non-scaling-stroke" stroke="#d3d3d3" d="M-25 -214h0m39-7h0m94 21h0m-220 8h0m7 6h0m4 0h0m10-3h0m28-4h0m20-3h0m7 10h0m100-6h0m27 22h0m-43 0h0m-135-8h0m-49 5h0m-5 5h0m40 11h0m139-7h0m11-1h0m11 3h0m102-6h0m12 1h0m-81 14h0m-43 0h0m-146 11h0m9 6h0m118-3h0m43 10h0m52 5h0m-29 8h0m-54 1h0m-104-5h0m-63 12h0m55-1h0m26 6h0m54 3h0m195 15h0m-237-7h0m-31 0h0m-23-3h0m-7 18h0m95 5h0m32-11h0m15 3h0m6 7h0m62-3h0m-52 10h0m-20 6h0m-94-3h0m-3-7h0m-48 2h0m-22-2h0m-12 12h0m-23-7h0m-40 7h0m10-4h0m-32 12h0m195 0h0m31 7h0m64-13h0m125 4h0m-8 15h0m-16 7h0m-33 0h0m-14-12h0m-174 13h0m-6-1h0m-30-3h0m7-4h0m-83 16h0m39-4h0m13 1h0m61 3h0m91-1h0m27 1h0m3 0h0m111-4h0m11 11h0m-53 12h0m-246-9h0m-103 7h0m-10 10h0m21 3h0m77-8h0m15 4h0m-6 4h0m33 1h0m11-10h0m27 5h0m10 6h0m15-2h0m70-9h0m144 3h0m-280 13h0m-7 10h0m-75-8h0m-10 2h0m-13 2h0m-24 4h0m-21 4h0m24 8h0m135-8h0m277 9h0m1 11h0m-25-8h0m-2 7h0m-109-3h0m-173-3h0m-16 2h0m-68 19h0m43 4h0m6-6h0m-2 0h0m14 4h0m23-5h0m30-3h0m-9 11h0m57-3h0m134-4h0m-13-3h0m46 9h0m63 15h0m-9-4h0m-2 0h0m7-1h0m3 0h0m2-2h0m-18-3h0m2 8h0m1 2h0m-14-2h0m-1-4h0m-14 6h0m-19-9h0m-72 0h0m-75-3h0m-82 2h0m4-1h0m-5 3h0m-8 2h0m-15 4h0m-9 1h0m-21-3h0m-15-3h0m-28-2h0m0 2h0m-28-6h0m-28 4h0m35 13h0m-6-1h0m35 7h0m-6-6h0m49 5h0m5 3h0m11-11h0m8 1h0m2 3h0m25 5h0m157-8h0m58 10h0m-2 0h0m4-3h0m-2-1h0m2-5h0m2-2h0m12 4h0m-2 9h0m17-3h0m-7-10h0m12 2h0m4 0h0m1 2h0m0 2h0m-4 1h0m6 2h0m18-9h0m7 2h0m4 1h0m-8 1h0m7 3h0m-10 3h0m4 3h0m13-2h0m32 4h0m-2 3h0m7 0h0m-33-3h0m2 6h0m-3 2h0m-2 0h0m-17 0h0m2-7h0m-14 1h0m5 1h0m-23 8h0m8 0h0m3-4h0m-3-6h0m-18 8h0m-2 0h0m-7 0h0m2-3h0m-3-3h0m-19-3h0m10 5h0m-3 7h0m-27-4h0m-15-2h0m-108-7h0m-77 8h0m-46 3h0m2 0h0m-23 1h0m2-5h0m-19 0h0m-8-5h0m-36 19h0m-1 3h0m2 1h0m25-11h0m7 7h0m24 0h0m3 6h0m39-10h0m18 5h0m-6 3h0m70-3h0m3-6h0m34 10h0m112-3h0m25 3h0m2-11h0m8 5h0m13-4h0m15 10h0m13 1h0m5-4h0m0-6h0m-5-1h0m12-2h0m9 1h0m-8 3h0m5 3h0m5 4h0m1-2h0m12-5h0m3 2h0m10 2h0m0 2h0m-6 1h0m-5 2h0m19-2h0m4-1h0m2 0h0m-8-2h0m8-1h0m-10 0h0m-2-1h0m4 0h0m4-2h0m10-1h0m4 5h0m-2 0h0m4 0h0m-7 0h0m2 2h0m4 1h0m-4 3h0m-18 0h0m1 2h0m7 1h0m-4 1h0m-5 0h0m12 1h0m-9 3h0m-14 0h0m3-1h0m-5 0h0m11-1h0m-9 0h0m3-2h0m-2 0h0m5-1h0m-3-1h0m6 0h0m-12-1h0m-1 6h0m-11 3h0m6 1h0m-5 2h0m-14-7h0m1-4h0m3-1h0m-30 12h0m4-2h0m2-1h0m-4-1h0m6-4h0m-5 0h0m0-2h0m-10 1h0m1 3h0m-9 0h0m7 2h0m0 2h0m-11 1h0m6 1h0m-16-2h0m-4-2h0m-10-4h0m-1 6h0m1 2h0m-11 0h0m-6-2h0m12 0h0m-13-3h0m12 0h0m-1-7h0m-16 2h0m-2 2h0m-81-1h0m-103 4h0m-30 5h0m1-2h0m-2-1h0m-11-9h0m-24 2h0m-20 7h0m-19 15h0m6-8h0m12-1h0m9 6h0m23-8h0m3 9h0m20-6h0m2 4h0m147-1h0m44 7h0m-2-1h0m-3-1h0m0-3h0m1-3h0m15-1h0m-2 2h0m-2 2h0m2 2h0m2 0h0m-9 2h0m4 1h0m9 0h0m5-3h0m-1-4h0m2 0h0m20-4h0m-2 0h0m-7 0h0m4 6h0m-2 2h0m13 3h0m2-5h0m4-4h0m-3 0h0m5-4h0m4 3h0m2 1h0m7 1h0m-7 1h0m4 1h0m-4 1h0m-3 2h0m11 0h0m-2 1h0m-3 2h0m12-6h0m7-3h0m-7-4h0m23 0h0m-2 2h0m-2 0h0m-6 1h0m5 1h0m11 4h0m6-1h0m-2-2h0m4-1h0m28 4h0m-8-1h0m0-2h0m3-3h0m-60 13h0m-1 4h0m-1 2h0m4 4h0m2 1h0m-17 1h0m5-4h0m-8-2h0m-2-2h0m2-5h0m-5 0h0m-2 1h0m-1 8h0m-2 2h0m-9 2h0m-2-5h0m-2-5h0m-33 7h0m1-4h0m-3-6h0m-2 1h0m1 6h0m-2 2h0m-56 1h0m-40-6h0m-69-1h0m3 0h0m-10 3h0m-16 4h0m-5-4h0m-2-5h0m0 4h0m-33-4h0m6 3h0m-21-3h0m-16 0h0m4 5h0m147 12h0m74 9h0m45-4h0m12-2h0m-3 0h0m13 4h0m25 1h0m-13-8h0m13-2h0m13 6h0m-5 0h0m-3 2h0m4 2h0m-6 0h0m17-5h0m5-6h0m-4 0h0m-19 14h0m-8-1h0m2 2h0m-2 1h0m-6 2h0m-4 1h0m-9-1h0m7-1h0m-18-1h0m-1 3h0m2 0h0m-5 1h0m4 4h0m-8-7h0m-55 5h0m-13 0h0m-24 2h0m1-10h0m-32 18h0m17-4h0m121-1h0m2 1h0m-97 20h0"/>
<path vector-effect="non-scaling-stroke" stroke="#9d77ec" d="M-85 -217h0m177 20h0m-42 0h0m-62-13h0m-84 3h0m11 2h0m-48 16h0m39-1h0m25-1h0m38 5h0m-1-2h0m5 3h0m0 2h0m17-4h0m-4-5h0m58 9h0m2-8h0m5-2h0m-5-3h0m14 9h0m12 4h0m4-2h0m2-5h0m19-3h0m-8 0h0m3 9h0m12 0h0m6-4h0m8-4h0m6 9h0m4-2h0m24-6h0m2 4h0m7-1h0m-4-5h0m-3 15h0m-3 6h0m-34 0h0m-16-8h0m-2 1h0m-28 8h0m-2-1h0m-25-8h0m5 3h0m3 7h0m-22 1h0m6-11h0m-47-1h0m8 0h0m-16 3h0m-9-3h0m-7 7h0m-5 2h0m8 0h0m-8 2h0m-50-6h0m-5 7h0m-8-4h0m1-7h0m-33 11h0m-11-6h0m11 10h0m35 10h0m64-3h0m1-10h0m16 2h0m4 1h0m10 9h0m-8-9h0m15 0h0m8 6h0m-9 4h0m24 0h0m-7-4h0m22-1h0m-4 2h0m5 2h0m3-5h0m-1-7h0m21 0h0m5 13h0m43 0h0m23-10h0m3-1h0m9 1h0m-4 10h0m22 0h0m6 0h0m11 7h0m-8 5h0m2-2h0m5-5h0m-4-1h0m-1-2h0m-14 0h0m-1 5h0m-18-1h0m-12 0h0m-17 8h0m9-5h0m-29 4h0m3-11h0m-26 6h0m1 2h0m-5 0h0m2 0h0m-18-9h0m-2 5h0m-4 2h0m6 6h0m-45-9h0m-14 4h0m-19 5h0m7-4h0m0-4h0m-9-4h0m-12 5h0m0 2h0m-3-3h0m-4-5h0m-40 12h0m-13 0h0m-13-9h0m-6 4h0m-4 5h0m-5-10h0m-5 0h0m3-2h0m-21 4h0m9 4h0m8 13h0m106 1h0m13-7h0m6 10h0m21-6h0m-9 1h0m1 3h0m19 3h0m-2 0h0m7 0h0m-6-6h0m-4-1h0m22-5h0m-2 0h0m3 5h0m-12 2h0m2 2h0m-2 0h0m6 3h0m12-5h0m19-6h0m13 12h0m1-2h0m0-4h0m3-1h0m-4-6h0m47 4h0m-6 3h0m5 1h0m4 1h0m3-6h0m20 0h0m0 2h0m-11 6h0m8 2h0m10 0h0m-2-6h0m21-5h0m2 6h0m15 3h0m-12 0h0m1-10h0m19 20h0m-4-3h0m-5-2h0m-10 3h0m10 3h0m2 4h0m-27-1h0m0-5h0m-5-6h0m-4 8h0m-17 5h0m5-2h0m-15-9h0m-1 7h0m4 3h0m-16-3h0m-2-2h0m-5-1h0m5-1h0m-19-5h0m11 0h0m-6 4h0m-17 0h0m-6-2h0m-1 2h0m-8 2h0m7 1h0m2 1h0m-2 2h0m-20 1h0m5-4h0m-1-4h0m-20 1h0m3 0h0m8 2h0m-8 5h0m-21-9h0m-6 0h0m-2 4h0m-2 0h0m12 5h0m-25-1h0m2-2h0m-25 5h0m4-1h0m-1-8h0m-3-2h0m-2-1h0m-16-1h0m-50 7h0m-15-3h0m-33 9h0m-2-1h0m7-3h0m13 16h0m77 2h0m2 0h0m8-4h0m13-8h0m2 2h0m10 10h0m0-4h0m0-8h0m20 1h0m15 6h0m3-2h0m7 7h0m18 0h0m-7-1h0m14-10h0m4 4h0m24 3h0m32 0h0m14-7h0m-4-1h0m16-1h0m4 0h0m-3 9h0m-3 1h0m7 3h0m8-1h0m-2-9h0m-1-2h0m22 0h0m-10 1h0m10 5h0m1 4h0m3-7h0m15-3h0m4 2h0m6 7h0m-10 14h0m5-2h0m-7-6h0m-14 6h0m9 1h0m-5 3h0m-13-2h0m-3-8h0m6-2h0m-10 2h0m-6 3h0m4 0h0m-15-2h0m-37 9h0m3-1h0m-10-10h0m2 2h0m-7 6h0m5 2h0m-15 2h0m0-4h0m-2-6h0m-4-2h0m-11 1h0m7 5h0m-6 6h0m-11-2h0m2-1h0m-4-10h0m-7 1h0m-13 1h0m5 2h0m6 5h0m-8 1h0m7 2h0m-30-11h0m4 1h0m-10 2h0m8 1h0m-2 3h0m-5 3h0m-3 1h0m-2-10h0m-20-1h0m-3 4h0m-2 2h0m12 2h0m-2 1h0m-13 3h0m-12-4h0m-2 1h0m-33-7h0m-15 4h0m-61-5h0m3-2h0m-35 13h0m-31 12h0m5-5h0m3 3h0m15 1h0m4-1h0m0-3h0m11-5h0m47 11h0m-3-4h0m34 0h0m23 5h0m5-3h0m15-2h0m-1 4h0m2-2h0m2-5h0m21-4h0m7 6h0m-1-2h0m11-4h0m8 10h0m12-8h0m15-2h0m0 4h0m0 2h0m23-3h0m9 5h0m10-3h0m-1-2h0m-1-4h0m11 12h0m42 0h0m20-8h0m5 4h0m-7 1h0m8 4h0m9-11h0m20-1h0m-4 4h0m-7 2h0m-1 2h0m10 4h0m16-4h0m-4-3h0m-8-2h0m8 0h0m-5-1h0m8-2h0m-11 0h0m4-1h0m9 26h0m2-3h0m4-6h0m-31 1h0m4-1h0m-6-2h0m6 0h0m-19 3h0m2 3h0m-17 1h0m11-5h0m-21 0h0m-6 6h0m-7-5h0m-15 1h0m-15 4h0m8-1h0m-22-8h0m2 2h0m2 1h0m-7 1h0m10 4h0m0 2h0m-12 2h0m-3-6h0m-5-3h0m-11 2h0m-12 2h0m-19-2h0m-20 6h0m-3 0h0m-7 2h0m-5-13h0m-21 6h0m-5 2h0m-9 5h0m3-4h0m-2 0h0m-1-3h0m-14-1h0m-41-4h0m-59 7h0m-24 0h0m1-7h0m-18 1h0m-8 9h0m2-10h0m-13 20h0m12 0h0m-1 4h0m0 2h0m7-1h0m4-5h0m-5-1h0m12 0h0m14 5h0m8-4h0m-6-4h0m14 0h0m38-2h0m-12 12h0m31-9h0m18-3h0m26 0h0m16 0h0m2 3h0m-2 7h0m18 0h0m2-2h0m-11-3h0m10-4h0m8 9h0m13-11h0m21 12h0m5-5h0m37 6h0m-2-1h0m1-10h0m-10-1h0m27 11h0m3-3h0m6-7h0m23 11h0m9-4h0m6-7h0m3 3h0m4 3h0m-9 0h0m7 2h0m10-10h0m14 0h0m3 3h0m-9 10h0m8 0h0m19 0h0m-1-2h0m-3-3h0m-7-5h0m24 7h0m17-1h0m3 4h0m-2 12h0m6-2h0m0-4h0m-8-1h0m-4-4h0m-8 9h0m0 3h0m-11-4h0m-18-8h0m12 1h0m-2 0h0m-3 4h0m3 0h0m-11 0h0m10 2h0m-5 1h0m0 2h0m-5 3h0m-4-3h0m3-3h0m-12-5h0m10 0h0m-22-1h0m2 1h0m2 1h0m-7 2h0m12 1h0m-18 5h0m3-10h0m-25 4h0m1 8h0m-14-3h0m8 0h0m-23-8h0m9 4h0m-19 0h0m-2-1h0m9-1h0m-17 1h0m-3 3h0m-18-3h0m-9-3h0m-47 4h0m4-6h0m-15 2h0m8 1h0m-4 6h0m-2 3h0m5 1h0m-13 0h0m-6-2h0m-3-6h0m2 0h0m-27 8h0m-2-13h0m-21 8h0m-7 0h0m-14 2h0m5 1h0m-23-8h0m-13-2h0m0 11h0m-5-7h0m3-5h0m-26 11h0m-24-8h0m-7 2h0m-3-4h0m-11 4h0m-3 16h0m-2-2h0m3-2h0m5 0h0m10 4h0m0 2h0m-2 1h0m9 3h0m9-13h0m6 11h0m-3 1h0m33-11h0m-4 1h0m1 2h0m2 0h0m-3 4h0m7 0h0m13 5h0m-8 0h0m6 0h0m1-2h0m-2-2h0m2-8h0m28 6h0m7-3h0m5 2h0m-2 2h0m-3 4h0m66-1h0m7-2h0m2-6h0m1-3h0m20 7h0m12-4h0m-7-2h0m50 1h0m4 10h0m11-6h0m-7-4h0m23 9h0m11-9h0m-5-1h0m16-1h0m2 2h0m-8 1h0m18 1h0m6-4h0m8 2h0m4 9h0m14 0h0m2-3h0m13-8h0m-8 0h0m0 8h0m-1 3h0m22-3h0m0-2h0m2-1h0m-7-1h0m4-4h0m9 0h0m-1 6h0m2 2h0m-3 0h0m11 5h0m13-1h0m-5-6h0m2-1h0m-2-4h0m-3 0h0m14 0h0m0 3h0m-3 0h0m12 23h0m-9-10h0m-20 10h0m-3-12h0m-10-1h0m-8 7h0m4 3h0m-5 1h0m2 1h0m-24 0h0m-39-7h0m-28-5h0m4 10h0m-22-9h0m3 1h0m-17 4h0m-18 7h0m-21-9h0m-6 6h0m-7 1h0m-13 0h0m4 0h0m8-10h0m-83-1h0m1 11h0m2 0h0m5 2h0m-9-4h0m-3 0h0m0-3h0m-5-3h0m-4-2h0m-11 7h0m-11-7h0m-22 5h0m-5-1h0m-14-4h0m-3 11h0m-8-1h0m-7-3h0m-1-1h0m4-1h0m-7-1h0m5-1h0m4-4h0m-19 0h0m6 5h0m-3 1h0m-11 6h0m-6-1h0m-4-7h0m-5-2h0m-2 2h0m0 2h0m6 7h0m-6 0h0m3 13h0m3-8h0m3-1h0m4 10h0m8-4h0m9-1h0m-8-3h0m16 4h0m3 0h0m12 2h0m5-8h0m26 4h0m19-2h0m34 8h0m2-13h0m13 11h0m32-8h0m13 3h0m0-2h0m18 2h0m-8 3h0m4 4h0m19-4h0m-4 0h0m-8-2h0m4-1h0m7-3h0m16 1h0m26-2h0m20 1h0m0 4h0m81-7h0m3 3h0m17 9h0m-4-4h0m20-5h0m-1 4h0m-4 1h0m21-6h0m-2 0h0m-6-2h0m13 3h0m5 4h0m10 5h0m0 11h0m-14 2h0m-7-3h0m-5 4h0m-6 0h0m-10-6h0m-11-4h0m-56-2h0m4 1h0m-10 3h0m7 5h0m0 2h0m0 2h0m-8-7h0m-32 1h0m-26-5h0m-40 0h0m-16 1h0m-18 2h0m4 7h0m0 0h0m-23-5h0m-16-7h0m13 12h0m-20-12h0m-19 0h0m1 10h0m-20-9h0m-8 9h0m-9-8h0m-7-1h0m2-1h0m-22 7h0m-10-5h0m-7 6h0m-7 5h0m-3-4h0m1-1h0m-8-5h0m5-1h0m-16-2h0m6 3h0m-5 4h0m-7 4h0m-18-4h0m-3 9h0m28 10h0m-4-7h0m8-3h0m-9 0h0m10-2h0m28 10h0m-5 0h0m-4-1h0m10-1h0m-8-1h0m-2 0h0m32 1h0m11 0h0m6 2h0m4-3h0m0-2h0m4-3h0m14 6h0m15 4h0m10-8h0m13 4h0m4-8h0m-2 0h0m28 4h0m3-1h0m14-2h0m-5 2h0m2 1h0m19 3h0m2 0h0m-8-3h0m30 8h0m53-2h0m51-1h0m51-7h0m7 11h0m4-6h0m24-3h0m-2 0h0m4 12h0m-22-1h0m-5 1h0m2 0h0m7 4h0m-6 7h0m-45-4h0m-2-8h0m-40 8h0m-14 4h0m4-6h0m2 0h0m-171 4h0m9-6h0m-32 1h0m-8 0h0m5-3h0m0-3h0m-8 3h0m1 4h0m-22 5h0m-8-11h0m3 3h0m-13 9h0m-8-3h0m3-4h0m-8-4h0m-15 0h0m-13 5h0m4 0h0m-4-2h0m7-4h0m-22 3h0m3 3h0m-7 4h0m1-8h0m-21 1h0m6 1h0m-6 0h0m1 5h0m1 3h0m3 13h0m2-8h0m11-4h0m-2 3h0m-5 1h0m1 2h0m6 1h0m-4 1h0m12 0h0m17 2h0m12-8h0m9-1h0m5-1h0m10 1h0m-13 1h0m2 0h0m0 10h0m19-1h0m3-6h0m9 6h0m10-4h0m17 4h0m21-4h0m8-7h0m60 4h0m11 9h0m14-1h0m16-2h0m47-8h0m-7 0h0m4 1h0m2 1h0m0 5h0m12-3h0m17-5h0m-2 6h0m3 4h0m7-2h0m34 3h0m-4-6h0m18-1h0m43 20h0m-76-6h0m-2 0h0m-20-3h0m2 2h0m8 1h0m-5 3h0m-15-1h0m4-3h0m1-2h0m-34 9h0m-1-9h0m-11 3h0m-2 0h0m8 3h0m-32-8h0m0 4h0m-30-1h0m-16 5h0m-5 2h0m-4 3h0m-45-8h0m7-1h0m-23-1h0m0 4h0m10 0h0m-29 4h0m-20 0h0m-14-4h0m-2 4h0m-29-11h0m8 1h0m-10 11h0m3 1h0m-11-6h0m4-1h0m0-3h0m-4-2h0m4 0h0m-6-1h0m-14 2h0m0 4h0m5 6h0m-11-4h0m-6 15h0m-7 0h0m16-5h0m4-4h0m22 13h0m24-6h0m10-6h0m16 5h0m-6 6h0m24-8h0m0-2h0m8 3h0m12-5h0m21 6h0m0 4h0m4-8h0m3 0h0m48 0h0m2 2h0m0 3h0m-3 2h0m31 4h0m15-1h0m25 0h0m-2-1h0m2-9h0m22 4h0m2-3h0m20-3h0m-3 0h0m-9 2h0m6 0h0m-5 4h0m5 7h0m23-7h0m-14 11h0m-6-2h0m3-1h0m-18 2h0m-4 5h0m0 5h0m-41-1h0m-2-2h0m-21 1h0m1-8h0m-21-2h0m4 8h0m1 4h0m-2 1h0m-17-5h0m-10 5h0m-3 0h0m-30-11h0m-5 6h0m-3-5h0m-6-1h0m-9-2h0m-4 1h0m1 6h0m0 4h0m-31-3h0m-7 2h0m-23-1h0m-2 2h0m-8 0h0m-3 0h0m-1-2h0m5-1h0m-14-2h0m5 1h0m-4 2h0m2 1h0m3 2h0m-24-6h0m6 0h0m-15 1h0m-12 4h0m-10-2h0m0 8h0m11-3h0m-5 2h0m6 5h0m0 2h0m12 2h0m1-2h0m0-6h0m31 6h0m-3-9h0m-6 0h0m15 8h0m-4 0h0m2 4h0m13-2h0m-1-7h0m24-3h0m-5 1h0m1 0h0m1 1h0m-4 0h0m-3 0h0m2 1h0m-1 1h0m10 1h0m2 0h0m-7 0h0m2 2h0m4 2h0m-4 4h0m19-2h0m6-7h0m22 5h0m0-2h0m-11-4h0m7-2h0m6 8h0m6 1h0m19 1h0m-4-7h0m28 4h0m-6-6h0m37 10h0m-11-3h0m46-5h0m44 7h0m-1-5h0m11-4h0m0 9h0m-7 3h0m-1 5h0m-1 2h0m-35 4h0m-14-2h0m-20 1h0m-20-10h0m7 13h0m-33-1h0m-73 1h0m1-5h0m6-4h0m-12 0h0m-6 6h0m9 2h0m-23 1h0m5-1h0m4-6h0m-1-1h0m-9-3h0m-8-2h0m0 5h0m-14 4h0m-8-3h0m7 0h0m-16-5h0m-7 11h0m-3-3h0m-8-1h0m-2-2h0m-10-6h0m-4 2h0m6 0h0m-4 3h0m-1 4h0m-2-2h0m-8-6h0m6-1h0m23 16h0m-4 4h0m6 1h0m7 4h0m9-4h0m-4-6h0m3 0h0m5-1h0m3 2h0m8 2h0m-4 5h0m0 2h0m16 2h0m-8-8h0m0-1h0m11-1h0m9-2h0m1 1h0m-2 5h0m2 3h0m6-2h0m4-1h0m-2 0h0m5-2h0m2-2h0m-3-1h0m2-1h0m11 2h0m-1 6h0m-4 2h0m2 2h0m20 0h0m-5-1h0m8-2h0m-4-8h0m10-2h0m3 11h0m0 1h0m0 1h0m40 0h0m-2-9h0m27 4h0m10 0h0m-3 0h0m24 0h0m18-6h0m8 0h0m-8 13h0m-17 6h0m-5 2h0m-1 4h0m-4-6h0m-27 1h0m-56-8h0m-12 2h0m-12 1h0m12 6h0m-24-1h0m-1-2h0m2 0h0m8-2h0m-10 0h0m7-1h0m4-2h0m-33 1h0m-10 4h0m-22-5h0m12 18h0m3-3h0m20 0h0m12 2h0m-5-3h0m92 9h0m5-10h0m40 12h0m21-9h0m8 9h0m-21 15h0m-21-4h0m-35 7h0m17 2h0m-11 3h0m22 4h0m15-5h0m23 6h0m-9 8h0m-37-4h0"/>
<path vector-effect="non-scaling-stroke" stroke="#7248f6" d="M6 -225h0m-17-6h0m8 6h0m-13 0h0m-2-1h0m-2-2h0m-62 8h0m52 9h0m9-3h0m20 0h0m-9-8h0m17-1h0m6 4h0m-2 3h0m-8 0h0m11-7h0m118 21h0m5 3h0m-2 1h0m-5 1h0m-5-6h0m-134-7h0m-33 8h0m-6 4h0m3-1h0m-9-1h0m2-2h0m8-1h0m-1 0h0m-16-6h0m2 2h0m-6 2h0m0 3h0m-15 3h0m-10-7h0m1 5h0m-22-7h0m-4 3h0m-7 5h0m1 2h0m-6-1h0m-19 15h0m16-4h0m11 5h0m1-2h0m-5-8h0m9 0h0m4 0h0m2 3h0m-2 4h0m7 3h0m18-6h0m-9-4h0m8-1h0m-11-1h0m15 1h0m8 2h0m-9 1h0m2 1h0m24 7h0m-2-1h0m-2-5h0m-1-7h0m16 1h0m0 4h0m2 1h0m90 6h0m4-4h0m3-6h0m9 3h0m5 7h0m6-2h0m20-7h0m-3 6h0m7 2h0m21 0h0m12-5h0m19-5h0m-7 3h0m2 2h0m10-1h0m10 13h0m-4 1h0m0 2h0m2 5h0m-21-1h0m11-3h0m-24-8h0m0 5h0m8 2h0m-37-6h0m-1 7h0m-4-5h0m-24-1h0m9 7h0m-8 0h0m-11-7h0m-15 5h0m-34 1h0m-13-5h0m-10 2h0m3 8h0m-8-6h0m-9-2h0m-5 1h0m-4 4h0m-34-10h0m4 4h0m2 4h0m-2 4h0m-13 0h0m6-1h0m-11-1h0m1-1h0m2-1h0m7-2h0m-7-3h0m9-2h0m-8-1h0m-16 7h0m2 5h0m-10-1h0m1-4h0m-10-4h0m0-1h0m-14-2h0m6 2h0m-5 2h0m-2 7h0m-3-3h0m3-3h0m-15 4h0m0 3h0m-1 13h0m1-5h0m9-4h0m-5 0h0m9 2h0m-11 2h0m13 0h0m-3 7h0m7-3h0m-2-3h0m19-1h0m-2 1h0m2 1h0m-4 1h0m6 0h0m-1 2h0m12-11h0m13 4h0m-1 3h0m9 2h0m9 4h0m13-9h0m-3 1h0m0 1h0m4 1h0m-3 1h0m8 1h0m-2 3h0m5-12h0m14 3h0m14 10h0m3-8h0m-1-2h0m23-1h0m17 7h0m0 4h0m25 0h0m-5-6h0m1-7h0m10 8h0m6 2h0m18-10h0m5 5h0m21 8h0m5-1h0m43 1h0m26 0h0m-43 7h0m10-2h0m-26 4h0m-6-6h0m2-1h0m-12 4h0m-8 2h0m5 4h0m2 1h0m-13-12h0m-19 4h0m-9 7h0m-10-1h0m-11-10h0m9 1h0m-7 1h0m-5 4h0m-2 6h0m-27-12h0m8 3h0m4 2h0m-24 3h0m-35-8h0m-20 10h0m8-4h0m-25-4h0m11 3h0m-6 2h0m-3 1h0m-14 3h0m11-1h0m-13-2h0m-2 0h0m-22 1h0m4-5h0m-5-3h0m-16 0h0m-1 0h0m2 3h0m-1 3h0m7 6h0m-9-1h0m0-5h0m-6-3h0m-15-4h0m7 0h0m4 22h0m14 3h0m10-5h0m0-5h0m-6-1h0m11 2h0m6 2h0m16 8h0m-6-7h0m-3-1h0m10-4h0m13 1h0m-2 1h0m14 9h0m2-6h0m-10 0h0m14 0h0m7 0h0m3 3h0m-1 2h0m-5 1h0m3 1h0m-1 1h0m5 0h0m12-7h0m-7-4h0m23 9h0m-5 2h0m17-1h0m2-11h0m-8-1h0m22 5h0m5-2h0m-3-1h0m32 9h0m14 1h0m16-3h0m-3-6h0m19-2h0m8 0h0m20 5h0m0 2h0m-2 4h0m15 1h0m2 0h0m8-3h0m21-3h0m7-7h0m-4 4h0m4 2h0m13 3h0m14 18h0m-11 0h0m-34-4h0m-2-4h0m-7-4h0m-46 2h0m1 4h0m-11-5h0m-2-1h0m-15 0h0m-6 10h0m1-4h0m-4-7h0m-18 8h0m-28 0h0m1 2h0m-6 2h0m-22-9h0m0 1h0m3 0h0m5 8h0m-16 1h0m-2-2h0m-21-8h0m2 4h0m0 2h0m-7-2h0m-3-1h0m2 0h0m-5 0h0m4 0h0m2-2h0m-10-4h0m3 0h0m6 0h0m-11 1h0m-11 2h0m3 3h0m-4 4h0m-2 0h0m-1-1h0m-4-2h0m-1-2h0m4-1h0m-9-2h0m3-2h0m-7 2h0m-5 8h0m-11-3h0m0-2h0m-20-3h0m0 5h0m-3 1h0m6 2h0m-6 2h0m-14-9h0m5-2h0m-7 5h0m0 7h0m-1 13h0m1-2h0m-2-2h0m3-2h0m-4-1h0m5-3h0m12 6h0m-9 0h0m6 1h0m-4 4h0m19-1h0m-10-5h0m4-3h0m-2-1h0m2-1h0m4 0h0m19 10h0m1 1h0m2-1h0m0-5h0m1 0h0m5-3h0m-2-2h0m12-2h0m9 3h0m5 8h0m1-6h0m-2-2h0m17 6h0m4 2h0m-2 1h0m1 1h0m6-2h0m4-5h0m-1-3h0m11 1h0m6 3h0m16 2h0m17 0h0m10-1h0m3-1h0m5-3h0m19 4h0m13-8h0m2 4h0m-3 6h0m16-10h0m78 12h0m7-11h0m10 3h0m36 8h0m-7 7h0m-8-3h0m-18 1h0m-13 4h0m-49 3h0m-11-8h0m-16 11h0m7-2h0m-13-2h0m0 2h0m-25-2h0m-20-2h0m-4-1h0m-15 0h0m-25 3h0m-2 3h0m8 0h0m-5 0h0m-7-3h0m-7-2h0m-15-5h0m-19 8h0m9-4h0m-3-4h0m6-1h0m-14 10h0m1 1h0m-25-4h0m1-3h0m-15-4h0m4 1h0m2 1h0m-4 0h0m-14 10h0m2-2h0m-1-3h0m-2-2h0m2-3h0m-4-2h0m-3 1h0m-9 4h0m9 1h0m-2 2h0m-14-6h0m-20 7h0m3 2h0m-25-2h0m-2 2h0m-27 15h0m16-6h0m0 4h0m6 2h0m-3-10h0m64 8h0m7-8h0m11 6h0m1 3h0m12-1h0m-8 0h0m2-2h0m-5-4h0m7-1h0m11-3h0m-4 1h0m25 9h0m0-3h0m2-1h0m1-5h0m7 10h0m5 0h0m-11 1h0m15-6h0m25 3h0m-4 1h0m-4 1h0m15-3h0m6 0h0m22 2h0m1-9h0m40 6h0m6 2h0m12 3h0m-4-12h0m15 11h0m20-8h0m-12-2h0m30 6h0m8-1h0m-6 0h0m58 5h0m1-5h0m-8 17h0m-12-5h0m12-3h0m-37 11h0m4-5h0m3-3h0m-2-1h0m-10 2h0m-5 6h0m-14-4h0m-21-7h0m11 7h0m-4 2h0m-6 3h0m-15-2h0m10-8h0m-21-1h0m-6 6h0m-2-6h0m-16 1h0m0 5h0m-32-1h0m-13 2h0m-33 4h0m12-1h0m-7-5h0m-17-5h0m-11 9h0m0-3h0m-2-1h0m9-3h0m-1-1h0m1-2h0m1-1h0m-21 7h0m-1 2h0m-16 2h0m-1 0h0m2-10h0m-17 2h0m12 5h0m-13 3h0m11 1h0m-21 0h0m6-2h0m-9-4h0m11-1h0m-3-5h0m-17 4h0m-8 5h0m-10-1h0m7-3h0m-29 7h0m-4 0h0m9-2h0m-7-10h0m-20 10h0m-3-4h0m-25-5h0m-10 7h0m0-4h0m17 22h0m16-12h0m-6 0h0m-3 0h0m11 8h0m2 2h0m14 3h0m-10-3h0m-3-3h0m24-5h0m-4 10h0m28-5h0m-3 2h0m-2 1h0m9 0h0m-3 2h0m12-2h0m-3-1h0m5-2h0m-3-4h0m6-1h0m12-2h0m2 0h0m-4 2h0m-5 5h0m1 2h0m1 3h0m18 1h0m4-1h0m-4 0h0m1-6h0m0-1h0m5-2h0m-7 0h0m-2 0h0m14-3h0m0 2h0m1 8h0m8 2h0m-13 1h0m24-3h0m-5 0h0m-1-2h0m-3 0h0m18-8h0m-2 1h0m4 1h0m-1 1h0m4 2h0m0 1h0m-3 3h0m3 4h0m13-8h0m-9-4h0m20 6h0m7 4h0m13 2h0m-5-12h0m9 1h0m-1 5h0m9 6h0m5-13h0m24 4h0m11-4h0m2 0h0m11 1h0m0 4h0m7-1h0m22-3h0m9 3h0m15 6h0m0 2h0m10-9h0m25 4h0m-9 1h0m3 5h0m17-1h0m-8-1h0m9-11h0m14 3h0m19 23h0m4-7h0m-4-4h0m-20-1h0m-14 3h0m-2 1h0m-20 2h0m2 0h0m-6-5h0m-5 4h0m0 2h0m-18-4h0m5-2h0m-14 10h0m-9-2h0m1-8h0m-13 1h0m-27 6h0m13-4h0m-13-2h0m-1-2h0m-10 9h0m6 3h0m-20-7h0m-5 1h0m-22 2h0m-9 2h0m3 1h0m-1 2h0m-7 0h0m-12 0h0m-16-8h0m9 0h0m-13 1h0m-3 5h0m-8-4h0m8-5h0m-20-2h0m-4 3h0m5 2h0m3 5h0m2 1h0m-20 0h0m-2-4h0m7-4h0m-37 10h0m3 0h0m7-10h0m-3-2h0m-17-1h0m-2 1h0m-3 5h0m13 7h0m-9 0h0m-6-2h0m0-5h0m1-2h0m-31 9h0m-6-4h0m-43-3h0m-4-5h0m10 23h0m-9-6h0m23-3h0m-4 9h0m10 1h0m5-1h0m18-8h0m2 3h0m0 0h0m0 2h0m5 0h0m-3-1h0m12-1h0m-6-4h0m13 0h0m-1 11h0m24-10h0m7 6h0m-2 2h0m34 0h0m11 1h0m2-1h0m-4-2h0m3-1h0m1-5h0m9-1h0m2 2h0m-5 10h0m19-3h0m-2-1h0m-2-1h0m1-2h0m-4-1h0m27-4h0m-2 10h0m11 2h0m-2-2h0m6-4h0m1-2h0m-13-1h0m3-1h0m0-2h0m11-1h0m4 4h0m5 3h0m-8 1h0m47 3h0m0-5h0m-4-2h0m14 3h0m0 2h0m13 0h0m8-1h0m28 3h0m16-8h0m-9 3h0m1 5h0m20-5h0m29 4h0m5-6h0m11 4h0m13-7h0m-5 19h0m-11 5h0m-22-2h0m2 3h0m-7 0h0m-16-6h0m-14-6h0m-24 5h0m-40 0h0m-3-2h0m-22 2h0m-9 3h0m1 5h0m-2 0h0m-20-8h0m-5-5h0m-9 2h0m0 2h0m0 4h0m8 2h0m4 0h0m-24 2h0m2-4h0m4-5h0m4-1h0m-27 1h0m-9 1h0m-1-2h0m-10-2h0m-5 2h0m2 2h0m0 4h0m-24 2h0m0 2h0m-17-7h0m-20 2h0m3 5h0m-10-10h0m6-1h0m-25 7h0m-6-5h0m-20-1h0m-4 1h0m7 1h0m-15-4h0m-6 0h0m-5 10h0m1 2h0m-16 1h0m5-8h0m-2-5h0m-18 4h0m0 2h0m7 14h0m1 3h0m1 4h0m23-1h0m2-4h0m-4-3h0m15-5h0m-7 0h0m-3 0h0m11 5h0m-3 0h0m55 5h0m15 0h0m-8-7h0m24-2h0m17 12h0m-1-4h0m1-1h0m-1-3h0m-5-2h0m14 5h0m11 3h0m15-5h0m12 6h0m6-2h0m1-2h0m-4-1h0m20-6h0m-7 0h0m8 3h0m-13 9h0m18 0h0m0-2h0m-4 0h0m13-1h0m-2-1h0m-9-7h0m25 0h0m-13 6h0m7 2h0m20 2h0m-2 0h0m-10-6h0m0-3h0m2-2h0m20 2h0m-2 1h0m5 0h0m-4 6h0m-5 2h0m-3 1h0m15-3h0m0-8h0m2-1h0m-3-1h0m76 5h0m32-2h0m14 9h0m-2-7h0m15-4h0m-5 5h0m-1 6h0m18-3h0m0-2h0m-2-1h0m0-4h0m12 3h0m16 8h0m-5 0h0m-13 12h0m-1-7h0m-95-2h0m0 4h0m2 2h0m0 5h0m-9-5h0m3-6h0m-2 0h0m-56 2h0m-23-2h0m-27 1h0m3 0h0m4 0h0m-7 5h0m-3 4h0m5 1h0m-19 0h0m12-1h0m-12-5h0m11 0h0m2-7h0m-17 8h0m1 0h0m-8 2h0m-16-1h0m7-3h0m-16-3h0m-18 5h0m-1-7h0m-13 7h0m4 2h0m4 1h0m-85-9h0m-6 0h0m1 2h0m9 2h0m-11 5h0m11 2h0m-26-1h0m6-4h0m5-2h0m-4-1h0m-9 7h0m-28-9h0m-8 23h0m33-1h0m2-2h0m-5-5h0m3 0h0m27 8h0m-8-3h0m7-2h0m7-1h0m3 6h0m23-4h0m-9-7h0m3-1h0m15 1h0m8 7h0m5-5h0m16-1h0m18 7h0m-3-1h0m-3-5h0m7-3h0m0 2h0m2 0h0m-2 5h0m6 1h0m-1 2h0m-1 3h0m51-2h0m-11-3h0m-1 0h0m9-6h0m15 7h0m1 3h0m3-1h0m-1-1h0m18-9h0m-4 8h0m21 4h0m1-9h0m-8-2h0m4 0h0m3-1h0m52 4h0m3-2h0m0-2h0m4-1h0m14 6h0m-6 3h0m3 4h0m12-10h0m26 10h0m-2 6h0m4 1h0m-30 7h0m-13-2h0m-2-8h0m-4 9h0m-2 0h0m-62-9h0m4 10h0m-28-10h0m3 3h0m-22 5h0m6 0h0m-1-4h0m1-1h0m1 0h0m-16 0h0m-35-2h0m-13-4h0m-18 12h0m-5-1h0m-4-5h0m-17-1h0m2 1h0m2 7h0m-5-2h0m-6-2h0m-6 0h0m11-6h0m-13-2h0m-4 3h0m-18 8h0m6-4h0m-7 0h0m9-1h0m-1-6h0m-32 9h0m2-2h0m-5-1h0m5-4h0m-13-3h0m-6 8h0m-1 2h0m-6-3h0m-8-1h0m-2-3h0m10-3h0m-13 8h0m-11 2h0m5 1h0m3 1h0m12 10h0m17 2h0m15-3h0m-5 3h0m5 1h0m-6 1h0m7 0h0m0 1h0m12-2h0m0-3h0m1-4h0m13-1h0m-6 1h0m-2 5h0m16-8h0m14 1h0m8 5h0m-9 2h0m-3 3h0m6 1h0m12-6h0m5-2h0m-8-2h0m21 0h0m11 7h0m8-10h0m4 9h0m0 2h0m2 1h0m48-4h0m18-1h0m7-2h0m11-5h0m-1 4h0m7 0h0m-10 2h0m5 0h0m11 1h0m9-2h0m-2 0h0m-5-3h0m4-1h0m51 9h0m13-6h0m21 3h0m5-2h0m22 4h0m1-3h0m4 7h0m-13 12h0m-5 2h0m-23-13h0m7 1h0m-36 5h0m12 1h0m-33-4h0m5 1h0m-25 2h0m-16 6h0m-13-6h0m11-1h0m-8-1h0m2-1h0m-3-1h0m-9 4h0m-19 3h0m5-1h0m-8-2h0m2 0h0m-6 1h0m-6 1h0m1 2h0m1 3h0m-6 0h0m6 0h0m-8-5h0m-23-1h0m5 2h0m-10 3h0m-6 0h0m-3-8h0m-9-1h0m-7 6h0m0 4h0m-10 0h0m4-5h0m-28-7h0m-13 3h0m-23-1h0m-13 10h0m-13 0h0m5-3h0m-6-8h0m-9-1h0m2 1h0m-15 8h0m-17-6h0m16 20h0m2 3h0m11-11h0m12 8h0m0 2h0m7 1h0m8 0h0m2-1h0m-5-1h0m-2-3h0m7-2h0m2 0h0m30 4h0m-8-5h0m9-3h0m-2-1h0m16 4h0m9-3h0m3 0h0m0-1h0m16-1h0m-6 0h0m10 6h0m3-3h0m8 0h0m-6-2h0m-5 0h0m0 0h0m19 1h0m-4 4h0m49 7h0m-1-11h0m-5-2h0m19 0h0m-2 1h0m-1 3h0m6 9h0m3-10h0m31 8h0m9-1h0m0-10h0m4 11h0m51-9h0m4-1h0m9 5h0m-61 21h0m-5-12h0m4-1h0m-15 0h0m-2 2h0m-2 5h0m-13-2h0m8 0h0m-4-1h0m-5-4h0m-7 6h0m-17 7h0m9-5h0m-13 0h0m13-4h0m-4-4h0m-23 2h0m-41 4h0m-1-5h0m-13 6h0m-3 1h0m-29 4h0m-23-7h0m10 7h0m-35-11h0m3 0h0m-5 5h0m5 3h0m-2 3h0m-23-2h0m-1 5h0m16 10h0m15 0h0m33-9h0m-1 2h0m7 9h0m6-2h0m0-8h0m1-3h0m21 12h0m63 1h0m6-8h0m27 1h0m5 0h0m-7-2h0m12-3h0m4 11h0m9-2h0m9-5h0m-8-2h0m1-3h0m13 2h0m3 11h0m44 3h0m4 2h0m-44 9h0m-3-3h0m2-5h0m-16-1h0m0 2h0m2 5h0m-22 1h0m1-2h0m8-5h0m-30 2h0m-10-2h0m-12 3h0m-2 4h0m-39-11h0m-26 6h0m-17-3h0m-13 9h0m-77-13h0m56 16h0m14 9h0m29 0h0m33-1h0m40-10h0m12 13h0m-2-2h0m-5-3h0m1-8h0m11 4h0m24 1h0m4-5h0m8 3h0m-7 1h0m-2 4h0m19 4h0m-6-5h0m8-2h0m4-1h0m13-2h0m-4 4h0m-1 2h0m9 13h0m-2 1h0m-26-8h0m10 4h0m0 2h0m-14 2h0m-7-5h0m-8 1h0m-7 1h0m-3 2h0m-2 1h0m-15-3h0m-51-2h0m-46-3h0m99 25h0m-6-5h0m5 0h0m-1-3h0m7-2h0m21 12h0m-5 0h0m21-12h0m-2 3h0m36 7h0m-3 4h0m-4 11h0m-6-6h0m2-2h0m-5-2h0m-9 0h0m5 0h0m-2 6h0m-4 1h0m3 3h0m-16-5h0m3 0h0m-3-5h0m-2-2h0m2 0h0m-10 4h0m-13 4h0m-4-2h0m-19-5h0m-1 4h0m9 22h0m6-10h0m7 3h0m-2 0h0m18 6h0m-3-2h0m-2-8h0m5-1h0m12 5h0m-6 4h0m-3 1h0m18 0h0m10 1h0m13-6h0m-21 9h0m2 2h0m2 2h0m-13-1h0m-10-1h0m6-3h0m-26 5h0"/>
<path vector-effect="non-scaling-stroke" stroke="#bba5e0" d="M-6 -188h0m104 22h0m-71 15h0m26 24h0m93 6h0m-121-1h0m-110 22h0m65-9h0m135 1h0m58-2h0m2 9h0m-176 9h0m158 9h0m33 19h0m-401 13h0m12-3h0m57 11h0m110-6h0m7-1h0m215 3h0m7 13h0m-36 1h0m-352-5h0m145 15h0m13-4h0m26 3h0m170-2h0m47 10h0m-30 29h0m-10 14h0m6-12h0m-407 3h0m3 20h0m404-3h0m11 2h0m6-1h0m-2-1h0m-2 0h0m-1-5h0m20-2h0m8 8h0m-16 8h0m-395 25h0m280-6h0m66 3h0m0 2h0m14-2h0m-8-3h0m7-4h0m-3-3h0m24 11h0m-1-5h0m6-1h0m-3 0h0m19 1h0m-5 14h0m6-2h0m-11-2h0m-2-2h0m-9 4h0m9 0h0m-20 9h0m-2-1h0m9-1h0m-17-4h0m-2 5h0m-9-6h0m-6-6h0m-52 2h0m-35 2h0m30 10h0m-2 4h0m67-2h0m24 5h0m2 3h0m14-7h0m10 23h0m-36-6h0m9-2h0m-69-2h0m-323 10h0m-6 12h0m10-6h0m44 4h0m56 2h0m48-4h0m139-4h0m10 11h0m22-4h0m0-3h0m41 3h0m5-5h0m18-1h0m12-1h0m24 7h0m-11 2h0m39 1h0m-50 5h0m-31 8h0m-9-6h0m-21-3h0m12 10h0m-214-3h0m-2-3h0m-95 4h0m9 6h0m2 0h0m0 3h0m48 5h0m-6-1h0m6-8h0m26 12h0m170-5h0m14-2h0m-8 5h0m16-9h0m35 0h0m-11-1h0m17 6h0m10 1h0m18-7h0m34 12h0m-49 10h0m-22-6h0m-11 5h0m-7-7h0m-198 0h0m-6 3h0m1 0h0m-21 9h0m-2 0h0m4-6h0m0-2h0m4-3h0m-20 0h0m-11 1h0m-2-3h0m-9 2h0m-6 1h0m0 4h0m5 2h0m-4 4h0m-12 4h0m32 2h0m-6 0h0m2 1h0m6 6h0m36-12h0m196 13h0m29-6h0m7-5h0m-2 3h0m20 1h0m-18 8h0m2 0h0m-31 9h0"/>
<path vector-effect="non-scaling-stroke" stroke="#0000ff" d="M-64 -209h0m10 26h0m-58 25h0m21-4h0m-25 25h0m-5-3h0m75 17h0m-51 5h0m41 28h0m-22 4h0"/>
<path vector-effect="non-scaling-stroke" stroke="#8a60f1" d="M-113 -211h0m26-2h0m3-6h0m22 3h0m34-2h0m10 3h0m4-3h0m18-4h0m0 2h0m6 0h0m117 17h0m5 3h0m-4 1h0m-48-9h0m-31 9h0m3 1h0m-102 0h0m2-4h0m-2 0h0m-2-7h0m-7 8h0m-20 4h0m6-3h0m-5 0h0m-2-4h0m-12 3h0m-9 4h0m1-2h0m-6-4h0m-1-3h0m-17 5h0m4 0h0m-3 15h0m0-2h0m1-5h0m10-1h0m12 3h0m-7 3h0m19 1h0m7-5h0m10 1h0m34 8h0m15-5h0m13 5h0m-1-10h0m-4-1h0m2 0h0m62 10h0m-7-2h0m12-4h0m2-4h0m11 4h0m-2 2h0m3 1h0m2-2h0m2-2h0m34 7h0m-5-4h0m21 2h0m7 3h0m4 0h0m-8-1h0m13-2h0m-1-5h0m10-2h0m2 2h0m-2 2h0m5 4h0m22 14h0m-9-7h0m-15-2h0m-23 7h0m-1 4h0m-2-2h0m0-4h0m-7-4h0m-20 8h0m-9 2h0m-5-1h0m12-6h0m0-3h0m-4-1h0m1-2h0m-14 4h0m4 5h0m-27 4h0m11-2h0m-5 0h0m-6-1h0m9-4h0m-23-4h0m6 7h0m2 1h0m-10-4h0m-2 0h0m-10-1h0m2 0h0m-2-3h0m-27 1h0m-2-2h0m-8 7h0m-5 1h0m3 2h0m7 2h0m-14-1h0m3-3h0m-10-1h0m1 0h0m-4-1h0m13 0h0m-4-4h0m-7-1h0m0-1h0m-9-1h0m-7 2h0m0 2h0m10 2h0m-5 1h0m-3 5h0m-12-8h0m-7-2h0m-23 3h0m8-3h0m-15-2h0m2 2h0m2 1h0m-3 5h0m-14 5h0m-1-2h0m-4-1h0m8-4h0m-6-6h0m-20 2h0m-1 5h0m-3 5h0m-11-1h0m4-2h0m-8 14h0m12-9h0m0 2h0m-8 2h0m3 0h0m3 6h0m13 3h0m21-4h0m-2 0h0m-1 2h0m6 0h0m13-6h0m33 2h0m-4 1h0m4 2h0m-5 1h0m13 2h0m11-7h0m10-1h0m20 3h0m-12-7h0m20-1h0m3 1h0m-9 1h0m13 10h0m2 0h0m3-7h0m23 5h0m-4 2h0m11 1h0m0-2h0m-3-2h0m4-4h0m2-2h0m-7 0h0m18 1h0m-3 0h0m10 7h0m2 2h0m3-4h0m6-3h0m13-4h0m-2 2h0m4 0h0m-8 1h0m16-2h0m-2 0h0m19 10h0m16-12h0m16 1h0m-11 3h0m5 0h0m0 3h0m-5 0h0m0 5h0m4 0h0m14-3h0m8-5h0m1-2h0m3 1h0m5 4h0m-4 1h0m-15 11h0m-10 0h0m2-2h0m-1-4h0m-20 4h0m-1 4h0m10 0h0m-22 0h0m-3-2h0m7 0h0m1-2h0m-5-2h0m-2-1h0m-15 5h0m5 1h0m-2 2h0m1 4h0m-8-5h0m-18-7h0m-1 0h0m-4 0h0m3 2h0m5 7h0m-1 2h0m-26-11h0m2 9h0m-16 0h0m-1-7h0m-13-1h0m-8 3h0m1 2h0m8 4h0m-3 1h0m-22-5h0m2-4h0m8-3h0m-18 4h0m7 5h0m-5 1h0m-19-1h0m4-6h0m3-2h0m-28 12h0m-7-2h0m4-1h0m-4-5h0m-4-3h0m-5 2h0m-1 1h0m-2 0h0m-17-4h0m-6 3h0m-7 2h0m2 0h0m0 1h0m2 0h0m-20-7h0m-5 0h0m-8 3h0m-2 1h0m0 2h0m9 2h0m-4 1h0m1 3h0m-14-8h0m6-3h0m-4-1h0m-9 18h0m12 0h0m-2 2h0m-2 2h0m5 1h0m-7 0h0m4 1h0m-7 1h0m19-3h0m46 2h0m-9 0h0m38-2h0m-4 1h0m-6 1h0m18-1h0m2-3h0m15 0h0m-8 4h0m5 3h0m18-4h0m2-1h0m-4 0h0m5-2h0m-5-1h0m8-2h0m-2 1h0m6 6h0m4 2h0m-2 0h0m18-2h0m0-2h0m-1-5h0m4-2h0m12 1h0m-7 5h0m21 4h0m14-2h0m-10 2h0m11 0h0m1-6h0m12-1h0m12-4h0m-9 7h0m34-7h0m3 6h0m3 2h0m4-1h0m0-2h0m3 0h0m3-4h0m13 4h0m0 2h0m-2 0h0m-2 1h0m7 2h0m12-4h0m-8-1h0m23-1h0m-4 2h0m7-2h0m8 10h0m-14 11h0m4-4h0m-10-3h0m-9-3h0m0 11h0m-9 0h0m-4-7h0m-11 5h0m-32-8h0m-3 0h0m-17 10h0m6-6h0m-1-6h0m-20 4h0m4 5h0m2 1h0m-16 1h0m4 0h0m4-6h0m-4 0h0m2-1h0m-13 4h0m-2 0h0m-22 4h0m12-5h0m-21-7h0m-2 0h0m-3 12h0m-10-2h0m-2 0h0m2-3h0m-4-1h0m-7 0h0m-4 0h0m-4 2h0m7 1h0m2 3h0m-15-10h0m-19 10h0m-29-4h0m-7-6h0m-9-2h0m-40 11h0m-4 1h0m-7-2h0m7-5h0m-4-2h0m-10 0h0m1 2h0m0 13h0m-2-2h0m-1-2h0m14 12h0m9-3h0m8-6h0m21 8h0m-6 0h0m3-6h0m6-1h0m14 5h0m-7 1h0m3 1h0m9 0h0m26-3h0m7 0h0m7-3h0m12-1h0m3 6h0m-6 2h0m9 0h0m19-8h0m-1 3h0m16-1h0m-4-2h0m3-3h0m15 3h0m-2 3h0m-2 1h0m17 2h0m5-1h0m21 3h0m17-6h0m18 5h0m26-11h0m14 0h0m-6 1h0m7 2h0m-9 6h0m13-3h0m4-1h0m22-2h0m-1 2h0m-6 3h0m5 2h0m8-1h0m15 15h0m-19-9h0m8 2h0m-6 6h0m-7-3h0m-9-3h0m1-3h0m-3 0h0m-9 0h0m-3 1h0m4 1h0m3 1h0m-4 5h0m-2 2h0m1 2h0m-17-11h0m-13 10h0m-8-1h0m-2-1h0m-7-4h0m-1 7h0m-23-1h0m-2-6h0m-3-5h0m-5 4h0m-3 0h0m-27-4h0m5 3h0m0 4h0m-9 6h0m-3-10h0m-4-2h0m-17 6h0m1 4h0m-29-8h0m7 0h0m-3 1h0m1 2h0m-1 5h0m-12-1h0m-7-8h0m6-2h0m-20 1h0m-1 9h0m-7 0h0m-8-7h0m-4 7h0m-18 3h0m1-4h0m-4-8h0m-10 2h0m-2 2h0m-18 3h0m8-1h0m-12-2h0m-6 1h0m-19 7h0m4-1h0m-3-10h0m-12 10h0m-12-2h0m5-7h0m-13 8h0m-27 11h0m14 1h0m42-5h0m28 6h0m-9 0h0m9-1h0m-1-3h0m-12-4h0m23-2h0m-2 4h0m-7 0h0m14 7h0m5-10h0m49 9h0m4 3h0m11 0h0m-2 0h0m-5-1h0m-2-9h0m23 0h0m-11 0h0m-2 3h0m12 2h0m10 0h0m1-4h0m5 4h0m8 1h0m-4 1h0m13 3h0m5-4h0m-2 0h0m-1-2h0m7 0h0m5-6h0m2 2h0m-1 6h0m-4 3h0m8 0h0m19-4h0m-6-7h0m8 6h0m0 2h0m4 2h0m13 1h0m6-9h0m-7-1h0m15-1h0m2 5h0m-6 1h0m23-6h0m15 0h0m3 4h0m14 8h0m0-2h0m-1-4h0m10-7h0m5 2h0m-11 3h0m7 1h0m4 1h0m-7 3h0m9 1h0m6-7h0m12-4h0m5 0h0m-8 4h0m0 9h0m13-6h0m20-4h0m4 0h0m-11 18h0m11-1h0m-19-1h0m2 7h0m-18 1h0m9-5h0m-4-7h0m-12 1h0m-5 0h0m5 3h0m2 0h0m-7 0h0m-2 6h0m-9 1h0m-16-5h0m-7 0h0m13 6h0m-21-5h0m-1-2h0m5-3h0m-17 9h0m-11-4h0m-7-8h0m-7 1h0m-23 3h0m12-4h0m-36 13h0m0-5h0m-13-7h0m-5 4h0m2 7h0m-10-4h0m-29 2h0m-2-1h0m3-5h0m-1-4h0m-12 1h0m-7 9h0m-6 2h0m1-2h0m1-3h0m-3-1h0m-3-2h0m-2 0h0m7-4h0m0 0h0m-15 0h0m-2 4h0m0 4h0m-13 3h0m2-2h0m-6 0h0m2-6h0m2-1h0m-2-1h0m-19 0h0m1 7h0m1 1h0m6 1h0m-2 2h0m6 1h0m-5 0h0m-15-4h0m-1-3h0m-2-1h0m-1 0h0m5-2h0m-4 0h0m-8-1h0m-2 1h0m-8 3h0m8 0h0m-6 0h0m5 4h0m-2 1h0m-12-6h0m-34 7h0m-1-4h0m10-2h0m-23-2h0m7 7h0m-1 0h0m6 0h0m-23 1h0m-11-12h0m-6 11h0m11 2h0m-14-2h0m-2 5h0m4 10h0m4-2h0m0-2h0m7-3h0m10 4h0m-2 1h0m-3 1h0m37-11h0m-9 5h0m-1 8h0m41-6h0m25-4h0m-7 3h0m21-6h0m6 5h0m-2 0h0m0 6h0m18 1h0m-1-2h0m-1-4h0m12 3h0m8 0h0m2 2h0m11-3h0m22-7h0m25-1h0m-9 7h0m-1 4h0m18-5h0m-3-6h0m24 10h0m7-4h0m20 4h0m6-1h0m10-8h0m5 5h0m-3 3h0m24 2h0m-12-3h0m11-3h0m-4-5h0m7 9h0m10 3h0m14-1h0m-11-1h0m0-2h0m4 0h0m14-7h0m-2 5h0m4 2h0m12 5h0m-2-3h0m8 0h0m-3-2h0m19-8h0m12 8h0m-5-3h0m17 4h0m-6 9h0m-16 6h0m-1-2h0m-6-3h0m-20-2h0m1 6h0m7 0h0m-6 2h0m8 0h0m-3 2h0m-14 0h0m-1-2h0m-5-1h0m5-9h0m-2 0h0m-14-1h0m-5 3h0m3 2h0m-12 7h0m1-2h0m-6-9h0m-2 1h0m-2 0h0m-4 0h0m2 4h0m0 2h0m-7 3h0m-18 2h0m-23-10h0m9-1h0m-15 2h0m-21-3h0m-5 4h0m-32 1h0m1 6h0m-11-2h0m-3 0h0m-6-7h0m8-1h0m-23 0h0m3 2h0m-11 6h0m-1-8h0m-13-1h0m-14 4h0m2-3h0m3-2h0m-18 4h0m-13 6h0m2 0h0m-4-4h0m-2-3h0m7-3h0m-27 1h0m4 3h0m2 3h0m-1 1h0m6 2h0m2 1h0m0 1h0m-18-5h0m-5-3h0m-12-2h0m-2 4h0m-2 3h0m1 1h0m4 3h0m-15-11h0m4-1h0m-17-1h0m-15 13h0m-2-9h0m-17-2h0m2 1h0m-13 10h0m2-5h0m-15 1h0m6 6h0m15 2h0m-10 1h0m7 9h0m17 0h0m-4-2h0m-6-6h0m24 6h0m15-6h0m-5-3h0m11 4h0m18-1h0m1-1h0m7-3h0m5 4h0m3 3h0m8 4h0m2-7h0m3-3h0m5-2h0m-1 2h0m9 10h0m30-3h0m14-1h0m12-5h0m0 1h0m-5 3h0m5 4h0m11-5h0m16 4h0m18 1h0m-7-10h0m16 8h0m1 2h0m19 2h0m11-3h0m13-1h0m-9-5h0m5 0h0m10 0h0m10 0h0m-9 1h0m0 6h0m-2 2h0m15-10h0m2-2h0m13 12h0m21-13h0m16 1h0m-10 1h0m12 11h0m6-1h0m6-3h0m13-8h0m-6 1h0m1 4h0m22 2h0m-9-1h0m0-4h0m12-1h0m10 1h0m-6 9h0m4 0h0m11-2h0m-2-4h0m-2 0h0m11-3h0m4 4h0m10 8h0m-6 9h0m4-5h0m-14 1h0m-9 4h0m-6 2h0m-16-4h0m-10 5h0m-9-3h0m-4-10h0m-5 8h0m-22 3h0m2-9h0m-2-1h0m-11 1h0m9 4h0m-11 4h0m-6-4h0m-10-1h0m2-2h0m-18 6h0m-7-4h0m-4-3h0m-3-2h0m0 5h0m-9 6h0m-2 2h0m-14-4h0m-6-8h0m-16 5h0m0-2h0m-3-2h0m-13 2h0m4 0h0m-1 2h0m-8 4h0m-11-1h0m-17 0h0m1 1h0m2 1h0m6 2h0m-20-5h0m-7-6h0m-12 1h0m-23-1h0m0 2h0m-1 9h0m-12-1h0m2-12h0m-4 0h0m-5 1h0m-9 7h0m-9-3h0m-2-5h0m-36 0h0m-2 12h0m-14-6h0m-8-3h0m2-1h0m4 0h0m-15 4h0m2 0h0m-5 0h0m-1 2h0m2 1h0m7 1h0m-18-1h0m-7-1h0m0-2h0m13-3h0m-12-2h0m-5-1h0m-1 1h0m4 3h0m-5 7h0m4 16h0m14-7h0m-9 3h0m2 0h0m-5 2h0m3 0h0m24 0h0m0-1h0m-11 0h0m3-6h0m14 1h0m19-5h0m4 8h0m1 5h0m23-8h0m-2 0h0m13 1h0m3 4h0m6-10h0m24 2h0m-2 1h0m3 3h0m12 6h0m-3-1h0m-5-4h0m-2-6h0m15 2h0m0 3h0m11 1h0m-3 3h0m-3 0h0m47 2h0m-8-1h0m1 0h0m-1-3h0m-4-4h0m16 0h0m1 2h0m10 3h0m14-3h0m1 0h0m2 2h0m7 0h0m1 4h0m7-8h0m2-1h0m16-1h0m10 8h0m1-3h0m13-6h0m51 2h0m10 0h0m11 5h0m3-2h0m-4-2h0m15-3h0m4 0h0m-7 1h0m24 11h0m-9-7h0m11-1h0m11 0h0m0 2h0m-1 4h0m15 1h0m-5 0h0m-1-2h0m2-6h0m2-4h0m6 5h0m16 5h0m-12 14h0m8-2h0m-26-8h0m4 0h0m2 1h0m-2 1h0m-2 3h0m4 1h0m-10-1h0m-8-1h0m9-2h0m-20-2h0m-92 10h0m-43-10h0m-38 2h0m11 2h0m-6 6h0m-11 3h0m-9-2h0m12-6h0m-7 0h0m3-2h0m-8-1h0m5-1h0m-7 2h0m-5 2h0m-6 3h0m-36 3h0m-7-1h0m8-3h0m-5 0h0m7-1h0m-2-1h0m-8 0h0m-2-4h0m-15 11h0m-9-4h0m-1-4h0m-6 1h0m-22 5h0m3-8h0m-28 7h0m-3 0h0m0-5h0m8-1h0m-4 0h0m2-1h0m-21 2h0m9 0h0m2 8h0m-15-1h0m-10-2h0m0-1h0m4-3h0m-4-4h0m-3 5h0m-6 3h0m-18 4h0m10-1h0m-8-8h0m-6-4h0m-5 11h0m5 11h0m2-5h0m-7-3h0m32 10h0m-4-1h0m3-5h0m14-3h0m4 6h0m-4 1h0m2 2h0m1 3h0m4 0h0m3-4h0m1-1h0m-4-6h0m4 0h0m21-2h0m-10 10h0m-2 0h0m1 2h0m13-6h0m4-2h0m15 1h0m-5 1h0m9 6h0m2 1h0m5-3h0m6-7h0m15-3h0m-7 13h0m6 0h0m14-11h0m18 1h0m-9 1h0m9 1h0m-1 2h0m0 3h0m-2 1h0m6 2h0m-2-2h0m2 0h0m29-8h0m21 8h0m14 0h0m-8-2h0m10-2h0m-10-1h0m7-1h0m-4-2h0m13 6h0m11 3h0m2-2h0m12-6h0m0 7h0m38-11h0m15 11h0m1-2h0m-11 0h0m3-2h0m-4-1h0m1-3h0m60 10h0m3-3h0m46 0h0m11 2h0m-7 0h0m2-6h0m-3-1h0m20-4h0m5 6h0m0 2h0m-75 6h0m3 3h0m-13 7h0m-1-7h0m-3-4h0m-20 9h0m11 4h0m-19-1h0m-1-8h0m-2-1h0m-10 2h0m-2 3h0m-5 5h0m-3-2h0m-5-6h0m-11 4h0m-33-9h0m-25 1h0m-3 0h0m1 11h0m-14-10h0m-3 0h0m-6 1h0m-3 10h0m-10-10h0m-40 8h0m3-2h0m-4-8h0m-32-1h0m-9 2h0m10 7h0m1 1h0m-14-4h0m-6-3h0m2-3h0m-13 2h0m-5 7h0m3 1h0m6 1h0m-26 1h0m12-3h0m-4-6h0m-20-2h0m2 3h0m-3 0h0m-15 7h0m5 0h0m-3-6h0m8 0h0m-4-2h0m-1-1h0m2-1h0m-15-1h0m-4 1h0m9 6h0m-11 0h0m5 3h0m6 0h0m-6 2h0m-2 1h0m-5-3h0m-16-1h0m0 2h0m-9 16h0m3 0h0m14-9h0m-2 2h0m1 0h0m22 4h0m1-2h0m-6-2h0m2-1h0m-6-2h0m5-1h0m6 0h0m12 4h0m-6 0h0m12 0h0m4-1h0m-4 0h0m19-5h0m-2 2h0m-3 1h0m-4 3h0m7 3h0m18 0h0m4-6h0m6 1h0m4 4h0m-9 0h0m11 1h0m-12 1h0m8 0h0m2 3h0m12-1h0m-7-8h0m21 1h0m-2 0h0m13-3h0m9 6h0m5 2h0m8-10h0m27 9h0m5-2h0m11-5h0m1 5h0m5 0h0m-6 2h0m23 1h0m6-4h0m6 4h0m-8 2h0m8 0h0m13-1h0m3-2h0m-4-2h0m44-3h0m4 2h0m-6 1h0m4 4h0m2 0h0m3-1h0m2 0h0m-1-6h0m-2-4h0m16 0h0m7 3h0m-8 1h0m12 3h0m-5 1h0m13 5h0m6-2h0m-3-2h0m-3-3h0m-7-1h0m17-2h0m-2 4h0m20 4h0m2 0h0m3-1h0m3-4h0m-5 9h0m-40 3h0m-14-1h0m-16 2h0m1-5h0m-17 1h0m1 4h0m0 3h0m-24-4h0m-15 8h0m-8-5h0m4-1h0m-1-6h0m-29 7h0m-5 0h0m9-1h0m-16 0h0m4 2h0m-9 4h0m-31-11h0m-6 11h0m0-5h0m-5-1h0m-1-6h0m-11 2h0m6 2h0m-5 1h0m7 0h0m-8 4h0m6 4h0m-14-5h0m-3-2h0m-28 2h0m-2-6h0m-2 0h0m-44-1h0m10 2h0m-5 1h0m-4 1h0m-4 8h0m-9-1h0m2-1h0m-1-3h0m0-5h0m4 0h0m-20-2h0m1 4h0m3 2h0m-6 1h0m4 0h0m-30-7h0m13 18h0m1 6h0m2 1h0m-5 1h0m18-1h0m-2-11h0m6 0h0m5 0h0m-7-1h0m20 11h0m11 2h0m1-2h0m-5-1h0m5-6h0m28 3h0m-2-1h0m-8 0h0m11-1h0m-7-4h0m15-1h0m6 10h0m-4 0h0m16-1h0m1-6h0m-9-3h0m40 12h0m-9-9h0m16 1h0m3 1h0m-3 1h0m7 1h0m6 3h0m3-7h0m-6-3h0m38 9h0m-4-5h0m19 5h0m-11 3h0m5 0h0m20-9h0m26 6h0m-7-8h0m12 0h0m-1 9h0m2 3h0m23-1h0m4-7h0m10 3h0m-3 2h0m10 2h0m1-4h0m5-4h0m-11-2h0m24 0h0m2 7h0m-6 2h0m21-5h0m-8-3h0m-1-2h0m10 7h0m3 4h0m0 7h0m-22 0h0m-10 4h0m-3 1h0m-30-7h0m5 2h0m-24 2h0m0-2h0m-31 3h0m8-6h0m4-1h0m0-1h0m-24 2h0m-2 0h0m0 2h0m6 0h0m-5 7h0m10 1h0m-23-7h0m-9-2h0m-4 1h0m2 1h0m-2 4h0m7 1h0m-35-6h0m-9 7h0m5-1h0m-3-6h0m-18-2h0m4 0h0m-1 8h0m-3 1h0m-10 1h0m-1-3h0m4-1h0m0-2h0m-4-2h0m-20-1h0m2 1h0m0 5h0m-33-6h0m7 3h0m-3 4h0m2 0h0m-6 1h0m5 1h0m-10-4h0m1-2h0m-17-5h0m3 0h0m-10 5h0m1 4h0m0 2h0m-10-4h0m6-5h0m-14-3h0m2 7h0m0 2h0m-2 4h0m-24-13h0m-5 15h0m11 6h0m3 5h0m11 1h0m-7-4h0m0-2h0m35 4h0m-7-4h0m5-3h0m3-1h0m11-3h0m-4 4h0m38-4h0m16 3h0m9 10h0m44 0h0m26-3h0m18 0h0m8-4h0m5-1h0m-6-4h0m7-1h0m4 0h0m0 3h0m25 10h0m-8-2h0m1-7h0m0-2h0m8 2h0m13 9h0m2 0h0m40-5h0m-40 13h0m-14 6h0m7-9h0m-22 1h0m-4 5h0m-1-10h0m-10 2h0m-27 8h0m5 0h0m-2-1h0m0-2h0m-7-7h0m-4 5h0m0 2h0m4 2h0m-2 1h0m-1 2h0m-39-3h0m-1-2h0m-4-2h0m-7-4h0m-1 8h0m-25-1h0m2-3h0m1-5h0m-44 3h0m-12 9h0m10 0h0m-13-1h0m7-1h0m3-4h0m-9-2h0m12 0h0m-6-3h0m-9 10h0m-25-1h0m-1-2h0m5-4h0m-15 4h0m-6-6h0m-3 0h0m4-2h0m-7 0h0m61 16h0m-2 6h0m9 4h0m3 0h0m4-3h0m5-7h0m25 6h0m-6-2h0m-5-2h0m13-4h0m3 2h0m3 4h0m-4 3h0m24-1h0m-1-4h0m42-2h0m7 8h0m2-1h0m6 0h0m0-3h0m5-3h0m8 6h0m10-8h0m6 4h0m10 0h0m2 1h0m-11 4h0m15-2h0m0-2h0m13-2h0m2 2h0m14-1h0m-8 19h0m3-7h0m-7-1h0m-14 0h0m-10 2h0m0-2h0m-21 5h0m-11 6h0m5-7h0m3-5h0m-22 0h0m-58-1h0m-12 2h0m-25 10h0m0-5h0m-4-5h0m-13 13h0m111 11h0m13-1h0m0 2h0m17-3h0m0-2h0m53 4h0m-3 12h0m-13-3h0m5-7h0m-6 0h0m-7 4h0m0 3h0m3 3h0m-15 1h0m-3-2h0m0-3h0m0-4h0m-19 0h0m2 8h0m-2 0h0m-10-1h0m8-3h0m-5-2h0m-17 1h0m2 18h0m-6 0h0m15-6h0m1 4h0m9 3h0m9 3h0m-5-7h0m9-5h0m13 0h0m-6 1h0m12 8h0m10-4h0m13-3h0m3 5h0m-14 6h0m-8 1h0m-9 4h0m-4-2h0m3-1h0m-11 3h0m-22-2h0m6 0h0"/>
<path vector-effect="non-scaling-stroke" stroke="#522dfb" d="M0 -227h0m-3-1h0m-86 12h0m3-5h0m9 2h0m-3 0h0m8 1h0m-6 5h0m15 0h0m5-2h0m-8-2h0m4-1h0m-3-1h0m39 0h0m2 3h0m6 4h0m8 0h0m8-4h0m-10 0h0m6-1h0m-6-1h0m11-2h0m-2-1h0m-3-1h0m18-2h0m118 22h0m-3 1h0m-152-9h0m-17 13h0m-2-4h0m-10 0h0m-2-6h0m-12-2h0m10 4h0m-8 2h0m6 1h0m-9 1h0m7 0h0m3 3h0m-23 0h0m9-7h0m-2-1h0m-1 0h0m-20 2h0m8 7h0m-13-5h0m-7-7h0m4-1h0m-9 10h0m-20 3h0m3 5h0m13 7h0m17-3h0m-1 5h0m7-2h0m0-8h0m17 1h0m3 2h0m-1 2h0m-6 1h0m0 2h0m24 0h0m-4-6h0m2-1h0m-3-3h0m8-1h0m10 2h0m0 1h0m4 8h0m1-8h0m-1-3h0m91 6h0m-3-1h0m13 2h0m40-5h0m53 5h0m-73 10h0m-24 1h0m-7 8h0m-20-2h0m7-6h0m-71 2h0m-7 2h0m-15 1h0m2-2h0m0-2h0m-2 0h0m6-4h0m-7 0h0m-2 3h0m-7 2h0m5 2h0m-7 0h0m7 2h0m-5 0h0m-10 2h0m-8-6h0m5-2h0m-14 0h0m-4 1h0m9 5h0m-9 1h0m-13-9h0m10-1h0m-25 1h0m10 2h0m-8 1h0m1 0h0m1 2h0m-5 3h0m-8-1h0m2-1h0m-2-4h0m-11 5h0m1 3h0m-3 13h0m5-5h0m-1-2h0m4-4h0m11 0h0m-8 1h0m0 1h0m8 0h0m-2 1h0m-6 1h0m-1 2h0m-3 1h0m11 2h0m6 2h0m10-3h0m-10 0h0m-3-4h0m33 9h0m6-1h0m2-4h0m7-8h0m-4 3h0m9 0h0m0 2h0m-11 8h0m27 0h0m-1 0h0m3-12h0m8 1h0m-4 4h0m-4 0h0m6 0h0m1 2h0m-6 1h0m61 2h0m45-10h0m23 4h0m15 2h0m26 3h0m35 5h0m-119 11h0m-21 1h0m-28-6h0m-37 6h0m6 0h0m-6-6h0m-1-7h0m-2 5h0m-6 1h0m4 1h0m-3 3h0m4 0h0m-15 1h0m-13-11h0m-9 8h0m-4 3h0m-5-3h0m-18-2h0m5 1h0m4 2h0m-17-8h0m-12 2h0m-3 2h0m-3 2h0m6 20h0m14-11h0m-11 4h0m10 2h0m-2 0h0m27-4h0m-6 2h0m10 1h0m5-1h0m7-1h0m-4-2h0m4-3h0m12 2h0m1 0h0m4 1h0m0 4h0m-8 5h0m15-2h0m-5-1h0m5-2h0m18 0h0m-10 5h0m33-9h0m92 3h0m8 1h0m36 2h0m62 14h0m-13 1h0m-98 3h0m-13-7h0m-29-4h0m-23-2h0m-40 10h0m-5 2h0m-8-4h0m4-4h0m-2-2h0m-8 2h0m-6 1h0m2 1h0m-11-1h0m-4-3h0m-10 0h0m1 1h0m0 4h0m-2 2h0m4 2h0m-30-7h0m-5 1h0m7 1h0m-8 6h0m5 1h0m-21-6h0m9 0h0m-2-2h0m4-3h0m-14 7h0m0 17h0m11-4h0m0 2h0m12 3h0m16-12h0m10 11h0m5-1h0m-11-1h0m5-3h0m8-2h0m4-1h0m4 0h0m2 0h0m1 5h0m2 2h0m-5 2h0m16-10h0m2-1h0m0-2h0m-9 0h0m25 0h0m35 12h0m88-11h0m9 0h0m110 20h0m-47-3h0m-58 5h0m-17-8h0m-40 3h0m-2-1h0m-73 6h0m-15 2h0m9-11h0m-13 4h0m-5 2h0m-22 0h0m11-5h0m-25 0h0m11 4h0m-6 5h0m4 2h0m-29-11h0m-15 6h0m-4-3h0m4-3h0m-5-1h0m-9 6h0m1 4h0m-13 6h0m6 2h0m16-3h0m10 11h0m8 1h0m-5-9h0m3-2h0m8-1h0m12 1h0m-3 5h0m20-1h0m24-1h0m-7-5h0m18 0h0m-5 11h0m7 1h0m15-1h0m21-2h0m25-9h0m15 7h0m100-6h0m-17 23h0m11-3h0m-136-5h0m-44 2h0m-7 0h0m5 2h0m-4 6h0m2 1h0m-22 0h0m-14-5h0m6 2h0m-4 2h0m-2 0h0m-15-2h0m13-1h0m-2-8h0m-25 3h0m12 0h0m-12 9h0m-90 3h0m30 2h0m2 1h0m13 7h0m-11-10h0m52 10h0m11-1h0m-6-1h0m1-3h0m-1-1h0m1-1h0m20-5h0m2 2h0m-2 8h0m-1 3h0m7-3h0m9-1h0m5-8h0m2 0h0m4 2h0m-2 5h0m7 0h0m-6 2h0m10 3h0m1 0h0m5-6h0m1-1h0m0-3h0m-4 0h0m-2-1h0m23-1h0m-10 1h0m8 1h0m3 8h0m12-8h0m-10 0h0m6-3h0m213 16h0m-80 9h0m-114-5h0m-16 7h0m-23 0h0m10-11h0m-21 4h0m8 4h0m-34-9h0m7 2h0m0 7h0m-32-9h0m-58 1h0m-23 9h0m-10 14h0m23-2h0m23-9h0m8 9h0m41-7h0m-12-1h0m22 3h0m31 3h0m-4 0h0m19 4h0m-6-1h0m5-5h0m-5 0h0m0-4h0m11 3h0m-2 8h0m39-3h0m4-1h0m9-3h0m-9 0h0m69 3h0m114 2h0m-14 9h0m9 8h0m-45-1h0m-67-7h0m-30 2h0m-9 4h0m3 0h0m-7-7h0m-1-2h0m-17-2h0m2 4h0m-8 2h0m10 4h0m-17 3h0m3-1h0m-2-7h0m-22 0h0m2 4h0m1 3h0m-8-5h0m-9-1h0m11-4h0m-15 2h0m2 1h0m-9 0h0m1 1h0m5 0h0m-35 0h0m1 3h0m-86 3h0m-6 1h0m-8-1h0m-2-10h0m10-1h0m-13 7h0m7 8h0m9 4h0m10-6h0m6 5h0m3 8h0m26-9h0m24 8h0m88-11h0m10 1h0m-11 2h0m2 4h0m24 4h0m1-8h0m6 2h0m5 3h0m-10 1h0m17 1h0m3-3h0m1-7h0m11 2h0m2 3h0m12 2h0m5-3h0m-2-1h0m-16 16h0m-7-6h0m-25 0h0m-9 8h0m-14 1h0m-2-2h0m1-7h0m-17 8h0m-37 5h0m1-1h0m-11-9h0m-77 8h0m-9-11h0m-43 3h0m36 22h0m89-5h0m2-1h0m-2 0h0m15-5h0m0 1h0m1 4h0m42-5h0m15 4h0m-4 6h0m8 3h0m5-3h0m3-6h0m-6 0h0m11-1h0m6 2h0m-3 2h0m18-1h0m110 5h0m-27 14h0m-10 0h0m-139-8h0m-39 8h0m-17 2h0m-7-5h0m-25-1h0m2 0h0m-10 2h0m-26-3h0m-59-4h0m27 24h0m100-7h0m6 0h0m22-3h0m63 6h0m17-2h0m-6 3h0m22 3h0m0-9h0m4 7h0m77 1h0m-78 10h0m-3 5h0m-13-2h0m-6-4h0m-6-2h0m-39 2h0m5 2h0m-10-4h0m-30 2h0m-9-4h0m-60 6h0m-8 1h0m-31-8h0m-18 8h0m-6 7h0m24 8h0m1-1h0m38 1h0m47-5h0m13-4h0m8 8h0m57-5h0m-4 0h0m6 4h0m-8 1h0m6 3h0m15-1h0m9-11h0m2 0h0m-7 8h0m5 4h0m74-1h0m-83 5h0m-7 7h0m8 0h0m-20-2h0m-19-3h0m0 4h0m-80-6h0m91 22h0m14-5h0m-12 7h0m22-8h0m5 0h0m1 3h0m5 6h0m18-9h0m13-1h0m-8 6h0m13 13h0m-13-3h0m-13-2h0m10 5h0m-12 3h0m-6-6h0m-2 0h0m7-5h0m-12 0h0m-4 11h0m-19-9h0m-19 0h0m1 10h0m-129-11h0m130 20h0m24 4h0m-4 1h0m-3 1h0m10-2h0m4-7h0m22-4h0m-8 10h0m7 3h0m20 5h0m-12-4h0m7 0h0m-12 4h0m8 6h0m-50-3h0m0-6h0m-8 2h0m10 14h0m17-3h0m16 5h0m2 1h0m28 15h0m-2-1h0m-12-6h0m-9 11h0m-7 2h0m-21-1h0m-9-11h0m-5-1h0m-13 0h0m8 8h0m-9 7h0m26-1h0m-7 4h0m7 0h0m-5 8h0m-8 1h0m39-9h0m-5 1h0m21 5h0m-1-2h0m-5-6h0m22 0h0m-15 16h0m-14-3h0m12 2h0m-5 0h0m-34 2h0m-11 2h0m3-3h0"/>
<path vector-effect="non-scaling-stroke" stroke="#7248f6" d="M-12 -229h0m-4 1h0m-86 14h0m6 3h0m-1-2h0m4 0h0m2 0h0m2-1h0m-8-1h0m6-1h0m12 0h0m2 0h0m4 2h0m12 3h0m1-3h0m-4-3h0m9 3h0m31-3h0m20 6h0m1-2h0m-9-1h0m2 0h0m6-3h0m3-1h0m-4-2h0m16 2h0m-3 0h0m-2 2h0m118 17h0m-144-11h0m-21 11h0m-13 1h0m8-4h0m-10-2h0m-10-3h0m4 8h0m5 0h0m-26 2h0m8-3h0m-2-4h0m6-1h0m-13-2h0m-2-2h0m-8 1h0m2 0h0m-2 2h0m2 0h0m2 7h0m-9 2h0m-10-3h0m5-1h0m-4-1h0m5-1h0m-4-2h0m5 0h0m3-2h0m-21-1h0m4 1h0m-3 4h0m-8 8h0m-4 1h0m-2 2h0m-7 7h0m4 0h0m8 2h0m4-1h0m11-1h0m-11-1h0m7-1h0m1-2h0m2-1h0m-12-3h0m16 3h0m5 2h0m-6 0h0m1 5h0m24-1h0m0-3h0m-4-2h0m0-6h0m15 1h0m4 4h0m-9 2h0m2 1h0m2 0h0m-1 3h0m4 1h0m12 0h0m-2-8h0m-6-2h0m9-2h0m25 11h0m6-1h0m0-2h0m-8-1h0m85 4h0m5-6h0m9-3h0m-5 1h0m7 2h0m14 2h0m15 2h0m9 0h0m13-3h0m2 2h0m17 2h0m-2-1h0m6-7h0m-4 0h0m6 2h0m22 5h0m-4 7h0m-3 7h0m-3-6h0m-18-1h0m-1 6h0m0 2h0m-12 2h0m1-6h0m-34 2h0m-1-6h0m-12 2h0m-7-1h0m-20-4h0m3 5h0m1 5h0m-24 2h0m4-4h0m7-4h0m-29 2h0m-17-3h0m-2 0h0m-2 1h0m0 3h0m2 2h0m-4 0h0m3 1h0m-9-2h0m-7-2h0m4-1h0m-18-1h0m-12 9h0m-1-12h0m-16 3h0m2 4h0m-3 1h0m2 4h0m-6-1h0m-8-5h0m-15-2h0m0 2h0m1 3h0m5 0h0m2 1h0m-12-1h0m1-6h0m-9 0h0m2-2h0m2-1h0m-18 6h0m-17 2h0m10-7h0m-26 20h0m11-7h0m12 7h0m-6 4h0m4 0h0m26-12h0m0 4h0m7 3h0m-8 5h0m6 1h0m12-9h0m5-4h0m15 2h0m17-1h0m9 3h0m-5 0h0m5 4h0m-4 2h0m8-2h0m8-1h0m5-5h0m-2-2h0m35 2h0m17 11h0m6-1h0m-7-4h0m18 0h0m1 5h0m4-2h0m8 0h0m2-7h0m15-1h0m8 5h0m-3-4h0m20 6h0m2 2h0m13-3h0m-6-1h0m-4-1h0m51-4h0m31 19h0m-8-1h0m7-5h0m-34 1h0m-10 1h0m-6 4h0m-12 0h0m-19-4h0m2 9h0m-4-1h0m-21-5h0m6 4h0m-24-11h0m-57 13h0m5-7h0m-15 1h0m6 0h0m-2 1h0m-19 0h0m3-3h0m-9 6h0m-20 1h0m1-4h0m0-5h0m-6-2h0m-13 8h0m7 4h0m-5 0h0m-12-12h0m-5 0h0m8 0h0m-19 3h0m4 1h0m-7 1h0m1 0h0m11 7h0m-12 0h0m-7-7h0m-7-1h0m4-1h0m-15-3h0m-3 2h0m0 6h0m-3 4h0m-7-10h0m6 0h0m3-1h0m-18 0h0m-3 3h0m1 0h0m15 11h0m-2 0h0m-5 4h0m4 1h0m2 1h0m-5 2h0m3 1h0m10 1h0m2-6h0m1-1h0m-3-1h0m13 0h0m22 8h0m1-6h0m2-3h0m2-1h0m-8-2h0m6 0h0m9 3h0m7 2h0m-10 6h0m15 2h0m-3-10h0m21 8h0m-6 1h0m12-9h0m19-2h0m2 4h0m18 0h0m18-5h0m49 8h0m7 1h0m0-2h0m45-7h0m5 3h0m12 8h0m16-9h0m11 5h0m17-7h0m5 15h0m3 1h0m8 11h0m-35-2h0m-14 2h0m1-6h0m-2-4h0m-4 1h0m-6 7h0m-17 0h0m-18-6h0m-12 5h0m-2-3h0m7-3h0m-15 0h0m-13 5h0m4-7h0m-6-2h0m-17 2h0m-23 6h0m-18 5h0m8-6h0m-13-1h0m-6 0h0m-11 3h0m1-2h0m-22-7h0m-2 3h0m2 1h0m-1 5h0m-6-1h0m-6 0h0m8-1h0m1-4h0m-5-1h0m4-2h0m-37 8h0m10-4h0m-11-1h0m-5-3h0m2 0h0m-4 0h0m3 1h0m2 1h0m-4 3h0m-1 6h0m-9-2h0m-2-3h0m-15 5h0m3 0h0m-6 2h0m-11-3h0m3 0h0m-7-3h0m4-1h0m-10-2h0m6 0h0m-2 0h0m9-4h0m-16 5h0m9 10h0m5 1h0m-10 10h0m37-7h0m-8 6h0m14-1h0m7-4h0m-9-6h0m1 0h0m20 9h0m8 3h0m3-5h0m-4 0h0m3-2h0m25 8h0m12-10h0m-12-1h0m2-1h0m4 0h0m21 1h0m-9 5h0m13 4h0m-2-11h0m12 0h0m20 13h0m1-5h0m31 0h0m8 4h0m14-1h0m11-8h0m55 4h0m-1-5h0m26-1h0m4 5h0m22 14h0m-1 6h0m-17 0h0m9-10h0m-18-1h0m-6 4h0m6 0h0m-8 7h0m-25 1h0m-26-11h0m4 6h0m2 2h0m-40-4h0m1 7h0m-9-11h0m-5-2h0m-8 7h0m-5 6h0m-7-11h0m-12 10h0m-20-5h0m-2-4h0m-11 1h0m-2 3h0m5 1h0m-8 1h0m1 1h0m-22-6h0m-10 9h0m-10-3h0m9-8h0m-22 0h0m7 0h0m-21 9h0m0-2h0m-3-2h0m4-1h0m-4-1h0m7 0h0m-1-3h0m2-1h0m-16-1h0m5 3h0m-3 2h0m1 0h0m-1 2h0m4 1h0m0 1h0m-24 1h0m10-3h0m-12-1h0m2-5h0m-6-1h0m-5 5h0m-7 7h0m-7-5h0m8-3h0m-5-1h0m-16 6h0m-17 4h0m-34 13h0m0-6h0m2 0h0m16 4h0m8-9h0m41-1h0m-4 3h0m7 5h0m5 2h0m0-4h0m8-5h0m13 2h0m1 3h0m-7 2h0m2 1h0m2 0h0m-3 2h0m11 2h0m9 0h0m0-5h0m-8 0h0m-2-6h0m16-1h0m0 1h0m5 0h0m-4 3h0m1 8h0m2 0h0m16-10h0m14 5h0m19 3h0m-7-7h0m19 6h0m-10 1h0m20-10h0m17 3h0m-6 2h0m-2 0h0m20 5h0m-6-10h0m47 10h0m2 0h0m12 1h0m5-4h0m-2-3h0m6-3h0m10 1h0m-12 0h0m11 9h0m25-11h0m-8 3h0m19 5h0m5 0h0m20 4h0m-2-4h0m5-4h0m17-5h0m-1 4h0m6 1h0m10 4h0m-18 16h0m-28-1h0m-4-8h0m-55 11h0m3-1h0m-3-10h0m11 0h0m-22 9h0m0 2h0m-25-1h0m-6 1h0m-16-12h0m-10 0h0m-4 8h0m-13 3h0m-18-5h0m-13-1h0m-2 0h0m-2 1h0m-1 3h0m-13 0h0m-4-1h0m1-2h0m2-3h0m3 0h0m-5-2h0m-4 0h0m2-2h0m-10 1h0m1 2h0m-4 9h0m-4 0h0m-9-3h0m-4-1h0m6-1h0m-8-3h0m-13 1h0m10 3h0m1 2h0m2 1h0m-15 2h0m-1-5h0m1-4h0m-6 0h0m4-1h0m-8-2h0m-5 0h0m-3 0h0m-3 2h0m3 3h0m5 0h0m-5 2h0m2 0h0m-10 2h0m11 0h0m-2 0h0m4 3h0m-19-3h0m0-3h0m1-4h0m-11 8h0m-25 1h0m3-2h0m-16-7h0m7 5h0m-3 1h0m5 0h0m-20 1h0m3-4h0m-22 7h0m-2-5h0m-2-8h0m1 14h0m-7 3h0m19 8h0m2 0h0m-1-4h0m13 2h0m-2 2h0m16 2h0m-6-5h0m-1-2h0m10-5h0m10 0h0m7-1h0m25 12h0m9-2h0m1-1h0m0-2h0m1-2h0m-9-1h0m17-2h0m0 4h0m3 2h0m5 1h0m-1 0h0m-2 3h0m11-4h0m5-1h0m0-1h0m-5 0h0m-1-1h0m-1-4h0m14 8h0m0 1h0m19 0h0m13-10h0m4 0h0m-5 5h0m10 8h0m2-13h0m8 0h0m19 3h0m8-2h0m15 2h0m-2 7h0m59-8h0m-3 11h0m9-6h0m32 6h0m1-8h0m-3-3h0m3-1h0m8 4h0m-2 0h0m10 5h0m-4 0h0m11 0h0m-3-2h0m0-3h0m-2-4h0m27 0h0m8 5h0m13-5h0m5 1h0m12 9h0m8-6h0m-11 12h0m-32 2h0m2 1h0m-4 3h0m-19-1h0m-14-3h0m-1-5h0m-20 1h0m2 2h0m9 1h0m-9 3h0m8 2h0m0 3h0m-15-1h0m-9-3h0m8-1h0m-13-1h0m-24-3h0m-5-2h0m-7 11h0m-17-4h0m-3-7h0m2 2h0m-7 4h0m-3 4h0m-11-3h0m1-5h0m-4-1h0m-16 2h0m5 5h0m1 2h0m-35-11h0m5 6h0m-2 4h0m-11 3h0m-2-4h0m9-3h0m0-2h0m-12-3h0m-14 7h0m-10-1h0m-9-4h0m-14 10h0m2-1h0m-1-11h0m-22 7h0m8 3h0m-14-2h0m-5-4h0m-14-5h0m3 0h0m4 1h0m-11 3h0m1 3h0m-9 6h0m0-3h0m4-5h0m-20 1h0m-29-6h0m6 11h0m-23 12h0m23-3h0m-7-1h0m27 6h0m18-5h0m6 7h0m9-8h0m4-2h0m-12-2h0m9-1h0m28 9h0m4-9h0m5 6h0m-4 0h0m2 0h0m-2 3h0m5 3h0m7 1h0m29-2h0m2 1h0m2-3h0m1-1h0m7-1h0m-9-3h0m12-3h0m7 4h0m-1 2h0m7 1h0m-9 1h0m-2 1h0m18-3h0m2-1h0m22 4h0m2-1h0m2 0h0m-4-5h0m18 3h0m-1 2h0m4 0h0m-3 2h0m6 2h0m12 0h0m-2-3h0m16-7h0m27-1h0m4 0h0m-6 4h0m15-3h0m25 3h0m6-6h0m36 10h0m15-3h0m1-5h0m28 10h0m15 15h0m-12-5h0m-20-7h0m-5 8h0m-18-3h0m-14-6h0m1 2h0m-3 2h0m4 6h0m-18 2h0m-8-11h0m0 2h0m-8 8h0m5 2h0m-21-8h0m-4-2h0m-37 3h0m-2 7h0m-8-6h0m5-1h0m-19 0h0m-21 2h0m4-4h0m2-2h0m-13 0h0m-6 1h0m1 1h0m2 4h0m-5 4h0m-7 1h0m3-3h0m3-3h0m-13 0h0m11-3h0m-23 7h0m-4-1h0m1-5h0m-2-2h0m-2-2h0m-23 8h0m-34 3h0m2-8h0m-13 5h0m-6 1h0m2 0h0m-20 1h0m10-8h0m-18 10h0m-32-13h0m6 0h0m1 2h0m-10 5h0m-8 4h0m1-3h0m-6-3h0m10-3h0m1-1h0m-18 3h0m-7 3h0m12 2h0m-15 4h0m0-2h0m-2-7h0m-13-3h0m-3 24h0m14-3h0m-4 0h0m11 3h0m6 0h0m1-1h0m-7-3h0m12-7h0m3 0h0m-1 2h0m8 0h0m-8 11h0m16-8h0m24 5h0m3 2h0m-1-9h0m12-1h0m-1-2h0m13 3h0m-2 3h0m-5 4h0m14-5h0m37 7h0m-3-2h0m15-4h0m-11 2h0m15 2h0m25-9h0m2 11h0m10 0h0m-5-4h0m5 0h0m-2-2h0m5-2h0m-1-1h0m-9-2h0m20 0h0m0 6h0m-4 1h0m4 3h0m-1 1h0m26-10h0m-5 4h0m1 6h0m19-8h0m-1-2h0m29 9h0m-7 0h0m5-2h0m-3-4h0m78-2h0m16 1h0m66 23h0m-7-5h0m-8 0h0m-89 5h0m-30-4h0m-3 3h0m-35-11h0m-38 2h0m-4 9h0m-5-4h0m-11 0h0m3-3h0m-3-2h0m11-1h0m-5-2h0m-23 11h0m0-7h0m-24-4h0m-15 12h0m4-4h0m-5-1h0m5-6h0m-38 6h0m-20 1h0m6-1h0m0-2h0m-2-1h0m5-3h0m-6-1h0m-28 13h0m2 0h0m0-2h0m-2-2h0m-6-2h0m-6-3h0m4 0h0m-16 9h0m-4-4h0m4-3h0m2 0h0m-11-1h0m4-2h0m-6 0h0m-7 8h0m2 0h0m-6 0h0m1 0h0m5 16h0m3-5h0m-7-3h0m11-5h0m11 12h0m10-1h0m-2-3h0m4-7h0m-3-1h0m27 13h0m-3-3h0m16-9h0m1 2h0m-3 3h0m8 2h0m0 2h0m4 2h0m6-3h0m-2 0h0m2-2h0m8-1h0m19 6h0m-5 0h0m8-7h0m8 1h0m6 1h0m38 0h0m7-2h0m-13 0h0m6-4h0m3-1h0m17 0h0m1 3h0m-12 3h0m7 6h0m18-1h0m0-2h0m-1 0h0m-10-7h0m5-1h0m5-1h0m15 9h0m-10 0h0m4 1h0m21-2h0m0-6h0m39 4h0m-4 7h0m15-7h0m63 15h0m-12-6h0m-10 6h0m0-6h0m-20 6h0m-8 3h0m-14 0h0m-54-5h0m-13-3h0m-13 2h0m2 0h0m-9 8h0m-13-2h0m9-10h0m-19 5h0m-3 2h0m-2 0h0m8 2h0m1 3h0m-78-1h0m-6-10h0m-4 4h0m-6 4h0m-8 3h0m1-3h0m-3-7h0m-17 6h0m-4-3h0m-38 2h0m-18-1h0m-17-2h0m-5 21h0m7-1h0m-3-3h0m17-7h0m5 12h0m38-4h0m-3-6h0m10-2h0m0 4h0m-1 7h0m27-7h0m-4 4h0m7 3h0m11-10h0m29 7h0m11 2h0m-1 2h0m49-11h0m12 11h0m12-4h0m2-2h0m1-2h0m3-2h0m-5-2h0m4 0h0m10 10h0m-2 1h0m15 2h0m11-5h0m37-7h0m-4 4h0m34 0h0m-7 2h0m11-3h0m16 7h0m12 7h0m-28 9h0m-7-3h0m-6-6h0m-30 4h0m2-1h0m1-5h0m-2-2h0m-5 4h0m2 8h0m-27-6h0m-23 6h0m3-3h0m-2-1h0m6-6h0m-19 1h0m-16 6h0m5-3h0m2-4h0m-11-1h0m-3 0h0m0 1h0m-2 1h0m-5 1h0m7 5h0m-10 0h0m6 1h0m-44 2h0m5-2h0m-6-5h0m5-5h0m-13 3h0m-10 4h0m1 5h0m-6-8h0m-14 6h0m-24 2h0m11-1h0m-24-3h0m5 1h0m-12 2h0m-17-4h0m2 5h0m-8-2h0m0-2h0m-22-5h0m-3 3h0m-23-6h0m7 20h0m29-4h0m11 7h0m8 4h0m1-6h0m29 6h0m-2-9h0m9 0h0m4 3h0m9-4h0m26 2h0m-12 4h0m12 1h0m2-8h0m9-1h0m-9-1h0m58 11h0m4-5h0m-5-4h0m1-2h0m15 3h0m-2 1h0m9 2h0m-5 1h0m10 4h0m26-11h0m-3 0h0m-10 8h0m4 2h0m4 1h0m2 0h0m-8 1h0m13-11h0m17 6h0m22-4h0m64 5h0m-28 10h0m-16-2h0m-22-2h0m-23 7h0m4-1h0m-19 6h0m-15-8h0m-11 1h0m10 1h0m-15-3h0m-1-3h0m-12 0h0m-9 6h0m-40-6h0m-28 5h0m-19 2h0m0 2h0m-4 0h0m-10-9h0m-13 1h0m5 0h0m-3 0h0m-6 12h0m-10-9h0m9-4h0m-19 6h0m7 4h0m-5 1h0m-13-8h0m0-2h0m-31-1h0m2 0h0m-9 7h0m8 19h0m22-6h0m18-4h0m41 3h0m-1 1h0m10 1h0m12 2h0m14-9h0m1 2h0m-10 10h0m72-12h0m31 10h0m6-3h0m-1-1h0m-2-3h0m-9 0h0m1-2h0m2-1h0m13 2h0m-2 1h0m2 2h0m5 3h0m-2 1h0m-2 3h0m31-10h0m-6 0h0m6 2h0m-6 2h0m12 5h0m3 12h0m1 2h0m3 2h0m-5 0h0m-7-12h0m-9 3h0m-39-1h0m9 5h0m-2 1h0m-22 3h0m12-12h0m-25 10h0m9 2h0m-82-2h0m-36-2h0m-15-6h0m9-2h0m-16 7h0m17 9h0m19 4h0m21 2h0m-8-2h0m93 5h0m-5 0h0m4-3h0m1-6h0m-11-2h0m21 6h0m-1 4h0m12 2h0m1-6h0m40-3h0m-3 3h0m-1 2h0m20 4h0m-1-11h0m-2-1h0m-9 22h0m-1-5h0m-20-1h0m12 9h0m-17 2h0m-1-13h0m-22 5h0m0 8h0m-18-12h0m-3 0h0m-49 3h0m-28-3h0m4-1h0m71 27h0m14-12h0m0 2h0m3 0h0m-8 7h0m4 1h0m20-1h0m-9-5h0m21-2h0m3 3h0m2 2h0m2-8h0m17 12h0m14 3h0m-2 9h0m-15 1h0m-15-7h0m0 2h0m-26 2h0m-15 5h0m3 0h0m1-2h0m2 0h0m3-3h0m-17-6h0m5 8h0m0 14h0m-10 0h0m19-2h0m-3 1h0m5 1h0m-4 1h0m4 1h0m-5 1h0m15-4h0m2 0h0m2-2h0m1-4h0m4 2h0m2 4h0m8 0h0m-3 1h0m-8 0h0m1 3h0m13-6h0m2-7h0m14 0h0m9 0h0m-8 14h0m-30 8h0m0-2h0m-15-6h0m-13 6h0m4-1h0"/>
<path vector-effect="non-scaling-stroke" stroke="#9d77ec" d="M-89 -212h0m5-9h0m26 8h0m188 9h0m-19 3h0m-187 3h0m-29-6h0m-20 1h0m4 17h0m59 2h0m2-12h0m44 3h0m15 10h0m0-2h0m47-3h0m6-8h0m14 5h0m26-4h0m3 10h0m4-5h0m26-5h0m-4 11h0m16-3h0m-1-6h0m-8-2h0m23 0h0m-5 2h0m7 0h0m-12 5h0m19-2h0m-4-1h0m-1-2h0m8 12h0m3 1h0m-4 1h0m0 2h0m-4 2h0m2 2h0m-13 4h0m2-1h0m3-6h0m-2-2h0m3-2h0m-14 2h0m-16 9h0m-4-2h0m-4 0h0m0-3h0m10-6h0m-26 11h0m-8-8h0m-18-1h0m10 1h0m-3 1h0m-5 1h0m6 4h0m-16-2h0m-5 0h0m4-5h0m-14-3h0m-6 8h0m-12 2h0m-30-6h0m3-5h0m-21 10h0m-3 0h0m2 0h0m-7-6h0m-11 2h0m-53-3h0m-30 1h0m-1 1h0m-15 4h0m33 9h0m43 5h0m24 1h0m8-10h0m2 1h0m-1 4h0m-3 1h0m24 3h0m18 1h0m10 0h0m2 0h0m-2-6h0m-5-2h0m15 1h0m2 0h0m4 1h0m15 3h0m-13-1h0m9-1h0m23 2h0m3-5h0m-3-1h0m51 7h0m1-2h0m27-6h0m-12 3h0m7 2h0m5 7h0m10-1h0m-9-5h0m9-3h0m9-1h0m6 3h0m0 2h0m-8 1h0m3 3h0m9 4h0m-2 9h0m-6-3h0m1-2h0m-2-3h0m-14 3h0m0 2h0m-30-1h0m8 0h0m-3 2h0m3 3h0m-2 2h0m-9 0h0m-1-7h0m-12-3h0m-8 4h0m-35 4h0m-9 0h0m7-4h0m-1-7h0m-15 3h0m-21 7h0m10-2h0m-13-3h0m5-1h0m-12-3h0m-20 12h0m1-2h0m-5-8h0m-9 1h0m-7 9h0m3-3h0m-8-4h0m3-5h0m-17 1h0m-22 0h0m-23 4h0m-15-5h0m8 10h0m-13-5h0m-5-4h0m-25 0h0m-11 25h0m27-4h0m-8-3h0m28 0h0m2-6h0m45 0h0m21 8h0m-3-4h0m31 7h0m4 2h0m21-1h0m-7-3h0m8-3h0m6-1h0m19 8h0m-8-3h0m9 0h0m22-4h0m0-6h0m22 11h0m38-2h0m-1-2h0m8-6h0m8 8h0m-6 1h0m4 1h0m7 2h0m11-9h0m-6-1h0m15-1h0m-3 2h0m5 0h0m15 5h0m11 10h0m-5-2h0m-3 3h0m2 4h0m-23 2h0m-2-10h0m-16 1h0m8 0h0m-2 1h0m-6 8h0m2 1h0m-6-10h0m-5 0h0m7 0h0m-1-2h0m-17 1h0m-3 5h0m-7-4h0m-12-3h0m-3 2h0m2 2h0m-11 1h0m10 5h0m-26-1h0m8-1h0m-3-2h0m5-5h0m-17 11h0m-21-3h0m2 0h0m-7-7h0m4 5h0m-12 2h0m-6-3h0m-19 0h0m-18 6h0m7-1h0m-11-3h0m-1 2h0m-35-8h0m2 1h0m-100 6h0m1-2h0m-2 17h0m115-10h0m8 10h0m-2 1h0m5-2h0m0-6h0m-1-3h0m24 5h0m-1 6h0m-5 0h0m4 2h0m17-9h0m-8-1h0m6-1h0m10 1h0m-1 4h0m11 3h0m4-1h0m-5-8h0m19 3h0m3 4h0m26-7h0m-3 12h0m50-5h0m14 1h0m6-2h0m21-4h0m-8 1h0m4 1h0m14 6h0m-6-3h0m2-1h0m3-3h0m-5-4h0m25 8h0m10 9h0m-6 0h0m-1 4h0m-8 1h0m-5 0h0m2-4h0m-13 1h0m-4 0h0m10 0h0m-4 1h0m-3 5h0m-9-3h0m-17 4h0m-42-7h0m-14-5h0m3 4h0m-18 8h0m-25-3h0m1-7h0m-6 0h0m-25 2h0m-15 0h0m8 1h0m-10 8h0m-16-1h0m5-8h0m5-1h0m-22-2h0m2 0h0m4 1h0m-2 1h0m2 1h0m-8 0h0m11 3h0m-17 6h0m-3-13h0m-16 6h0m6 4h0m-69-7h0m-50 9h0m-47 12h0m-8-2h0m10-8h0m11 6h0m10 4h0m45-3h0m30-3h0m10 8h0m-5-6h0m55-3h0m1-2h0m2-1h0m25 9h0m5-2h0m9 3h0m8 1h0m15 2h0m3-8h0m10-1h0m-2 1h0m-1 5h0m14-7h0m17 3h0m-6 5h0m18-4h0m7-7h0m0 5h0m2 2h0m36-1h0m2 3h0m13 2h0m-1-6h0m-9-1h0m16-4h0m7 1h0m-1 10h0m5 2h0m5-13h0m22 3h0m12 8h0m-10-1h0m10 16h0m-12 0h0m-2 0h0m-2-1h0m-9-1h0m9-3h0m-10-5h0m-8 7h0m3 2h0m-9 2h0m-1-4h0m-4-7h0m-6-2h0m-7 2h0m0 7h0m-9 3h0m-9 1h0m-4-7h0m11-6h0m-13 6h0m-10 4h0m-13-3h0m-3-3h0m10-4h0m-24 2h0m12 10h0m-27-12h0m11 0h0m-12 6h0m-1 2h0m-1 3h0m-7 2h0m-2 0h0m-22-12h0m3 1h0m-11 1h0m0 4h0m0 2h0m-2 4h0m-7-3h0m6 0h0m-10 0h0m-9 2h0m-10-1h0m-1-10h0m-18 4h0m-4 1h0m7 7h0m-20-7h0m-41-2h0m-118 1h0m0-2h0m-8 11h0m2 10h0m5 0h0m-3 1h0m-4 0h0m22-2h0m-2-3h0m8 3h0m6 2h0m20-11h0m11 2h0m34 4h0m16 6h0m19-2h0m-5-1h0m23 1h0m2-1h0m20-8h0m-5 2h0m8 5h0m1 2h0m2 1h0m11-2h0m-1-1h0m-7-1h0m-2-6h0m12 1h0m1 5h0m2 2h0m26 3h0m21 0h0m25-11h0m16 6h0m2 2h0m-7 2h0m14-9h0m18 0h0m5 11h0m14-1h0m2-9h0m12-3h0m-9 2h0m10 4h0m-11 1h0m-1 6h0m16-3h0m7-7h0m16-1h0m2 1h0m-7 0h0m-2 2h0m9 2h0m-10 3h0m15-4h0m6 0h0m3-1h0m-9-4h0m20 11h0m-2 0h0m-7 1h0m15-5h0m8-6h0m0-2h0m14 2h0m2 0h0m-8 6h0m-2 19h0m2 0h0m-2-7h0m4-5h0m-16 7h0m-7 3h0m-4-3h0m4-5h0m-17-3h0m2 3h0m2 0h0m-4 4h0m-5 6h0m-5-1h0m-12-2h0m6-5h0m1-2h0m-5-3h0m-3 4h0m-3 2h0m-21 4h0m-3-1h0m3-4h0m6-3h0m-5-1h0m-21 12h0m-4-8h0m-7-1h0m2-4h0m-3 8h0m-25 2h0m1-7h0m2-1h0m-10 1h0m1 3h0m-5 3h0m2 2h0m4 0h0m-22-1h0m-19-2h0m-18-4h0m-4 6h0m3 1h0m-33-6h0m-8 2h0m-11-4h0m-4 8h0m-33 2h0m-11-3h0m2-10h0m-33 3h0m-12 6h0m1 4h0m-28-13h0m0 2h0m-12 9h0m-1 0h0m2-4h0m2-1h0m-7-4h0m-16-2h0m-1 3h0m-4 7h0m-2-4h0m-10 1h0m0 11h0m16 9h0m5-2h0m6-2h0m-8 0h0m1-3h0m3-4h0m0-2h0m20 9h0m-6 3h0m-7 1h0m16-1h0m-2-1h0m9-11h0m14 1h0m4 2h0m-3 3h0m3 4h0m-2 1h0m-6 1h0m10-1h0m2-10h0m21 6h0m17 4h0m3-8h0m9 1h0m43 0h0m41 3h0m-5 0h0m13-2h0m18 0h0m4 2h0m-9 1h0m6 4h0m40-10h0m13-2h0m15 11h0m1-11h0m21 13h0m4-3h0m0-2h0m5-1h0m2 0h0m-9-6h0m-3 0h0m16 7h0m3 0h0m17 3h0m11-3h0m19-4h0m9 2h0m4 0h0m-2 7h0m15-3h0m-8-3h0m13-1h0m1 2h0m6 14h0m0-3h0m-6-1h0m-1-2h0m4-1h0m-7-1h0m-1 2h0m-1 2h0m1 2h0m2 2h0m-34 1h0m2 1h0m-17 3h0m3-2h0m5-3h0m-11-2h0m-13 6h0m10 1h0m-23-2h0m-1-11h0m-7 1h0m-5 5h0m4 4h0m-26-3h0m-4 4h0m-10-6h0m0-1h0m-23-2h0m8 5h0m2 0h0m-14 2h0m0-9h0m-52 1h0m7 7h0m-75 5h0m-4-5h0m-2 1h0m-23 1h0m8-1h0m1-7h0m-25 3h0m9 0h0m-14 0h0m-8-3h0m-9-1h0m6 3h0m-8 9h0m-21-11h0m-7 0h0m3 5h0m-1 4h0m-6 1h0m-3-3h0m-11-2h0m7 0h0m5-2h0m-2 0h0m-9-5h0m-4 5h0m-15 5h0m-5-6h0m-11 1h0m3 3h0m0 5h0m-5 9h0m6 0h0m-3-1h0m9-7h0m0 3h0m-2 3h0m-1 1h0m8 3h0m3 1h0m27-11h0m-11 4h0m-1 2h0m26 6h0m1-7h0m-12 0h0m18 0h0m6 7h0m15-8h0m-8-3h0m31 11h0m1-6h0m25 6h0m-4-7h0m3-4h0m11 8h0m9 3h0m-7 0h0m63-12h0m16 11h0m-6-4h0m7-3h0m-13-1h0m16 2h0m7 5h0m-1 2h0m-4 0h0m17-2h0m13 1h0m28-9h0m-6 2h0m6 0h0m70 0h0m11-4h0m7 5h0m9 1h0m16-4h0m-5 3h0m2 5h0m22-1h0m-1-4h0m-4-4h0m8 0h0m4 6h0m11 8h0m2 12h0m-6-3h0m-5-1h0m-2-1h0m-3-4h0m-11 1h0m-4 1h0m12 1h0m-26 4h0m9 0h0m-9-4h0m8-4h0m-59 4h0m-13-3h0m-5 5h0m-7 2h0m-13-6h0m-8 4h0m-7 3h0m-51-10h0m-21 4h0m2 1h0m-12 5h0m-14-12h0m-3 11h0m-10-10h0m-40 8h0m0-1h0m12-4h0m-2-3h0m-17 0h0m3 8h0m-15 4h0m-23-5h0m5 0h0m-4 4h0m-11 0h0m2-10h0m-14 3h0m-27-3h0m-4 7h0m5 4h0m-14 0h0m-22-6h0m-11 2h0m-9-2h0m2 3h0m-5 11h0m1-5h0m2-1h0m17-1h0m-6 0h0m10 13h0m3-10h0m2-1h0m21 8h0m10 0h0m3-1h0m-8-6h0m22 6h0m4-1h0m7-7h0m24 5h0m0-2h0m30-1h0m19 6h0m29-1h0m0 3h0m13-11h0m6 6h0m-4 6h0m22-1h0m-5-11h0m17 12h0m63-11h0m14 6h0m13-7h0m23 9h0m14 0h0m56 0h0m-4-2h0m7-4h0m10-3h0m-1 6h0m2 2h0m4 5h0m-10 0h0m17-4h0m-15 17h0m3-10h0m-11 8h0m-8 2h0m-54-7h0m7 3h0m-16 1h0m-6-1h0m-1-2h0m6-2h0m-31 9h0m9 0h0m-3-1h0m-10-1h0m0-4h0m10 0h0m-10-4h0m-2 6h0m-16 0h0m0-4h0m-43 5h0m1 3h0m-11-7h0m-18 0h0m-21-6h0m3 0h0m-10 2h0m4 3h0m-48 7h0m-1-3h0m-6-1h0m-22 4h0m2-10h0m-12 7h0m-26-2h0m-51 6h0m1-2h0m1-1h0m-14-7h0m2 3h0m-6 5h0m1 2h0m0 0h0m-5-8h0m-7-5h0m-12 5h0m-2 2h0m5 0h0m-5 2h0m1 2h0m2 2h0m4 13h0m-6-8h0m5-2h0m-7 0h0m16 4h0m18 6h0m2-4h0m-6 0h0m6-2h0m10-5h0m2 3h0m27-4h0m-1 2h0m20 8h0m-5-1h0m-6-1h0m6-6h0m12 5h0m8 6h0m13-8h0m14-4h0m0 2h0m13 8h0m8 1h0m11-7h0m31 7h0m3-9h0m9-2h0m7 5h0m-8 3h0m15-3h0m27 3h0m4-5h0m1-2h0m25 9h0m17-3h0m2 1h0m7-1h0m18-7h0m3 8h0m-3 4h0m9-4h0m3-7h0m-4-2h0m6 0h0m48 3h0m-12 1h0m-3 10h0m-2 4h0m-4 1h0m-7 4h0m-16-6h0m-7 1h0m4 1h0m-3 1h0m-13 1h0m-1-2h0m-4 0h0m4-2h0m-15-2h0m-2 1h0m9 3h0m-18 1h0m-7-5h0m-31 1h0m0 7h0m-22 0h0m-20-5h0m-17-3h0m-32 2h0m-11 0h0m-17 8h0m-14 0h0m-5-10h0m-21 8h0m-3-2h0m-11-2h0m-24 2h0m-4 2h0m-4 1h0m-15 1h0m10-5h0m0-4h0m-17 2h0m-10 1h0m-9-5h0m-12 2h0m-3 10h0m-4-1h0m12 14h0m0-2h0m25 4h0m2-1h0m-4-8h0m16 8h0m9 1h0m8-1h0m-4-1h0m-3-6h0m-2 0h0m4-2h0m74-3h0m3 0h0m2 6h0m11-1h0m-4-2h0m17-2h0m-4 4h0m-1 7h0m11-8h0m5-3h0m29 0h0m25 11h0m0-2h0m38 2h0m21-10h0m6-2h0m6 2h0m2 2h0m-8 6h0m27 2h0m-2-6h0m12-2h0m1 5h0m-3 0h0m-6 0h0m7 2h0m6-1h0m9-2h0m-1-2h0m6 4h0m-27 12h0m4 0h0m-4-3h0m-10-5h0m-3 10h0m-2 1h0m-16-8h0m-50 8h0m-2-2h0m10-1h0m-20-7h0m-75 1h0m4 0h0m-13-2h0m-32 7h0m7 5h0m-16-6h0m4-1h0m-22 2h0m-14-3h0m6-2h0m-8-1h0m-14 0h0m8 2h0m2 1h0m-10 3h0m-5 1h0m-9-2h0m4-1h0m-25 0h0m-10 10h0m8 2h0m0 1h0m1 3h0m6 5h0m-6 1h0m14-1h0m15 0h0m19 1h0m-4 0h0m3-6h0m-5-1h0m4-1h0m7-1h0m-2 2h0m4 2h0m33-4h0m-7 3h0m32-6h0m1 1h0m-6 3h0m11 5h0m9-7h0m8 10h0m17-8h0m8 3h0m45-4h0m11-4h0m9 2h0m4 4h0m21 5h0m32-11h0m17 2h0m6 4h0m-65 10h0m-41 4h0m-67 6h0m1-2h0m-23 3h0m4-13h0m-12 4h0m-2 4h0m0 2h0m-4 2h0m4 0h0m-18-4h0m7-6h0m0-2h0m-14 0h0m-7 6h0m-13 4h0m2 0h0m-2-2h0m5-3h0m-1-1h0m-11 0h0m-13-4h0m8 1h0m-9 9h0m7 0h0m-2 0h0m1 1h0m5 2h0m-20-1h0m-1-2h0m-13-10h0m6 0h0m-3 2h0m0 1h0m-9 2h0m-4-3h0m23 18h0m5 6h0m-2 1h0m18-2h0m-10 0h0m0-4h0m4-2h0m4-3h0m18-2h0m-9 0h0m0 5h0m6 2h0m-1 3h0m9-1h0m3-4h0m10 1h0m3 2h0m-1 3h0m7 1h0m5-2h0m2-5h0m14-4h0m2 1h0m2 5h0m-8 1h0m4 4h0m22-2h0m-7-1h0m1-2h0m-4-4h0m2-1h0m10 6h0m-1 0h0m5 1h0m-3 3h0m2 1h0m12-4h0m57-1h0m7-7h0m12 8h0m16 2h0m0-4h0m-4-2h0m13 18h0m-17-1h0m-23-8h0m-13 11h0m2 0h0m-4-5h0m-62 6h0m-9-11h0m3 5h0m-5 0h0m6 4h0m-19-1h0m-15-9h0m5 0h0m0 4h0m0 5h0m-3 3h0m-28-2h0m-3 0h0m-5-10h0m-15 5h0m21 12h0m13 8h0m25-1h0m-9-6h0m6-2h0m17-1h0m-2 0h0m-11 4h0m79 2h0m21 5h0m2-11h0m54 25h0m-21-4h0m-32-5h0m-2 1h0m-6 7h0m-3-2h0m-9-3h0m-3 5h0m11 5h0m-4 9h0m23-1h0m-4-3h0m26 6h0m16-11h0m-6 3h0m11 1h0m-7 0h0m-4 3h0m4 1h0"/>
<path vector-effect="non-scaling-stroke" stroke="#c8bcda" d="M158 -185h0m36 162h0m-44 84h0m15 2h0m1-5h0m32 8h0m12 17h0m-9-1h0m5-2h0m-21-9h0m3 2h0m-27 4h0m-31 17h0m0-4h0m8-2h0m6 5h0m-4 0h0m27-1h0m-3-7h0m8 4h0m6 8h0m14-4h0m-9-3h0m7-1h0m3-4h0m18 8h0m-1-6h0m44 9h0m-5 6h0m-46 7h0m4-6h0m-2-3h0m-6-2h0m-6 4h0m-1 9h0m-23-4h0m7-5h0m-23 7h0m-11-5h0m-15 0h0m8 3h0m-3 3h0m-18-1h0m-3-3h0m-173 14h0m136-8h0m30 1h0m6-1h0m17 9h0m15-9h0m11 1h0m0 4h0m-13 0h0m21 0h0m25 6h0m-2-6h0m12-4h0m11 7h0m-7 1h0m14-2h0m13 6h0m18-11h0m2-1h0m8 1h0m-13 12h0m-2 4h0m-15 8h0m5-1h0m7-3h0m-2-8h0m-34 4h0m-14 1h0m-17 5h0m8-4h0m-8-3h0m5-3h0m-21 9h0m-14 3h0m7 0h0m1-2h0m-3-2h0m-13 1h0m1 4h0m-24-11h0m-2 4h0m3 6h0m-297-12h0m4 23h0m12 3h0m38-7h0m211 8h0m1-3h0m3-4h0m4-1h0m-2 1h0m14 5h0m2-3h0m1-4h0m3 0h0m7-1h0m-5 0h0m3-2h0m38 3h0m-2 7h0m-1 2h0m12-9h0m25-2h0m-7 3h0m12 1h0m13 6h0m22-11h0m13 0h0m-22 16h0m-57 0h0m4 4h0m-16 5h0m-8-5h0m-43 4h0m-8-2h0m7-6h0m-245 11h0m247 5h0m-6 4h0m13 1h0m21-10h0m-2 0h0m6 0h0m-2 1h0m1 8h0m-12 0h0m15-7h0m1-2h0m15 4h0m5 6h0m-36 13h0m1-2h0m6-3h0m-14-4h0m3 2h0m1 2h0m-8 0h0m5 8h0m-18-11h0"/>
<path vector-effect="non-scaling-stroke" stroke="#ad8ee6" d="M115 -198h0m-192-10h0m69 23h0m73 2h0m-8 0h0m23-6h0m19 4h0m7-1h0m-7-2h0m20-2h0m31-3h0m-7 5h0m2 0h0m28 15h0m-13-6h0m-2 2h0m-2 0h0m4 7h0m-2 0h0m-18-3h0m-10-8h0m-1 2h0m-39 4h0m5-6h0m-35 10h0m-12-8h0m-18-2h0m-55 11h0m1-6h0m-15 4h0m6 3h0m24 9h0m3-3h0m-5-1h0m33 5h0m47-4h0m27 1h0m43 7h0m-2-6h0m15-3h0m6 2h0m20-6h0m2 7h0m2 4h0m2 5h0m-9 1h0m-34 7h0m5-1h0m7-3h0m-6-4h0m-14 2h0m-15 0h0m-110 4h0m1-5h0m-27 7h0m-13 7h0m15 6h0m-5 2h0m15 0h0m19-4h0m23 1h0m0 4h0m17-3h0m68 1h0m8 3h0m6-7h0m29 2h0m2-2h0m2-4h0m12 8h0m-2 1h0m23 12h0m-3-7h0m-4 2h0m-4 1h0m5 1h0m-21 6h0m4-1h0m-10-10h0m-1 12h0m-18-1h0m-1-11h0m-39 3h0m-35-1h0m8 5h0m-57-2h0m-17-2h0m-14 10h0m18 7h0m1 6h0m13-1h0m-5-2h0m-1-4h0m19 3h0m-11 4h0m26-2h0m8 1h0m21-7h0m55 8h0m11-11h0m4 2h0m3-1h0m21 2h0m0 7h0m35 0h0m0-4h0m-26 7h0m5 0h0m1 6h0m-24 5h0m10-4h0m-14-1h0m-31-6h0m-19 4h0m-29-2h0m-20 8h0m3-1h0m-19-1h0m-8-4h0m-38 8h0m9 0h0m-11-9h0m-11 3h0m-72-4h0m-1-2h0m66 14h0m17 0h0m26 12h0m-1-11h0m71-2h0m36 5h0m-6-4h0m27 3h0m-10 3h0m15 5h0m-3-10h0m16-2h0m-3 0h0m0 7h0m17-2h0m2 0h0m18-4h0m3 21h0m-16-3h0m-9 5h0m-4-7h0m-23 3h0m-65 0h0m-9-5h0m-13 1h0m-10 0h0m-14 8h0m8 2h0m-12-3h0m-54-9h0m12 9h0m-8 1h0m4 3h0m-112-1h0m-100-12h0m-8 16h0m7-1h0m-5 1h0m29 5h0m19 0h0m138-5h0m12 0h0m-2 2h0m4 4h0m35-7h0m-11 12h0m53-6h0m27-7h0m15 1h0m4 12h0m23-11h0m15 3h0m6 3h0m-3 3h0m12 1h0m13-3h0m2 2h0m3 2h0m11-6h0m23-2h0m-2 0h0m-6 2h0m-11 13h0m-2 1h0m5 0h0m5 6h0m-15 0h0m-19-13h0m-16 5h0m-42 0h0m-23 3h0m-23-3h0m-14 4h0m-56 1h0m-24-3h0m-86-1h0m-65-3h0m-31 21h0m4 2h0m13-7h0m8 6h0m45-2h0m28 4h0m60-13h0m136 9h0m34-5h0m41 4h0m29-7h0m13 7h0m-8-3h0m17 6h0m5 9h0m-14 4h0m-16 3h0m-29-2h0m4-1h0m-27-8h0m-19 7h0m1 4h0m-20-5h0m-15-6h0m-203 1h0m-68-1h0m-6 1h0m-15 5h0m2-5h0m-8 23h0m14-7h0m8 1h0m-4-3h0m45 0h0m69 6h0m18-7h0m2 10h0m-3 1h0m52-11h0m15 2h0m27 6h0m35-3h0m14-4h0m94 7h0m8-6h0m4 4h0m7 1h0m18 4h0m17 13h0m-6 1h0m-4-1h0m-29-7h0m-65-2h0m-158 4h0m-25-1h0m-74 5h0m-49-11h0m-25 1h0m-7 10h0m-1 10h0m3-7h0m24 7h0m19 1h0m57-8h0m3 10h0m30-7h0m-1 0h0m12-3h0m6 5h0m43 5h0m62-6h0m-9-3h0m57 4h0m50 8h0m72-13h0m12 5h0m-12 6h0m8 2h0m8-6h0m3-3h0m-15 20h0m8-10h0m-7 0h0m-7 0h0m-6 3h0m-7 7h0m-58 3h0m-10-2h0m9-9h0m-56 5h0m-202-3h0m-8-1h0m-22 9h0m-17-6h0m-22 7h0m-27-11h0m4 5h0m-3 2h0m-1 15h0m2 0h0m-4-7h0m9 3h0m11 5h0m76 1h0m21-3h0m-10-4h0m25-2h0m-9 2h0m99-4h0m86 6h0m3-1h0m-4-4h0m60 7h0m7 0h0m14-2h0m2-7h0m12 6h0m29-2h0m3 8h0m-4 0h0m-8 13h0m0 2h0m-59-9h0m4 9h0m-21-3h0m-15-6h0m4 7h0m-18-2h0m-5-6h0m-20 6h0m10-8h0m-94 4h0m-67 8h0m-100-13h0m-11 3h0m-4 0h0m9 5h0m-38 10h0m0-4h0m17 7h0m2 5h0m79-10h0m2 7h0m29-3h0m40 7h0m25-2h0m118-6h0m-6-1h0m31 8h0m1-6h0m14 1h0m13-6h0m-28 14h0m-4 1h0m-19-2h0m0 7h0m5 6h0m-173 0h0m-47-13h0m-15 3h0m5 5h0m-20-4h0m-8-1h0m0 2h0m-8 3h0m-10-1h0m-12-7h0m8 13h0m-22 0h0m8-4h0m-6 6h0m-7 2h0m0 2h0m6 0h0m-3 1h0m3 3h0m28 4h0m21-9h0m9-3h0m18 8h0m42-1h0m15-5h0m2 2h0m19 8h0m4-8h0m4 6h0m137 2h0m-2-8h0m2-3h0m3 2h0m1 5h0m-1 2h0m-1 9h0m-160 7h0m3-2h0m-10-11h0m-5 10h0m-18-1h0m6-7h0m-17 2h0m4 6h0m0 3h0m-40-4h0m-14-1h0m4-4h0m-2-4h0m-15 13h0m-21-13h0m-2 2h0m-6 0h0m9 3h0m-9 6h0m13 0h0m-17-5h0m-2-2h0m14 13h0m15-3h0m-3 4h0m-6 5h0m10 0h0m9 2h0m0-2h0m1-6h0m13-3h0m-4 6h0m32-3h0m5 4h0m-6 1h0m8 1h0m-5 3h0m19-12h0m8 10h0m21 2h0m-3-4h0m1-2h0m-2-2h0m9 8h0m192-11h0m-95 17h0m-98 1h0m0-4h0m3 0h0m-10 3h0m-2 0h0m-4 0h0m7 9h0m-15 0h0m-4-2h0m-1-6h0m-8-1h0m-20 7h0m5-4h0m-9-1h0m-11-2h0m9 3h0m-18-2h0m0-5h0m8 19h0m11 7h0m244-12h0m-104 18h0m45 13h0m-44 15h0m11-2h0m-41-1h0"/>
<path vector-effect="non-scaling-stroke" stroke="#d3d3d3" d="M-9 -232h0m0 2h0m-5 1h0m9 3h0m14 2h0m-142 37h0m26-5h0m69 7h0m117 2h0m1-8h0m78 1h0m-42 11h0m-266 23h0m76-6h0m25-6h0m19 11h0m39 1h0m16-5h0m68 6h0m68-10h0m-31 14h0m2 6h0m-10-5h0m-15-4h0m-171 1h0m-33 3h0m70 11h0m16 12h0m1-4h0m2-1h0m31 2h0m-6-9h0m12 2h0m113 10h0m58 8h0m-38-2h0m-50 6h0m13-6h0m-14-3h0m-37 10h0m-28-10h0m-22-2h0m-23 8h0m-36-7h0m-42 6h0m-3 20h0m216-1h0m6-11h0m3 26h0m-54-2h0m-61-9h0m-22 1h0m-86-3h0m-47 0h0m6 24h0m9-7h0m299 12h0m-91 12h0m-25-9h0m-37 5h0m-20 1h0m-4-7h0m-51 4h0m-21-4h0m-1 5h0m-16 2h0m-100-9h0m5 4h0m-11 8h0m-37 9h0m35-6h0m34 1h0m29-3h0m125 13h0m153-1h0m-154 14h0m1-8h0m-92-2h0m-64 9h0m-52-6h0m3 22h0m53-10h0m15-2h0m55 7h0m45 4h0m64-7h0m12 1h0m4 0h0m47-3h0m77 10h0m31 0h0m-13 14h0m-197-13h0m-43 0h0m-137 9h0m-19-7h0m-15 4h0m-2 0h0m0 21h0m47 0h0m12 0h0m131-4h0m54-1h0m14-1h0m148 4h0m15-1h0m8 15h0m-21-3h0m-111 3h0m-35-9h0m-49-2h0m8 5h0m-176-5h0m52 17h0m-2 5h0m-4 2h0m115-7h0m14-2h0m89 4h0m44 6h0m77 0h0m6 1h0m-22 2h0m-382 3h0m75 19h0m125 0h0m100 5h0m40-4h0m6 1h0m10-2h0m38-6h0m9 23h0m-11 1h0m9-1h0m-6-1h0m-15-2h0m4 1h0m2 0h0m-9 4h0m-3-4h0m-1-2h0m-18 2h0m-3 3h0m-8-5h0m-13 6h0m-217-13h0m-10 13h0m-34-3h0m-6-6h0m-54 0h0m-18-4h0m11 14h0m1 1h0m1 10h0m58-6h0m24 2h0m189 0h0m29-3h0m26 2h0m-4 0h0m-4-2h0m12 3h0m0 4h0m5 1h0m8-8h0m14 2h0m8 2h0m9-1h0m17-7h0m5 1h0m-6 1h0m7 6h0m-13 0h0m11 2h0m-4 1h0m6 1h0m34-6h0m3 10h0m3 0h0m-2 1h0m-31 8h0m-19-6h0m12-1h0m-13-1h0m0-2h0m-2 1h0m1 3h0m-2 1h0m-6 5h0m-13-6h0m-18 2h0m11 0h0m-9 1h0m-5 5h0m-7-1h0m-2-2h0m-3 0h0m9-5h0m-5-3h0m-1-2h0m2 0h0m-10 0h0m-1 6h0m-8 3h0m6 1h0m-22 0h0m-5 1h0m3 1h0m-33-10h0m4 4h0m-66-6h0m-10 2h0m2-2h0m-2 0h0m-30 4h0m-74 8h0m-5-9h0m-20 2h0m-42 5h0m2-5h0m-11-2h0m2 5h0m-4 2h0m5 1h0m1 1h0m-2 1h0m-12-12h0m-38 14h0m6 8h0m16-1h0m18 1h0m13 4h0m7-1h0m160-12h0m110 12h0m5-5h0m3-1h0m1 2h0m19-3h0m-4-4h0m17 2h0m6 0h0m-13 4h0m17 5h0m-2-11h0m21 3h0m0 2h0m-6 7h0m14 0h0m10-2h0m-10-2h0m2-2h0m0-3h0m-3-1h0m11-2h0m13 2h0m-2 7h0m-4 1h0m-5 1h0m7 1h0m9-13h0m20 9h0m15 4h0m1-6h0m-2-1h0m-6-1h0m17 0h0m4 1h0m-23 10h0m7 1h0m-7 3h0m3 0h0m2 6h0m-7-2h0m-7-1h0m3-1h0m2-1h0m1-3h0m-9-3h0m11-1h0m-15 0h0m1 3h0m0 6h0m-3 2h0m1 2h0m-12 0h0m-2 0h0m-9-9h0m-2 0h0m9-4h0m-14 7h0m-3 2h0m-5 3h0m-14 0h0m12-1h0m-5-4h0m-3-7h0m8 0h0m-23 3h0m-2 2h0m-1 2h0m8 2h0m-7 0h0m7 3h0m-21 0h0m7-4h0m-2 0h0m-1-5h0m-18 1h0m0 2h0m9 1h0m-11 1h0m12 1h0m-7 2h0m-10 2h0m-9 0h0m5-1h0m-2-1h0m-6-11h0m-73 6h0m1-6h0m-44 6h0m-113 0h0m6 2h0m-48-2h0m0-2h0m-3-2h0m-6 3h0m-10 2h0m2 0h0m55 19h0m14-1h0m2 1h0m19-6h0m8 4h0m65 3h0m107-9h0m-2 0h0m-5 4h0m0 2h0m7 3h0m19-3h0m-3-2h0m-2-2h0m2-1h0m0-4h0m9-1h0m1 2h0m-3 2h0m2 0h0m3 1h0m-3 1h0m19 6h0m-4-1h0m-2 0h0m5-9h0m11 3h0m5 2h0m-1 2h0m-9 3h0m14-9h0m11-3h0m-3 0h0m9 5h0m10 5h0m11 1h0m1-2h0m-9 0h0m5-8h0m18 1h0m7 11h0m1-2h0m-3-3h0m10-2h0m-11-2h0m6-4h0m8 0h0m2 1h0m-18 13h0m-54 5h0m8 2h0m-2 0h0m-5 4h0m0 2h0m-15-2h0m7-1h0m-3-1h0m7-1h0m1-2h0m-11-4h0m-2 0h0m-2 0h0m-9 4h0m2 1h0m-2 1h0m9 1h0m-2 1h0m-14-5h0m-2 0h0m1-2h0m-18-3h0m-12 9h0m2-2h0m-8-1h0m-4-3h0m-2 2h0m-170-3h0m-10 9h0m-2-2h0m-27-5h0m-10-2h0m-1-2h0m-28 2h0m20 17h0m35 1h0m-1-2h0m159-1h0m53-1h0m-13 1h0m12 1h0m-9 2h0m2 1h0m5 3h0m-7 1h0m16 2h0m-5-1h0m5-1h0m0-2h0m3-4h0m0-2h0m-3 0h0m10 4h0m3 1h0m0 3h0m11 2h0m4-1h0m3-7h0m3-2h0m-5-2h0m3-1h0m10 4h0m1 2h0m10 2h0m-2-1h0m3-3h0m6 0h0m-1-4h0m-33 14h0m-17 11h0m4-2h0m5-2h0m4-5h0m-27 7h0m10 2h0m-13 2h0m2-6h0m0-2h0m-2-4h0m-63 11h0m-62 3h0m11 3h0m3 4h0"/>
<path vector-effect="non-scaling-stroke" stroke="#522dfb" d="M2 -226h0m-95 10h0m7-3h0m5 2h0m8 5h0m8 1h0m-2-1h0m36-3h0m16-1h0m-7 0h0m10 4h0m-2-2h0m5-5h0m6 0h0m-11-5h0m142 25h0m-2 2h0m-149-12h0m-15 9h0m-7 3h0m-7-1h0m4-2h0m-8 0h0m4 0h0m4-3h0m-5-1h0m5 0h0m5-1h0m-26-1h0m5 2h0m-2 3h0m-7 4h0m2-2h0m-11 0h0m2 0h0m7-2h0m1-2h0m-26 1h0m1 3h0m-5-1h0m1-2h0m0-2h0m2-4h0m-19 11h0m-10 4h0m0 5h0m3 3h0m9-6h0m-5-5h0m22 3h0m-3 5h0m-1 2h0m-2 1h0m20-3h0m-2-2h0m2-3h0m-4 0h0m10-3h0m7 1h0m0 2h0m-7 2h0m1 2h0m-4 1h0m9 0h0m-6 1h0m3 2h0m5 0h0m-3 1h0m-5 0h0m12-5h0m0-2h0m6-3h0m-3 0h0m-1-1h0m13 11h0m12-7h0m-2-2h0m0-2h0m32 10h0m93-9h0m18 4h0m40-6h0m-65 26h0m-113-9h0m7 4h0m-24 4h0m3-6h0m-1-2h0m-2 0h0m-2 0h0m-3-3h0m-2 2h0m-6 2h0m4 0h0m1 2h0m-8 1h0m0 3h0m0 2h0m-11-4h0m9 0h0m-6-1h0m-2-7h0m-5 0h0m-6 0h0m-6 2h0m7 1h0m2 3h0m-5 4h0m-8-1h0m-32 2h0m-7 0h0m5 0h0m-3-1h0m10-1h0m-19 14h0m17-9h0m-9 5h0m12 4h0m-7 3h0m8 0h0m1-1h0m32-4h0m13-5h0m5 1h0m1 5h0m1 2h0m-7 3h0m6 0h0m-2 0h0m6-6h0m2-3h0m21 2h0m-3 2h0m1 2h0m-4 1h0m0 1h0m7 1h0m-8 0h0m46-8h0m35-1h0m21-3h0m20 7h0m58-4h0m3-3h0m5 24h0m-70 2h0m-61 0h0m-2-12h0m-56 10h0m2-3h0m1 0h0m3-2h0m-5-2h0m2-3h0m-1-1h0m-6 3h0m-2 2h0m-5 0h0m6 3h0m-11 5h0m-2-2h0m-1-2h0m2-2h0m-1-2h0m-6-1h0m-15-1h0m1 2h0m-4 4h0m7 1h0m-6 2h0m-2 1h0m-6-11h0m-1-1h0m-9 0h0m-12 4h0m2 2h0m4 2h0m-8-4h0m-10-3h0m5-2h0m-9 24h0m10 2h0m5 0h0m3-2h0m-1-2h0m22-6h0m4 3h0m7 4h0m1-2h0m16-3h0m2 0h0m1 1h0m-3 1h0m-2 6h0m-6 1h0m22-2h0m-7-1h0m-2 0h0m13-2h0m-5 0h0m3-5h0m7 0h0m2 1h0m0 2h0m-2 2h0m2 1h0m29-1h0m29 2h0m19-8h0m53 11h0m32-11h0m-54 25h0m-10-6h0m-69 6h0m-1-2h0m-2-10h0m-13 2h0m-13 6h0m-4-3h0m0-4h0m-11 0h0m5 1h0m-4 1h0m-5 2h0m-8 3h0m-2-2h0m4 0h0m-5-3h0m-7 2h0m-10 3h0m5 3h0m-33-11h0m4 0h0m-4 2h0m8 5h0m-7 1h0m7 1h0m-12-6h0m0-1h0m-4-3h0m-9 1h0m-1 19h0m1-2h0m18 8h0m37 1h0m-10-1h0m1-3h0m11-3h0m10-4h0m-4 6h0m2 3h0m-4 1h0m13-1h0m11-9h0m2-1h0m2 1h0m-2 2h0m7 2h0m2 2h0m11 4h0m-5-9h0m2-2h0m13 8h0m30 0h0m42-8h0m13 1h0m29 10h0m12 8h0m-12 3h0m-3-2h0m-14-7h0m-84 7h0m-71 5h0m-1-3h0m8-6h0m-2 0h0m7-2h0m-26 0h0m9 0h0m3 1h0m-11 3h0m8 0h0m-7 0h0m0 2h0m3 5h0m-21-7h0m-2 4h0m-18 3h0m-1-3h0m0-4h0m-7-3h0m-6 2h0m2 2h0m4 2h0m-22 5h0m-12 9h0m7-6h0m18-2h0m35 11h0m-7-5h0m22-6h0m-6 4h0m-4 7h0m5 1h0m14-2h0m6-6h0m2 7h0m17-9h0m10 7h0m44-9h0m18 4h0m17-1h0m54-2h0m67 4h0m16 7h0m17-5h0m-39 8h0m-5 2h0m-5 4h0m-13-2h0m-37 2h0m-58-4h0m-34 1h0m-35 8h0m-16-10h0m6 7h0m-3 1h0m-4 1h0m-15 2h0m-3 0h0m1-3h0m4-6h0m-7-2h0m-18 10h0m-3-2h0m3-2h0m0-2h0m-16-4h0m-3 1h0m6 1h0m3 0h0m-1 5h0m-6 0h0m-18-8h0m7 0h0m-40 11h0m-32-5h0m15 11h0m13 4h0m27 4h0m18-4h0m8 5h0m2-7h0m1-3h0m16-1h0m1 2h0m-4 0h0m3 1h0m-1 1h0m5 2h0m-3 1h0m2 4h0m7-3h0m-2-2h0m5-1h0m2-7h0m11 12h0m8 0h0m6-4h0m-4-1h0m3 0h0m1-2h0m3-2h0m19 9h0m43-12h0m52 9h0m-8-5h0m23 2h0m8 5h0m39-11h0m25 9h0m41 8h0m-68 2h0m-7-4h0m-96 5h0m-13-3h0m-49 10h0m-2-2h0m4-4h0m6-7h0m-23 1h0m0 2h0m-1 7h0m-8 3h0m5-1h0m-10-7h0m3-5h0m-15 3h0m-29 3h0m4 3h0m-1 2h0m-1 2h0m-85-4h0m-19 10h0m34 4h0m-2 4h0m11-4h0m30 4h0m38 0h0m0-9h0m13 1h0m18-5h0m5 5h0m12 5h0m5-5h0m10 2h0m-6 3h0m41-5h0m20-3h0m3 1h0m-6 3h0m6 2h0m17 3h0m29-2h0m59-9h0m10 7h0m61 5h0m17 11h0m-45-2h0m-18-4h0m-92 10h0m-32-4h0m-5-2h0m-6-2h0m9-2h0m-26 2h0m-6 3h0m5-4h0m-18-3h0m2 11h0m-13-4h0m-12-4h0m3 0h0m8-4h0m-18 6h0m-11 2h0m-13 3h0m-92-10h0m-2 3h0m5 2h0m-2 4h0m-7 0h0m-4-8h0m-17-1h0m-20-1h0m12 22h0m23-3h0m7 3h0m14 5h0m22-10h0m8-3h0m56 6h0m41-1h0m13 4h0m-5-1h0m6-7h0m12 3h0m-10 2h0m9 3h0m10 4h0m6-7h0m6-4h0m0 5h0m7 0h0m-5 6h0m13-12h0m29 5h0m142 5h0m19-7h0m-28 19h0m-101-2h0m-33-6h0m-13 2h0m-31 1h0m3-3h0m-33 5h0m2 0h0m-43 6h0m-22 0h0m-87 5h0m39 6h0m38 2h0m24-4h0m35-5h0m15 8h0m1 2h0m17 1h0m16-8h0m-4 6h0m26-4h0m37-5h0m7 7h0m61 11h0m-70-3h0m-2-2h0m-40 0h0m-14 6h0m-9-5h0m-12 1h0m-11 6h0m-1-7h0m-6-2h0m-70 4h0m-21-3h0m-11 4h0m-7-3h0m7 0h0m-25 1h0m-8-3h0m-31 12h0m-7 6h0m26-1h0m32 0h0m8-3h0m19 10h0m36 3h0m38-4h0m15-8h0m8 1h0m-5 2h0m7 9h0m28 0h0m14-1h0m6 1h0m24-2h0m57-7h0m1-3h0m-61 14h0m-19 12h0m-22-1h0m-1-7h0m-28 0h0m-2-2h0m5-1h0m-17 6h0m-1 3h0m-69 1h0m3-1h0m-72-8h0m-35 11h0m18 10h0m8-4h0m74-3h0m12 0h0m64 8h0m-5-8h0m9 8h0m14-8h0m45 22h0m-25-9h0m-5 0h0m-11 0h0m-3 5h0m8 3h0m-10-4h0m-1-5h0m-23 1h0m-1 9h0m-150-8h0m75 12h0m81 12h0m26-10h0m20 5h0m25 0h0m-3 18h0m6-1h0m-8-9h0m-31 2h0m6-1h0m-39-1h0m-2 1h0m-2 7h0m3 13h0m3-5h0m-2-3h0m10 1h0m-5 5h0m4 1h0m5 3h0m9-3h0m26 4h0m7-8h0m0-2h0m-3-2h0m22 7h0m-1 12h0m3 6h0m-2 2h0m-12-7h0m-14-4h0m-4-1h0m-25 0h0m-26 2h0m7 19h0m26 4h0m50-11h0m-38 17h0m-16 3h0m-2 5h0m-20-12h0m-8 27h0m-1-8h0m0-2h0m15 2h0m16-2h0m32 9h0m4 0h0m14-11h0m-5 3h0m0 3h0m-8 1h0m6 4h0m10-4h0m-18 7h0m-8 3h0m-22-3h0m2 1h0m-1 4h0"/>
<path vector-effect="non-scaling-stroke" stroke="#7248f6" d="M0 -225h0m-7-5h0m-107 19h0m13-2h0m8 2h0m2 0h0m-2 0h0m2-4h0m-4-1h0m7-3h0m14-1h0m-10 1h0m4 6h0m11 2h0m42-10h0m6 5h0m5 2h0m-7 1h0m15-8h0m-4 0h0m9-2h0m5-1h0m118 27h0m5-4h0m-2-1h0m-182-8h0m-2 3h0m2 0h0m0 3h0m-7 4h0m6 0h0m-9 1h0m9 1h0m-6 0h0m-4 1h0m13 0h0m-17-2h0m-8-2h0m5-1h0m-12-6h0m-1 7h0m-1 4h0m-18 0h0m9-2h0m0-5h0m-8 0h0m3-1h0m3-1h0m-20 3h0m3 4h0m-5 1h0m8 0h0m-12 7h0m-1 1h0m-10 3h0m4 0h0m4 2h0m5 0h0m0-5h0m6-4h0m-3-2h0m11 6h0m27-1h0m-3-4h0m-5-1h0m17 0h0m-3 1h0m8 8h0m-11 1h0m7 3h0m18-10h0m-4 0h0m17 1h0m20 3h0m-3 2h0m24 0h0m-1-4h0m52 5h0m-4-3h0m15-4h0m0 2h0m-2 1h0m0 4h0m32-5h0m6 8h0m3 0h0m16-8h0m6 5h0m11-2h0m-3-2h0m6-1h0m2 0h0m-6-3h0m46 25h0m-33-6h0m-2-4h0m7-2h0m-17 12h0m-18-3h0m-12-10h0m1 6h0m0 7h0m-5 0h0m-11-1h0m-3-11h0m-2 0h0m-4 1h0m0 8h0m-6 3h0m-35-4h0m-6-6h0m-35-1h0m-9 9h0m-7-9h0m-14 2h0m-2 8h0m-19-3h0m-10-1h0m5 1h0m-3 2h0m-20 1h0m5-2h0m6-9h0m-25-1h0m3 4h0m3 1h0m7 5h0m-10 0h0m4 0h0m-4 2h0m8 0h0m-12-3h0m-17-8h0m-3 1h0m6 2h0m-13 9h0m-11-2h0m9 0h0m-13-7h0m-1 18h0m-4-1h0m-2-1h0m7-4h0m7-2h0m-4 3h0m3 2h0m5 6h0m14 2h0m0-1h0m2 0h0m-12-2h0m21-10h0m1 6h0m-7 1h0m6 0h0m-7 3h0m6 3h0m19-6h0m-11-1h0m12-1h0m-8-3h0m2 0h0m3-1h0m14-1h0m-7 5h0m0 7h0m12 0h0m17-11h0m3 1h0m-1 0h0m0 10h0m21 1h0m0-11h0m-4 0h0m18 7h0m19-2h0m9 3h0m7 2h0m-5-4h0m2-2h0m13 5h0m18-7h0m25 5h0m3-6h0m6-3h0m-2 0h0m12 13h0m-5 0h0m14-6h0m23-5h0m-6 11h0m20-5h0m-9-2h0m4-1h0m11-3h0m22 3h0m0-5h0m5 1h0m8 1h0m-3 3h0m-5 1h0m13 19h0m-2 2h0m-2-4h0m-5 0h0m-25-7h0m-21-1h0m9 3h0m2 2h0m-9 7h0m-9-1h0m-5-8h0m-10 0h0m0 9h0m-12-9h0m-20 1h0m-18 3h0m1-4h0m2-1h0m-45 1h0m5 7h0m-8 0h0m1-4h0m-23-7h0m6 0h0m4 5h0m-11 6h0m4 2h0m-15-5h0m-18-6h0m-14 11h0m4-3h0m0 0h0m-4-3h0m4-1h0m3-2h0m-6-3h0m-4 0h0m-2 12h0m-22 0h0m2-1h0m9-3h0m-3-7h0m-17 1h0m2 3h0m-3 4h0m-10 3h0m0-2h0m-2 0h0m-4-1h0m2-6h0m-12-4h0m5 4h0m-5 6h0m2 1h0m-2 1h0m-10-9h0m-24-3h0m8 4h0m-8 2h0m14 12h0m10 2h0m-10 6h0m-2 1h0m21-2h0m-2-4h0m5-2h0m15-4h0m2 5h0m-2 7h0m7-1h0m9-7h0m-6-2h0m2-3h0m17 1h0m0 2h0m-12 4h0m17 5h0m10-4h0m-13-7h0m13-1h0m7 1h0m16 2h0m2-2h0m17 1h0m-12 4h0m8 1h0m3 4h0m7-7h0m15 2h0m-2 5h0m11 2h0m4-3h0m-4-5h0m7-1h0m18 7h0m9-2h0m19-7h0m0 2h0m-3 8h0m5 1h0m9-4h0m0-4h0m-3 0h0m-6-4h0m26 1h0m-4 6h0m24-4h0m42 1h0m30 12h0m-17 4h0m-31-6h0m-11 1h0m4 6h0m-2 4h0m-8 1h0m0-8h0m-1-4h0m-19-1h0m-14 4h0m-24 5h0m-24-8h0m-20 4h0m-2 3h0m-10 0h0m-8-4h0m-6-4h0m2 3h0m-10 0h0m12 1h0m-25-1h0m-29 6h0m5-2h0m7 0h0m-13-3h0m-9-4h0m-13 9h0m4 0h0m3-5h0m-11 0h0m4-4h0m3 0h0m-17 0h0m-5 5h0m1 6h0m-3-7h0m-16-2h0m-4 4h0m-1 2h0m0 3h0m6 1h0m-18-3h0m1-1h0m-5 0h0m-3-6h0m11 12h0m-2 4h0m-8 4h0m14-1h0m3-1h0m-5-1h0m6-1h0m15 5h0m10 2h0m8-5h0m0-2h0m12-4h0m-5 1h0m5 2h0m-6 3h0m10 7h0m7 0h0m18-13h0m-9 1h0m3 3h0m2 0h0m3 1h0m3 1h0m-1 0h0m-3 3h0m-1 2h0m23-7h0m-1 3h0m10 1h0m-10 3h0m13-6h0m20 8h0m29-11h0m-5 6h0m20 4h0m5-5h0m10 5h0m21-10h0m2 4h0m46 6h0m5-1h0m11 0h0m26-9h0m-5 6h0m38 0h0m-13 16h0m-36-10h0m-3 3h0m-20-2h0m-2 2h0m-37 10h0m-31-13h0m-22 3h0m-13 7h0m-1-2h0m-9 4h0m-23-9h0m-10 2h0m-7 7h0m3-4h0m-27-3h0m8 3h0m-19 5h0m4-4h0m-16-8h0m0 3h0m-14 8h0m-3-7h0m8 0h0m0-1h0m-6-2h0m-2-2h0m-3 1h0m-9 0h0m2 1h0m0 2h0m-6 1h0m3 2h0m9 5h0m-14 0h0m-5-9h0m-7-2h0m12-1h0m-20 0h0m-1 3h0m2 0h0m2 0h0m0 2h0m-2 4h0m6 0h0m-15-1h0m-11-4h0m-56 18h0m2 2h0m10 2h0m5-4h0m9-8h0m3 2h0m3 1h0m-2 5h0m30-8h0m10 13h0m6 0h0m-3-1h0m3-9h0m-4-1h0m19-1h0m-2 0h0m-5 0h0m26 10h0m-9-4h0m3 0h0m-4-6h0m9-1h0m3 4h0m3 3h0m0 4h0m18-5h0m1-5h0m-3-1h0m13 4h0m4 6h0m30-6h0m-6 4h0m6 4h0m17-6h0m12 7h0m15-10h0m4 0h0m32 2h0m4 3h0m-2 5h0m16-2h0m-6-1h0m7-9h0m11 0h0m-6 8h0m-3 0h0m17 4h0m16-12h0m11 10h0m23-5h0m-11 1h0m1 4h0m27 2h0m21-10h0m11 22h0m-41 2h0m-4 0h0m-9-1h0m-13-7h0m-2 4h0m8 2h0m-28-7h0m-9 4h0m5 4h0m-10-1h0m0-7h0m-25-4h0m1 2h0m10 4h0m0 3h0m-8 0h0m-11-8h0m-17 7h0m0 2h0m7 3h0m-6 0h0m-14-2h0m-25 1h0m-6-2h0m9-3h0m-16 5h0m-14 1h0m-23-11h0m12 0h0m-8 5h0m-11 1h0m4 0h0m-9-6h0m-8 1h0m0 2h0m-4 2h0m-14 5h0m1-1h0m2-2h0m0-4h0m-6 0h0m-3 6h0m-2 0h0m-6 1h0m4 0h0m-4 1h0m-7-2h0m-10-1h0m11-3h0m-13-3h0m4-4h0m-6 6h0m-6 0h0m7 2h0m-4 0h0m-7 4h0m-6 1h0m0-4h0m-38-1h0m6-2h0m-16 2h0m7 4h0m-18 0h0m-5 0h0m-9-9h0m-15 6h0m7-5h0m-12 15h0m11 8h0m10-5h0m5-4h0m11 2h0m1 6h0m4-3h0m4-3h0m-5-1h0m17 4h0m14 3h0m9-2h0m9-1h0m16 2h0m-3-6h0m-5-1h0m7-1h0m13 1h0m-2 0h0m-1 6h0m9 2h0m-10 1h0m21-8h0m-2-2h0m-2-1h0m15-2h0m-2 0h0m-1 5h0m-3 2h0m8 1h0m-5 4h0m22 1h0m0-1h0m-3-4h0m-2-3h0m11 0h0m14-1h0m25 6h0m4-7h0m48-1h0m-8 1h0m23 8h0m1-2h0m-8-4h0m0-1h0m11 5h0m10 3h0m12 0h0m-9-2h0m6-3h0m17-6h0m32 11h0m9-1h0m3-2h0m10-1h0m5 5h0m10-9h0m0-2h0m24 11h0m4 5h0m-34-1h0m-7 10h0m-32-7h0m-14 2h0m-7 5h0m-4-13h0m-28 4h0m-5 0h0m-31-3h0m-9 4h0m-1 4h0m-15 3h0m-2-11h0m-16 1h0m10 3h0m1 3h0m-4 5h0m-31-13h0m7 1h0m-10 4h0m3 3h0m-8 5h0m-18-11h0m2 5h0m-1 2h0m-19 2h0m8 0h0m-6-2h0m8 0h0m-9-5h0m-10-4h0m4 3h0m-8 1h0m-3 8h0m-14-2h0m2 0h0m5-1h0m-6-9h0m8 0h0m-5 0h0m-5 9h0m-1 0h0m-24-6h0m7-1h0m-3-1h0m-4 0h0m-12-1h0m1 3h0m1 7h0m0 3h0m-7 0h0m-5-7h0m-19 5h0m-15-4h0m-9-4h0m-6 2h0m10 8h0m-25-4h0m0-6h0m-4 23h0m41-10h0m-1 8h0m5 1h0m-5 1h0m13 1h0m1-2h0m-2 0h0m2-6h0m9-5h0m11 5h0m31-3h0m19 0h0m-1 10h0m-6 0h0m51 1h0m0-2h0m-10-6h0m11-2h0m2 0h0m-5 0h0m-4-2h0m17 2h0m-3 1h0m3 1h0m0 6h0m6 2h0m1-2h0m2-1h0m2-9h0m11 6h0m25 6h0m-4-3h0m-5-4h0m1-2h0m9-2h0m-2-1h0m4 2h0m5 1h0m5 1h0m-4 1h0m-4 6h0m23-7h0m-1-3h0m4 7h0m16-1h0m11 0h0m2 4h0m27-12h0m21 8h0m1-2h0m-4-2h0m24 9h0m2-2h0m-2-1h0m16-4h0m-2 2h0m10 2h0m40-7h0m14 19h0m-50-5h0m-1 2h0m0 6h0m-13-2h0m3-3h0m0-6h0m-13 13h0m-92 0h0m-7 0h0m1-3h0m-3-3h0m10-3h0m-26-4h0m2 0h0m4 8h0m-2 1h0m3 2h0m-18-1h0m-19 0h0m-4-3h0m-1-3h0m0-3h0m4 0h0m-19-1h0m-2 5h0m-3 2h0m9 4h0m-14 0h0m-18-10h0m6 1h0m-11 5h0m6 1h0m-30-3h0m2 2h0m-16 1h0m-2-1h0m7-7h0m-17 12h0m-26-3h0m-5 4h0m-9-4h0m1-2h0m-24-6h0m7 2h0m-8 7h0m-9-4h0m-1-2h0m4 0h0m-31 6h0m8-1h0m-2-9h0m-12 20h0m8 2h0m16-3h0m-5-1h0m18-4h0m4 1h0m-4 0h0m-4 3h0m-2 7h0m21 2h0m1-2h0m-3 0h0m5-3h0m2-5h0m-13-3h0m3 0h0m35 1h0m31 2h0m14 5h0m-13 3h0m20-4h0m13 4h0m34-8h0m0 2h0m15 3h0m-6-2h0m-6-3h0m5-2h0m4 0h0m-4-1h0m10 9h0m2 1h0m13 1h0m8-2h0m-2-2h0m-2-7h0m12 9h0m37-5h0m-8 1h0m8 3h0m-10 4h0m14 0h0m2-1h0m88-10h0m7 3h0m24 7h0m-5-3h0m2-1h0m5-6h0m31 12h0m14-8h0m-31 12h0m12 8h0m-21-11h0m-65 6h0m-77 2h0m-6-6h0m-7 9h0m6 2h0m-23-10h0m7-3h0m4 0h0m-14 0h0m-2 1h0m2 1h0m-5 4h0m3 1h0m-3 1h0m0 2h0m-7 3h0m-14 0h0m4 0h0m9-3h0m-21-9h0m6 1h0m-10 1h0m10 1h0m-11 6h0m-9-5h0m-19-3h0m-15 10h0m0-1h0m4-4h0m-3-4h0m11-1h0m-14 9h0m-39-1h0m-9-4h0m2 0h0m-2-2h0m-16 9h0m-14-8h0m-9 1h0m-8 4h0m-3-8h0m-20 2h0m-28 5h0m27 18h0m8-10h0m5-3h0m7 12h0m-2 1h0m8 0h0m2-2h0m-1 0h0m-1-2h0m7-2h0m-10 0h0m6-3h0m4-1h0m3-2h0m41 4h0m4 1h0m46 5h0m-1 2h0m10-4h0m36 0h0m-2-4h0m5-3h0m-3 0h0m-6-1h0m11 0h0m7 1h0m3 2h0m-7 4h0m21 1h0m-1-2h0m-3-2h0m9-5h0m0 7h0m12 4h0m2-1h0m9-5h0m-8-5h0m12 6h0m52 7h0m-6-10h0m13 10h0m18-10h0m-7 0h0m7-2h0m28 10h0m39-11h0m19 0h0m-70 25h0m-9-7h0m4-3h0m7-1h0m-36 1h0m-16-1h0m2 0h0m1 13h0m-5-11h0m-53 0h0m10 11h0m-19-10h0m0-3h0m-28 11h0m-4-5h0m5-6h0m2 0h0m-19 1h0m2 1h0m-32 2h0m-12 8h0m-3-4h0m0-2h0m-12 4h0m9 2h0m-21-7h0m1-5h0m4 0h0m-17 8h0m-17-2h0m-25 4h0m-18-8h0m-13 3h0m7-4h0m-14 4h0m-8 0h0m4 3h0m-27 5h0m4 4h0m2-2h0m20 7h0m11-3h0m16 6h0m-3-3h0m13-4h0m-1 7h0m-1 2h0m26-7h0m-3-6h0m5 0h0m1 2h0m-1 4h0m9 2h0m2 3h0m15-3h0m12-1h0m-10 3h0m17-2h0m14-1h0m-3 4h0m41 0h0m21-7h0m-6 3h0m11 6h0m13 0h0m3-2h0m-3-4h0m-3-5h0m15 0h0m0 2h0m-6 5h0m1 4h0m14-2h0m10-4h0m-8-1h0m50 7h0m17-11h0m10 1h0m-2 2h0m2 8h0m11-7h0m30 6h0m-6 3h0m3 8h0m-30-6h0m0 3h0m-11 6h0m-3-1h0m-19-11h0m-43 8h0m1-7h0m-5 2h0m-8 10h0m-6 0h0m-8-13h0m-7 4h0m-14 8h0m-9-4h0m6-1h0m0-2h0m-8-1h0m-6 2h0m-6 4h0m9 2h0m-46-5h0m-4-2h0m-3-4h0m-7 1h0m8 1h0m-41 4h0m-11 4h0m1-2h0m-9-3h0m-9 5h0m-1-3h0m-13-7h0m-13 3h0m6 2h0m-3 3h0m0 2h0m-7-2h0m-10-4h0m12-1h0m-20 8h0m-28 15h0m47 0h0m12-3h0m-3 0h0m0-8h0m24 6h0m5-4h0m7-4h0m2 6h0m-3 6h0m43-4h0m3-7h0m30 4h0m22 8h0m11-9h0m-3-4h0m8 1h0m8 1h0m-4 7h0m7 2h0m-13 2h0m4 0h0m10-8h0m25 6h0m-3 2h0m8-1h0m0-2h0m41-2h0m15 0h0m0-2h0m33 2h0m-74 9h0m-2 0h0m2-2h0m-13 11h0m-16-3h0m1-9h0m-13 4h0m7 0h0m-8 3h0m9 0h0m-23 4h0m-7-10h0m-2 0h0m-1 4h0m0 6h0m-54-8h0m-9 6h0m-3-3h0m0-2h0m-32 6h0m-9-5h0m-3 1h0m-7 3h0m0 4h0m-8 0h0m-6 0h0m6-3h0m4-1h0m-1-7h0m-12-2h0m-10 1h0m9 5h0m-10 0h0m-45 15h0m55-7h0m2 6h0m19-6h0m10 2h0m13 5h0m21-4h0m-4 0h0m22 6h0m57 3h0m14-5h0m13-4h0m3 2h0m1 5h0m4 3h0m17 0h0m-8-11h0m16 0h0m8 3h0m1 4h0m4 6h0m-9 9h0m0-2h0m-14-2h0m-6 3h0m9 0h0m4 4h0m-23-1h0m1-5h0m0-4h0m2-2h0m-17-1h0m2 11h0m-10-7h0m-12-4h0m-8 4h0m-5 6h0m-69-7h0m-6 8h0m-35-6h0m-8 7h0m-5-4h0m8-1h0m-19-2h0m-2 0h0m4 8h0m-21-9h0m77 17h0m30-7h0m56 13h0m1-9h0m-7-4h0m19 8h0m13 2h0m6-1h0m-3-6h0m9 5h0m2 3h0m6 0h0m-8 1h0m22-6h0m-9-1h0m-1-2h0m5-1h0m-7-2h0m21 4h0m6 6h0m0-9h0m5 24h0m-13 1h0m5-4h0m-2-2h0m-19-6h0m1 3h0m3 3h0m-4 5h0m-6-7h0m-27 8h0m-10-1h0m3-1h0m2-1h0m1-7h0m-6-1h0m-8 4h0m-1 21h0m6-6h0m15 3h0m23 2h0m18-1h0m4 13h0m-3-6h0m6-1h0m-11 0h0m2 2h0m-3 2h0m2 0h0m2 1h0m-26 6h0m6-2h0m-3-4h0m9-1h0m-10-1h0m2-1h0m4 0h0m1-3h0m-22-1h0m1 6h0m2 5h0m2 1h0m-14-5h0m-12-1h0m4 2h0m0 4h0m-7 6h0m35 4h0m-7-1h0m-5-3h0m15-1h0m11 0h0m-4 1h0m-2 3h0m6 4h0m10-1h0m1-2h0m1-6h0m-2-1h0m9-1h0m0 2h0m2 6h0m6 3h0m5-6h0m-40 10h0m-24 5h0m-6-6h0m-6 3h0m2 2h0m-2 0h0"/>
<path vector-effect="non-scaling-stroke" stroke="#8a60f1" d="M-5 -229h0m-5 1h0m-88 12h0m7-2h0m64 3h0m7 3h0m-2 1h0m17-13h0m13 4h0m-4 2h0m5 2h0m-8 3h0m129 14h0m-8-1h0m2-6h0m-135 8h0m2 1h0m-49-5h0m-10 5h0m-6-8h0m-18-1h0m-3 7h0m-17-1h0m1-4h0m2-5h0m-21 11h0m1 2h0m1 11h0m27-9h0m2 2h0m-8 2h0m3 2h0m-5 2h0m-3 0h0m20-10h0m27 12h0m6-5h0m-6-3h0m23 4h0m13-1h0m4 4h0m21-4h0m57 5h0m0-4h0m-3-7h0m10 0h0m-1 10h0m5 0h0m10 1h0m4-1h0m-7-1h0m5-6h0m14-4h0m1 4h0m-4 1h0m10 2h0m-13 0h0m7 0h0m-6 2h0m-1 2h0m19-9h0m22 6h0m12-1h0m-5-1h0m0-3h0m15-3h0m-5 6h0m4 5h0m5 2h0m4-2h0m1-3h0m15 19h0m-2-3h0m7-1h0m-8-4h0m-12 3h0m-5 4h0m-3-2h0m0-4h0m-21-3h0m4 0h0m-4 4h0m-1 2h0m4 2h0m7 2h0m-8 0h0m-30-7h0m-4 5h0m-1-2h0m-8-2h0m-1-2h0m-3 2h0m-1 2h0m-23-1h0m2-1h0m6-5h0m-2-1h0m-7 0h0m4-1h0m-8 1h0m-10 4h0m7 3h0m-4 2h0m-12 0h0m-2-8h0m-22 2h0m-9-3h0m-10 0h0m4 3h0m-4 2h0m-2 6h0m-15-2h0m2-4h0m3 0h0m4-2h0m-22-2h0m6 2h0m4 1h0m-12 5h0m11 2h0m-35-12h0m-28 2h0m2 0h0m5 1h0m-3 2h0m3 1h0m-5 6h0m-2 0h0m-15-6h0m6-4h0m-23-2h0m4 0h0m-3 4h0m4 5h0m-11 3h0m-12 15h0m3-10h0m2 2h0m4 1h0m6 7h0m3 0h0m6-1h0m5-2h0m11-1h0m-5 2h0m13 1h0m6-1h0m-4-3h0m24-8h0m16 4h0m5 0h0m-5 3h0m1 3h0m-2 0h0m6 0h0m0 2h0m13-3h0m5-1h0m-2 0h0m-8-8h0m24 0h0m-9 3h0m10 4h0m0 5h0m8-2h0m-5-2h0m-1-2h0m9-1h0m1-2h0m-8-3h0m13 9h0m0 2h0m20-7h0m6-3h0m11 9h0m13-1h0m-1-2h0m2-1h0m2-3h0m-1-2h0m5-1h0m-3 1h0m11 5h0m-3 0h0m0 6h0m3 0h0m4-1h0m0-5h0m12-3h0m-6-2h0m17 6h0m3 5h0m26-3h0m-4 2h0m2 2h0m13-4h0m-1-2h0m4-1h0m-10-1h0m10-1h0m-10-2h0m22-1h0m2 5h0m-9 5h0m-2 0h0m10 1h0m3 1h0m7-1h0m16-10h0m4 7h0m-2 2h0m2 1h0m-1 14h0m-3-1h0m-8 0h0m11-6h0m-24 1h0m-8-2h0m-5-1h0m11-2h0m-21 0h0m3 5h0m-7 4h0m0 2h0m-9-2h0m3 0h0m2 0h0m0-9h0m-5-1h0m-15 11h0m-8-1h0m-1-4h0m-24-1h0m2 2h0m5 1h0m-2 1h0m-5 4h0m5 0h0m-16 0h0m8-8h0m-40 8h0m0-2h0m11-4h0m-6 0h0m8-1h0m-12-3h0m-6-3h0m-6 9h0m-11 3h0m-2-2h0m7-1h0m-7-5h0m2-2h0m6-1h0m-20 1h0m3 1h0m-1 2h0m-18-1h0m-17-4h0m-1 10h0m9 2h0m-12-3h0m2-1h0m-13-5h0m-11-2h0m5 2h0m-10 10h0m-11-9h0m-6-2h0m3 8h0m-17 0h0m-3-2h0m5-3h0m-2-3h0m1-2h0m-13 2h0m-7 9h0m-26-9h0m-4 0h0m5 1h0m19 13h0m-6 2h0m3 0h0m-3 6h0m8-8h0m10-1h0m5 1h0m23 0h0m-8 0h0m13 3h0m0 7h0m15-9h0m22 5h0m7 3h0m-3 0h0m3-2h0m8-1h0m-5-3h0m0-2h0m2-2h0m9 1h0m4 0h0m0 5h0m2 3h0m-6 1h0m-2 1h0m19-1h0m-4-7h0m20-3h0m-4 1h0m5 2h0m2 3h0m0 2h0m16-4h0m-7-1h0m15-4h0m3 2h0m0 3h0m-9 0h0m9 4h0m10-2h0m2 0h0m11 0h0m-2 2h0m2 0h0m21 4h0m-1-3h0m-6-1h0m-2-1h0m2-1h0m6-3h0m-5-1h0m7-1h0m39-2h0m-4 2h0m5 2h0m-7 2h0m-3 1h0m10 4h0m12-2h0m-8-6h0m5-2h0m-3 0h0m28 8h0m-3-1h0m8-1h0m-2-2h0m2-1h0m14 4h0m-2 0h0m13 1h0m0 10h0m-2 2h0m-15 5h0m8-5h0m0-2h0m3 0h0m-13-2h0m-4 0h0m-7 3h0m0 2h0m-13 3h0m-3-3h0m0-3h0m-14 1h0m11 6h0m-13-3h0m-3-1h0m-6-7h0m-9 3h0m-5 5h0m-24-7h0m4 1h0m-10 1h0m7 9h0m-23 0h0m3-13h0m-10 0h0m3 4h0m-6 2h0m-5 7h0m0-3h0m-25-9h0m10 1h0m-3 8h0m-5 2h0m-13-8h0m8 0h0m-11-2h0m-8 0h0m4 6h0m0 2h0m-5 2h0m-44-1h0m-1-7h0m-19 2h0m-44 2h0m-4 1h0m-3 0h0m-3 4h0m-3-3h0m-1 0h0m-9-5h0m-6-4h0m1 6h0m1 5h0m12 8h0m2 0h0m-10 4h0m12-8h0m38 7h0m14 4h0m31-2h0m-1 1h0m14 0h0m1-4h0m-2 0h0m9-6h0m-1 3h0m3 1h0m-7 3h0m5 0h0m-1 2h0m9 0h0m4-2h0m7-2h0m4-7h0m0 9h0m1 2h0m19-8h0m-7-1h0m5-2h0m10 0h0m1 2h0m8 5h0m3 3h0m1 2h0m3-1h0m0-9h0m13 2h0m10 0h0m9 9h0m6-1h0m26-3h0m5-8h0m26-1h0m0 2h0m9 3h0m-7 2h0m9 0h0m-11 2h0m8 2h0m14-1h0m4-5h0m-12-3h0m0-2h0m27 13h0m2 0h0m2 0h0m1-11h0m9 0h0m-3-1h0m19 9h0m-22 5h0m6 5h0m-10 1h0m9 2h0m-4 0h0m-14 3h0m-4-6h0m8-2h0m-61 9h0m-4-6h0m-5 1h0m-10 5h0m-7 0h0m-6-8h0m-4 4h0m-17 4h0m-6-5h0m8-1h0m-2-3h0m0-2h0m-2-2h0m-17 10h0m-15 2h0m1-6h0m2-1h0m-7-1h0m11-3h0m2-1h0m-19 5h0m0 8h0m-13 0h0m1-2h0m3-3h0m-3-2h0m-7-1h0m2-4h0m-5-1h0m-13 4h0m-1 8h0m-10-7h0m-6-5h0m-10 1h0m8 2h0m0 5h0m-8 2h0m5 2h0m-7 1h0m-14-7h0m-6-5h0m-17 9h0m-3-3h0m2-3h0m-16-1h0m10 2h0m-12 2h0m8 0h0m-2 1h0m-8-4h0m-18 7h0m-16-6h0m4 0h0m1-2h0m1-3h0m-76 23h0m21-6h0m-5 1h0m2 5h0m6-1h0m19-7h0m14 0h0m21 9h0m26-10h0m-3 6h0m-3 1h0m15-6h0m10-1h0m-3 8h0m25-6h0m0-2h0m11 2h0m4 4h0m4 6h0m2-1h0m4-6h0m-8-4h0m8-1h0m15 8h0m-2 0h0m-3 2h0m13 3h0m10-2h0m-8 0h0m-5-10h0m10-1h0m30 11h0m-2-3h0m0-2h0m2-6h0m-7 0h0m12 6h0m31 7h0m15-2h0m5-5h0m-12-1h0m18-1h0m22 2h0m3-6h0m0 2h0m1 8h0m10 2h0m2-2h0m1-4h0m18-5h0m4 3h0m2 0h0m-10 5h0m10 1h0m-1 3h0m5-9h0m4-1h0m14 2h0m-5 0h0m4 3h0m2 0h0m3 4h0m9-1h0m3-11h0m8 3h0m13 21h0m-26-10h0m0 4h0m1 2h0m3 2h0m-12-3h0m-20-4h0m5 12h0m-18-7h0m4-1h0m-5-1h0m4-1h0m4-1h0m-2-2h0m-12 0h0m-7 1h0m8 4h0m-2 1h0m-14 4h0m-7 0h0m5-4h0m-15 4h0m6 1h0m-7 2h0m-8 0h0m-27-7h0m-7-5h0m-14 5h0m5 0h0m-9 3h0m-3-1h0m-9-7h0m-15 0h0m0 2h0m0 4h0m7 0h0m-3 3h0m-1 0h0m-16 2h0m0-2h0m4 0h0m5-3h0m-26 2h0m3 2h0m-9-5h0m5-1h0m-13 0h0m11-1h0m-25-1h0m5 0h0m5 5h0m-6 4h0m-4 1h0m-12 0h0m5-1h0m-6-6h0m7-1h0m0-3h0m-32 9h0m2-6h0m-9 2h0m-13 3h0m-9-2h0m3-6h0m2-1h0m-9 0h0m-3 4h0m-12 6h0m-26 1h0m-6-3h0m-6-3h0m-3 7h0m-48 0h0m6-2h0m3 14h0m11-2h0m5-7h0m5 0h0m0 2h0m1 2h0m2 3h0m-3 1h0m-2 1h0m9 1h0m22-7h0m-8 5h0m20 2h0m-8-10h0m25 6h0m1 2h0m-8 2h0m17 0h0m0-7h0m4 0h0m-4-5h0m20 2h0m-10 2h0m8 2h0m-7 2h0m3 2h0m-1 0h0m-1 3h0m11-7h0m-1-3h0m4-2h0m15 0h0m-3 6h0m4 2h0m11-3h0m14-1h0m-1 2h0m1 4h0m15-2h0m8-3h0m0-2h0m-11-1h0m8-1h0m1-1h0m8 3h0m2 5h0m-7 4h0m25-1h0m-9-9h0m16 5h0m4 4h0m30-12h0m16 5h0m-10-3h0m15 5h0m6 0h0m-5 2h0m5 2h0m9-8h0m20 2h0m4 6h0m11-3h0m-10-2h0m13-5h0m6 3h0m-6 1h0m10 3h0m-4 5h0m17 0h0m-2-2h0m0-2h0m1-3h0m-8 0h0m2-4h0m8-1h0m5 0h0m2 2h0m11 6h0m7-6h0m20-1h0m13 11h0m-7-2h0m14-5h0m0 5h0m1 2h0m-8 3h0m0 3h0m-2 6h0m-17 2h0m-4-12h0m7-1h0m-23 7h0m-11 4h0m1-2h0m2-2h0m2-1h0m4-3h0m-15-1h0m-5 5h0m4 1h0m-14-5h0m-23 4h0m-2 0h0m10 0h0m0 5h0m-4 1h0m-24-9h0m-22 1h0m0-5h0m-9 3h0m5 1h0m-25-1h0m-15-3h0m8 4h0m2 0h0m-1 2h0m-2 3h0m-6 3h0m-9 0h0m7-2h0m-9-2h0m4-2h0m3-3h0m-4-2h0m-8-1h0m-5 8h0m4 3h0m-10 2h0m-6-9h0m-18-3h0m-6 2h0m3 1h0m-2 7h0m-1 2h0m-6-1h0m2 0h0m1-5h0m0-2h0m-19 8h0m-21-12h0m-12 1h0m9 4h0m-10 4h0m-12-2h0m4-7h0m-9 11h0m-16-7h0m2-5h0m-22 2h0m-3 3h0m8 0h0m-7 2h0m6 1h0m2 2h0m-12 1h0m-14-11h0m-4 0h0m-28 1h0m2 2h0m-9 3h0m0 1h0m-6 5h0m-8-1h0m4-2h0m3-1h0m3-2h0m-11-1h0m-4 19h0m2-1h0m9 0h0m7 1h0m-5 0h0m3 1h0m1 1h0m4 1h0m8-1h0m-3-8h0m-2-1h0m17 4h0m1 5h0m10 1h0m-2-3h0m1-1h0m16-7h0m2 1h0m0 0h0m2 6h0m-6 2h0m13 0h0m-2-3h0m-1-1h0m11-2h0m-2-3h0m29 9h0m-6-10h0m6-1h0m10 4h0m-1 9h0m31-10h0m3 2h0m16 8h0m-1-13h0m-2 0h0m16 5h0m-3 4h0m0 3h0m8-1h0m19-11h0m-1 0h0m-1 1h0m8 12h0m6-2h0m12-11h0m2 9h0m9 3h0m25 0h0m12 1h0m-10 0h0m7-5h0m1-2h0m-8-5h0m10 0h0m17 3h0m-13 6h0m17 1h0m18-9h0m18 11h0m12-12h0m4 3h0m-5 2h0m28 4h0m-8 2h0m2 1h0m20-4h0m1-2h0m6-7h0m6 10h0m7-7h0m24 10h0m-8 11h0m11 0h0m-11-8h0m-14-2h0m10 3h0m-5 0h0m-2 5h0m6 3h0m-8 1h0m-2 1h0m-2-2h0m-7-11h0m-17 9h0m-14-1h0m5-4h0m-20-2h0m7 2h0m1 2h0m3 1h0m-5 3h0m-21 3h0m12-12h0m-3-1h0m-17 2h0m3 5h0m-10 0h0m11 2h0m-37-9h0m-12 13h0m-2-1h0m-16-11h0m4 0h0m-3 7h0m0 1h0m9 3h0m3 0h0m-20 1h0m6-1h0m-6-1h0m5-5h0m-4-6h0m-22 2h0m8 2h0m2 1h0m1 8h0m-22-11h0m6-2h0m-13 2h0m-7 5h0m-8 6h0m-4 0h0m7-1h0m-4-2h0m-5-3h0m4-1h0m-5-2h0m-14-1h0m-19 3h0m-21 5h0m-4-1h0m9-7h0m-13 4h0m-5 0h0m8 5h0m-21 0h0m2-2h0m-1-3h0m-15-1h0m-5 3h0m-3 2h0m1-8h0m-13-1h0m3-2h0m-16 6h0m3 4h0m-4 1h0m10 2h0m-12-1h0m0-4h0m-4-1h0m-19-4h0m9 3h0m-11 2h0m5 1h0m-3 0h0m4 0h0m-6 1h0m2 2h0m5 1h0m-9-2h0m-4 0h0m0-2h0m0-6h0m2 0h0m-6-2h0m-5 0h0m-12-1h0m10 1h0m-5 0h0m-2 1h0m-1 5h0m5 1h0m-3 0h0m1 2h0m4 1h0m-6 1h0m-18 1h0m7-2h0m2-1h0m-12-5h0m-2 2h0m0 2h0m3 8h0m0-2h0m8 3h0m-2 1h0m1 1h0m-1 1h0m2 1h0m24-6h0m10 1h0m-6 3h0m3 1h0m-2 3h0m-4 1h0m5 2h0m14-2h0m4-1h0m-13-1h0m10-4h0m6 6h0m24-5h0m-4-3h0m13 1h0m6 5h0m-1 2h0m-1 2h0m3 0h0m6-4h0m1-5h0m14-4h0m5 3h0m13 4h0m52 3h0m3-4h0m0-4h0m9 2h0m2 5h0m16 3h0m1-5h0m-2-4h0m3-1h0m-10-2h0m24 2h0m-11 0h0m10 2h0m-2 2h0m-2 2h0m-5 2h0m26-2h0m-7-2h0m3-4h0m-2-1h0m19-1h0m-1 6h0m-8 2h0m7 0h0m1 3h0m12-2h0m-2 0h0m-7-3h0m4-1h0m2-1h0m1-2h0m8 1h0m65-3h0m17 9h0m-10-3h0m3 0h0m15-5h0m1 2h0m15 7h0m5-7h0m6 2h0m7 1h0m-13 3h0m17-4h0m15-5h0m7 7h0m-4 2h0m6 0h0m-2 2h0m2 0h0m2 12h0m-6 0h0m-21-6h0m3 4h0m-10 6h0m-15-13h0m-63 6h0m1 5h0m3 0h0m-5 2h0m-3-3h0m-26 3h0m-4-4h0m-36-3h0m1-5h0m-4 1h0m-6 4h0m1 6h0m-6 0h0m-24-11h0m4 8h0m-12 1h0m-2-1h0m-9 0h0m1-4h0m2-1h0m6-3h0m3-1h0m-24 1h0m11 5h0m-3 4h0m-4 2h0m-14-3h0m-20-6h0m0 1h0m4 9h0m-14-3h0m0-1h0m-6-4h0m-4 2h0m4 3h0m-2 1h0m-15 0h0m-9-5h0m-4-3h0m2 5h0m-9 0h0m0 4h0m-9-4h0m3-7h0m-23-1h0m1 9h0m-2 0h0m1 2h0m-3-1h0m0-2h0m-10-1h0m-1-5h0m9-2h0m-15 2h0m1 3h0m2 3h0m-9 5h0m-6-3h0m-8-3h0m-2-5h0m-7 2h0m-8 4h0m1 1h0m9 1h0m-12-5h0m-6-4h0m-13-1h0m5 2h0m-1 24h0m-6-3h0m2 0h0m3-8h0m-2-1h0m10 2h0m-1 2h0m11 9h0m2-1h0m0-3h0m0-5h0m-1-3h0m8-1h0m27 13h0m-2 0h0m4-5h0m-10-1h0m10-2h0m2-2h0m-7-2h0m15 12h0m11-1h0m9-1h0m-10-7h0m19 8h0m-7 1h0m19 0h0m-6-1h0m0-10h0m10-1h0m15-1h0m-4 2h0m-7 3h0m0 0h0m4 6h0m16-1h0m-2-3h0m0-3h0m1-1h0m0-2h0m11 1h0m0 4h0m2 2h0m9 0h0m-11 2h0m52 2h0m-9-7h0m21-4h0m3 9h0m1-2h0m11-1h0m2-2h0m-10-3h0m7-2h0m8 5h0m1 2h0m3 5h0m71-8h0m3-1h0m-4-1h0m16-2h0m-8 7h0m8 2h0m-7 2h0m14-8h0m22 7h0m-2 2h0m16 1h0m57-12h0m12 1h0m2 0h0m-2 4h0m9 0h0m-9 12h0m-80 8h0m-4-3h0m-7-3h0m2-1h0m-3-1h0m-19 9h0m2-2h0m-26-9h0m-1 6h0m-3-8h0m2 0h0m-51 1h0m7 2h0m-17 6h0m0-4h0m-5-3h0m-23 2h0m-16 1h0m-45 7h0m3-2h0m-8-8h0m-17 11h0m0-5h0m0-7h0m0-1h0m-20 2h0m0 2h0m7 1h0m-3 3h0m-3 0h0m-12 4h0m-5-1h0m11-2h0m-10-5h0m10-3h0m-18-1h0m3 1h0m-7 0h0m-2 1h0m-1 2h0m2 0h0m2 1h0m-4 2h0m8 1h0m2 2h0m-17 2h0m-7-3h0m0-5h0m-7-2h0m-14 3h0m-22-4h0m10 2h0m-9 3h0m9 1h0m-1 3h0m-7 1h0m-9-1h0m6-7h0m-21-3h0m1 0h0m5 27h0m-3-9h0m12 1h0m1 0h0m2 1h0m4 6h0m13 0h0m-2-4h0m-11-1h0m5-1h0m1-4h0m5-1h0m8 2h0m-1 2h0m5 4h0m14 4h0m3 0h0m-5-4h0m1-2h0m-2-2h0m4 0h0m7 1h0m17 1h0m6-1h0m1-3h0m-12-2h0m18-1h0m11 12h0m17-5h0m15 6h0m7 0h0m-2-4h0m-4-2h0m26-7h0m33 7h0m-3-4h0m9 2h0m3 1h0m0 2h0m-1 1h0m5 2h0m-5 1h0m16 1h0m4-3h0m-5-6h0m20 2h0m-7 0h0m1 2h0m22 4h0m37-6h0m-1 4h0m8 2h0m5-8h0m-4-3h0m15 5h0m3 3h0m1 2h0m11-2h0m1-5h0m-2-2h0m16-2h0m22 5h0m5 2h0m-18 18h0m-26-9h0m7 1h0m-8 3h0m5 6h0m-19-1h0m-15-8h0m-9 4h0m-4-2h0m7-1h0m-2-2h0m-32 5h0m-4-7h0m-12 10h0m-9-9h0m-26 9h0m1-4h0m0-5h0m-14 2h0m-2 1h0m-34 0h0m-11 9h0m7 0h0m-2-1h0m-6-2h0m9-6h0m-21 1h0m-11 5h0m-4-3h0m0-5h0m-16 10h0m-2-2h0m-8-10h0m-16 4h0m0 2h0m-17 2h0m-12-6h0m-16 11h0m6 0h0m-2-2h0m1-5h0m4 0h0m-2-1h0m-10-5h0m0 13h0m-23-6h0m-5-6h0m1 20h0m2-3h0m6 1h0m-2 4h0m-1 4h0m35-4h0m0 2h0m6 0h0m-2 0h0m2-3h0m1-6h0m23 3h0m7 8h0m0-4h0m5-6h0m9-1h0m7 1h0m-2 1h0m10-2h0m4-2h0m4 3h0m0 4h0m2 3h0m15 3h0m8-1h0m-1-9h0m11-3h0m4 9h0m7-5h0m36 8h0m-1-11h0m11 3h0m4 1h0m-10 2h0m9 2h0m-7 2h0m11-2h0m-1-2h0m24-4h0m2 9h0m-8 0h0m10-2h0m1-9h0m53 2h0m0 7h0m10-3h0m19-4h0m-2 9h0m13-7h0m16-4h0m-25 13h0m-12 2h0m8-2h0m-14 9h0m-49 4h0m2-5h0m-1-4h0m-32 8h0m-1-2h0m8 0h0m-3-1h0m6-4h0m-1-4h0m-19 0h0m-19 2h0m11-2h0m-4-1h0m-9 2h0m-3 5h0m2 1h0m-10 5h0m-28-11h0m-14 4h0m10 0h0m-17-3h0m2 10h0m-11-1h0m-4-1h0m-2 0h0m-2-2h0m4-1h0m2-2h0m-23-5h0m1 3h0m0 1h0m-1 5h0m-16 1h0m4-2h0m3-1h0m-16-5h0m-5 3h0m-14 7h0m6-3h0m7-10h0m-26 1h0m8 4h0m-5 3h0m2 1h0m4 1h0m-2 2h0m-11-7h0m-11-1h0m11-1h0m-16-3h0m-14 19h0m8 6h0m9-9h0m14 7h0m2 0h0m5-9h0m22 0h0m-13 2h0m8 4h0m2 3h0m-3 4h0m19-10h0m12-1h0m-9 9h0m13-2h0m13-4h0m-13-3h0m27 3h0m-2 1h0m-11 2h0m6 3h0m28 2h0m60-1h0m4 0h0m6-4h0m-1-1h0m2-6h0m19 0h0m-6 3h0m15 7h0m-2-2h0m11-4h0m6 0h0m-4 1h0m3 2h0m3 4h0m41-10h0m-39 18h0m-6-3h0m4-1h0m-24-2h0m5 0h0m2 2h0m-4 3h0m4 3h0m-11 4h0m-7-6h0m6 0h0m-23-6h0m8 11h0m-14-6h0m-20 0h0m1 3h0m9 5h0m-49-1h0m-1-6h0m1-4h0m-33 8h0m-25 0h0m2 0h0m-4-10h0m-13 6h0m-1 7h0m-14 0h0m1-7h0m-2 0h0m7-2h0m-2-4h0m-12 3h0m-3 9h0m-15-1h0m-7-2h0m-11 0h0m21 5h0m0 6h0m8 7h0m12-9h0m13-4h0m-4 1h0m6 6h0m-6 3h0m17-4h0m-5-1h0m10 7h0m26 1h0m-6-9h0m-3-1h0m1 0h0m18 0h0m0 2h0m2 5h0m14-6h0m0-3h0m-10 0h0m13 5h0m51 1h0m-8-5h0m16-2h0m3 5h0m-2 0h0m-2 5h0m12 3h0m5-5h0m21-5h0m-7 0h0m3 2h0m2 2h0m2 1h0m3 4h0m3-10h0m19-2h0m9 3h0m0 24h0m-10-1h0m-2-5h0m5-1h0m-1-5h0m-16-1h0m-10 11h0m-5-3h0m-3-3h0m3-3h0m-20 9h0m-11-2h0m2-1h0m-8-5h0m-54 7h0m1-2h0m-33-6h0m-33-2h0m-6 0h0m24 21h0m10 5h0m4-2h0m-6-5h0m85 2h0m64 7h0m-3 4h0m-6 4h0m-12 4h0m4-3h0m-10-9h0m-3 8h0m-17 5h0m-7-11h0m-7 2h0m25 21h0m8-6h0m1-2h0m6 4h0m25-4h0m13-3h0m-23 19h0m-16 0h0m-4-3h0m-1-2h0m0 7h0m-24-2h0m6-1h0m-8-1h0m7-1h0m-7-1h0m10 13h0"/>
<path vector-effect="non-scaling-stroke" stroke="#d3d3d3" d="M-95 -214h0m66-6h0m35-1h0m98 24h0m-179-6h0m0 0h0m-47 19h0m49-10h0m70 1h0m58-1h0m28 11h0m95 12h0m-220-9h0m-2-1h0m-20 9h0m-80 11h0m53-7h0m32 11h0m97-5h0m42-3h0m18 2h0m39 22h0m-60-7h0m-47-1h0m-27 1h0m-20 2h0m-57 1h0m-26-3h0m-6-4h0m-13 2h0m-32 0h0m15 15h0m0 8h0m36-3h0m15-6h0m7-3h0m29 8h0m11-4h0m29-3h0m64 11h0m34-1h0m48-5h0m54 20h0m-11 0h0m-14-3h0m-69-3h0m-54 6h0m-20-10h0m-8 7h0m-106-6h0m-27-3h0m92 14h0m24 4h0m3-3h0m55-1h0m90 6h0m14-7h0m-100 17h0m-17 2h0m-133 4h0m0 3h0m79 7h0m2-4h0m12 0h0m-1 2h0m26 6h0m3 3h0m57-6h0m111-5h0m-19 18h0m-19 3h0m-117 3h0m-109 2h0m-18-13h0m-36 10h0m-9-5h0m-59 7h0m-35-7h0m353 15h0m41 18h0m-13-8h0m-10 6h0m-37 3h0m-16-6h0m-199 3h0m-58 0h0m-7-7h0m-20 4h0m-26-3h0m6 19h0m1 0h0m35-4h0m24 2h0m34-3h0m60 2h0m190 0h0m41 6h0m29 15h0m-29-4h0m-158 6h0m-53-4h0m-33-3h0m-139-3h0m1 3h0m2 6h0m-13-6h0m14 8h0m215 2h0m123 3h0m58 10h0m-196-1h0m-20 13h0m-184 8h0m80 0h0m89 5h0m232 0h0m-57 9h0m-23 6h0m-25-1h0m-19-1h0m-103-11h0m-193 15h0m80 10h0m43-10h0m21 9h0m45 3h0m65-7h0m138-2h0m5 0h0m23 7h0m-9-2h0m3-6h0m21 20h0m-10 1h0m4-10h0m-4 0h0m-10 5h0m-33 7h0m-14-2h0m-1-2h0m5-4h0m-59 6h0m3-9h0m-112 12h0m-43-8h0m1 4h0m-22 0h0m-52 4h0m0-13h0m-9 8h0m-32-2h0m-9 4h0m-9-7h0m-42 13h0m51 1h0m-1 6h0m6 4h0m5-5h0m2-4h0m-5-4h0m39 5h0m-11-2h0m26 5h0m45 2h0m17-7h0m196 7h0m8-4h0m12 0h0m10-6h0m15 0h0m4 5h0m-6 4h0m19-2h0m1-2h0m-3 0h0m-3-2h0m-6 0h0m10 0h0m-9-2h0m17-1h0m-2 0h0m4 5h0m6 1h0m-4 2h0m-4 2h0m4 1h0m9 2h0m-2-2h0m3-2h0m-3-4h0m39 7h0m0-3h0m2 1h0m-1 6h0m2 0h0m-7 2h0m-28 5h0m0 4h0m-18-2h0m-3-4h0m11-5h0m-24 9h0m-30-7h0m-1 5h0m11 4h0m-22-5h0m1-2h0m6-3h0m-8-3h0m-5 9h0m-2 2h0m-133-10h0m-26 9h0m2-1h0m-2-3h0m-53-3h0m-4-3h0m-20 2h0m2-2h0m-22 6h0m-45 0h0m-13-3h0m-1 8h0m1 0h0m-16 0h0m2-8h0m6-1h0m-29 10h0m-13-8h0m9 15h0m0 3h0m51 2h0m11-8h0m4 11h0m5-7h0m19 5h0m15 2h0m14-9h0m1 9h0m-9 0h0m14-12h0m58 0h0m23 4h0m102-1h0m18 2h0m4-4h0m12 8h0m12-1h0m4-4h0m-2-2h0m-4-2h0m2-1h0m15 0h0m0 2h0m-1 3h0m3 2h0m1 3h0m22-10h0m-4 3h0m11 0h0m-8 2h0m-1 2h0m5 1h0m3 1h0m12 2h0m-10 0h0m8 0h0m0-3h0m4 0h0m7-8h0m5 1h0m-8 1h0m4 1h0m7 2h0m-12 1h0m6 0h0m-4 1h0m3 1h0m-4 1h0m13-5h0m7-1h0m2-2h0m-2 0h0m14 6h0m-4 2h0m4 2h0m-2 2h0m14 0h0m-4-2h0m9-6h0m1-1h0m0-1h0m-4-1h0m13-1h0m-2 2h0m2 1h0m0 8h0m-3 0h0m-12 3h0m-1 8h0m-4 0h0m2 2h0m-13 1h0m5-1h0m-9-6h0m9-4h0m-44 0h0m-6 2h0m10 2h0m-7 5h0m1 2h0m-12 1h0m-1-11h0m4 0h0m-18-1h0m-2 0h0m9 11h0m-21-2h0m3-6h0m-19-2h0m-2 6h0m-1 2h0m8 3h0m-12-3h0m-6-2h0m-6-7h0m-8 5h0m2 2h0m3 2h0m3 0h0m-14 2h0m-80 0h0m-55-2h0m-43-5h0m5-5h0m-27 2h0m-10-2h0m-38 0h0m-3 7h0m2 1h0m-29-5h0m10 2h0m-32-1h0m46 11h0m-3 0h0m27 11h0m14 1h0m4-3h0m-1-1h0m-8-5h0m21 5h0m23 2h0m155-1h0m5-7h0m3-3h0m12 2h0m-8 1h0m8 1h0m0 4h0m-9 2h0m18-2h0m21-6h0m-12 4h0m5 4h0m15 2h0m3-4h0m-3-2h0m3 0h0m-5 0h0m12-6h0m-3 0h0m7 1h0m4 0h0m-10 4h0m0 2h0m6 3h0m-5 1h0m7 2h0m12-10h0m-7-3h0m15 1h0m2 0h0m2 6h0m22 6h0m-6-5h0m-7-2h0m11-1h0m8 0h0m-5 1h0m21-1h0m3-2h0m-5-2h0m4-1h0m5 4h0m-25 11h0m2-1h0m-46 1h0m2 2h0m2 2h0m2 4h0m3 4h0m-18-2h0m-4-7h0m6-2h0m-12 3h0m-3 2h0m5 4h0m-9 0h0m7 1h0m-2 0h0m-9 0h0m-5-1h0m5-1h0m-9-8h0m-6 10h0m-25 0h0m6-6h0m-4-2h0m6 0h0m-4-1h0m5-1h0m-17-1h0m2 2h0m4 8h0m-172-9h0m-14-2h0m-31 9h0m2-4h0m-12-4h0m-4 1h0m-6 1h0m5 8h0m-15-8h0m73 14h0m172-3h0m5 0h0m5 6h0m5 4h0m4 2h0m-1-8h0m3-3h0m20 10h0m3 1h0m-4 1h0m8-1h0m0-8h0m2 0h0m10-1h0m10 7h0m2 2h0m-7 0h0m9 0h0m2-6h0m-1-5h0m-9 13h0m-35 13h0m5-8h0m6-1h0m-6-1h0m8-3h0m-24 0h0m-2 3h0m6 1h0m1 4h0m-6 1h0m8 4h0m-11-12h0m-59 3h0m-16 7h0m-8 2h0m-45-8h0m13 17h0m27 0h0m-31 13h0"/>
<path vector-effect="non-scaling-stroke" stroke="#9d77ec" d="M12 -221h0m123 20h0m-148 4h0m-34-8h0m-58-4h0m-10-1h0m1 3h0m-2 7h0m-3 11h0m20-6h0m12 3h0m72-4h0m8 13h0m3-1h0m59 0h0m-7-4h0m11-1h0m-2 1h0m2 5h0m22 0h0m0-2h0m4-9h0m3 5h0m7 1h0m9-1h0m18 4h0m16 1h0m-3-11h0m3-1h0m12 7h0m2 2h0m21 18h0m-13-13h0m-26 13h0m-17 0h0m3-8h0m0-2h0m2 0h0m-12 3h0m-22 1h0m5-2h0m-9-2h0m13-2h0m-27 3h0m7 3h0m-21-1h0m7 0h0m5-5h0m-13-1h0m-9 5h0m-10 1h0m2-6h0m2 0h0m-34 9h0m2-1h0m-15-3h0m-6 1h0m-7 0h0m-7-2h0m-5-4h0m-5 4h0m2 4h0m-4 0h0m8 1h0m-27-3h0m-29-1h0m-18 5h0m-7-4h0m-30 1h0m8 8h0m27 1h0m-1 7h0m3 0h0m12-9h0m55 13h0m5-3h0m31 0h0m-12-3h0m3-1h0m10-1h0m5 0h0m-4 4h0m16 1h0m-2-4h0m6-2h0m23 9h0m18-12h0m-4 5h0m9 2h0m4 1h0m12-4h0m2 3h0m26 1h0m9-1h0m20 0h0m-4-3h0m-2-4h0m12 0h0m0 2h0m3 7h0m17 0h0m-4-3h0m-7-3h0m11-2h0m9 1h0m-2 4h0m2 6h0m8-5h0m-8 19h0m4-13h0m2 0h0m-37 1h0m-10 12h0m-17-2h0m-5-10h0m-1 2h0m-9 2h0m-2 5h0m5 3h0m-33-10h0m-28-2h0m7 2h0m2 3h0m2 1h0m-2 4h0m-21-8h0m4-1h0m-21 4h0m12 1h0m-8 6h0m-5 0h0m-4-2h0m-5-3h0m8-3h0m-7-5h0m-13 1h0m-6 0h0m-1 1h0m-24 2h0m-45 8h0m-4-2h0m-19-9h0m-6 9h0m-22-10h0m3 14h0m22 4h0m22 8h0m2-3h0m-2-2h0m32-4h0m15 1h0m17 9h0m15 0h0m18-6h0m-8 2h0m11 2h0m9-1h0m0-2h0m12-7h0m2 1h0m-2 1h0m-2 4h0m3 3h0m8 3h0m2-1h0m1-2h0m-2-4h0m0-2h0m-1-4h0m36 3h0m7 1h0m-1 2h0m0 3h0m0 3h0m31-10h0m3 7h0m10 2h0m7-7h0m8 4h0m7 2h0m-10 3h0m26 0h0m-4-2h0m-4-4h0m12-7h0m9 0h0m-4 2h0m-5 7h0m19-2h0m14 19h0m-20-11h0m9 3h0m-1 3h0m-6 2h0m-2 0h0m10 1h0m-17 3h0m-3-3h0m-3 0h0m6-3h0m-4-2h0m-6-1h0m-3 3h0m-15 2h0m-1-2h0m0-4h0m-16 2h0m8 1h0m-10 1h0m10 1h0m-4 2h0m-2 3h0m-20 0h0m-1-4h0m8-5h0m2-1h0m-22 6h0m-12 1h0m-7-4h0m-5 1h0m7 5h0m-24-5h0m-16 0h0m2 6h0m-23-13h0m-8 8h0m7 3h0m6 2h0m-18-7h0m-6-1h0m-104 4h0m-19-3h0m-12 6h0m11 11h0m27 3h0m3-4h0m59-2h0m13 0h0m-1 4h0m4 3h0m9-3h0m5-1h0m-5-1h0m-5-1h0m11 0h0m-5-5h0m10 11h0m11-1h0m26-8h0m-13 1h0m13 3h0m-7 2h0m4 1h0m13-7h0m8 2h0m3 2h0m1 2h0m71-6h0m24 5h0m-1-4h0m11 6h0m11 2h0m3-7h0m15-6h0m2 5h0m4 2h0m10 12h0m4 8h0m-18-1h0m2 0h0m7-1h0m-11-5h0m12-1h0m-14-2h0m-8 7h0m8 2h0m-3 1h0m-20-4h0m6-6h0m-13-1h0m-11 1h0m-11 9h0m10-11h0m-38 8h0m3-2h0m-9-6h0m-23 8h0m-2-2h0m3-5h0m-8 0h0m-3 0h0m3 5h0m-6 1h0m2 3h0m-7-6h0m-17-5h0m2 2h0m-4 1h0m-2 2h0m-6 5h0m-11 0h0m8-4h0m-18-5h0m-2 8h0m-17 1h0m2-2h0m-16-8h0m2 1h0m4 6h0m-4 2h0m-4 1h0m-132-3h0m-28 11h0m51 4h0m29-4h0m32 1h0m19 1h0m6 7h0m5 0h0m-1-2h0m-2-1h0m-2-5h0m12-4h0m1 12h0m31-6h0m18 3h0m-5-5h0m-4-2h0m37 1h0m-6-3h0m22 11h0m4-2h0m5-5h0m5-1h0m-10 0h0m20-1h0m-6 1h0m29 2h0m9 1h0m-3 5h0m14 0h0m10-5h0m3 1h0m-4 4h0m15-2h0m-2-1h0m15-7h0m7 1h0m0 2h0m2 2h0m-1 2h0m-8 3h0m2 1h0m15-3h0m-4-1h0m10-6h0m6 0h0m-5 2h0m14 17h0m-1 4h0m-4 0h0m4-6h0m-5-2h0m-4-3h0m-9 7h0m-2 2h0m-11-1h0m1-2h0m-10 0h0m0-4h0m8 0h0m4-3h0m-39 11h0m10-10h0m-8-1h0m-10 0h0m-8 2h0m13 1h0m-2 5h0m-10 1h0m6 1h0m-5 2h0m-13-9h0m-29 6h0m-8-8h0m2 2h0m3 3h0m-2 0h0m-7 0h0m-1 2h0m-15-8h0m-13 8h0m3 3h0m2 1h0m-4 0h0m-17-9h0m-15-2h0m-4 5h0m-13 7h0m-17-3h0m4-1h0m-24-9h0m1 2h0m10 7h0m-7 3h0m-7-2h0m-7-8h0m-11 10h0m-13-1h0m-30-7h0m-16 8h0m-13-4h0m-54 4h0m0-2h0m-20-1h0m-8 4h0m-5-1h0m0-1h0m9-2h0m0-5h0m-2-1h0m1 22h0m-6 2h0m19-2h0m-2-2h0m-2 0h0m-1 0h0m-6-7h0m18-2h0m9 1h0m-1 2h0m-11 5h0m18 5h0m1-2h0m7-8h0m-12-3h0m60 12h0m5-4h0m29-6h0m24 11h0m2-8h0m14-5h0m-6 0h0m9 5h0m-4 1h0m10 6h0m3-2h0m12 0h0m17-7h0m9 2h0m38-1h0m9 5h0m-1-8h0m18 9h0m10-1h0m-7-1h0m51-6h0m-8 9h0m24 2h0m-1-7h0m10-1h0m-6 0h0m13 0h0m-3 7h0m15 1h0m-7-2h0m2 0h0m7-4h0m-11-6h0m17 12h0m11 0h0m5-2h0m5-6h0m2-3h0m11 4h0m-4 1h0m-4 4h0m6 16h0m-5-4h0m0-7h0m-5 5h0m0 2h0m-25 2h0m5-1h0m-3-4h0m5-2h0m-9-1h0m6-2h0m-11 10h0m-23-3h0m12-3h0m1-4h0m-25 8h0m-8-2h0m-16-7h0m-2 1h0m5 3h0m-9 5h0m3 0h0m1 4h0m-6-6h0m-3-2h0m-24 1h0m-4-5h0m3-1h0m-15 9h0m-35-4h0m-4 1h0m3 2h0m-2 2h0m-31-6h0m-26-4h0m2 1h0m0 2h0m5 5h0m6 0h0m-11 0h0m7 1h0m2 2h0m-21-6h0m-14 4h0m-14-7h0m-26 5h0m-11 0h0m-19-2h0m-8-4h0m0 2h0m3 2h0m-16 8h0m2-4h0m-19-7h0m-16 4h0m-2-4h0m-30 9h0m6-3h0m2 0h0m-8-4h0m5 0h0m5-1h0m-17-2h0m-1 26h0m19-13h0m-4 7h0m4 2h0m-3 3h0m13-9h0m3-1h0m29 7h0m1-6h0m1 0h0m0 2h0m2 1h0m20 3h0m-7 0h0m5-3h0m0-3h0m3-1h0m12-1h0m19 12h0m-13-10h0m21 7h0m38 1h0m21-11h0m1 7h0m12 5h0m14-2h0m14-7h0m7-2h0m23 7h0m3-5h0m25 10h0m-1-6h0m11-5h0m4 10h0m16-6h0m-11-1h0m14 7h0m19-6h0m-1-5h0m14 4h0m-1 5h0m4 2h0m20-12h0m6 4h0m12-4h0m19 4h0m-10 7h0m26-3h0m-1-5h0m6-1h0m-2 9h0m11 2h0m-12 11h0m5-4h0m-11-6h0m-5 5h0m5 3h0m-8 1h0m5 2h0m-8-1h0m-2-1h0m-2-2h0m6 0h0m-7-4h0m6 0h0m-20 2h0m5 1h0m-2 0h0m1 6h0m-16 1h0m1-5h0m-8-6h0m-3 3h0m-26 3h0m12-1h0m-10-1h0m3-2h0m-11 1h0m2 0h0m2 7h0m-54-3h0m12-2h0m-4-1h0m-6-3h0m2-2h0m4 0h0m-11 1h0m-3 3h0m-9 3h0m-21-3h0m-4 3h0m-10-6h0m-23 4h0m-18 7h0m-32-5h0m-15 4h0m-11-9h0m-17 5h0m10-4h0m-9-1h0m5-1h0m0-2h0m-43 6h0m-7 3h0m2 2h0m8 0h0m-38-11h0m4 11h0m-6 1h0m-7-6h0m-2-2h0m-11-2h0m-19 9h0m4-6h0m5-1h0m-13-1h0m0 2h0m0 4h0m0 7h0m13 0h0m0 6h0m-5 3h0m-4 2h0m15-4h0m0-7h0m23 0h0m-2 2h0m-6 0h0m18 9h0m6-6h0m-1-2h0m-11-2h0m10 0h0m33-3h0m14 9h0m37 3h0m-11 0h0m18-10h0m2 2h0m18 9h0m11-9h0m-2 1h0m18 5h0m1-6h0m6-4h0m20 8h0m2-1h0m0-2h0m-6-2h0m9-2h0m13 6h0m1 2h0m21-1h0m-2 2h0m17 0h0m6-9h0m64 0h0m-7 0h0m9 4h0m13-1h0m-6-2h0m16-2h0m-4 2h0m39-1h0m-9 1h0m4 8h0m2 1h0m-1 2h0m17-6h0m-1-3h0m10 1h0m10 6h0m2-4h0m-14 16h0m-2-3h0m0-6h0m-2 13h0m-20-1h0m1-2h0m-3-1h0m8-2h0m-7-5h0m-68 0h0m-6 2h0m3 0h0m-6 4h0m-5 0h0m-56-4h0m-36-4h0m-26 11h0m-2-8h0m-9 1h0m0 6h0m-16 0h0m-25 1h0m-10-9h0m-2 1h0m-6 1h0m6 8h0m-45-12h0m-15 7h0m-3 0h0m7 4h0m-17 2h0m-5-13h0m-3 4h0m-10 4h0m-6 1h0m-10-4h0m-8 3h0m-2 0h0m2 5h0m-6 0h0m-9-2h0m-2-9h0m2-1h0m-7 1h0m9 21h0m-2 1h0m21-4h0m-3-1h0m-6-2h0m6-2h0m6 0h0m22 8h0m0-3h0m1-2h0m-2-1h0m-3-2h0m7-1h0m39 7h0m11-7h0m31 10h0m-4-1h0m1-8h0m6-1h0m55 11h0m2-11h0m2 10h0m20 1h0m12-2h0m64-1h0m-1 2h0m4 2h0m2-1h0m-3-8h0m1-3h0m25 2h0m0 2h0m1 2h0m-11 3h0m-1 2h0m34 0h0m-2 1h0m18 0h0m45-12h0m-6 1h0m14 3h0m14-2h0m1 2h0m14 2h0m-3-4h0m4-1h0m-7 14h0m-8 12h0m6-7h0m-13-2h0m9-3h0m-11 1h0m-14 0h0m-54-1h0m13 4h0m-5 4h0m-6 1h0m-12 1h0m0-2h0m-14 1h0m-10-1h0m-13 1h0m-10-5h0m-11-1h0m7-3h0m-69 0h0m-17 6h0m-2-3h0m-7 3h0m-79-5h0m3-1h0m-14 2h0m3 4h0m-7 4h0m-11-1h0m0-2h0m-2-6h0m7-1h0m-4-1h0m-17 6h0m4 1h0m2 4h0m-13 0h0m3 0h0m-28-11h0m-26 1h0m-14 4h0m9-4h0m2 0h0m-12 0h0m-10 1h0m3 20h0m1-6h0m-6-2h0m29 12h0m14-11h0m12 12h0m2-2h0m22-9h0m7 9h0m4-4h0m0-2h0m3-3h0m12 4h0m5 5h0m6-1h0m5-10h0m-9 0h0m23 1h0m99 12h0m-3-1h0m4-6h0m5 3h0m19 3h0m36-4h0m2 3h0m22-10h0m-4-1h0m17 11h0m-2 1h0m4 1h0m10-12h0m26 3h0m7-3h0m2 3h0m12 1h0m-22 10h0m-18 3h0m-13-4h0m0 2h0m-3 6h0m8 5h0m-10-7h0m-3-6h0m-11 5h0m-10 2h0m-11-3h0m2-2h0m-2-2h0m-13 7h0m6 2h0m-2 1h0m0 2h0m-27-6h0m-11 2h0m-7-5h0m-13-2h0m-1 2h0m-9 7h0m-5-6h0m2 0h0m-16-1h0m-37 3h0m-7-4h0m-31 4h0m-6 2h0m2 1h0m-4 4h0m-21-11h0m-37 0h0m-10 9h0m-7-2h0m9-3h0m-26-4h0m-1 3h0m6 0h0m2 5h0m-35-9h0m44 16h0m7 10h0m7 0h0m5-1h0m-3-5h0m0-6h0m21 10h0m9-1h0m6-3h0m-13-3h0m26-3h0m-11 6h0m23-2h0m-5-4h0m18 1h0m4 0h0m-3 2h0m-5 6h0m9-6h0m22-4h0m-7 2h0m10 1h0m-2 8h0m42-2h0m-4-6h0m-3-1h0m2-1h0m2 0h0m13 0h0m-1 4h0m13 4h0m64-9h0m13 1h0m0 2h0m-6 2h0m-1 2h0m7 1h0m5 5h0m9-5h0m-10-2h0m4-2h0m-2-3h0m16-1h0m-1 6h0m3 1h0m7 0h0m6 5h0m8 0h0m-9-2h0m5 0h0m3-1h0m-10-3h0m4-5h0m5-1h0m-2 17h0m-9 2h0m-1-5h0m-18 4h0m-23-1h0m-6-2h0m5 0h0m-26 4h0m-2-1h0m-13 5h0m-2 4h0m-10-6h0m-6-3h0m-5 2h0m-17 4h0m5-7h0m-20 3h0m5 3h0m-34-5h0m-11 0h0m-14 2h0m6 2h0m-6 1h0m-9 4h0m3-1h0m-4-7h0m2-2h0m-23 4h0m-8 6h0m0 0h0m-1-2h0m4-8h0m-19 2h0m1 3h0m-7-8h0m-21 3h0m8 1h0m-12 0h0m8 3h0m-5 1h0m-12 4h0m-4-3h0m-27-9h0m-7 10h0m15 5h0m0 2h0m-8 1h0m5 7h0m1 1h0m31-11h0m3 12h0m6-5h0m-6-3h0m5-3h0m16 4h0m-3 3h0m2 0h0m-4 1h0m-2 0h0m5 0h0m1 2h0m-6 1h0m26-8h0m-13-5h0m22 0h0m-6 0h0m4 4h0m2 1h0m7 8h0m14-11h0m2 1h0m5 8h0m130-9h0m-4 0h0m16 1h0m-6 5h0m10 1h0m35-2h0m5-3h0m-5-4h0m2 0h0m8 6h0m-3 9h0m-46 10h0m1-11h0m-24 11h0m-23-3h0m-21-6h0m-7 1h0m-7 5h0m-35 4h0m-1-2h0m-1 0h0m-2-3h0m-2-4h0m-41 4h0m5 3h0m-9 0h0m1-2h0m-12-5h0m-11 7h0m2 2h0m-17 1h0m9-1h0m0-4h0m-7 0h0m-2-4h0m-6-1h0m-6 4h0m4 0h0m-4 2h0m3 0h0m-21 4h0m11 0h0m1-3h0m-6-1h0m6-1h0m-8-1h0m-2-1h0m-8-5h0m-5 1h0m10 0h0m-9 4h0m-14-6h0m35 15h0m0 12h0m6-2h0m9-8h0m-12-2h0m3-1h0m14 0h0m10 5h0m12 6h0m2-3h0m-6-5h0m9-3h0m11 4h0m-5 2h0m0 1h0m8 2h0m7-1h0m4-3h0m-3 0h0m9 3h0m-5 2h0m22-1h0m-6-3h0m5-2h0m7-2h0m5 7h0m45-7h0m33 5h0m1-7h0m6 6h0m14 4h0m-5-8h0m19 2h0m11 3h0m3 20h0m-16-1h0m-3-4h0m1-4h0m-7 0h0m-8 2h0m-9-2h0m5-3h0m-22 12h0m-4-3h0m-2-6h0m-65 7h0m4-6h0m-11-4h0m4 6h0m-12 5h0m-3-4h0m-7-1h0m7-1h0m-9-4h0m5-2h0m-15 2h0m0 2h0m-20 6h0m-1-2h0m-14 0h0m6 1h0m-2 4h0m-13-8h0m1-2h0m0 0h0m-15-2h0m0 2h0m34 24h0m-7-6h0m22-4h0m5 8h0m-1-2h0m11-2h0m80 2h0m18-5h0m25-3h0m-10 8h0m5 3h0m38-2h0m5-9h0m-29 22h0m-2 1h0m-15-7h0m-15 2h0m11 1h0m-6 3h0m6 3h0m-36 6h0m15-3h0m-2 8h0m52-8h0m18-1h0m-21 15h0m-25 8h0m-28-6h0"/>
<path vector-effect="non-scaling-stroke" stroke="#bba5e0" d="M147 -191h0m-191 29h0m44 1h0m62-1h0m37 3h0m75 0h0m-2 17h0m-97-1h0m-78-6h0m184 33h0m12 18h0m-33 8h0m-87 12h0m97 19h0m3-2h0m-78 8h0m112-3h0m-2 7h0m-105 11h0m-53 7h0m-83-3h0m-182-7h0m32 21h0m235 5h0m133 3h0m-2-2h0m-30 4h0m-321 19h0m-1-4h0m296 0h0m-352 31h0m142-1h0m60-7h0m206 3h0m4 6h0m30 3h0m-3-6h0m0 11h0m-7 5h0m3-7h0m-42 6h0m-400 11h0m295-1h0m53-2h0m36 8h0m8 4h0m4-1h0m-3-3h0m3 0h0m-1-5h0m-5-2h0m8-1h0m17 12h0m22-9h0m-5 3h0m-1 2h0m9 2h0m-6 10h0m-1-7h0m-11 0h0m0 10h0m-9-3h0m1-6h0m-16 2h0m1 7h0m-15-3h0m-65-2h0m-24 18h0m18-5h0m40 0h0m16 4h0m-2-1h0m1-4h0m7 8h0m4 1h0m35-7h0m11-4h0m16 1h0m-9 2h0m56 10h0m-2 0h0m-2 4h0m-37 0h0m-14-1h0m-68 10h0m-30-8h0m-11 1h0m7 0h0m-22 4h0m-22-8h0m-147 9h0m-5-1h0m-112 11h0m26 4h0m24-6h0m46 5h0m36-1h0m22 4h0m-1-5h0m134-5h0m10 10h0m51-3h0m9-8h0m27-1h0m0 8h0m3 0h0m7-4h0m25 1h0m32 20h0m-7-7h0m-31 2h0m-28 4h0m-32-4h0m-5 4h0m-30-1h0m-20-8h0m-173 5h0m-30-1h0m-9 4h0m-13-1h0m-20-1h0m-17 4h0m-24-9h0m-13 5h0m38 19h0m18-3h0m33-2h0m17 2h0m195-4h0m20-3h0m45 7h0m38-1h0m-8-9h0m26 4h0m12 4h0m-94 17h0m-213-11h0m-3 6h0m-48 4h0m0-5h0m6-5h0m-15 1h0m-6 1h0m23 12h0m-2 4h0m2 3h0m-8 2h0m6 2h0m17-3h0m1-8h0m214 3h0m29 3h0m21 7h0m-41 7h0"/>
<path vector-effect="non-scaling-stroke" stroke="#ad8ee6" d="M-92 -198h0m106 15h0m37-3h0m4-6h0m26 5h0m36-2h0m54 18h0m-16 2h0m-2-3h0m-29-6h0m-24 4h0m0 3h0m-4-2h0m-6-6h0m-32 8h0m-12-9h0m6 6h0m-10 0h0m-12 0h0m-160 0h0m93 19h0m8-13h0m6 1h0m17 1h0m9 11h0m27-10h0m10 3h0m42 1h0m5 0h0m50 4h0m43-6h0m-4 7h0m1 8h0m-12-5h0m-1 2h0m-19 2h0m-21 7h0m-14 0h0m-17-2h0m-27 3h0m-37-12h0m-12 10h0m-35-11h0m-25 7h0m11 19h0m43-11h0m4 10h0m71-1h0m37-8h0m68 22h0m-25-9h0m-6 9h0m-17-2h0m-16-8h0m9 1h0m-34 6h0m-8-1h0m-10-1h0m-9-4h0m-11 2h0m1-3h0m-98 25h0m14-3h0m-1 0h0m10-1h0m12-1h0m12-1h0m18-4h0m0 5h0m19 0h0m114 1h0m12 0h0m-4 3h0m22 2h0m6-11h0m7 5h0m-11 4h0m17 2h0m-10 12h0m-11 1h0m-24-4h0m1-2h0m3-4h0m-38-1h0m-8 13h0m-11 0h0m-16-9h0m-40 5h0m-15-2h0m-29 2h0m-58-8h0m3 3h0m-69-3h0m61 17h0m13 4h0m19-2h0m-7 4h0m11 1h0m20-5h0m51-4h0m65 1h0m33 4h0m3-1h0m14 5h0m18-8h0m-1-2h0m12 4h0m9-2h0m-12 19h0m-43-8h0m-4 6h0m13 1h0m-12 1h0m-11-4h0m-14 3h0m-29-2h0m-127-1h0m-16-4h0m-4 12h0m1-6h0m-59-4h0m-84 3h0m138 14h0m33 5h0m3-9h0m57 4h0m55 8h0m26-9h0m15 7h0m16-4h0m4-3h0m6 0h0m3 5h0m27 2h0m-10-6h0m9-3h0m8 15h0m-13-2h0m-4 3h0m6 2h0m1 7h0m-13-5h0m-34-1h0m4-3h0m-33-1h0m-8 6h0m-100-1h0m3-7h0m-79 11h0m-64-9h0m-10-2h0m-20 3h0m-21 4h0m-35 5h0m-6-7h0m-2 18h0m5 2h0m11 1h0m8-1h0m-7-3h0m1-6h0m29 10h0m24-2h0m26-11h0m81 1h0m7 5h0m117-3h0m31-1h0m16 3h0m15 1h0m13 2h0m25-3h0m15 7h0m-3-9h0m10 3h0m1 7h0m3 13h0m-4 0h0m10-5h0m-12-1h0m-9-2h0m3 2h0m-45 2h0m-14 0h0m-65-1h0m0-5h0m-2-1h0m-13 7h0m-14-6h0m-86 5h0m-59-1h0m-33 5h0m-29-7h0m-53 9h0m11-12h0m-14 1h0m-1 14h0m4 8h0m14-5h0m121-1h0m50-1h0m30 1h0m19 6h0m184-3h0m8-4h0m14 24h0m-8-1h0m-24-2h0m-9-5h0m-197 6h0m-49 2h0m-25-7h0m-4 3h0m-8-3h0m-75 2h0m-48-6h0m3 10h0m-2 0h0m-3 13h0m4-9h0m14 10h0m117-10h0m15-2h0m8 9h0m73-8h0m93 3h0m86 3h0m2 1h0m15-2h0m-2-1h0m8-1h0m3 2h0m3 2h0m-4 2h0m11-6h0m-14 18h0m-18-3h0m-54 7h0m-264-12h0m-20 13h0m-1-8h0m-4-1h0m-3-2h0m-68 6h0m29 19h0m20-9h0m14 6h0m-8-7h0m29 6h0m11-7h0m58 8h0m190-2h0m-4-5h0m5 0h0m22-1h0m10-1h0m12 10h0m3 0h0m3-7h0m24 3h0m7-1h0m-7-3h0m5-2h0m10-1h0m-3 2h0m7 1h0m-2 3h0m-3 0h0m3 6h0m-20 5h0m8 4h0m-32-7h0m-8 5h0m-35 2h0m-8 4h0m-6 2h0m-15-1h0m8-1h0m-10-4h0m-6-1h0m-18 5h0m-33 1h0m-48-2h0m1-8h0m-22 3h0m-21 2h0m-53 4h0m-64 0h0m-22-6h0m-21-5h0m3 15h0m-1 4h0m-3 6h0m74-5h0m3-4h0m71 10h0m137-1h0m12-1h0m4-1h0m5-5h0m-9-2h0m14 11h0m4 0h0m8-12h0m6 0h0m-15 22h0m-4-2h0m5-4h0m-9 0h0m-1 4h0m-5 2h0m-1 3h0m-53 1h0m-145-2h0m-4 0h0m1 1h0m-2-1h0m-29-6h0m-21-4h0m-10 8h0m4-5h0m-20-3h0m-19 0h0m-6 6h0m13 9h0m2 3h0m-3 4h0m-8 0h0m19 3h0m1-2h0m-1-1h0m25-1h0m-1-7h0m21 2h0m5 3h0m-9 0h0m23 6h0m-5-4h0m-5-2h0m21 3h0m2 2h0m64-3h0m59-2h0m81 7h0m1-4h0m5-3h0m4-6h0m28 1h0m16 2h0m50-3h0m-61 23h0m-42-7h0m4 1h0m-162 8h0m3-3h0m-60 4h0m6-4h0m-19-6h0m-2 2h0m0 7h0m12 2h0m-16-3h0m-8-4h0m0-2h0m10-1h0m-32 8h0m-17-5h0m0 11h0m12 5h0m16-2h0m-5-3h0m22 2h0m-3 2h0m8 4h0m13-11h0m5 0h0m5 5h0m2 7h0m11-1h0m0 0h0m1-6h0m3-2h0m-2-3h0m7 5h0m-2 1h0m0 1h0m19 0h0m7-1h0m-8-1h0m4-3h0m-8 12h0m12 1h0m-9 5h0m5 2h0m-23 4h0m4-1h0m2-2h0m-6-1h0m10-1h0m-9-3h0m2 0h0m7-4h0m-16 2h0m2 3h0m2 2h0m-9 2h0m-2 0h0m11 0h0m-9 2h0m-14-3h0m1-1h0m-3-3h0m7-2h0m1-2h0m-17 0h0m-4 1h0m11 5h0m-26 0h0m1-2h0m-1-3h0m15 13h0m21 0h0m-2 7h0m4 2h0m-2 0h0m4 1h0m5-1h0m1-9h0m18 3h0m-35 11h0"/>
<path vector-effect="non-scaling-stroke" stroke="#0000ff" d="M2 -219h0m-1 2h0m-55 18h0m-8 21h0m-39 7h0m-14 13h0m47 26h0m4 42h0m2 0h0m0 5h0m-26 24h0"/>
<path vector-effect="non-scaling-stroke" stroke="#c8bcda" d="M159 -188h0m-23 129h0m-261 48h0m251 61h0m36 12h0m-5-4h0m34 10h0m-7-3h0m22-1h0m-2 16h0m-1-4h0m-20-5h0m9 3h0m-9 5h0m4 3h0m-6-8h0m-28-4h0m-18 1h0m-370 2h0m323 21h0m48-8h0m-5 0h0m22-2h0m26 2h0m2 5h0m13 2h0m11-9h0m-7 6h0m1 2h0m0 2h0m0 2h0m4 1h0m15-1h0m-2-5h0m-3 0h0m-3-6h0m39 14h0m-34 0h0m5 2h0m-2 8h0m-24 0h0m0 2h0m-39 0h0m-4 0h0m-7-1h0m8-9h0m0-2h0m-17 3h0m2 2h0m-8 0h0m4 2h0m6 0h0m-9 1h0m9 1h0m-11 1h0m-2 0h0m12 1h0m-26 1h0m-55-12h0m56 21h0m21 3h0m-6-8h0m8-2h0m6 4h0m2 2h0m4 0h0m9-7h0m21 3h0m-4 4h0m3 5h0m5-4h0m13-5h0m37 2h0m2 1h0m-5 1h0m1 2h0m-4 2h0m9 1h0m14 1h0m0-6h0m-5-3h0m4-1h0m5 6h0m7 10h0m-34 5h0m2-9h0m-7 7h0m2 5h0m-37-12h0m3 12h0m-12-4h0m3-2h0m-6-1h0m-15 5h0m-9-1h0m-16 0h0m-8 3h0m-12 0h0m1-5h0m-8-7h0m-3 2h0m-306 16h0m84 4h0m3-2h0m208-1h0m-7 6h0m28-4h0m0 5h0m23-3h0m-4-1h0m17-6h0m2 4h0m1 6h0m16-8h0m16 6h0m2-1h0m10 1h0m8 1h0m5-2h0m9-2h0m-2-1h0m2-1h0m-7 0h0m10-2h0m-6-1h0m8-1h0m-23 14h0m-37 9h0m-11-10h0m-27 1h0m12 3h0m-7 4h0m-13 3h0m3-11h0m-15 12h0m-18-3h0m-2-2h0m3 0h0m5-8h0m-15 7h0m-175-3h0m-14 7h0m11-1h0m-3-4h0m-48 3h0m239 9h0m0 6h0m16 2h0m0-2h0m2 0h0m-8-3h0m22-5h0m-7 7h0m24 0h0m-10-2h0m1-5h0m16 0h0m-3 5h0m2 0h0m9 3h0m5 1h0m-4-11h0m-40 25h0m2-4h0m2 0h0m-19-6h0m7 1h0m5 2h0m-3 2h0m0 3h0m-6 0h0m8 2h0m-3 4h0m-5 0h0"/>
</g>
<g transform="translate(1033.8 1885.3) scale(0.887066 1.0438)" fill="none" stroke-linecap="round" stroke-width="6.8">
<use href="#C2" stroke="#d3d3d3"/>
<use href="#C3" stroke="#d3d3d3"/>
<use href="#C1" stroke="#d3d3d3"/>
<use href="#C0" stroke="#d3d3d3"/>
<use href="#C4" stroke="#d3d3d3"/>
<use href="#C5" stroke="#8a60f1"/>
<use href="#K2" stroke="#d3d3d3"/>
<use href="#K3" stroke="#d3d3d3"/>
<use href="#K1" stroke="#d3d3d3"/>
<use href="#K0" stroke="#d3d3d3"/>
<use href="#K4" stroke="#d3d3d3"/>
<use href="#K5" stroke="#8a60f1"/>
<path vector-effect="non-scaling-stroke" stroke="#0000ff" d="M252 100h0m-1 2h0"/>
<path vector-effect="non-scaling-stroke" stroke="#522dfb" d="M-1 -155h0m3 9h0"/>
<path vector-effect="non-scaling-stroke" stroke="#bba5e0" d="M64 -192h0m27 22h0m-53 6h0m101 18h0m-13 3h0m-33-10h0m-19 24h0m109 8h0m-57-3h0m6 0h0m-35 8h0m-54 1h0m19 5h0m84 8h0m15 2h0m-1-2h0m3-4h0m-5-5h0m12 1h0m29-1h0m7 9h0m7 0h0m-14 14h0m-16-7h0m4 9h0m-16-10h0m-60 10h0m-34-4h0m3 3h0m-33-7h0m6 5h0m-84-3h0m34 20h0m46-6h0m71-1h0m-2 3h0m15 4h0m18-4h0m15-3h0m12 14h0m-21 8h0m-20-10h0m-58 2h0m-13-1h0m-20 6h0m-94-3h0m120 7h0m52 8h0m14-1h0m-4-7h0m6 13h0m23-5h0m16-4h0m4 1h0m21 18h0m-15-4h0m-5 7h0m-2 0h0m-9 0h0m-18-12h0m12 1h0m-2 4h0m-6 7h0m-19 0h0m-14-12h0m7 3h0m-2 2h0m-87 15h0m30 1h0m30 5h0m21-1h0m12 0h0m15-11h0m-8 8h0m16-4h0m12 2h0m18 0h0m8-2h0m12 23h0m-10-1h0m1-9h0m-18 8h0m-2 2h0m-4 0h0m-23-10h0m4 4h0m6 3h0m-3 2h0m-30-11h0m-29 7h0m-32-8h0m-10 19h0m56-4h0m45 11h0m16-9h0m-1 4h0m-4 1h0m12 2h0m9-8h0m-2 0h0m-6-2h0m13 3h0m5 4h0m-6 5h0m16 0h0m-2-4h0m3 17h0m-21-8h0m-1 5h0m-11 4h0m-10-6h0m10-1h0m-21-3h0m-57 0h0m-21 7h0m-15-3h0m17 21h0m94-11h0m0 3h0m5-5h0m29 4h0m-1-3h0m-28 13h0m-72 20h0m-13-3h0m37 3h0m-1 11h0m-61 1h0m17 23h0m14 6h0m-10 2h0m-6 18h0"/>
<path vector-effect="non-scaling-stroke" stroke="#9d77ec" d="M-43 -196h0m91 26h0m12 8h0m124 7h0m-12 21h0m16 21h0m-74-6h0m-34 3h0m-141-4h0m-31 43h0m171 2h0m32-8h0m62 9h0m-67 43h0m-183-6h0m270 10h0m-50 25h0m-28 1h0m-50-3h0m-168-7h0m-103 7h0m403 29h0m-30-6h0m-351 3h0m284 11h0m-1-4h0m80 12h0m3-8h0m26 17h0m-11-2h0m10 0h0m-6-2h0m3-1h0m5-1h0m-9-2h0m-13 1h0m-5 1h0m2 0h0m7 4h0m-7 1h0m1 3h0m9 2h0m-13-5h0m-317 13h0m65-4h0m215 10h0m15-6h0m-2-1h0m4-3h0m-2-1h0m9 7h0m27-2h0m-8-5h0m2-1h0m10 8h0m8 19h0m-9-4h0m-2 0h0m7-1h0m3 0h0m-15-8h0m-1 3h0m3 10h0m-14-2h0m-27-8h0m-290 6h0m274 16h0m2-3h0m0-6h0m2-2h0m20 0h0m12 2h0m4 0h0m1 2h0m0 2h0m20-6h0m7 2h0m-3 11h0m14 10h0m-17 0h0m-7-5h0m-15 8h0m3-4h0m-43 5h0m-27-4h0m-147 13h0m3-6h0m146 7h0m35-3h0m46 3h0m13-2h0m5 4h0m15 2h0m23-3h0m2-3h0m6-4h0m4 5h0m2 0h0m-7 0h0m2 6h0m-17 2h0m7 1h0m-4 1h0m7 1h0m-25 2h0m2-1h0m9-4h0m-12-1h0m-1 6h0m-11 3h0m6 1h0m-15-10h0m-28 8h0m6-4h0m-14 2h0m-9 0h0m7 2h0m-5 4h0m-30-8h0m-5 6h0m-13-3h0m12 0h0m-1-7h0m-16 2h0m-2 2h0m-250-2h0m14 20h0m22-2h0m187-2h0m11 3h0m2 2h0m-3 3h0m9 0h0m4-7h0m2 0h0m20-4h0m-2 0h0m-7 0h0m2 8h0m16-6h0m11 2h0m0 2h0m6 3h0m-3 2h0m30-9h0m19 0h0m28 4h0m-8-3h0m3-3h0m-61 17h0m-1 2h0m6 5h0m-43-9h0m-33 7h0m-2-10h0m-1 7h0m-2 2h0m-108 9h0m119 5h0m22 2h0m30-1h0m4 2h0m-7 3h0m-8-1h0m-6 5h0m-24-2h0m-8 1h0m15 10h0"/>
<path vector-effect="non-scaling-stroke" stroke="#8a60f1" d="M-91 -189h0m-33 81h0m289 5h0m1 14h0m-299 31h0m-83 64h0m55 12h0m-44 20h0m20 26h0m47-2h0m136 9h0m-112 13h0m138 46h0"/>
<path vector-effect="non-scaling-stroke" stroke="#ad8ee6" d="M108 -200h0m-144 14h0m209 15h0m-124 6h0m113-3h0m12 1h0m-23 17h0m-101-3h0m-19 14h0m90 5h0m37 7h0m14-13h0m27 27h0m-45-4h0m-9-8h0m-50 4h0m-8-4h0m-42 10h0m-34 15h0m44 1h0m151 14h0m0-2h0m-53 2h0m-40-1h0m-27 1h0m-11 0h0m-40 2h0m15 3h0m6 7h0m82-2h0m-12-1h0m61 1h0m6-4h0m11 2h0m-1 19h0m-10-3h0m-12-7h0m-27 2h0m-10 9h0m4-5h0m-14 4h0m-157 8h0m31 7h0m92-12h0m16 9h0m61-7h0m4 2h0m-1 8h0m23-13h0m-6 4h0m-35 13h0m-2 1h0m-61 9h0m-30-9h0m-18 8h0m-22-7h0m42 18h0m0-2h0m11-5h0m25 9h0m32-3h0m-4-2h0m30 2h0m-3-3h0m14-3h0m-7 2h0m11 4h0m7 2h0m-2-7h0m14 18h0m-3-7h0m-14 4h0m6 2h0m7 7h0m-27 0h0m9-2h0m-2-2h0m-25 3h0m-10-8h0m-83 10h0m3 3h0m104 9h0m-3-2h0m5-1h0m-9-1h0m2 0h0m3-3h0m1-5h0m14 1h0m-4 1h0m7 1h0m-4 2h0m-4 1h0m2 2h0m-3 4h0m6 1h0m12-4h0m-6-1h0m6-1h0m-2-1h0m0-2h0m-2-1h0m2-1h0m14 1h0m2 2h0m-4 0h0m0 3h0m-1 2h0m17 3h0m-5 0h0m1 7h0m2 3h0m3 2h0m-17 0h0m8-3h0m-8-2h0m-3-2h0m-5-4h0m-6 1h0m6 3h0m3 1h0m-3 1h0m-6 2h0m10 1h0m-12 2h0m4 1h0m-14-1h0m6-2h0m-2-1h0m-8-5h0m2-1h0m-63-1h0m-5 7h0m2 1h0m-2 8h0m69-1h0m8 3h0m10 7h0m3-2h0m-10-3h0m7-3h0m-7-1h0m7-1h0m17 2h0m-2 0h0m0 4h0m2 3h0m2 1h0m-7 0h0m9-4h0m-2 10h0m-11 0h0m-14 0h0m2 1h0m-6-1h0m-53 1h0m-33 4h0m-22-5h0m6 39h0m27 2h0m139 36h0m-86 24h0"/>
<path vector-effect="non-scaling-stroke" stroke="#7248f6" d="M-51 -146h0m-157 172h0m66 42h0m338 13h0m12-3h0m-35 2h0m2-1h0m-32-3h0m2-5h0m-12 14h0m70 8h0m9 4h0m-15 14h0m10-10h0m-51 7h0m11 0h0m-15-5h0m-40 10h0m24 11h0m9-12h0m8 7h0m37 6h0m14-13h0m0 2h0m3 8h0m16 2h0m11-2h0m6-1h0m1-6h0m2-1h0m-126 22h0m-21 15h0m-2 1h0m49-10h0m9 1h0m27 1h0m5-1h0m29 1h0m-59 18h0m-14-3h0m-39 14h0m18 5h0m20-3h0m13-7h0m-53 19h0m7 1h0m-9-3h0m-70 6h0"/>
<path vector-effect="non-scaling-stroke" stroke="#c8bcda" d="M166 1h0m31 6h0"/>
<path vector-effect="non-scaling-stroke" stroke="#d3d3d3" d="M195 5h0m-64 136h0"/>
<path vector-effect="non-scaling-stroke" stroke="#7248f6" d="M-38 -185h0m-41 165h0m-99 33h0m143-4h0m224 72h0m0 2h0m-15 0h0m-40 0h0m61 4h0m10 23h0m-36-6h0m9-2h0m-396 19h0m34 0h0m293 0h0m0-3h0m41 3h0m5-5h0m18-1h0m12-1h0m24 7h0m-11 2h0m39 1h0m-81 13h0m-30-9h0m12 10h0m-309-7h0m253 17h0m14-2h0m-8 5h0m16-9h0m8-1h0m27 1h0m-11-1h0m17 6h0m13 16h0m-22-6h0m-11 5h0m-18 19h0m-3-13h0m32 7h0m5-2h0m20 1h0m-18 8h0"/>
<path vector-effect="non-scaling-stroke" stroke="#c8bcda" d="M180 13h0m-4 2h0"/>
<path vector-effect="non-scaling-stroke" stroke="#9d77ec" d="M-133 -187h0m249 8h0m23 24h0m22-10h0m23 13h0m-248-1h0m185 23h0m-10 6h0m-29 6h0m44 35h0m30 12h0m-1-11h0m-338 25h0m321 6h0m41-3h0m-2 14h0m-330 9h0m4 6h0m115 9h0m194-5h0m10 6h0m-4 14h0m-81-5h0m-293-6h0m42 25h0m370 14h0m-384-13h0m50 22h0m-4 2h0m315 0h0m11 2h0m-7 0h0m2-6h0m-3-1h0m25 2h0m-6 1h0m6 1h0m-4 2h0m2 2h0m-10 0h0m4 11h0m1-8h0m-7-2h0m-6 3h0m2 7h0m-9 0h0m-375-7h0m300 24h0m43-8h0m-3 4h0m16-1h0m2-1h0m-8 0h0m7-4h0m2-1h0m-5-2h0m23 6h0m6-1h0m-3 0h0m19 1h0m-8 4h0m12 15h0m-2 0h0m-21-3h0m4 1h0m2 0h0m-13-2h0m-18 2h0m-3 3h0m-8-5h0m-13 6h0m-79-6h0m71 11h0m12 3h0m5 5h0m22-6h0m34-6h0m5 1h0m-1 9h0m-4 1h0m44 6h0m-51 0h0m-2-1h0m-1 4h0m-19-1h0m-16 3h0m-8-3h0m-5-3h0m1-2h0m-10 0h0m-1 6h0m-2 4h0m-27 1h0m3 1h0m-276-2h0m-11 0h0m7 17h0m305-8h0m-4-4h0m10 6h0m15-6h0m31 3h0m-3-1h0m11-2h0m11 9h0m42 3h0m10-8h0m-16 15h0m2 6h0m-7-2h0m-10-9h0m11-1h0m-14 3h0m-14 10h0m-2 0h0m-9-9h0m7-4h0m-22 12h0m-2-12h0m-26 7h0m8 2h0m0 3h0m-21 0h0m5-4h0m-21 0h0m5 3h0m-42 7h0m-5 4h0m0 2h0m23-2h0m-2-2h0m11-2h0m3 1h0m-3 1h0m15 5h0m-2 0h0m5-9h0m11 3h0m4 4h0m5-6h0m53-1h0m5 6h0m-1-4h0m6-4h0m8 0h0m-16 14h0m-48 7h0m-5 4h0m0 2h0m-15-2h0m-12-5h0m0 2h0m-38 1h0m-12-4h0m8 15h0m2 1h0m-2 4h0m16 2h0m3-8h0m21 8h0m7-8h0m-2-4h0m3-1h0m10 4h0m9 3h0m3-3h0m6 0h0m-1-4h0m-33 14h0m-31 9h0m10 2h0m-11-4h0"/>
<path vector-effect="non-scaling-stroke" stroke="#ad8ee6" d="M152 -178h0m-23-1h0m-104 18h0m68 6h0m85-13h0m-48 17h0m3 1h0m-16 4h0m5-4h0m-15-4h0m-134 15h0m17 8h0m27-8h0m12 2h0m116 5h0m37 7h0m-20 4h0m-4 6h0m-10-10h0m-23 4h0m-48 7h0m-31-10h0m-45 6h0m-36-7h0m119 16h0m53 5h0m2-1h0m29-1h0m18 9h0m6 6h0m-20 5h0m-9-11h0m1 6h0m-19 6h0m-42-13h0m3 4h0m-15 7h0m-61-9h0m-22 1h0m69 18h0m35-3h0m19 5h0m18 2h0m5-2h0m14-9h0m13 5h0m-128 20h0m-37-1h0m53 6h0m-11 9h0m47-9h0m18 0h0m5 6h0m28 4h0m18-11h0m29 4h0m-19 16h0m5 0h0m-7 3h0m-28-1h0m-12 1h0m-2 0h0m-88-4h0m-14 11h0m4 3h0m119-4h0m43 25h0m0-3h0m-10-4h0m-2 2h0m-7 2h0m-6 2h0m-44-12h0m-12 2h0m-12-1h0m21 17h0m11-4h0m23 13h0m-9-7h0m11-1h0m11 0h0m0 2h0m-1 4h0m15 1h0m-5 0h0m-1-2h0m2-6h0m2-4h0m6 5h0m16 5h0m1 17h0m-10-2h0m-3-1h0m7 0h0m-11-2h0m12 0h0m-26-8h0m4 0h0m2 1h0m-2 1h0m-2 3h0m4 1h0m0 2h0m-6 0h0m-14 3h0m9 0h0m1-6h0m-8-1h0m9-2h0m-20-2h0m-60 13h0m-16 6h0m44 6h0m48-4h0m13 2h0m-2 0h0m6-1h0m-8-1h0m7-4h0m10-3h0m2 1h0m5 4h0m-8 1h0m-4 5h0m8 2h0m6-1h0m3-3h0m2-1h0m-3-1h0m3-3h0m-16 12h0m9-2h0m-7 0h0m-13 0h0m-76 6h0m-22 9h0m20 10h0m90-9h0m-89 30h0m0 4h0m-32 12h0m5 17h0"/>
<path vector-effect="non-scaling-stroke" stroke="#8a60f1" d="M158 -185h0m-188 28h0m22 25h0m-111 58h0m-86 37h0m71 10h0m-91 19h0m258 15h0m-161 24h0m-2 58h0m136 9h0m31 28h0m-151 48h0"/>
<path vector-effect="non-scaling-stroke" stroke="#d3d3d3" d="M155 148h0m-74 9h0"/>
<path vector-effect="non-scaling-stroke" stroke="#bba5e0" d="M79 -183h0m1-8h0m61 3h0m17-2h0m4 13h0m-153 21h0m161-4h0m4 13h0m-25-3h0m-17 5h0m-143 18h0m34-3h0m60-6h0m50 1h0m9 8h0m58 8h0m-48-4h0m-40 8h0m12-8h0m-50 9h0m-50-12h0m112 26h0m6-11h0m36 2h0m1 7h0m8-6h0m30 13h0m-7 4h0m-22-1h0m-30-6h0m1 2h0m-1 6h0m-41-3h0m-8 7h0m-33-8h0m-3 12h0m15-1h0m61 5h0m10-6h0m14 0h0m16 15h0m-8 11h0m-4-5h0m-24 6h0m-1-4h0m-17-7h0m-37 11h0m-27-11h0m2 2h0m-16 0h0m-21 5h0m-21-4h0m-3-2h0m-51 4h0m42 20h0m72-4h0m71-6h0m7 4h0m11 3h0m-3-2h0m31 0h0m-5-3h0m15 10h0m-27 4h0m-13 2h0m-5 6h0m-5-1h0m-6-7h0m-20-2h0m3 2h0m-14 0h0m-7-3h0m2 10h0m-19-7h0m-10 8h0m-23-10h0m-32 2h0m-23-1h0m27 15h0m16 1h0m21-2h0m26-1h0m7 10h0m4-5h0m11 0h0m22 1h0m21-2h0m16-1h0m15 4h0m-2-4h0m-2 0h0m11 0h0m1 2h0m4 5h0m-4 5h0m-5 2h0m2 2h0m-3 2h0m-3 3h0m-13 0h0m-12-5h0m-3 1h0m2 1h0m-51-4h0m-8 5h0m31 9h0m11-5h0m13 9h0m1-4h0m7-2h0m9-2h0m-5 3h0m0 3h0m7 1h0m-5 1h0m9 1h0m14 2h0m-1-4h0m-1-4h0m-4-4h0m8 0h0m4 6h0m-5 3h0m16 5h0m0 11h0m-6 1h0m-4-1h0m1-3h0m-2-1h0m-3-4h0m-11 1h0m-4 1h0m12 1h0m-25 6h0m-1-6h0m4-2h0m4-2h0m-59 4h0m-18 2h0m-28 2h0m119 10h0m-2 0h0m-1-5h0m20-2h0m-11 0h0m-135 35h0m24-7h0m55 6h0m-58 29h0m-8 7h0m1 2h0"/>
<path vector-effect="non-scaling-stroke" stroke="#0000ff" d="M-21 -129h0m275 225h0"/>
<path vector-effect="non-scaling-stroke" stroke="#7248f6" d="M-9 -197h0m-30 23h0m220 135h0m2 112h0m8 4h0m-32-7h0m-25 22h0m-2-1h0m117 11h0m-37 0h0m-14-1h0m-68 10h0m-16 2h0m22 9h0m-6-7h0m15-1h0m35-2h0m-8 1h0m0 8h0m35-3h0m32 20h0m-7-7h0m-31 2h0m-28 4h0m-32-4h0m-22 2h0m-13 1h0m-18 10h0m20-3h0m45 7h0m38-1h0m18-5h0m12 4h0m-94 17h0m-26 6h0m29 3h0m21 7h0m-41 7h0"/>
<path vector-effect="non-scaling-stroke" stroke="#d3d3d3" d="M204 34h0m-5 60h0"/>
<path vector-effect="non-scaling-stroke" stroke="#0000ff" d="M251 96h0m0-3h0m2 1h0m-1 6h0m2 0h0m-1-2h0m-2 0h0"/>
<path vector-effect="non-scaling-stroke" stroke="#bba5e0" d="M104 -197h0m-49 3h0m28 11h0m68 13h0m-113 8h0m42-3h0m18 2h0m76 8h0m-6 12h0m-40-1h0m5 3h0m-14-13h0m-42 6h0m-47-1h0m-27 1h0m-12 10h0m64 11h0m34-1h0m40-11h0m45 7h0m29 18h0m-20-11h0m8 12h0m-15 0h0m4 0h0m1-8h0m-15-1h0m-9 4h0m-16-3h0m-2 3h0m-42-1h0m-74-4h0m-22 13h0m55-1h0m12 3h0m72-4h0m6 7h0m-6 2h0m22 1h0m-8-8h0m6-2h0m8 11h0m11 2h0m6 0h0m-3-7h0m17-1h0m14 14h0m-153 3h0m-17-3h0m-54 14h0m2-4h0m11 2h0m26 6h0m3 3h0m15-11h0m36 5h0m33 0h0m6 6h0m5-2h0m19-9h0m6 3h0m6 5h0m11-4h0m12 4h0m-8 3h0m14-1h0m9-8h0m6 0h0m9 19h0m-6-4h0m-4-3h0m-16-1h0m7 8h0m-13 1h0m2-4h0m-11-2h0m-33-3h0m-3 10h0m-104-7h0m9 11h0m29 10h0m31 1h0m1-5h0m36 7h0m-4-7h0m27 5h0m-2-10h0m28 12h0m10-8h0m-24 20h0m5-1h0m-3-4h0m2-5h0m-3 0h0m-26 8h0m8-6h0m-53 4h0m-2 0h0m3 2h0m-32-3h0m-4-2h0m-36-1h0m-6 3h0m3 13h0m30 5h0m27-4h0m34 4h0m30-6h0m-7 8h0m2 1h0m21-6h0m15-3h0m-1 6h0m22-8h0m7 11h0m2 0h0m-6 13h0m-4 0h0m-2-2h0m5-4h0m-5 0h0m-11-1h0m5 1h0m0 2h0m-8 1h0m5 2h0m-8-1h0m-2-1h0m0-2h0m-17-2h0m4 7h0m-15-4h0m-13-2h0m-2 4h0m-26-5h0m0 2h0m-53 5h0m-19-12h0m85 19h0m11 1h0m15-5h0m32 0h0m-9 1h0m4 8h0m2 1h0m-1 2h0m17-6h0m3 0h0m-4-3h0m12-1h0m-2 2h0m10 6h0m2-4h0m4 20h0m-8-1h0m-12-6h0m0-6h0m-3 1h0m-9 9h0m-10 2h0m1-2h0m5-3h0m-5-2h0m-2-3h0m-74 9h0m-2 2h0m82 4h0m21 1h0m-67 19h0m-44 3h0m1 13h0m48-6h0m-37 9h0m-31 27h0m3-3h0m17 13h0m-3 9h0"/>
<path vector-effect="non-scaling-stroke" stroke="#ad8ee6" d="M178 -171h0m-220-9h0m-2-1h0m172 19h0m48 6h0m-2 15h0m-46-12h0m9 12h0m-154-5h0m-21 11h0m161-3h0m14 5h0m33 2h0m-29 13h0m-8 0h0m-33 1h0m-85 1h0m-41 5h0m24 4h0m167 2h0m30 5h0m1 12h0m-11-3h0m-20-5h0m-38 11h0m-29 0h0m-38-10h0m28 17h0m101-6h0m10 1h0m14 2h0m-28 17h0m-30 2h0m6 0h0m-19 3h0m-3 0h0m-28-7h0m-39-4h0m11 9h0m-39 2h0m-32-4h0m123 18h0m3-2h0m5-6h0m5 5h0m15-6h0m42 5h0m-4 4h0m-29 13h0m7-2h0m-20-6h0m-19 6h0m9 0h0m-37 3h0m-16-6h0m-112-1h0m41 18h0m33 4h0m69-2h0m9-6h0m7 2h0m-2 2h0m47-5h0m3 0h0m8 10h0m7 12h0m-8-1h0m11 0h0m-4-2h0m3-1h0m-21 1h0m6 3h0m-8 1h0m-2 1h0m-2-2h0m-27 0h0m-10-11h0m-104 4h0m96 15h0m12-2h0m18 8h0m-3-1h0m-2-2h0m2-1h0m5-6h0m0 2h0m6 2h0m7 1h0m-13 3h0m22 2h0m-5-6h0m15-5h0m7 7h0m-4 2h0m6 0h0m-2 2h0m2 0h0m-10 2h0m14-8h0m-2 18h0m-6 0h0m-6 0h0m-15-6h0m-2 0h0m5 4h0m8 6h0m-18 0h0m-4-4h0m0-9h0m-11 0h0m-62 4h0m80 10h0m-6 1h0m4 6h0m2 1h0m15 4h0m-11-3h0m11-3h0m-2-1h0m-5-1h0m6-3h0m8 1h0m4 0h0m-3 2h0m4 4h0m-4 2h0m11 2h0m-3-6h0m3-2h0m0-2h0m4-1h0m-7 16h0m-4-2h0m-42 6h0m-30-1h0m3 1h0m-12 1h0m-11 5h0m-44-2h0m0 15h0m8-12h0m110 3h0m-98 12h0m-29 1h0"/>
<path vector-effect="non-scaling-stroke" stroke="#8a60f1" d="M-122 -184h0m-29 34h0m66 14h0m-76 102h0m159 48h0m31 48h0m-166 21h0m-101 3h0m174 1h0m-105 35h0m186 16h0m-168-12h0m18 26h0m171 34h0"/>
<path vector-effect="non-scaling-stroke" stroke="#522dfb" d="M-14 -161h0"/>
<path vector-effect="non-scaling-stroke" stroke="#9d77ec" d="M-29 -220h0m26 27h0m-56 36h0m-77 30h0m302 11h0m-123 3h0m46 13h0m71 10h0m-157 7h0m57 1h0m108 11h0m-53 6h0m-14 0h0m-166 8h0m-122-1h0m-35-7h0m275 18h0m87 0h0m45-4h0m-288 17h0m241 12h0m13 2h0m50 15h0m-268-3h0m-135 8h0m326 5h0m85-1h0m-15 21h0m-13-2h0m-387 12h0m80 0h0m298-7h0m19 0h0m17 2h0m-2 4h0m9 0h0m2 0h0m-6 9h0m-7 7h0m-4 0h0m9-2h0m-13-2h0m9-3h0m-11 1h0m-12 3h0m-2-3h0m-405 13h0m123 0h0m251 8h0m13-3h0m-2-2h0m7 0h0m-10-2h0m-2 0h0m8-1h0m28 11h0m4-1h0m-9-2h0m-2 0h0m7-8h0m10-1h0m-3 2h0m4 2h0m-5 3h0m9 1h0m4 15h0m-6-9h0m-4 0h0m-10 5h0m-33 7h0m-14-2h0m-1-2h0m5-4h0m6-4h0m-65 10h0m-266-4h0m-9 4h0m5 17h0m41-8h0m273 5h0m8-4h0m12 0h0m25-6h0m4 5h0m-6 4h0m19-2h0m1-2h0m-6-2h0m4 0h0m-9-2h0m17-1h0m11 5h0m35 13h0m-92 0h0m-1 5h0m11 4h0m-15-10h0m-13 6h0m-135-8h0m-181 2h0m-14 0h0m44 17h0m259-4h0m24 7h0m4-4h0m-2-2h0m13-1h0m-1 3h0m3 2h0m23-7h0m7 3h0m-9 4h0m8 2h0m12 2h0m-2-3h0m7-2h0m6 0h0m-1 2h0m-4 1h0m22-8h0m8 8h0m4 2h0m17-6h0m1-2h0m9-2h0m0 11h0m-3 0h0m-13 11h0m-4 0h0m-11 3h0m5-1h0m0-10h0m-44 0h0m4 4h0m-15-3h0m-18-1h0m-2 0h0m-9 3h0m-19-2h0m-7 8h0m-6-2h0m-320-4h0m283 13h0m15-1h0m30 0h0m18-2h0m-3 0h0m7 1h0m4 0h0m10 2h0m10-2h0m22 4h0m8 0h0m16 0h0m-2-4h0m9 3h0m-23 10h0m-46 1h0m4 4h0m2 4h0m3 4h0m-22-9h0m6-2h0m-15 5h0m1 5h0m-49 0h0m2-8h0m6 0h0m-14-1h0m4 8h0m-215-6h0m213 9h0m5 0h0m16 1h0m20 10h0m3 1h0m4 0h0m28-6h0m-40 13h0m8-5h0m-20 4h0m-5 5h0m-3-8h0"/>
</g>
<g transform="translate(1712.4 1885.3) scale(0.887066 1.0438)" fill="none" stroke-linecap="round" stroke-width="6.8">
<use href="#C2" stroke="#d3d3d3"/>
<use href="#C3" stroke="#d3d3d3"/>
<use href="#C1" stroke="#d3d3d3"/>
<use href="#C0" stroke="#d3d3d3"/>
<use href="#C4" stroke="#d3d3d3"/>
<use href="#C5" stroke="#d3d3d3"/>
<use href="#K2" stroke="#d3d3d3"/>
<use href="#K3" stroke="#d3d3d3"/>
<use href="#K1" stroke="#d3d3d3"/>
<use href="#K0" stroke="#d3d3d3"/>
<use href="#K4" stroke="#d3d3d3"/>
<use href="#K5" stroke="#d3d3d3"/>
<path vector-effect="non-scaling-stroke" stroke="#9d77ec" d="M-31 -184h0m13-4h0m8-7h0m-31 13h0m8 26h0m8-11h0m-3 11h0m27 1h0m3 9h0m-224 93h0m-2 9h0m6 41h0m38 42h0m0 4h0m-17 66h0m423 9h0m4 5h0m-2 0h0m16 0h0m-17 11h0m3-1h0m0-3h0m-2 0h0m-2-1h0m7 0h0m-3-1h0m6 0h0m-417 3h0m344 32h0m-12 2h0m1 11h0m-5 0h0m-5 4h0m16-3h0m3-5h0m-1-3h0m-23 13h0m2 1h0m-4 1h0m-2 1h0m-10 3h0m-9-1h0m7-1h0m-4-4h0m-14 11h0m9 4h0"/>
<path vector-effect="non-scaling-stroke" stroke="#bba5e0" d="M-8 -224h0m-62 16h0m6 11h0m-9-11h0m-30 5h0m-11-2h0m-17 9h0m53 13h0m147 11h0m-111-1h0m11 2h0m-49 2h0m7-7h0m-37 1h0m159 14h0m113-2h0m6 3h0m-50 18h0m-17-5h0m-58-1h0m9 3h0m-72 2h0m-22 2h0m-44-11h0m-30 11h0m-18-11h0m4 14h0m56 10h0m5-11h0m43-1h0m8 1h0m45 11h0m4-11h0m15 6h0m126-1h0m24 16h0m-203-4h0m-11 9h0m-33-9h0m-79 9h0m-3-4h0m-3-3h0m7-5h0m26 25h0m67-4h0m15-1h0m81-7h0m95 12h0m-49 3h0m-182 11h0m-29 1h0m-15 12h0m56-8h0m42 0h0m20-2h0m67 8h0m2 1h0m12-1h0m70 9h0m-50-3h0m-136 5h0m-47-6h0m-27 8h0m-53 4h0m-1-4h0m3-8h0m-20 10h0m-32 15h0m165-10h0m18 10h0m-11-10h0m33-1h0m59 0h0m13 5h0m7-1h0m9-2h0m13-1h0m38-1h0m44 4h0m26 15h0m-33-3h0m-107 4h0m-2-1h0m-9 3h0m-4 1h0m-67 4h0m3-7h0m-22 4h0m-4-1h0m-20-2h0m-13 6h0m-30 0h0m4-10h0m-13 8h0m-36 1h0m-52-9h0m-20 18h0m12 0h0m-9 5h0m16 1h0m9-13h0m5 9h0m27-7h0m14 1h0m3-2h0m32 2h0m51 10h0m-1-6h0m21 4h0m88-1h0m25-4h0m111 16h0m-32-1h0m-89-2h0m-3-3h0m-153-2h0m9 12h0m-13-6h0m-4-1h0m-49 1h0m-22 6h0m-19-7h0m-5-3h0m-21 8h0m9-10h0m-16 13h0m1 11h0m5-9h0m6 5h0m-1 7h0m32-13h0m68 1h0m27 12h0m0-10h0m232-3h0m9 3h0m35 12h0m-84 5h0m-182-1h0m-56-5h0m-32 6h0m-11 5h0m-13-4h0m-16-1h0m-13 4h0m-9 3h0m50 10h0m2-2h0m12-1h0m3 6h0m373 4h0m-323 5h0m-69 1h0m-3-5h0m-27 0h0m-9 0h0m-12 0h0m3 4h0m50 20h0m10-5h0m16-7h0m-2 2h0m-8 6h0m18 2h0m60-4h0m142 14h0m-34-7h0m-191 5h0m-15 1h0m-36-3h0m4 20h0m40 4h0m21-11h0m24 4h0m205 6h0m24-7h0m4-2h0m-6 15h0m-186 4h0m-76 3h0m-10-10h0m3 5h0m-52 3h0m73 15h0m51-2h0m18 3h0m126 0h0m92-8h0m91 10h0m-1 2h0m-1 6h0m-382 2h0m-21 0h0m-3-6h0m-36-2h0m40 20h0m13-5h0m11 3h0m68 1h0m-3 0h0m9 1h0m47-7h0m-56 17h0m3 3h0m-30-6h0m0 12h0m-30-1h0m-6 10h0m35-7h0m144 12h0m107 2h0m-146 8h0m-14-2h0"/>
<path vector-effect="non-scaling-stroke" stroke="#7248f6" d="M246 99h0m-2 3h0m-10 20h0m14 0h0m2 0h0m-10-1h0m7-5h0m-1 0h0m-5-1h0m14 5h0m-9 7h0m-4 1h0m8 3h0m-9 8h0"/>
<path vector-effect="non-scaling-stroke" stroke="#ad8ee6" d="M-44 -203h0m-19 10h0m19 3h0m35 19h0m-22-5h0m-13 17h0m29-6h0m4 0h0m21 6h0m8 0h0m-38 14h0m2-6h0m15 23h0m18-10h0m65 22h0m-73-4h0m-55 8h0m252 26h0m-15-8h0m-269 9h0m-121 14h0m22-3h0m132 6h0m-19 1h0m-122-2h0m10 25h0m4-5h0m229-5h0m122-2h0m-339 36h0m16-5h0m228 1h0m94 4h0m-403 17h0m32 9h0m361-5h0m31 24h0m-259-2h0m-121 4h0m-11-8h0m377 9h0m-110 22h0m-280-1h0m-13-1h0m8-6h0m6 15h0m236 24h0m-94-5h0m-145-6h0m-18 3h0m14 11h0m-2 13h0m41 2h0m-12 20h0m409-3h0m2 17h0m2-1h0m-409 21h0m8-2h0m-6-5h0m21-4h0m382 6h0m-61 18h0m-244-9h0m-70 9h0m296 12h0m-3 5h0"/>
<path vector-effect="non-scaling-stroke" stroke="#c8bcda" d="M-91 -217h0m200 15h0m-209 5h0m146 13h0m61-4h0m9 3h0m-202 12h0m-7 3h0m-36 9h0m24 4h0m52-6h0m0 1h0m-2 6h0m125-9h0m60 22h0m-11-9h0m-47 7h0m-15 1h0m-15-7h0m-8 6h0m-85-1h0m3-8h0m-23 10h0m-15-2h0m-37-1h0m-14 15h0m51 1h0m39 3h0m69 0h0m25-3h0m14 3h0m118-4h0m19 15h0m-8-7h0m-31 6h0m-93 3h0m-55-8h0m-83 7h0m-46-4h0m0 10h0m20 11h0m33-8h0m48-4h0m-11 1h0m8 0h0m7 6h0m43-4h0m38 6h0m22-1h0m62-9h0m-4 7h0m36-3h0m29 6h0m-16 17h0m-14-10h0m-67 8h0m-39-3h0m-17-7h0m-10 4h0m1 5h0m-37 2h0m-30 1h0m-46-7h0m-34-5h0m-18 10h0m58 5h0m12 10h0m20-8h0m19-2h0m42-1h0m-7 9h0m69-9h0m53 12h0m14-8h0m-5-3h0m14 24h0m0-11h0m-140-1h0m-26 8h0m-22 4h0m-5-3h0m-63 2h0m-16-8h0m6 5h0m-11-3h0m-33-4h0m-80 2h0m-5 24h0m35-12h0m11 9h0m53 0h0m17-10h0m-5 12h0m20-9h0m-8-3h0m14 9h0m34-7h0m48 7h0m13 3h0m50 0h0m45-9h0m21 9h0m6-12h0m50 23h0m-11 3h0m-6-11h0m-6 10h0m-24-7h0m-49 9h0m-68-11h0m-47 4h0m-4 3h0m-39 1h0m-86-3h0m-35-5h0m-21 3h0m34 21h0m72-6h0m68 3h0m82-5h0m51-2h0m9 10h0m48-12h0m8 4h0m16-2h0m9 1h0m-9 16h0m-68-2h0m-38-3h0m-15 2h0m-17 4h0m-39 4h0m-105 0h0m-108 2h0m-6 0h0m0-1h0m-5-9h0m3 15h0m15 3h0m39 5h0m44-6h0m22-4h0m20-1h0m46 7h0m23 2h0m31-3h0m158 1h0m5 19h0m-113-4h0m-80 2h0m-64 0h0m-41-10h0m-50 11h0m-23-4h0m4-5h0m-26 1h0m-17 13h0m69-1h0m69 0h0m175 12h0m106-1h0m-7-9h0m-44 14h0m-53 0h0m-8 9h0m-160-12h0m-44 0h0m-106 13h0m9 5h0m42 3h0m1-2h0m35-1h0m55 7h0m249-10h0m47 19h0m-27 3h0m-67-8h0m-12 3h0m-55 1h0m-18 5h0m-177 15h0m15-7h0m7 3h0m17-2h0m2 3h0m16-5h0m145 9h0m44-12h0m22 6h0m82-2h0m14 7h0m-207 7h0m-221 17h0m13 2h0m42 4h0m25-12h0m2 6h0m4 6h0m39-12h0m164 5h0m117-3h0m9 3h0m-165 18h0m-70-9h0m-77 12h0m3-2h0m-37-6h0m-49 3h0m21 7h0m41 1h0m0 8h0m15-7h0m-3-1h0m12 7h0m-2 1h0m220-5h0m6 9h0m-200 3h0m-26 5h0m132 18h0"/>
<path vector-effect="non-scaling-stroke" stroke="#522dfb" d="M252 100h0m-1 2h0m-3 15h0m-5-3h0m13 1h0m1 4h0m3 1h0m-2 0h0m4 0h0m-6 1h0m1 1h0m4 1h0m-4 3h0"/>
<path vector-effect="non-scaling-stroke" stroke="#8a60f1" d="M-17 -165h0m8-3h0m-12 27h0m-184 215h0m283 11h0m145 39h0m9-9h0m4 5h0m0 2h0m6-2h0m8-1h0m-10 0h0m-2-1h0m4 0h0m-3 8h0m1 2h0m7 1h0m-4 1h0m-5 0h0m3 4h0m-5-2h0m-97 43h0m5 5h0m10-10h0m-32 14h0m-3-1h0m-13 5h0"/>
<path vector-effect="non-scaling-stroke" stroke="#8a60f1" d="M84 33h0m-1 58h0m160-1h0m4 11h0m-171-1h0m4 4h0m167 21h0m-7-8h0m-2 11h0m7 1h0m-5 1h0m-2 2h0m3 0h0m2 6h0m-13-1h0m7-3h0m-2-4h0m0-4h0m-1 15h0m-76 22h0m-17 10h0m20 1h0m-18 8h0m2 0h0m-33 11h0m2-2h0m-8 3h0"/>
<path vector-effect="non-scaling-stroke" stroke="#7248f6" d="M246 100h0m3 0h0m-12 24h0m11-5h0m-2-1h0m-1-4h0m2-1h0m10 4h0m-15 9h0"/>
<path vector-effect="non-scaling-stroke" stroke="#522dfb" d="M254 96h0m-5 6h0m6 12h0m6 4h0"/>
<path vector-effect="non-scaling-stroke" stroke="#ad8ee6" d="M-41 -199h0m-3 6h0m-10 10h0m19-1h0m6-1h0m15-9h0m172 17h0m-193-5h0m13 19h0m26-3h0m5 10h0m89-10h0m18 8h0m23 3h0m-173 21h0m30 3h0m-2-4h0m3 0h0m13 7h0m165 11h0m-29-4h0m-35-3h0m-157 1h0m172 40h0m-14 23h0m-298 8h0m154 3h0m-145 9h0m-16 0h0m-29 21h0m67 0h0m33 4h0m117 5h0m-181 9h0m-15-11h0m-11 9h0m-10-3h0m-8 17h0m14-3h0m46 4h0m5-9h0m179 13h0m-199 20h0m-48 33h0m44-12h0m296 12h0m-1-2h0m-288 4h0m6 8h0m-3 10h0m22 22h0m-18-10h0m-2 3h0m-28-6h0m8 13h0m-29-6h0m60 15h0m392 7h0m-3 2h0m0 6h0m-378 3h0m-6-2h0m-1-6h0m-9 1h0m-41-3h0m437 12h0m-69 27h0m-29 14h0m18-9h0m1 2h0m11-2h0m6 0h0m-34 10h0m-21 11h0"/>
<path vector-effect="non-scaling-stroke" stroke="#9d77ec" d="M-40 -196h0m39 13h0m-9 11h0m-24-4h0m0 18h0m41 1h0m-39 21h0m1-1h0m10 8h0m-205 173h0m458 77h0m-5 4h0m-2 13h0m11-2h0m-7-1h0m3-1h0m2-1h0m3-7h0m-10 15h0m-68 20h0m4 0h0m-32 19h0m12-8h0m5 6h0m8-2h0m-44 15h0m9-2h0m-26 6h0"/>
<path vector-effect="non-scaling-stroke" stroke="#c8bcda" d="M-89 -214h0m25-3h0m194 13h0m-184 6h0m-10-11h0m-76 24h0m79 2h0m140 0h0m57-10h0m30 13h0m-47 9h0m-30 2h0m3-11h0m-44 7h0m2 1h0m-18 1h0m-106 1h0m-35 2h0m-3 10h0m38-4h0m111 6h0m130-7h0m9 3h0m-2 13h0m-54-3h0m-45-3h0m-170 3h0m-2 2h0m-2 5h0m-27-7h0m-8 12h0m18 1h0m12 1h0m17-1h0m-6-3h0m176 4h0m64 3h0m5 3h0m-10 0h0m53 10h0m-58 4h0m-28-8h0m-18 2h0m-24-2h0m-81 6h0m-31-8h0m-43 3h0m-46 1h0m0 11h0m32 4h0m28 4h0m-3 0h0m35-7h0m67 2h0m-2-2h0m128 1h0m23 2h0m-65 21h0m-51-10h0m-7 5h0m-107 1h0m-22 4h0m-54 2h0m44 13h0m97-2h0m75-4h0m54 0h0m45 3h0m-16 6h0m-134 11h0m-57-4h0m-22-9h0m-56 3h0m-16 0h0m-24 8h0m-41 2h0m-23 9h0m49-8h0m63 5h0m13 4h0m56 0h0m47 3h0m142-6h0m-33 8h0m-45 8h0m-2-4h0m-186 9h0m2-1h0m-15-2h0m-93 9h0m107-1h0m-9 2h0m41 6h0m127-1h0m49-11h0m28 22h0m-33-6h0m-8 4h0m-51 7h0m-52-13h0m-97 0h0m-13 10h0m-14-5h0m-79 15h0m83-3h0m39 8h0m8-5h0m8 4h0m35-9h0m14 5h0m6 1h0m66 2h0m146 3h0m-10 2h0m4 0h0m-263 5h0m-97-1h0m-32 5h0m-25 6h0m45 9h0m51-5h0m-5 1h0m9 2h0m2 0h0m57-3h0m68 4h0m9 1h0m76 1h0m120 3h0m-204 4h0m-81 7h0m3-2h0m-34 1h0m-14-4h0m-4-6h0m-10 7h0m-37-6h0m-30 6h0m11 17h0m106-8h0m121 6h0m68-1h0m-127 15h0m-51-2h0m-12 3h0m-41-7h0m-49 11h0m-8-5h0m-37 15h0m22 3h0m4-11h0m13 0h0m5 10h0m240-11h0m14 4h0m28 6h0m94-1h0m15 10h0m-224-2h0m-104 1h0m-97 13h0m220-1h0m87 4h0m105 5h0m-405 8h0m56 9h0m41 0h0m26 8h0m59-2h0m244 5h0m-310 9h0m-28-6h0m-27 4h0m-19-2h0m147 15h0m51 18h0m-52 2h0m24 10h0"/>
<path vector-effect="non-scaling-stroke" stroke="#bba5e0" d="M-28 -218h0m10 6h0m28-8h0m-67 21h0m13 5h0m189 6h0m17 2h0m-2 16h0m-13 1h0m-99-10h0m-16 5h0m-33-7h0m-18 2h0m-100 2h0m26 22h0m2-7h0m35 5h0m83 1h0m47-11h0m80 5h0m-7 10h0m-66 9h0m-65-6h0m-24-1h0m-90-3h0m-18-1h0m-14 1h0m9 13h0m185 8h0m92 19h0m-8-12h0m-245 7h0m-25 4h0m-5-10h0m-14 24h0m111-9h0m94 5h0m114 14h0m3-6h0m-17 5h0m-123-2h0m-41 7h0m-57-8h0m-140 16h0m21 4h0m45-3h0m18-6h0m17 5h0m58-6h0m103 6h0m64-5h0m39 6h0m17-2h0m-102 21h0m-30 0h0m-39-5h0m-194-4h0m-40 14h0m33 6h0m14 4h0m51-13h0m97 2h0m148 0h0m-7 3h0m28 14h0m-2-5h0m-289 13h0m-80 2h0m15 2h0m6 3h0m3-6h0m50 11h0m-1-10h0m90 0h0m210 7h0m7 14h0m-42-7h0m-191 12h0m-4-5h0m-41-3h0m-5 0h0m-52 2h0m-7 2h0m2-3h0m3-5h0m-39 0h0m-5-1h0m2 27h0m-2-6h0m17 4h0m9-1h0m11-5h0m39 7h0m6-7h0m52-4h0m13 11h0m2 1h0m113-2h0m-42 13h0m-14-10h0m-60 12h0m-2-4h0m10-7h0m-85 10h0m-8-4h0m-12 2h0m-42-5h0m-2-3h0m-9 10h0m1 10h0m25-4h0m2-1h0m10-2h0m14 13h0m7-2h0m0-1h0m-2-2h0m8 2h0m76 2h0m3-7h0m-2 0h0m10 1h0m174 20h0m0-1h0m-123-6h0m-75-3h0m-37 7h0m-52-2h0m-12-4h0m-1 10h0m-2 0h0m-12-13h0m-15 16h0m60 24h0m-13 13h0m52-2h0m36-9h0m9 3h0m16 6h0m12-8h0m193 3h0m17 8h0m8-10h0m53-1h0m-58 18h0m-100-2h0m-140 10h0m-88-3h0m8 0h0m-16-2h0m-2-7h0m-29 26h0m7-6h0m94 2h0m116-9h0m77 2h0m53-1h0m20 8h0m11-4h0m-275 22h0m-47-3h0m-3-6h0m-9-3h0m-23 7h0m5-4h0m-19-2h0m0 9h0m-6-7h0m39 19h0m14-9h0m43 9h0m31-5h0m244 4h0m-1-5h0m-249 11h0m-6 11h0m-3-6h0m-43 8h0m155 28h0"/>
<path vector-effect="non-scaling-stroke" stroke="#522dfb" d="M254 100h0m-3-2h0m-2 1h0m0 3h0m0 23h0m-1-10h0m11-2h0m-2 2h0m2 1h0m-6 5h0m6 3h0"/>
<path vector-effect="non-scaling-stroke" stroke="#0000ff" d="M253 98h0m7 33h0"/>
<path vector-effect="non-scaling-stroke" stroke="#bba5e0" d="M2 -219h0m-11 22h0m-45-2h0m-19 2h0m-49 13h0m118-5h0m126 4h0m12-6h0m-143 10h0m-12 5h0m-46-2h0m-26-2h0m-32-2h0m-3 27h0m2-1h0m114-4h0m52-2h0m46 7h0m94-1h0m-1 11h0m-51-8h0m2 12h0m-36-9h0m-190 8h0m-8-10h0m-3-1h0m50 21h0m-11 0h0m32-3h0m202 19h0m-35-5h0m-11-1h0m-111 4h0m-8-4h0m-143-3h0m123 19h0m33-1h0m159 5h0m28-9h0m-8 24h0m-133-2h0m-13-4h0m-86-1h0m-25 4h0m2 5h0m-38-9h0m-24 18h0m18-4h0m89 0h0m-6 4h0m109-4h0m118 1h0m-107 20h0m-25-11h0m6 1h0m-96 12h0m-32-11h0m-29 2h0m-25 0h0m-15 6h0m-75 2h0m-16 4h0m27-1h0m-2 11h0m4-12h0m16 9h0m61-7h0m98 1h0m37 0h0m104 8h0m22 6h0m-55 10h0m-100-12h0m-82 1h0m-13 1h0m5 3h0m-18 1h0m-12 2h0m-20-8h0m-19 12h0m-59-1h0m4-9h0m-17 21h0m16 1h0m38 2h0m3-10h0m20 6h0m85 2h0m7-11h0m4 10h0m141-10h0m42 10h0m55 6h0m8 4h0m-36 5h0m-13-9h0m-10 11h0m-73-10h0m-98 0h0m-4 5h0m-1-8h0m-111 8h0m-2-1h0m-24-7h0m-1 10h0m-22-4h0m1 2h0m-21 7h0m23 4h0m13-5h0m18 8h0m163 5h0m120-12h0m16 1h0m49 25h0m-227-8h0m-96 6h0m-25-7h0m2 4h0m-9 5h0m-27-5h0m-22 4h0m1 14h0m-6-1h0m4-9h0m26 3h0m10-5h0m18 6h0m309 6h0m73-10h0m-43 19h0m-94-7h0m-280 1h0m0 5h0m7 2h0m-21-3h0m20 17h0m10-7h0m23 12h0m25-10h0m2-1h0m19-2h0m235 1h0m73 8h0m-94 16h0m-152-4h0m-84 11h0m9 2h0m215 3h0m-6-1h0m68-2h0m0 5h0m54-4h0m1-2h0m4 7h0m-45 11h0m-58-3h0m-222 5h0m-16-6h0m-18 5h0m-55 6h0m2 1h0m32 10h0m6-5h0m17 1h0m-9 4h0m18-13h0m10 2h0m30 1h0m188-1h0m6 11h0m45 3h0m6 9h0m-104-9h0m-210 10h0m-15-1h0m-1-5h0m-3-4h0m-9 4h0m-5 3h0m35 11h0m45-1h0m28 4h0m-4 1h0m254-9h0m8 14h0m9 12h0m-16-11h0m-61 2h0m-253 0h0m16 17h0m160-6h0m89 14h0m-77 10h0m-47 12h0m16-6h0"/>
<path vector-effect="non-scaling-stroke" stroke="#9d77ec" d="M-42 -188h0m50 14h0m-45 19h0m14-12h0m35 9h0m-23 4h0m22 15h0m4 10h0m-166 114h0m-20 24h0m-64 64h0m467 46h0m-3 0h0m1 2h0m2 2h0m-6 0h0m4 2h0m9 10h0m-6 2h0m-7-1h0m2-9h0m5 0h0m-10 12h0m1 3h0m-60 23h0m-26 12h0m3-6h0m3 4h0m9 3h0m0 2h0m2 0h0m1-11h0m-2-1h0m-37 17h0m-11 5h0m2 1h0m-6 0h0m8 2h0m-2 2h0"/>
<path vector-effect="non-scaling-stroke" stroke="#c8bcda" d="M-3 -219h0m-9-2h0m13 4h0m-91 16h0m-32-2h0m10 13h0m51-3h0m230 21h0m-92-8h0m-17 5h0m-17-2h0m-99 4h0m-6-5h0m-8 8h0m-67-1h0m-1-1h0m-3-6h0m-1 18h0m8-2h0m4 5h0m5 0h0m10-1h0m10-3h0m13-5h0m130 4h0m17-3h0m16 8h0m6-10h0m21 4h0m47-4h0m-24 25h0m-212-9h0m-24-1h0m2 2h0m-25 14h0m165 1h0m2 0h0m9 4h0m-4 1h0m101-1h0m31 4h0m-12-5h0m16 18h0m-2-9h0m-119-3h0m-3 6h0m-20-4h0m-91-2h0m-10 0h0m-30 23h0m76-1h0m214 5h0m14 13h0m-80 1h0m-91-9h0m-23-3h0m-5-1h0m-42 5h0m10 3h0m-30 0h0m-59-5h0m83 22h0m69-5h0m53 3h0m97-2h0m-5 12h0m-28-5h0m-29 6h0m-24 7h0m-48-7h0m-2 2h0m-29-7h0m-102 1h0m-2 7h0m1 2h0m-100 13h0m-2 1h0m101-6h0m5 2h0m3 5h0m16-7h0m61 7h0m47-10h0m68-1h0m6 12h0m19 0h0m-1-7h0m32 11h0m-15-2h0m-104 2h0m-61 10h0m-29-2h0m-169-5h0m-1 18h0m24 2h0m80 1h0m133-8h0m23 3h0m69-3h0m63 16h0m-121 6h0m-41 0h0m-156-13h0m-56 16h0m24 8h0m132-10h0m207 2h0m27 18h0m-224-1h0m-59 0h0m-30-2h0m-16 5h0m-3-8h0m-17 11h0m-19-6h0m-30-1h0m2 6h0m18 11h0m10-2h0m43 0h0m16 0h0m30 1h0m262 2h0m25 7h0m-93 3h0m-15 7h0m-175-1h0m-27-10h0m4 0h0m-17 8h0m-92-7h0m-26 13h0m39 12h0m55-6h0m41-5h0m204 3h0m-6 16h0m-92-5h0m-26 9h0m-58-3h0m-34 2h0m-38-3h0m-31 21h0m61-12h0m9 2h0m315 2h0m-5 16h0m-119-3h0m-3 8h0m-180 1h0m-19-8h0m-98 13h0m37 5h0m23 0h0m50-7h0m149 3h0m48-5h0m71 0h0m49 1h0m-372 17h0m-6-1h0m1 2h0m-4 4h0m-27-8h0m10 21h0m73 5h0m2-8h0m21 1h0m191-2h0m-204 14h0m0-2h0m-7 3h0m-36-4h0m281 17h0m2 0h0m-142 16h0m-22 0h0"/>
<path vector-effect="non-scaling-stroke" stroke="#7248f6" d="M0 -161h0m251 257h0m0-3h0m2 1h0m-1 6h0m-5 2h0m2 17h0m-5-3h0m6 0h0m0-1h0m-4-1h0m10 10h0m-12 3h0m-5 11h0"/>
<path vector-effect="non-scaling-stroke" stroke="#ad8ee6" d="M12 -221h0m-25 24h0m-29 4h0m17 8h0m1 9h0m3-4h0m-18 6h0m8 1h0m-10 1h0m11 2h0m-14-11h0m-14 5h0m-43 5h0m87 10h0m11-4h0m20 20h0m1 4h0m-5 0h0m-7-11h0m-45 2h0m-55-1h0m19 15h0m37 1h0m4-4h0m13 6h0m5 4h0m4-7h0m3 0h0m29 0h0m12 25h0m-9 30h0m-68 17h0m-143-1h0m-30 4h0m7-5h0m-1 23h0m280-7h0m-210 9h0m-13 24h0m-26 7h0m3 6h0m-31 9h0m39 0h0m-27 14h0m14 41h0m236 7h0m-236 7h0m-48 23h0m11-8h0m45 5h0m29-8h0m46 22h0m-66-4h0m10-1h0m0-5h0m-47 1h0m-10 18h0m420 1h0m21 3h0m0 17h0m-4-7h0m-403 0h0m55 17h0m5-1h0m343-3h0m-65 15h0m2 4h0m-307-8h0m275 25h0m28-6h0m-10 8h0m-35 13h0m-12-4h0m-77 17h0"/>
<path vector-effect="non-scaling-stroke" stroke="#8a60f1" d="M-38 -200h0m35 51h0m11 19h0m130 179h0m-23 6h0m-27 25h0m3-9h0m141 46h0m2 1h0m1 6h0m9 1h0m-4-2h0m9-6h0m-6 18h0m-2 2h0m-9-6h0m-81 50h0m-41 7h0m-2 0h0m-6 9h0"/>
</g>
<defs><linearGradient id="gb" x1="0" y1="0" x2="0" y2="1"><stop offset="0" stop-color="#0000ff"/><stop offset="0.125" stop-color="#522dfb"/><stop offset="0.25" stop-color="#7248f6"/><stop offset="0.375" stop-color="#8a60f1"/><stop offset="0.5" stop-color="#9d77ec"/><stop offset="0.625" stop-color="#ad8ee6"/><stop offset="0.75" stop-color="#bba5e0"/><stop offset="0.875" stop-color="#c8bcda"/><stop offset="1" stop-color="#d3d3d3"/></linearGradient></defs>
<path d="M111.1 1600.7L111.1 2143.45" stroke="#000" stroke-width="2.9" fill="none"/>
<path d="M109.65 2142L665.5 2142" stroke="#000" stroke-width="2.9" fill="none"/>
<path d="M114.15 2142L114.15 2150" stroke="#000" stroke-width="2.4" fill="none"/>
<text x="114.15" y="2176.4" font-size="29.5" text-anchor="middle">-50</text>
<path d="M229.025 2142L229.025 2150" stroke="#000" stroke-width="2.4" fill="none"/>
<text x="229.025" y="2176.4" font-size="29.5" text-anchor="middle">-25</text>
<path d="M343.9 2142L343.9 2150" stroke="#000" stroke-width="2.4" fill="none"/>
<text x="343.9" y="2176.4" font-size="29.5" text-anchor="middle">0</text>
<path d="M458.775 2142L458.775 2150" stroke="#000" stroke-width="2.4" fill="none"/>
<text x="458.775" y="2176.4" font-size="29.5" text-anchor="middle">25</text>
<path d="M573.65 2142L573.65 2150" stroke="#000" stroke-width="2.4" fill="none"/>
<text x="573.65" y="2176.4" font-size="29.5" text-anchor="middle">50</text>
<path d="M103.5 1742.3L111.1 1742.3" stroke="#000" stroke-width="2.4" fill="none"/>
<text x="101" y="1752.5" font-size="29.5" text-anchor="end">25</text>
<path d="M103.5 1885.3L111.1 1885.3" stroke="#000" stroke-width="2.4" fill="none"/>
<text x="101" y="1895.5" font-size="29.5" text-anchor="end">0</text>
<path d="M103.5 2028.3L111.1 2028.3" stroke="#000" stroke-width="2.4" fill="none"/>
<text x="101" y="2038.5" font-size="29.5" text-anchor="end">-25</text>
<text x="351.5" y="1605.5" font-size="32.5" text-anchor="middle" font-style="italic">Pdgfra</text>
<rect x="619.3" y="1834.7" width="20.2" height="105" fill="url(#gb)"/>
<path d="M619.3 1842.6h4M639.5 1842.6h-4" stroke="#fff" stroke-width="0.9" fill="none"/>
<text x="656" y="1852.4" font-size="20">4</text>
<path d="M619.3 1867.4h4M639.5 1867.4h-4" stroke="#fff" stroke-width="0.9" fill="none"/>
<text x="656" y="1875.6" font-size="20">3</text>
<path d="M619.3 1891.9h4M639.5 1891.9h-4" stroke="#fff" stroke-width="0.9" fill="none"/>
<text x="656" y="1898.8" font-size="20">2</text>
<path d="M619.3 1916.5h4M639.5 1916.5h-4" stroke="#fff" stroke-width="0.9" fill="none"/>
<text x="656" y="1921.4" font-size="20">1</text>
<text x="656" y="1943.2" font-size="20">0</text>
<text x="339" y="2210.5" font-size="28.3" text-anchor="middle">tSNE_1</text>
<text x="70" y="1890" font-size="28.3" text-anchor="middle" transform="rotate(-90 70 1890)">tSNE_2</text>
<path d="M801.5 1600.7L801.5 2143.45" stroke="#000" stroke-width="2.9" fill="none"/>
<path d="M800.05 2142L1356 2142" stroke="#000" stroke-width="2.9" fill="none"/>
<path d="M804.05 2142L804.05 2150" stroke="#000" stroke-width="2.4" fill="none"/>
<text x="804.05" y="2176.4" font-size="29.5" text-anchor="middle">-50</text>
<path d="M918.925 2142L918.925 2150" stroke="#000" stroke-width="2.4" fill="none"/>
<text x="918.925" y="2176.4" font-size="29.5" text-anchor="middle">-25</text>
<path d="M1033.8 2142L1033.8 2150" stroke="#000" stroke-width="2.4" fill="none"/>
<text x="1033.8" y="2176.4" font-size="29.5" text-anchor="middle">0</text>
<path d="M1148.67 2142L1148.67 2150" stroke="#000" stroke-width="2.4" fill="none"/>
<text x="1148.67" y="2176.4" font-size="29.5" text-anchor="middle">25</text>
<path d="M1263.55 2142L1263.55 2150" stroke="#000" stroke-width="2.4" fill="none"/>
<text x="1263.55" y="2176.4" font-size="29.5" text-anchor="middle">50</text>
<path d="M793.9 1742.3L801.5 1742.3" stroke="#000" stroke-width="2.4" fill="none"/>
<text x="791.4" y="1752.5" font-size="29.5" text-anchor="end">25</text>
<path d="M793.9 1885.3L801.5 1885.3" stroke="#000" stroke-width="2.4" fill="none"/>
<text x="791.4" y="1895.5" font-size="29.5" text-anchor="end">0</text>
<path d="M793.9 2028.3L801.5 2028.3" stroke="#000" stroke-width="2.4" fill="none"/>
<text x="791.4" y="2038.5" font-size="29.5" text-anchor="end">-25</text>
<text x="1038.7" y="1605.5" font-size="32.5" text-anchor="middle" font-style="italic">Plin1</text>
<rect x="1308.9" y="1834.7" width="20.2" height="105" fill="url(#gb)"/>
<path d="M1308.9 1860.6h4M1329.1 1860.6h-4" stroke="#fff" stroke-width="0.9" fill="none"/>
<text x="1346" y="1865.6" font-size="20">3</text>
<path d="M1308.9 1886.1h4M1329.1 1886.1h-4" stroke="#fff" stroke-width="0.9" fill="none"/>
<text x="1346" y="1891.4" font-size="20">2</text>
<path d="M1308.9 1913.5h4M1329.1 1913.5h-4" stroke="#fff" stroke-width="0.9" fill="none"/>
<text x="1346" y="1919.6" font-size="20">1</text>
<text x="1346" y="1944.3" font-size="20">0</text>
<text x="1030" y="2210.5" font-size="28.3" text-anchor="middle">tSNE_1</text>
<text x="760.5" y="1890" font-size="28.3" text-anchor="middle" transform="rotate(-90 760.5 1890)">tSNE_2</text>
<path d="M1479.9 1600.7L1479.9 2143.45" stroke="#000" stroke-width="2.9" fill="none"/>
<path d="M1478.45 2142L2035 2142" stroke="#000" stroke-width="2.9" fill="none"/>
<path d="M1482.65 2142L1482.65 2150" stroke="#000" stroke-width="2.4" fill="none"/>
<text x="1482.65" y="2176.4" font-size="29.5" text-anchor="middle">-50</text>
<path d="M1597.53 2142L1597.53 2150" stroke="#000" stroke-width="2.4" fill="none"/>
<text x="1597.53" y="2176.4" font-size="29.5" text-anchor="middle">-25</text>
<path d="M1712.4 2142L1712.4 2150" stroke="#000" stroke-width="2.4" fill="none"/>
<text x="1712.4" y="2176.4" font-size="29.5" text-anchor="middle">0</text>
<path d="M1827.28 2142L1827.28 2150" stroke="#000" stroke-width="2.4" fill="none"/>
<text x="1827.28" y="2176.4" font-size="29.5" text-anchor="middle">25</text>
<path d="M1942.15 2142L1942.15 2150" stroke="#000" stroke-width="2.4" fill="none"/>
<text x="1942.15" y="2176.4" font-size="29.5" text-anchor="middle">50</text>
<path d="M1472.3 1742.3L1479.9 1742.3" stroke="#000" stroke-width="2.4" fill="none"/>
<text x="1469.8" y="1752.5" font-size="29.5" text-anchor="end">25</text>
<path d="M1472.3 1885.3L1479.9 1885.3" stroke="#000" stroke-width="2.4" fill="none"/>
<text x="1469.8" y="1895.5" font-size="29.5" text-anchor="end">0</text>
<path d="M1472.3 2028.3L1479.9 2028.3" stroke="#000" stroke-width="2.4" fill="none"/>
<text x="1469.8" y="2038.5" font-size="29.5" text-anchor="end">-25</text>
<text x="1718.8" y="1605.5" font-size="32.5" text-anchor="middle" font-style="italic">Ucp1</text>
<rect x="1987.5" y="1834.7" width="20.2" height="105" fill="url(#gb)"/>
<path d="M1987.5 1853.5h4M2007.7 1853.5h-4" stroke="#fff" stroke-width="0.9" fill="none"/>
<text transform="translate(2022.2 1856.13) scale(1 0.74)" font-size="20">5</text>
<path d="M1987.5 1871.3h4M2007.7 1871.3h-4" stroke="#fff" stroke-width="0.9" fill="none"/>
<text transform="translate(2022.2 1874.13) scale(1 0.74)" font-size="20">4</text>
<path d="M1987.5 1887.4h4M2007.7 1887.4h-4" stroke="#fff" stroke-width="0.9" fill="none"/>
<text transform="translate(2022.2 1891.93) scale(1 0.74)" font-size="20">3</text>
<path d="M1987.5 1905.8h4M2007.7 1905.8h-4" stroke="#fff" stroke-width="0.9" fill="none"/>
<text transform="translate(2022.2 1910.53) scale(1 0.74)" font-size="20">2</text>
<path d="M1987.5 1923.2h4M2007.7 1923.2h-4" stroke="#fff" stroke-width="0.9" fill="none"/>
<text transform="translate(2022.2 1927.93) scale(1 0.74)" font-size="20">1</text>
<text transform="translate(2022.2 1945.43) scale(1 0.74)" font-size="20">0</text>
<text x="1708" y="2210.5" font-size="28.3" text-anchor="middle">tSNE_1</text>
<text x="1438.5" y="1890" font-size="28.3" text-anchor="middle" transform="rotate(-90 1438.5 1890)">tSNE_2</text>
</svg></body></html>
